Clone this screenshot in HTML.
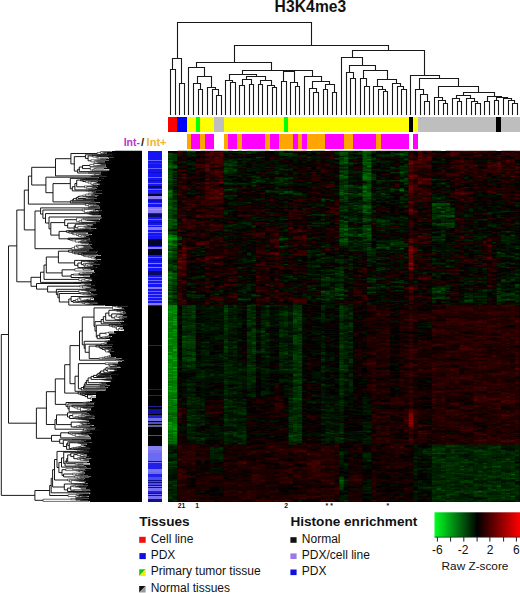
<!DOCTYPE html><html><head><meta charset="utf-8"><style>html,body{margin:0;padding:0;background:#fff;width:520px;height:593px;overflow:hidden}svg{display:block}text{font-family:"Liberation Sans",sans-serif}</style></head><body>
<svg width="520" height="593" viewBox="0 0 520 593">
<rect width="520" height="593" fill="#fff"/>
<text x="310.5" y="11.9" font-size="15.6" font-weight="bold" text-anchor="middle" letter-spacing="0.1" fill="#111">H3K4me3</text>
<path d="M170.5 114.5L170.5 69.5M175.5 114.5L175.5 69.5M170.5 69.5L175.5 69.5M179.5 114.5L179.5 83.5M184.5 114.5L184.5 83.5M179.5 83.5L184.5 83.5M172.5 69.5L172.5 58.5M181.5 83.5L181.5 58.5M172.5 58.5L181.5 58.5M198.5 114.5L198.5 89.5M202.5 114.5L202.5 89.5M198.5 89.5L202.5 89.5M193.5 114.5L193.5 83.5M200.5 89.5L200.5 83.5M193.5 83.5L200.5 83.5M216.5 114.5L216.5 95.5M221.5 114.5L221.5 95.5M216.5 95.5L221.5 95.5M212.5 114.5L212.5 89.5M218.5 95.5L218.5 89.5M212.5 89.5L218.5 89.5M207.5 114.5L207.5 87.5M215.5 89.5L215.5 87.5M207.5 87.5L215.5 87.5M197.5 83.5L197.5 76.5M211.5 87.5L211.5 76.5M197.5 76.5L211.5 76.5M188.5 114.5L188.5 67.5M204.5 76.5L204.5 67.5M188.5 67.5L204.5 67.5M230.5 114.5L230.5 82.5M235.5 114.5L235.5 82.5M230.5 82.5L235.5 82.5M225.5 114.5L225.5 80.5M232.5 82.5L232.5 80.5M225.5 80.5L232.5 80.5M239.5 114.5L239.5 85.5M244.5 114.5L244.5 85.5M239.5 85.5L244.5 85.5M249.5 114.5L249.5 84.5M253.5 114.5L253.5 84.5M249.5 84.5L253.5 84.5M242.5 85.5L242.5 79.5M251.5 84.5L251.5 79.5M242.5 79.5L251.5 79.5M258.5 114.5L258.5 84.5M262.5 114.5L262.5 84.5M258.5 84.5L262.5 84.5M272.5 114.5L272.5 87.5M276.5 114.5L276.5 87.5M272.5 87.5L276.5 87.5M267.5 114.5L267.5 85.5M274.5 87.5L274.5 85.5M267.5 85.5L274.5 85.5M260.5 84.5L260.5 80.5M271.5 85.5L271.5 80.5M260.5 80.5L271.5 80.5M246.5 79.5L246.5 76.5M265.5 80.5L265.5 76.5M246.5 76.5L265.5 76.5M229.5 80.5L229.5 74.5M256.5 76.5L256.5 74.5M229.5 74.5L256.5 74.5M281.5 114.5L281.5 81.5M286.5 114.5L286.5 81.5M281.5 81.5L286.5 81.5M295.5 114.5L295.5 86.5M299.5 114.5L299.5 86.5M295.5 86.5L299.5 86.5M290.5 114.5L290.5 82.5M297.5 86.5L297.5 82.5M290.5 82.5L297.5 82.5M283.5 81.5L283.5 71.5M294.5 82.5L294.5 71.5M283.5 71.5L294.5 71.5M313.5 114.5L313.5 92.5M318.5 114.5L318.5 92.5M313.5 92.5L318.5 92.5M309.5 114.5L309.5 88.5M316.5 92.5L316.5 88.5M309.5 88.5L316.5 88.5M323.5 114.5L323.5 89.5M327.5 114.5L327.5 89.5M323.5 89.5L327.5 89.5M332.5 114.5L332.5 92.5M336.5 114.5L336.5 92.5M332.5 92.5L336.5 92.5M325.5 89.5L325.5 84.5M334.5 92.5L334.5 84.5M325.5 84.5L334.5 84.5M312.5 88.5L312.5 81.5M329.5 84.5L329.5 81.5M312.5 81.5L329.5 81.5M304.5 114.5L304.5 76.5M321.5 81.5L321.5 76.5M304.5 76.5L321.5 76.5M288.5 71.5L288.5 70.5M312.5 76.5L312.5 70.5M288.5 70.5L312.5 70.5M242.5 74.5L242.5 70.5M300.5 70.5L300.5 70.5M242.5 70.5L300.5 70.5M196.5 67.5L196.5 62.5M271.5 70.5L271.5 62.5M196.5 62.5L271.5 62.5M350.5 114.5L350.5 78.5M355.5 114.5L355.5 78.5M350.5 78.5L355.5 78.5M346.5 114.5L346.5 72.5M353.5 78.5L353.5 72.5M346.5 72.5L353.5 72.5M364.5 114.5L364.5 86.5M369.5 114.5L369.5 86.5M364.5 86.5L369.5 86.5M360.5 114.5L360.5 78.5M366.5 86.5L366.5 78.5M360.5 78.5L366.5 78.5M383.5 114.5L383.5 91.5M387.5 114.5L387.5 91.5M383.5 91.5L387.5 91.5M378.5 114.5L378.5 89.5M385.5 91.5L385.5 89.5M378.5 89.5L385.5 89.5M373.5 114.5L373.5 86.5M382.5 89.5L382.5 86.5M373.5 86.5L382.5 86.5M401.5 114.5L401.5 89.5M406.5 114.5L406.5 89.5M401.5 89.5L406.5 89.5M397.5 114.5L397.5 86.5M403.5 89.5L403.5 86.5M397.5 86.5L403.5 86.5M392.5 114.5L392.5 83.5M400.5 86.5L400.5 83.5M392.5 83.5L400.5 83.5M377.5 86.5L377.5 79.5M396.5 83.5L396.5 79.5M377.5 79.5L396.5 79.5M363.5 78.5L363.5 70.5M387.5 79.5L387.5 70.5M363.5 70.5L387.5 70.5M349.5 72.5L349.5 65.5M375.5 70.5L375.5 65.5M349.5 65.5L375.5 65.5M341.5 114.5L341.5 57.5M362.5 65.5L362.5 57.5M341.5 57.5L362.5 57.5M424.5 114.5L424.5 101.5M429.5 114.5L429.5 101.5M424.5 101.5L429.5 101.5M420.5 114.5L420.5 94.5M427.5 101.5L427.5 94.5M420.5 94.5L427.5 94.5M415.5 114.5L415.5 89.5M423.5 94.5L423.5 89.5M415.5 89.5L423.5 89.5M443.5 114.5L443.5 103.5M447.5 114.5L447.5 103.5M443.5 103.5L447.5 103.5M438.5 114.5L438.5 100.5M445.5 103.5L445.5 100.5M438.5 100.5L445.5 100.5M434.5 114.5L434.5 97.5M442.5 100.5L442.5 97.5M434.5 97.5L442.5 97.5M457.5 114.5L457.5 101.5M461.5 114.5L461.5 101.5M457.5 101.5L461.5 101.5M452.5 114.5L452.5 98.5M459.5 101.5L459.5 98.5M452.5 98.5L459.5 98.5M475.5 114.5L475.5 103.5M480.5 114.5L480.5 103.5M475.5 103.5L480.5 103.5M471.5 114.5L471.5 101.5M477.5 103.5L477.5 101.5M471.5 101.5L477.5 101.5M466.5 114.5L466.5 98.5M474.5 101.5L474.5 98.5M466.5 98.5L474.5 98.5M456.5 98.5L456.5 95.5M470.5 98.5L470.5 95.5M456.5 95.5L470.5 95.5M484.5 114.5L484.5 101.5M489.5 114.5L489.5 101.5M484.5 101.5L489.5 101.5M494.5 114.5L494.5 100.5M498.5 114.5L498.5 100.5M494.5 100.5L498.5 100.5M512.5 114.5L512.5 103.5M517.5 114.5L517.5 103.5M512.5 103.5L517.5 103.5M508.5 114.5L508.5 100.5M514.5 103.5L514.5 100.5M508.5 100.5L514.5 100.5M503.5 114.5L503.5 98.5M511.5 100.5L511.5 98.5M503.5 98.5L511.5 98.5M496.5 100.5L496.5 97.5M507.5 98.5L507.5 97.5M496.5 97.5L507.5 97.5M487.5 101.5L487.5 96.5M501.5 97.5L501.5 96.5M487.5 96.5L501.5 96.5M463.5 95.5L463.5 92.5M494.5 96.5L494.5 92.5M463.5 92.5L494.5 92.5M438.5 97.5L438.5 86.5M478.5 92.5L478.5 86.5M438.5 86.5L478.5 86.5M419.5 89.5L419.5 78.5M458.5 86.5L458.5 78.5M419.5 78.5L458.5 78.5M410.5 114.5L410.5 75.5M439.5 78.5L439.5 75.5M410.5 75.5L439.5 75.5M352.5 57.5L352.5 50.5M424.5 75.5L424.5 50.5M352.5 50.5L424.5 50.5M234.5 62.5L234.5 45.5M388.5 50.5L388.5 45.5M234.5 45.5L388.5 45.5M177.5 58.5L177.5 22.5M311.5 45.5L311.5 22.5M177.5 22.5L311.5 22.5" stroke="#181818" stroke-width="1.1" fill="none" stroke-linecap="square"/>
<g shape-rendering="crispEdges"><rect x="168.10" y="116.9" width="9.25" height="15.0" fill="#ff0000"/><rect x="177.35" y="116.9" width="9.25" height="15.0" fill="#0000ff"/><rect x="186.60" y="116.9" width="9.25" height="15.0" fill="#ffff00"/><rect x="195.85" y="116.9" width="4.62" height="15.0" fill="#00ff00"/><rect x="200.47" y="116.9" width="13.88" height="15.0" fill="#ffff00"/><rect x="214.35" y="116.9" width="9.25" height="15.0" fill="#bebebe"/><rect x="223.60" y="116.9" width="60.13" height="15.0" fill="#ffff00"/><rect x="283.73" y="116.9" width="4.62" height="15.0" fill="#00ff00"/><rect x="288.35" y="116.9" width="120.25" height="15.0" fill="#ffff00"/><rect x="408.60" y="116.9" width="4.62" height="15.0" fill="#000000"/><rect x="413.23" y="116.9" width="4.62" height="15.0" fill="#ffff00"/><rect x="417.85" y="116.9" width="78.62" height="15.0" fill="#bebebe"/><rect x="496.48" y="116.9" width="4.62" height="15.0" fill="#000000"/><rect x="501.10" y="116.9" width="18.90" height="15.0" fill="#bebebe"/><rect x="186.60" y="133.6" width="4.62" height="15.3" fill="#ffa500"/><rect x="191.22" y="133.6" width="9.25" height="15.3" fill="#ff00ff"/><rect x="200.47" y="133.6" width="4.62" height="15.3" fill="#ffa500"/><rect x="205.10" y="133.6" width="9.25" height="15.3" fill="#ff00ff"/><rect x="223.60" y="133.6" width="4.62" height="15.3" fill="#ffa500"/><rect x="228.22" y="133.6" width="9.25" height="15.3" fill="#ff00ff"/><rect x="237.47" y="133.6" width="4.62" height="15.3" fill="#ffa500"/><rect x="242.10" y="133.6" width="23.13" height="15.3" fill="#ff00ff"/><rect x="265.23" y="133.6" width="4.62" height="15.3" fill="#ffa500"/><rect x="269.85" y="133.6" width="9.25" height="15.3" fill="#ff00ff"/><rect x="279.10" y="133.6" width="13.88" height="15.3" fill="#ffa500"/><rect x="292.98" y="133.6" width="4.62" height="15.3" fill="#ff00ff"/><rect x="297.60" y="133.6" width="4.62" height="15.3" fill="#ffa500"/><rect x="302.23" y="133.6" width="4.62" height="15.3" fill="#ff00ff"/><rect x="306.85" y="133.6" width="18.50" height="15.3" fill="#ffa500"/><rect x="325.35" y="133.6" width="18.50" height="15.3" fill="#ff00ff"/><rect x="343.85" y="133.6" width="9.25" height="15.3" fill="#ffa500"/><rect x="353.10" y="133.6" width="23.12" height="15.3" fill="#ff00ff"/><rect x="376.23" y="133.6" width="4.62" height="15.3" fill="#ffa500"/><rect x="380.85" y="133.6" width="27.75" height="15.3" fill="#ff00ff"/><rect x="413.23" y="133.6" width="4.62" height="15.3" fill="#ff00ff"/></g>
<g font-size="11.5" font-weight="bold"><text x="123.7" y="145.9" fill="#b834c8" textLength="16.2" lengthAdjust="spacingAndGlyphs">Int-</text><text x="141.0" y="145.9" fill="#262626">/</text><text x="146.6" y="145.9" fill="#eeb43a" textLength="19.9" lengthAdjust="spacingAndGlyphs">Int+</text></g>
<g><g shape-rendering="crispEdges"><rect x="104.0" y="152.37" width="5.9" height="0.40" fill="#808080"/><rect x="104.9" y="153.97" width="9.0" height="0.40" fill="#808080"/><rect x="103.4" y="154.50" width="10.9" height="0.40" fill="#969696"/><rect x="92.3" y="155.36" width="16.8" height="0.40" fill="#808080"/><rect x="96.7" y="156.29" width="10.4" height="0.40" fill="#808080"/><rect x="108.2" y="156.65" width="6.0" height="0.91" fill="#6a6a6a"/><rect x="98.9" y="160.59" width="10.1" height="0.60" fill="#969696"/><rect x="97.6" y="161.49" width="7.3" height="1.10" fill="#969696"/><rect x="103.2" y="163.61" width="7.6" height="0.40" fill="#808080"/><rect x="100.6" y="163.78" width="5.4" height="0.84" fill="#6a6a6a"/><rect x="97.0" y="164.92" width="8.7" height="1.04" fill="#969696"/><rect x="94.9" y="166.98" width="14.7" height="0.40" fill="#acacac"/><rect x="96.2" y="167.50" width="10.7" height="0.84" fill="#6a6a6a"/><rect x="99.9" y="168.64" width="4.1" height="0.60" fill="#6a6a6a"/><rect x="94.4" y="170.99" width="14.0" height="0.40" fill="#6a6a6a"/><rect x="100.7" y="171.16" width="6.1" height="0.87" fill="#808080"/><rect x="88.1" y="172.34" width="12.4" height="1.28" fill="#acacac"/><rect x="97.7" y="173.92" width="9.6" height="0.40" fill="#808080"/><rect x="94.7" y="175.95" width="11.3" height="0.40" fill="#6a6a6a"/><rect x="98.7" y="176.04" width="3.6" height="0.40" fill="#808080"/><rect x="90.6" y="176.14" width="15.9" height="0.40" fill="#6a6a6a"/><rect x="84.6" y="177.95" width="19.1" height="0.97" fill="#6a6a6a"/><rect x="96.6" y="180.45" width="3.9" height="0.59" fill="#6a6a6a"/><rect x="98.7" y="183.37" width="5.0" height="0.40" fill="#6a6a6a"/><rect x="100.2" y="183.60" width="0.1" height="0.79" fill="#969696"/><rect x="94.2" y="184.82" width="3.0" height="0.40" fill="#808080"/><rect x="93.2" y="185.29" width="3.6" height="0.40" fill="#808080"/><rect x="87.2" y="186.17" width="10.4" height="1.01" fill="#808080"/><rect x="93.1" y="187.49" width="2.7" height="0.40" fill="#969696"/><rect x="94.9" y="189.14" width="4.5" height="0.40" fill="#808080"/><rect x="89.0" y="190.46" width="13.1" height="0.40" fill="#808080"/><rect x="89.0" y="190.90" width="14.2" height="0.40" fill="#6a6a6a"/><rect x="92.4" y="191.26" width="3.2" height="0.40" fill="#acacac"/><rect x="95.3" y="191.58" width="4.9" height="0.57" fill="#969696"/><rect x="94.2" y="192.45" width="2.2" height="0.42" fill="#6a6a6a"/><rect x="93.2" y="193.17" width="8.5" height="0.40" fill="#808080"/><rect x="91.9" y="193.74" width="3.3" height="0.83" fill="#6a6a6a"/><rect x="97.9" y="194.97" width="1.2" height="0.76" fill="#6a6a6a"/><rect x="94.7" y="196.03" width="2.9" height="0.40" fill="#6a6a6a"/><rect x="86.2" y="196.13" width="8.5" height="0.40" fill="#acacac"/><rect x="88.4" y="197.17" width="5.6" height="0.53" fill="#acacac"/><rect x="92.0" y="198.01" width="8.8" height="0.40" fill="#969696"/><rect x="86.3" y="199.09" width="10.7" height="0.40" fill="#969696"/><rect x="83.4" y="199.47" width="10.8" height="0.76" fill="#6a6a6a"/><rect x="90.2" y="200.53" width="4.1" height="0.40" fill="#6a6a6a"/><rect x="91.2" y="200.66" width="3.3" height="0.40" fill="#6a6a6a"/><rect x="91.2" y="201.18" width="7.7" height="0.40" fill="#acacac"/><rect x="88.0" y="201.62" width="7.5" height="0.62" fill="#6a6a6a"/><rect x="91.6" y="202.54" width="8.2" height="0.40" fill="#808080"/><rect x="84.8" y="203.51" width="11.4" height="0.40" fill="#6a6a6a"/><rect x="86.1" y="203.79" width="8.6" height="0.40" fill="#808080"/><rect x="96.4" y="204.32" width="3.0" height="0.40" fill="#acacac"/><rect x="90.6" y="206.01" width="9.4" height="0.78" fill="#969696"/><rect x="88.0" y="207.15" width="11.8" height="1.40" fill="#acacac"/><rect x="98.4" y="209.96" width="3.4" height="1.31" fill="#808080"/><rect x="98.4" y="211.57" width="0.1" height="0.40" fill="#6a6a6a"/><rect x="92.0" y="212.09" width="10.8" height="0.40" fill="#969696"/><rect x="90.7" y="212.21" width="6.2" height="0.40" fill="#6a6a6a"/><rect x="87.3" y="212.74" width="9.6" height="0.41" fill="#acacac"/><rect x="95.5" y="213.54" width="6.3" height="0.40" fill="#6a6a6a"/><rect x="89.7" y="213.79" width="11.7" height="0.40" fill="#6a6a6a"/><rect x="93.1" y="214.35" width="7.7" height="0.40" fill="#6a6a6a"/><rect x="92.8" y="214.51" width="5.5" height="0.40" fill="#acacac"/><rect x="90.3" y="217.80" width="11.9" height="0.40" fill="#808080"/><rect x="88.3" y="218.06" width="13.8" height="0.40" fill="#acacac"/><rect x="87.1" y="220.15" width="11.9" height="0.40" fill="#969696"/><rect x="90.4" y="220.27" width="10.8" height="0.40" fill="#6a6a6a"/><rect x="92.7" y="220.39" width="2.6" height="0.40" fill="#6a6a6a"/><rect x="93.8" y="220.64" width="3.0" height="0.40" fill="#808080"/><rect x="95.8" y="220.87" width="0.1" height="0.40" fill="#808080"/><rect x="95.8" y="221.13" width="4.4" height="0.88" fill="#808080"/><rect x="82.2" y="222.31" width="13.3" height="0.40" fill="#969696"/><rect x="81.9" y="222.88" width="14.2" height="0.59" fill="#acacac"/><rect x="85.8" y="223.77" width="10.8" height="0.40" fill="#808080"/><rect x="87.5" y="223.87" width="4.7" height="0.40" fill="#6a6a6a"/><rect x="92.8" y="225.25" width="0.6" height="0.54" fill="#acacac"/><rect x="89.3" y="226.09" width="3.6" height="0.40" fill="#acacac"/><rect x="87.4" y="226.17" width="6.8" height="0.40" fill="#969696"/><rect x="87.5" y="226.26" width="3.6" height="1.03" fill="#6a6a6a"/><rect x="85.5" y="227.59" width="5.3" height="0.40" fill="#808080"/><rect x="87.0" y="228.57" width="9.6" height="0.58" fill="#6a6a6a"/><rect x="84.3" y="229.44" width="6.7" height="0.40" fill="#969696"/><rect x="80.9" y="229.72" width="6.9" height="0.40" fill="#6a6a6a"/><rect x="75.7" y="229.88" width="14.0" height="0.40" fill="#808080"/><rect x="73.9" y="230.31" width="19.1" height="0.71" fill="#6a6a6a"/><rect x="85.9" y="231.32" width="6.3" height="0.40" fill="#808080"/><rect x="72.4" y="231.85" width="15.5" height="0.47" fill="#6a6a6a"/><rect x="77.1" y="232.62" width="11.2" height="0.74" fill="#808080"/><rect x="77.0" y="233.66" width="9.0" height="0.58" fill="#969696"/><rect x="84.5" y="234.74" width="4.5" height="0.85" fill="#969696"/><rect x="84.5" y="237.38" width="4.6" height="0.42" fill="#6a6a6a"/><rect x="75.5" y="238.10" width="14.2" height="0.40" fill="#969696"/><rect x="72.8" y="239.09" width="16.5" height="0.40" fill="#808080"/><rect x="87.1" y="240.37" width="2.9" height="0.47" fill="#6a6a6a"/><rect x="87.1" y="241.14" width="4.1" height="0.49" fill="#808080"/><rect x="85.3" y="241.93" width="3.5" height="0.40" fill="#6a6a6a"/><rect x="81.6" y="242.09" width="12.5" height="0.40" fill="#969696"/><rect x="82.3" y="242.56" width="5.3" height="0.40" fill="#808080"/><rect x="85.7" y="242.99" width="7.6" height="0.40" fill="#969696"/><rect x="88.4" y="243.65" width="3.4" height="1.00" fill="#969696"/><rect x="82.5" y="244.95" width="4.9" height="0.40" fill="#6a6a6a"/><rect x="83.6" y="245.77" width="7.8" height="0.98" fill="#808080"/><rect x="83.6" y="247.05" width="8.5" height="1.14" fill="#808080"/><rect x="81.0" y="248.62" width="12.4" height="0.40" fill="#acacac"/><rect x="80.9" y="248.91" width="7.8" height="0.64" fill="#acacac"/><rect x="76.6" y="249.85" width="16.3" height="0.40" fill="#6a6a6a"/><rect x="86.5" y="250.64" width="11.4" height="0.96" fill="#6a6a6a"/><rect x="82.1" y="251.90" width="14.6" height="0.67" fill="#acacac"/><rect x="80.2" y="252.87" width="15.8" height="0.53" fill="#acacac"/><rect x="83.7" y="253.92" width="14.0" height="0.64" fill="#acacac"/><rect x="88.7" y="255.95" width="5.6" height="0.40" fill="#6a6a6a"/><rect x="91.7" y="256.54" width="4.2" height="0.40" fill="#6a6a6a"/><rect x="94.7" y="256.94" width="0.4" height="1.00" fill="#808080"/><rect x="95.8" y="258.24" width="0.1" height="0.40" fill="#808080"/><rect x="97.0" y="258.38" width="0.1" height="0.89" fill="#808080"/><rect x="97.0" y="259.57" width="3.9" height="0.45" fill="#969696"/><rect x="89.4" y="260.79" width="5.7" height="0.40" fill="#969696"/><rect x="87.8" y="261.29" width="10.5" height="0.40" fill="#969696"/><rect x="90.2" y="261.47" width="9.7" height="0.40" fill="#acacac"/><rect x="97.4" y="261.68" width="4.3" height="0.40" fill="#969696"/><rect x="92.2" y="263.33" width="7.4" height="0.40" fill="#acacac"/><rect x="97.5" y="263.60" width="3.5" height="0.40" fill="#acacac"/><rect x="90.5" y="264.17" width="9.8" height="0.81" fill="#969696"/><rect x="87.7" y="267.02" width="8.7" height="0.40" fill="#808080"/><rect x="79.1" y="267.55" width="17.4" height="0.40" fill="#acacac"/><rect x="89.5" y="268.02" width="7.2" height="0.40" fill="#6a6a6a"/><rect x="90.1" y="268.26" width="6.1" height="0.40" fill="#969696"/><rect x="91.1" y="268.75" width="0.1" height="0.40" fill="#969696"/><rect x="91.1" y="268.99" width="0.1" height="0.68" fill="#969696"/><rect x="84.8" y="269.96" width="7.2" height="0.40" fill="#969696"/><rect x="85.7" y="272.03" width="9.1" height="0.66" fill="#acacac"/><rect x="80.3" y="274.15" width="15.7" height="0.40" fill="#808080"/><rect x="79.0" y="274.45" width="10.8" height="0.40" fill="#969696"/><rect x="91.6" y="274.96" width="6.4" height="0.40" fill="#acacac"/><rect x="72.3" y="277.02" width="18.7" height="0.90" fill="#808080"/><rect x="86.4" y="278.37" width="5.8" height="0.40" fill="#969696"/><rect x="92.1" y="279.05" width="0.1" height="1.96" fill="#6a6a6a"/><rect x="89.4" y="281.31" width="6.3" height="0.40" fill="#6a6a6a"/><rect x="87.4" y="281.49" width="8.1" height="0.40" fill="#969696"/><rect x="84.7" y="281.61" width="6.2" height="0.40" fill="#808080"/><rect x="74.4" y="282.04" width="14.7" height="0.81" fill="#969696"/><rect x="84.6" y="283.55" width="6.2" height="0.40" fill="#acacac"/><rect x="91.2" y="285.47" width="3.8" height="0.40" fill="#969696"/><rect x="87.2" y="285.88" width="4.8" height="0.40" fill="#6a6a6a"/><rect x="89.5" y="286.36" width="4.2" height="0.40" fill="#808080"/><rect x="90.6" y="286.60" width="1.5" height="0.40" fill="#969696"/><rect x="90.6" y="286.83" width="0.2" height="0.90" fill="#acacac"/><rect x="83.0" y="288.03" width="12.8" height="0.40" fill="#6a6a6a"/><rect x="86.0" y="288.11" width="8.3" height="1.00" fill="#6a6a6a"/><rect x="83.2" y="289.71" width="6.7" height="0.40" fill="#969696"/><rect x="92.9" y="289.83" width="4.2" height="0.40" fill="#808080"/><rect x="85.2" y="290.10" width="4.3" height="0.40" fill="#acacac"/><rect x="89.0" y="291.55" width="5.3" height="0.40" fill="#6a6a6a"/><rect x="87.5" y="293.28" width="5.0" height="0.56" fill="#6a6a6a"/><rect x="86.9" y="294.14" width="10.0" height="0.96" fill="#969696"/><rect x="91.0" y="295.40" width="4.3" height="0.51" fill="#6a6a6a"/><rect x="88.3" y="296.38" width="9.7" height="0.40" fill="#acacac"/><rect x="86.5" y="296.56" width="3.7" height="0.40" fill="#808080"/><rect x="83.8" y="296.73" width="12.2" height="0.40" fill="#6a6a6a"/><rect x="93.0" y="297.78" width="0.7" height="0.40" fill="#969696"/><rect x="86.7" y="300.30" width="7.6" height="0.40" fill="#969696"/><rect x="87.0" y="301.42" width="10.1" height="0.40" fill="#6a6a6a"/><rect x="75.9" y="301.56" width="14.5" height="0.40" fill="#808080"/><rect x="87.8" y="302.11" width="9.6" height="0.40" fill="#808080"/><rect x="91.6" y="302.32" width="6.7" height="0.63" fill="#808080"/><rect x="90.0" y="303.25" width="8.5" height="0.68" fill="#acacac"/><rect x="115.8" y="305.65" width="12.3" height="0.40" fill="#969696"/><rect x="118.0" y="306.34" width="10.2" height="0.40" fill="#6a6a6a"/><rect x="123.8" y="307.32" width="0.1" height="1.44" fill="#969696"/><rect x="123.8" y="309.06" width="0.1" height="0.40" fill="#969696"/><rect x="113.5" y="309.12" width="11.8" height="0.56" fill="#6a6a6a"/><rect x="115.1" y="309.98" width="11.0" height="0.40" fill="#808080"/><rect x="116.6" y="310.13" width="10.3" height="0.40" fill="#6a6a6a"/><rect x="118.1" y="310.51" width="3.7" height="0.40" fill="#6a6a6a"/><rect x="123.4" y="311.46" width="1.5" height="0.40" fill="#969696"/><rect x="123.4" y="311.94" width="2.3" height="1.66" fill="#6a6a6a"/><rect x="117.8" y="313.91" width="4.8" height="0.40" fill="#6a6a6a"/><rect x="120.4" y="314.26" width="3.5" height="0.40" fill="#6a6a6a"/><rect x="119.3" y="316.62" width="8.6" height="0.40" fill="#6a6a6a"/><rect x="122.6" y="316.82" width="4.9" height="0.40" fill="#6a6a6a"/><rect x="122.6" y="317.01" width="5.2" height="1.12" fill="#969696"/><rect x="115.3" y="319.43" width="7.0" height="0.44" fill="#969696"/><rect x="117.1" y="320.17" width="10.5" height="0.40" fill="#6a6a6a"/><rect x="119.6" y="320.26" width="4.3" height="0.40" fill="#acacac"/><rect x="122.7" y="320.38" width="0.7" height="0.41" fill="#acacac"/><rect x="115.1" y="322.04" width="4.8" height="0.56" fill="#acacac"/><rect x="121.7" y="324.22" width="4.2" height="0.40" fill="#969696"/><rect x="117.4" y="324.86" width="6.0" height="0.53" fill="#808080"/><rect x="117.0" y="325.99" width="2.9" height="0.78" fill="#6a6a6a"/><rect x="122.0" y="328.73" width="2.3" height="0.40" fill="#6a6a6a"/><rect x="109.0" y="331.63" width="4.6" height="0.73" fill="#6a6a6a"/><rect x="109.0" y="332.66" width="7.1" height="1.06" fill="#acacac"/><rect x="105.9" y="334.02" width="0.9" height="0.40" fill="#acacac"/><rect x="109.2" y="336.55" width="2.3" height="0.40" fill="#6a6a6a"/><rect x="108.1" y="336.83" width="0.1" height="0.40" fill="#969696"/><rect x="109.7" y="339.55" width="0.1" height="1.15" fill="#808080"/><rect x="108.5" y="341.25" width="5.7" height="0.40" fill="#acacac"/><rect x="103.9" y="341.63" width="3.7" height="0.40" fill="#acacac"/><rect x="106.7" y="341.73" width="0.4" height="1.09" fill="#6a6a6a"/><rect x="104.5" y="344.15" width="8.2" height="0.40" fill="#6a6a6a"/><rect x="101.8" y="344.75" width="12.4" height="0.40" fill="#6a6a6a"/><rect x="96.4" y="345.30" width="12.4" height="0.40" fill="#acacac"/><rect x="105.1" y="348.35" width="7.9" height="0.40" fill="#808080"/><rect x="107.4" y="348.78" width="5.8" height="0.40" fill="#6a6a6a"/><rect x="109.1" y="349.38" width="2.1" height="1.77" fill="#6a6a6a"/><rect x="108.4" y="351.44" width="5.6" height="0.40" fill="#969696"/><rect x="110.0" y="354.05" width="0.9" height="2.43" fill="#acacac"/><rect x="110.0" y="356.79" width="2.3" height="0.40" fill="#808080"/><rect x="105.0" y="357.81" width="9.4" height="0.40" fill="#808080"/><rect x="119.1" y="360.01" width="2.5" height="0.40" fill="#969696"/><rect x="121.9" y="360.66" width="0.1" height="0.97" fill="#acacac"/><rect x="115.5" y="363.68" width="4.8" height="0.40" fill="#969696"/><rect x="112.7" y="364.18" width="2.3" height="0.40" fill="#acacac"/><rect x="113.9" y="364.33" width="6.7" height="0.40" fill="#acacac"/><rect x="117.0" y="364.57" width="5.0" height="0.40" fill="#6a6a6a"/><rect x="116.6" y="366.01" width="0.1" height="0.40" fill="#6a6a6a"/><rect x="110.5" y="366.11" width="10.1" height="0.40" fill="#969696"/><rect x="110.5" y="366.32" width="9.3" height="0.43" fill="#969696"/><rect x="107.8" y="368.35" width="9.5" height="0.40" fill="#acacac"/><rect x="111.8" y="368.84" width="5.2" height="0.40" fill="#acacac"/><rect x="114.2" y="369.19" width="5.3" height="0.40" fill="#969696"/><rect x="115.2" y="369.79" width="1.7" height="1.38" fill="#6a6a6a"/><rect x="109.5" y="371.46" width="4.7" height="0.40" fill="#969696"/><rect x="109.5" y="372.13" width="2.2" height="0.45" fill="#6a6a6a"/><rect x="111.7" y="372.88" width="4.4" height="0.40" fill="#6a6a6a"/><rect x="102.1" y="374.29" width="16.6" height="0.40" fill="#808080"/><rect x="105.3" y="374.79" width="5.4" height="1.14" fill="#969696"/><rect x="105.0" y="377.02" width="7.8" height="0.40" fill="#808080"/><rect x="106.5" y="377.61" width="5.5" height="1.36" fill="#acacac"/><rect x="99.0" y="379.28" width="14.3" height="0.40" fill="#acacac"/><rect x="105.7" y="379.62" width="4.9" height="0.40" fill="#808080"/><rect x="104.8" y="379.71" width="9.4" height="0.40" fill="#acacac"/><rect x="110.8" y="380.33" width="3.4" height="0.40" fill="#acacac"/><rect x="110.8" y="380.46" width="0.1" height="1.61" fill="#808080"/><rect x="100.0" y="382.37" width="5.9" height="0.40" fill="#969696"/><rect x="102.1" y="382.96" width="3.9" height="1.11" fill="#acacac"/><rect x="99.9" y="384.37" width="6.6" height="0.40" fill="#808080"/><rect x="99.9" y="384.42" width="9.8" height="1.15" fill="#969696"/><rect x="99.1" y="385.87" width="8.2" height="0.40" fill="#6a6a6a"/><rect x="100.9" y="386.73" width="5.6" height="0.40" fill="#969696"/><rect x="101.2" y="388.50" width="5.2" height="0.40" fill="#acacac"/><rect x="85.1" y="390.71" width="13.0" height="1.14" fill="#808080"/><rect x="86.0" y="392.15" width="12.9" height="0.40" fill="#808080"/><rect x="81.0" y="392.51" width="14.8" height="1.27" fill="#969696"/><rect x="82.8" y="394.08" width="13.3" height="0.40" fill="#808080"/><rect x="85.5" y="394.35" width="8.7" height="0.40" fill="#6a6a6a"/><rect x="88.0" y="394.61" width="4.7" height="0.64" fill="#acacac"/><rect x="88.8" y="402.40" width="7.1" height="0.40" fill="#969696"/><rect x="87.3" y="404.04" width="1.4" height="0.40" fill="#808080"/><rect x="87.3" y="404.27" width="7.2" height="0.40" fill="#808080"/><rect x="86.0" y="404.41" width="7.9" height="0.74" fill="#969696"/><rect x="86.0" y="405.45" width="6.4" height="0.40" fill="#6a6a6a"/><rect x="84.8" y="405.63" width="3.6" height="0.40" fill="#acacac"/><rect x="89.1" y="406.37" width="4.8" height="0.40" fill="#acacac"/><rect x="82.8" y="407.20" width="10.3" height="0.40" fill="#969696"/><rect x="83.8" y="407.95" width="7.4" height="0.71" fill="#acacac"/><rect x="91.1" y="409.23" width="0.1" height="1.07" fill="#6a6a6a"/><rect x="91.1" y="410.61" width="0.1" height="0.40" fill="#808080"/><rect x="87.6" y="410.91" width="3.6" height="0.40" fill="#808080"/><rect x="90.8" y="411.26" width="4.0" height="0.40" fill="#969696"/><rect x="82.8" y="411.36" width="12.7" height="0.40" fill="#808080"/><rect x="72.9" y="411.51" width="14.8" height="0.40" fill="#969696"/><rect x="80.4" y="413.84" width="15.3" height="0.40" fill="#acacac"/><rect x="86.1" y="414.02" width="5.8" height="0.40" fill="#6a6a6a"/><rect x="85.2" y="414.35" width="4.6" height="0.67" fill="#808080"/><rect x="91.2" y="415.32" width="3.8" height="0.40" fill="#6a6a6a"/><rect x="90.4" y="415.53" width="4.1" height="0.70" fill="#6a6a6a"/><rect x="89.0" y="416.54" width="5.9" height="0.40" fill="#6a6a6a"/><rect x="86.4" y="416.67" width="6.8" height="0.40" fill="#808080"/><rect x="81.8" y="416.85" width="10.3" height="0.40" fill="#969696"/><rect x="84.9" y="417.33" width="8.9" height="0.40" fill="#6a6a6a"/><rect x="82.1" y="417.84" width="7.5" height="0.40" fill="#6a6a6a"/><rect x="75.8" y="417.97" width="13.3" height="0.40" fill="#6a6a6a"/><rect x="76.8" y="418.58" width="17.8" height="0.40" fill="#6a6a6a"/><rect x="82.6" y="419.37" width="5.0" height="0.40" fill="#808080"/><rect x="87.3" y="419.78" width="2.6" height="0.40" fill="#6a6a6a"/><rect x="87.3" y="419.94" width="1.3" height="1.38" fill="#808080"/><rect x="84.3" y="422.51" width="3.1" height="0.40" fill="#acacac"/><rect x="89.1" y="422.66" width="1.7" height="0.40" fill="#6a6a6a"/><rect x="90.2" y="422.86" width="0.1" height="0.40" fill="#969696"/><rect x="83.1" y="424.54" width="4.3" height="0.40" fill="#acacac"/><rect x="83.1" y="424.70" width="11.0" height="0.72" fill="#808080"/><rect x="90.6" y="427.24" width="5.9" height="0.40" fill="#969696"/><rect x="87.0" y="427.82" width="8.5" height="0.40" fill="#969696"/><rect x="89.3" y="428.12" width="2.0" height="0.40" fill="#808080"/><rect x="89.3" y="428.44" width="5.7" height="1.03" fill="#969696"/><rect x="93.4" y="429.77" width="3.5" height="0.40" fill="#acacac"/><rect x="89.6" y="430.07" width="11.2" height="0.40" fill="#808080"/><rect x="85.1" y="430.15" width="13.2" height="0.40" fill="#969696"/><rect x="86.9" y="430.40" width="3.1" height="1.35" fill="#808080"/><rect x="86.9" y="432.05" width="3.2" height="0.40" fill="#6a6a6a"/><rect x="81.2" y="432.45" width="4.8" height="0.40" fill="#969696"/><rect x="84.1" y="432.83" width="5.4" height="0.40" fill="#acacac"/><rect x="80.6" y="433.50" width="12.1" height="0.40" fill="#808080"/><rect x="78.8" y="433.74" width="8.1" height="0.40" fill="#808080"/><rect x="82.0" y="433.93" width="10.5" height="0.40" fill="#6a6a6a"/><rect x="83.2" y="434.08" width="6.8" height="0.40" fill="#acacac"/><rect x="84.9" y="436.56" width="5.1" height="0.58" fill="#969696"/><rect x="71.5" y="438.74" width="19.3" height="0.87" fill="#808080"/><rect x="79.4" y="439.91" width="5.6" height="0.40" fill="#969696"/><rect x="82.9" y="440.15" width="7.5" height="0.40" fill="#acacac"/><rect x="81.8" y="440.31" width="3.7" height="0.96" fill="#808080"/><rect x="70.2" y="441.57" width="13.8" height="0.45" fill="#969696"/><rect x="78.3" y="442.83" width="11.4" height="0.40" fill="#969696"/><rect x="88.0" y="443.14" width="3.9" height="0.40" fill="#acacac"/><rect x="81.1" y="443.43" width="5.4" height="1.14" fill="#969696"/><rect x="83.5" y="444.87" width="0.8" height="0.67" fill="#969696"/><rect x="86.0" y="445.99" width="0.1" height="1.05" fill="#acacac"/><rect x="81.4" y="447.35" width="7.6" height="0.40" fill="#6a6a6a"/><rect x="79.2" y="447.52" width="11.3" height="0.40" fill="#808080"/><rect x="76.5" y="447.90" width="8.8" height="0.40" fill="#6a6a6a"/><rect x="77.8" y="448.18" width="11.9" height="0.48" fill="#969696"/><rect x="71.9" y="448.96" width="18.6" height="0.40" fill="#969696"/><rect x="74.2" y="449.31" width="15.1" height="0.40" fill="#6a6a6a"/><rect x="84.8" y="449.65" width="4.6" height="0.63" fill="#808080"/><rect x="81.2" y="450.77" width="9.4" height="0.51" fill="#969696"/><rect x="81.1" y="451.58" width="7.9" height="0.40" fill="#808080"/><rect x="85.8" y="451.76" width="6.1" height="0.40" fill="#969696"/><rect x="74.7" y="451.89" width="14.7" height="0.71" fill="#808080"/><rect x="77.7" y="453.58" width="6.4" height="0.40" fill="#6a6a6a"/><rect x="84.5" y="454.18" width="2.7" height="0.40" fill="#acacac"/><rect x="87.3" y="456.29" width="3.8" height="0.40" fill="#808080"/><rect x="81.2" y="456.51" width="7.3" height="0.40" fill="#acacac"/><rect x="83.3" y="457.93" width="0.7" height="0.40" fill="#acacac"/><rect x="79.4" y="458.61" width="12.5" height="0.40" fill="#808080"/><rect x="83.6" y="458.78" width="2.1" height="0.40" fill="#acacac"/><rect x="86.3" y="459.00" width="0.1" height="0.40" fill="#969696"/><rect x="78.2" y="463.58" width="11.5" height="0.80" fill="#acacac"/><rect x="78.4" y="466.63" width="7.2" height="0.40" fill="#808080"/><rect x="82.7" y="467.64" width="4.0" height="0.40" fill="#808080"/><rect x="80.4" y="467.70" width="11.0" height="1.14" fill="#acacac"/><rect x="78.8" y="470.50" width="11.7" height="0.40" fill="#969696"/><rect x="80.1" y="470.82" width="2.9" height="0.40" fill="#6a6a6a"/><rect x="82.9" y="470.98" width="1.1" height="1.20" fill="#acacac"/><rect x="79.0" y="473.95" width="5.7" height="0.40" fill="#969696"/><rect x="84.5" y="474.16" width="6.0" height="0.40" fill="#969696"/><rect x="81.4" y="474.35" width="2.1" height="0.89" fill="#969696"/><rect x="82.6" y="475.54" width="5.3" height="0.40" fill="#969696"/><rect x="84.7" y="476.69" width="5.4" height="0.60" fill="#808080"/><rect x="81.5" y="477.75" width="3.6" height="0.61" fill="#808080"/><rect x="84.8" y="481.65" width="0.1" height="1.36" fill="#acacac"/><rect x="80.9" y="484.59" width="2.1" height="0.49" fill="#969696"/><rect x="82.6" y="485.38" width="5.4" height="0.57" fill="#808080"/><rect x="77.4" y="486.59" width="9.3" height="0.40" fill="#acacac"/><rect x="76.1" y="486.67" width="8.5" height="0.40" fill="#969696"/><rect x="81.4" y="487.35" width="4.8" height="1.29" fill="#969696"/><rect x="81.3" y="488.93" width="8.9" height="1.24" fill="#acacac"/><rect x="81.9" y="490.47" width="8.6" height="0.70" fill="#969696"/><rect x="68.1" y="491.47" width="17.5" height="0.40" fill="#6a6a6a"/><rect x="73.2" y="492.07" width="17.8" height="1.39" fill="#acacac"/><rect x="85.1" y="493.76" width="4.0" height="0.40" fill="#969696"/><rect x="79.8" y="494.03" width="2.8" height="0.97" fill="#6a6a6a"/><rect x="79.8" y="495.30" width="10.9" height="0.40" fill="#acacac"/><rect x="78.5" y="495.41" width="10.9" height="0.40" fill="#6a6a6a"/><rect x="81.8" y="497.32" width="1.8" height="0.40" fill="#969696"/><rect x="76.2" y="497.43" width="10.5" height="0.40" fill="#969696"/><rect x="75.8" y="497.65" width="13.0" height="1.16" fill="#808080"/><rect x="75.8" y="499.11" width="7.2" height="0.40" fill="#6a6a6a"/><rect x="80.4" y="499.66" width="7.7" height="1.39" fill="#6a6a6a"/></g><polygon points="141.8,150.8 115.0,150.8 113.0,160.0 110.0,168.0 105.0,180.0 101.0,200.0 103.0,215.0 93.0,235.0 94.0,250.0 101.0,252.0 101.0,264.0 97.0,268.0 97.0,300.0 98.0,305.0 128.0,305.6 126.0,330.0 114.0,334.0 114.0,356.0 128.0,360.0 122.0,364.0 116.0,380.0 104.0,392.0 96.0,396.0 94.0,426.0 100.0,430.0 92.0,433.0 90.0,501.6 141.8,501.6" fill="#000"/><g shape-rendering="crispEdges" fill="#000"><rect x="111.7" y="150.80" width="30.1" height="1.42"/><rect x="109.9" y="152.22" width="31.9" height="0.50"/><rect x="106.7" y="152.44" width="35.1" height="1.38"/><rect x="113.9" y="153.82" width="27.9" height="0.50"/><rect x="114.6" y="153.93" width="27.2" height="0.50"/><rect x="114.2" y="154.35" width="27.6" height="0.50"/><rect x="111.8" y="154.48" width="30.0" height="0.73"/><rect x="109.0" y="155.21" width="32.8" height="0.50"/><rect x="114.2" y="155.44" width="27.6" height="0.70"/><rect x="107.1" y="156.14" width="34.7" height="0.50"/><rect x="108.2" y="156.39" width="33.6" height="0.50"/><rect x="114.2" y="156.50" width="27.6" height="1.21"/><rect x="108.5" y="157.71" width="33.3" height="1.58"/><rect x="112.7" y="159.29" width="29.1" height="0.50"/><rect x="105.8" y="159.45" width="36.0" height="0.65"/><rect x="111.1" y="160.09" width="30.7" height="0.50"/><rect x="109.0" y="160.44" width="32.8" height="0.90"/><rect x="104.9" y="161.34" width="36.9" height="1.40"/><rect x="112.5" y="162.74" width="29.3" height="0.50"/><rect x="106.1" y="163.20" width="35.7" height="0.50"/><rect x="109.7" y="163.35" width="32.1" height="0.50"/><rect x="110.7" y="163.46" width="31.1" height="0.50"/><rect x="106.0" y="163.63" width="35.8" height="1.14"/><rect x="105.7" y="164.77" width="36.1" height="1.34"/><rect x="105.8" y="166.11" width="36.0" height="0.73"/><rect x="109.6" y="166.83" width="32.2" height="0.51"/><rect x="106.9" y="167.35" width="34.9" height="1.14"/><rect x="104.0" y="168.49" width="37.8" height="0.90"/><rect x="109.9" y="169.39" width="31.9" height="1.45"/><rect x="108.4" y="170.84" width="33.4" height="0.50"/><rect x="106.9" y="171.01" width="34.9" height="1.17"/><rect x="100.5" y="172.19" width="41.3" height="1.58"/><rect x="107.3" y="173.77" width="34.5" height="0.50"/><rect x="100.9" y="173.93" width="40.9" height="0.92"/><rect x="100.9" y="174.84" width="40.9" height="0.53"/><rect x="101.5" y="175.37" width="40.3" height="0.50"/><rect x="102.2" y="175.47" width="39.6" height="0.50"/><rect x="106.0" y="175.80" width="35.8" height="0.50"/><rect x="102.3" y="175.89" width="39.5" height="0.50"/><rect x="106.6" y="175.99" width="35.2" height="0.55"/><rect x="98.8" y="176.54" width="43.0" height="1.26"/><rect x="103.7" y="177.80" width="38.1" height="1.27"/><rect x="97.8" y="179.07" width="44.0" height="0.69"/><rect x="99.1" y="179.76" width="42.7" height="0.54"/><rect x="100.5" y="180.30" width="41.3" height="0.89"/><rect x="97.5" y="181.19" width="44.3" height="0.50"/><rect x="100.0" y="181.51" width="41.8" height="0.50"/><rect x="97.2" y="181.90" width="44.6" height="1.26"/><rect x="101.4" y="183.16" width="40.4" height="0.50"/><rect x="103.6" y="183.22" width="38.2" height="0.50"/><rect x="100.3" y="183.45" width="41.5" height="1.09"/><rect x="104.6" y="184.54" width="37.2" height="0.50"/><rect x="97.1" y="184.67" width="44.7" height="0.50"/><rect x="96.8" y="185.14" width="45.0" height="0.63"/><rect x="96.3" y="185.77" width="45.5" height="0.50"/><rect x="97.5" y="186.02" width="44.3" height="1.31"/><rect x="95.9" y="187.34" width="45.9" height="0.50"/><rect x="97.2" y="187.43" width="44.6" height="1.57"/><rect x="99.4" y="188.99" width="42.4" height="0.50"/><rect x="96.1" y="189.10" width="45.7" height="0.50"/><rect x="95.2" y="189.41" width="46.6" height="0.90"/><rect x="102.1" y="190.31" width="39.7" height="0.50"/><rect x="103.2" y="190.75" width="38.6" height="0.50"/><rect x="95.6" y="191.11" width="46.2" height="0.50"/><rect x="100.1" y="191.43" width="41.7" height="0.87"/><rect x="96.4" y="192.30" width="45.4" height="0.72"/><rect x="101.7" y="193.02" width="40.1" height="0.57"/><rect x="95.2" y="193.59" width="46.6" height="1.13"/><rect x="98.5" y="194.72" width="43.3" height="0.50"/><rect x="99.1" y="194.82" width="42.7" height="1.06"/><rect x="97.6" y="195.88" width="44.2" height="0.50"/><rect x="94.6" y="195.98" width="47.2" height="0.50"/><rect x="96.9" y="196.21" width="44.9" height="0.64"/><rect x="94.9" y="196.85" width="46.9" height="0.50"/><rect x="94.0" y="197.02" width="47.8" height="0.83"/><rect x="100.8" y="197.86" width="41.0" height="0.50"/><rect x="97.1" y="197.97" width="44.7" height="0.98"/><rect x="97.0" y="198.94" width="44.8" height="0.50"/><rect x="94.1" y="199.32" width="47.7" height="1.06"/><rect x="94.3" y="200.38" width="47.5" height="0.50"/><rect x="94.5" y="200.51" width="47.3" height="0.52"/><rect x="99.0" y="201.03" width="42.8" height="0.50"/><rect x="95.4" y="201.47" width="46.4" height="0.92"/><rect x="99.8" y="202.39" width="42.0" height="0.56"/><rect x="101.4" y="202.95" width="40.4" height="0.50"/><rect x="96.2" y="203.36" width="45.6" height="0.50"/><rect x="94.8" y="203.64" width="47.0" height="0.50"/><rect x="97.0" y="204.03" width="44.8" height="0.50"/><rect x="99.4" y="204.17" width="42.4" height="0.50"/><rect x="99.2" y="204.22" width="42.6" height="1.35"/><rect x="100.0" y="205.57" width="41.8" height="0.50"/><rect x="100.0" y="205.86" width="41.8" height="1.08"/><rect x="96.6" y="206.93" width="45.2" height="0.50"/><rect x="99.8" y="207.00" width="42.0" height="1.70"/><rect x="101.3" y="208.70" width="40.5" height="0.57"/><rect x="95.3" y="209.27" width="46.5" height="0.50"/><rect x="96.5" y="209.58" width="45.3" height="0.50"/><rect x="101.8" y="209.81" width="40.0" height="1.61"/><rect x="98.5" y="211.42" width="43.3" height="0.50"/><rect x="102.3" y="211.69" width="39.5" height="0.50"/><rect x="102.9" y="211.94" width="38.9" height="0.50"/><rect x="96.9" y="212.06" width="44.9" height="0.50"/><rect x="98.8" y="212.20" width="43.0" height="0.50"/><rect x="96.8" y="212.59" width="45.0" height="0.71"/><rect x="99.2" y="213.30" width="42.6" height="0.50"/><rect x="101.8" y="213.39" width="40.0" height="0.50"/><rect x="101.4" y="213.64" width="40.4" height="0.50"/><rect x="94.9" y="213.86" width="46.9" height="0.50"/><rect x="100.7" y="214.20" width="41.1" height="0.50"/><rect x="98.3" y="214.36" width="43.5" height="0.50"/><rect x="101.4" y="214.55" width="40.4" height="1.29"/><rect x="101.1" y="215.84" width="40.7" height="1.45"/><rect x="101.7" y="217.29" width="40.1" height="0.50"/><rect x="102.3" y="217.65" width="39.5" height="0.50"/><rect x="102.1" y="217.91" width="39.7" height="0.68"/><rect x="99.5" y="218.60" width="42.3" height="1.41"/><rect x="99.0" y="220.00" width="42.8" height="0.50"/><rect x="101.2" y="220.12" width="40.6" height="0.50"/><rect x="95.2" y="220.24" width="46.6" height="0.50"/><rect x="96.8" y="220.49" width="45.0" height="0.50"/><rect x="95.9" y="220.72" width="45.9" height="0.50"/><rect x="100.2" y="220.98" width="41.6" height="1.18"/><rect x="95.5" y="222.16" width="46.3" height="0.50"/><rect x="95.3" y="222.52" width="46.5" height="0.50"/><rect x="96.0" y="222.73" width="45.8" height="0.89"/><rect x="96.6" y="223.62" width="45.2" height="0.50"/><rect x="92.2" y="223.72" width="49.6" height="0.50"/><rect x="92.9" y="223.97" width="48.9" height="1.13"/><rect x="93.4" y="225.10" width="48.4" height="0.84"/><rect x="92.9" y="225.94" width="48.9" height="0.50"/><rect x="94.2" y="226.02" width="47.6" height="0.50"/><rect x="91.1" y="226.11" width="50.7" height="1.33"/><rect x="90.8" y="227.44" width="51.0" height="0.50"/><rect x="95.1" y="227.76" width="46.7" height="0.66"/><rect x="96.7" y="228.42" width="45.1" height="0.88"/><rect x="91.0" y="229.29" width="50.8" height="0.50"/><rect x="87.8" y="229.57" width="54.0" height="0.50"/><rect x="89.7" y="229.73" width="52.1" height="0.50"/><rect x="92.9" y="230.16" width="48.9" height="1.01"/><rect x="92.2" y="231.17" width="49.6" height="0.52"/><rect x="87.9" y="231.70" width="53.9" height="0.77"/><rect x="88.3" y="232.47" width="53.5" height="1.04"/><rect x="85.9" y="233.51" width="55.9" height="0.88"/><rect x="91.6" y="234.39" width="50.2" height="0.50"/><rect x="89.0" y="234.59" width="52.8" height="1.15"/><rect x="85.8" y="235.74" width="56.0" height="0.79"/><rect x="92.4" y="236.53" width="49.4" height="0.70"/><rect x="89.1" y="237.23" width="52.7" height="0.72"/><rect x="89.7" y="237.95" width="52.1" height="0.60"/><rect x="87.9" y="238.55" width="53.9" height="0.50"/><rect x="89.2" y="238.94" width="52.6" height="0.50"/><rect x="90.1" y="239.44" width="51.7" height="0.50"/><rect x="94.0" y="239.87" width="47.8" height="0.50"/><rect x="90.1" y="240.22" width="51.7" height="0.77"/><rect x="91.2" y="240.99" width="50.6" height="0.79"/><rect x="88.8" y="241.78" width="53.0" height="0.50"/><rect x="94.1" y="241.94" width="47.7" height="0.50"/><rect x="89.4" y="242.04" width="52.4" height="0.50"/><rect x="87.6" y="242.41" width="54.2" height="0.50"/><rect x="93.3" y="242.84" width="48.5" height="0.50"/><rect x="88.5" y="243.19" width="53.3" height="0.50"/><rect x="91.7" y="243.50" width="50.1" height="1.30"/><rect x="87.4" y="244.80" width="54.4" height="0.57"/><rect x="90.2" y="245.37" width="51.6" height="0.50"/><rect x="89.7" y="245.54" width="52.1" height="0.50"/><rect x="91.3" y="245.62" width="50.5" height="1.28"/><rect x="92.1" y="246.90" width="49.7" height="1.44"/><rect x="93.9" y="248.33" width="47.9" height="0.50"/><rect x="93.4" y="248.47" width="48.4" height="0.50"/><rect x="88.8" y="248.76" width="53.0" height="0.94"/><rect x="93.0" y="249.70" width="48.8" height="0.50"/><rect x="88.8" y="250.00" width="53.0" height="0.50"/><rect x="98.0" y="250.49" width="43.8" height="1.26"/><rect x="96.7" y="251.75" width="45.1" height="0.97"/><rect x="95.9" y="252.72" width="45.9" height="0.83"/><rect x="96.0" y="253.55" width="45.8" height="0.50"/><rect x="97.6" y="253.77" width="44.2" height="0.94"/><rect x="100.9" y="254.71" width="40.9" height="1.09"/><rect x="94.3" y="255.80" width="47.5" height="0.58"/><rect x="95.9" y="256.39" width="45.9" height="0.50"/><rect x="95.1" y="256.79" width="46.7" height="1.30"/><rect x="95.9" y="258.09" width="45.9" height="0.50"/><rect x="97.1" y="258.23" width="44.7" height="1.19"/><rect x="100.9" y="259.42" width="40.9" height="0.75"/><rect x="97.4" y="260.17" width="44.4" height="0.50"/><rect x="95.1" y="260.64" width="46.7" height="0.50"/><rect x="98.2" y="261.14" width="43.6" height="0.50"/><rect x="99.9" y="261.32" width="41.9" height="0.50"/><rect x="101.7" y="261.53" width="40.1" height="0.50"/><rect x="94.2" y="261.85" width="47.6" height="1.33"/><rect x="99.6" y="263.18" width="42.2" height="0.50"/><rect x="96.3" y="263.26" width="45.5" height="0.50"/><rect x="100.9" y="263.45" width="40.9" height="0.58"/><rect x="100.3" y="264.02" width="41.5" height="1.11"/><rect x="93.4" y="265.14" width="48.4" height="0.50"/><rect x="93.2" y="265.30" width="48.6" height="1.41"/><rect x="99.0" y="266.71" width="42.8" height="0.50"/><rect x="94.1" y="266.81" width="47.7" height="0.50"/><rect x="96.3" y="266.87" width="45.5" height="0.53"/><rect x="96.5" y="267.40" width="45.3" height="0.50"/><rect x="96.7" y="267.87" width="45.1" height="0.50"/><rect x="96.2" y="268.11" width="45.6" height="0.50"/><rect x="92.9" y="268.30" width="48.9" height="0.50"/><rect x="91.2" y="268.60" width="50.6" height="0.50"/><rect x="91.2" y="268.84" width="50.6" height="0.98"/><rect x="92.0" y="269.81" width="49.8" height="0.50"/><rect x="93.7" y="270.09" width="48.1" height="1.79"/><rect x="94.8" y="271.88" width="47.0" height="0.96"/><rect x="91.5" y="272.84" width="50.3" height="1.16"/><rect x="96.0" y="274.00" width="45.8" height="0.50"/><rect x="89.8" y="274.30" width="52.0" height="0.51"/><rect x="98.0" y="274.81" width="43.8" height="0.50"/><rect x="97.3" y="274.98" width="44.5" height="0.50"/><rect x="90.3" y="275.29" width="51.5" height="1.58"/><rect x="91.0" y="276.87" width="50.8" height="1.20"/><rect x="93.4" y="278.06" width="48.4" height="0.50"/><rect x="92.2" y="278.22" width="49.6" height="0.56"/><rect x="92.9" y="278.77" width="48.9" height="0.50"/><rect x="92.2" y="278.90" width="49.6" height="2.26"/><rect x="95.7" y="281.16" width="46.1" height="0.50"/><rect x="95.5" y="281.34" width="46.3" height="0.50"/><rect x="90.9" y="281.46" width="50.9" height="0.50"/><rect x="89.2" y="281.89" width="52.6" height="1.11"/><rect x="92.2" y="283.00" width="49.6" height="0.50"/><rect x="90.8" y="283.40" width="51.0" height="0.50"/><rect x="96.1" y="283.60" width="45.7" height="0.50"/><rect x="90.7" y="283.74" width="51.1" height="1.58"/><rect x="94.9" y="285.32" width="46.9" height="0.50"/><rect x="92.6" y="285.53" width="49.2" height="0.50"/><rect x="92.0" y="285.73" width="49.8" height="0.50"/><rect x="96.3" y="286.04" width="45.5" height="0.50"/><rect x="93.7" y="286.21" width="48.1" height="0.50"/><rect x="92.1" y="286.45" width="49.7" height="0.50"/><rect x="90.7" y="286.68" width="51.1" height="1.20"/><rect x="95.8" y="287.88" width="46.0" height="0.50"/><rect x="94.4" y="287.96" width="47.4" height="1.30"/><rect x="96.4" y="289.27" width="45.4" height="0.50"/><rect x="90.0" y="289.56" width="51.8" height="0.50"/><rect x="97.1" y="289.68" width="44.7" height="0.50"/><rect x="89.5" y="289.95" width="52.3" height="0.50"/><rect x="96.0" y="290.18" width="45.8" height="0.50"/><rect x="96.1" y="290.47" width="45.7" height="0.93"/><rect x="94.3" y="291.40" width="47.5" height="0.50"/><rect x="90.3" y="291.44" width="51.5" height="1.03"/><rect x="90.5" y="292.48" width="51.3" height="0.50"/><rect x="89.4" y="292.80" width="52.4" height="0.50"/><rect x="92.5" y="293.13" width="49.3" height="0.86"/><rect x="96.9" y="293.99" width="44.9" height="1.26"/><rect x="95.3" y="295.25" width="46.5" height="0.81"/><rect x="96.2" y="296.06" width="45.6" height="0.50"/><rect x="98.0" y="296.23" width="43.8" height="0.50"/><rect x="90.3" y="296.41" width="51.5" height="0.50"/><rect x="96.0" y="296.58" width="45.8" height="0.50"/><rect x="97.5" y="296.63" width="44.3" height="0.50"/><rect x="92.6" y="297.04" width="49.2" height="0.60"/><rect x="93.7" y="297.63" width="48.1" height="0.50"/><rect x="93.6" y="297.77" width="48.2" height="2.08"/><rect x="91.1" y="299.85" width="50.7" height="0.50"/><rect x="89.1" y="299.98" width="52.7" height="0.50"/><rect x="94.3" y="300.15" width="47.5" height="0.50"/><rect x="96.3" y="300.43" width="45.5" height="0.50"/><rect x="93.9" y="300.65" width="47.9" height="0.61"/><rect x="97.1" y="301.27" width="44.7" height="0.50"/><rect x="90.4" y="301.41" width="51.4" height="0.50"/><rect x="92.8" y="301.82" width="49.0" height="0.50"/><rect x="97.5" y="301.96" width="44.3" height="0.50"/><rect x="98.3" y="302.17" width="43.5" height="0.93"/><rect x="98.4" y="303.10" width="43.4" height="0.98"/><rect x="93.5" y="304.08" width="48.3" height="0.50"/><rect x="92.9" y="304.17" width="48.9" height="0.59"/><rect x="104.5" y="304.76" width="37.3" height="0.74"/><rect x="128.1" y="305.50" width="13.7" height="0.69"/><rect x="128.2" y="306.19" width="13.6" height="0.50"/><rect x="120.6" y="306.65" width="21.2" height="0.50"/><rect x="122.4" y="307.06" width="19.4" height="0.50"/><rect x="123.9" y="307.17" width="17.9" height="1.74"/><rect x="123.9" y="308.91" width="17.9" height="0.50"/><rect x="125.3" y="308.97" width="16.5" height="0.86"/><rect x="126.1" y="309.83" width="15.7" height="0.50"/><rect x="126.9" y="309.98" width="14.9" height="0.50"/><rect x="121.8" y="310.36" width="20.0" height="0.57"/><rect x="121.8" y="310.94" width="20.0" height="0.50"/><rect x="125.0" y="311.31" width="16.8" height="0.50"/><rect x="125.7" y="311.79" width="16.1" height="1.96"/><rect x="122.6" y="313.76" width="19.2" height="0.50"/><rect x="123.9" y="314.11" width="17.9" height="0.50"/><rect x="127.3" y="314.53" width="14.5" height="0.50"/><rect x="123.3" y="314.63" width="18.5" height="1.84"/><rect x="127.9" y="316.47" width="13.9" height="0.50"/><rect x="127.6" y="316.67" width="14.2" height="0.50"/><rect x="127.9" y="316.86" width="13.9" height="1.42"/><rect x="123.9" y="318.28" width="17.9" height="0.50"/><rect x="127.4" y="318.66" width="14.4" height="0.62"/><rect x="122.3" y="319.28" width="19.5" height="0.74"/><rect x="127.5" y="320.02" width="14.3" height="0.50"/><rect x="123.9" y="320.11" width="17.9" height="0.50"/><rect x="123.4" y="320.23" width="18.4" height="0.71"/><rect x="123.5" y="320.94" width="18.3" height="0.95"/><rect x="119.9" y="321.89" width="21.9" height="0.86"/><rect x="120.9" y="322.75" width="20.9" height="1.32"/><rect x="125.9" y="324.07" width="15.9" height="0.50"/><rect x="126.0" y="324.13" width="15.8" height="0.58"/><rect x="123.4" y="324.71" width="18.4" height="0.83"/><rect x="126.5" y="325.54" width="15.3" height="0.50"/><rect x="119.9" y="325.84" width="21.9" height="1.08"/><rect x="123.1" y="326.92" width="18.7" height="1.66"/><rect x="124.4" y="328.58" width="17.4" height="0.50"/><rect x="123.6" y="328.82" width="18.2" height="1.79"/><rect x="119.0" y="330.62" width="22.8" height="0.87"/><rect x="113.5" y="331.48" width="28.3" height="1.03"/><rect x="116.1" y="332.51" width="25.7" height="1.36"/><rect x="106.8" y="333.87" width="35.0" height="0.50"/><rect x="109.3" y="333.99" width="32.5" height="2.41"/><rect x="111.5" y="336.40" width="30.3" height="0.50"/><rect x="108.2" y="336.68" width="33.6" height="0.50"/><rect x="108.6" y="337.07" width="33.2" height="0.70"/><rect x="113.6" y="337.77" width="28.2" height="0.50"/><rect x="106.3" y="338.05" width="35.5" height="1.35"/><rect x="109.8" y="339.40" width="32.0" height="1.45"/><rect x="109.8" y="340.85" width="32.0" height="0.50"/><rect x="114.2" y="341.10" width="27.6" height="0.50"/><rect x="114.7" y="341.22" width="27.1" height="0.50"/><rect x="107.5" y="341.48" width="34.3" height="0.50"/><rect x="107.1" y="341.58" width="34.7" height="1.39"/><rect x="106.8" y="342.96" width="35.0" height="1.04"/><rect x="112.7" y="344.00" width="29.1" height="0.59"/><rect x="114.2" y="344.60" width="27.6" height="0.55"/><rect x="108.9" y="345.15" width="32.9" height="0.50"/><rect x="107.7" y="345.49" width="34.1" height="0.50"/><rect x="112.1" y="345.59" width="29.7" height="1.23"/><rect x="112.9" y="346.81" width="28.9" height="0.64"/><rect x="108.2" y="347.45" width="33.6" height="0.74"/><rect x="113.0" y="348.20" width="28.8" height="0.50"/><rect x="113.3" y="348.63" width="28.5" height="0.50"/><rect x="109.2" y="348.85" width="32.6" height="0.50"/><rect x="111.2" y="349.23" width="30.6" height="2.07"/><rect x="114.0" y="351.29" width="27.8" height="0.50"/><rect x="111.7" y="351.52" width="30.1" height="0.50"/><rect x="110.1" y="351.91" width="31.7" height="1.99"/><rect x="110.9" y="353.90" width="30.9" height="2.73"/><rect x="112.3" y="356.64" width="29.5" height="0.50"/><rect x="115.8" y="356.92" width="26.0" height="0.73"/><rect x="114.4" y="357.66" width="27.4" height="0.50"/><rect x="122.3" y="358.13" width="19.5" height="0.54"/><rect x="118.8" y="358.66" width="23.0" height="0.86"/><rect x="119.9" y="359.52" width="21.9" height="0.50"/><rect x="127.7" y="359.62" width="14.1" height="0.50"/><rect x="121.7" y="359.86" width="20.1" height="0.50"/><rect x="124.4" y="360.26" width="17.4" height="0.50"/><rect x="122.0" y="360.51" width="19.8" height="1.27"/><rect x="120.7" y="361.77" width="21.1" height="0.50"/><rect x="118.4" y="362.00" width="23.4" height="1.53"/><rect x="120.3" y="363.53" width="21.5" height="0.50"/><rect x="114.9" y="364.03" width="26.9" height="0.50"/><rect x="120.6" y="364.18" width="21.2" height="0.50"/><rect x="122.0" y="364.42" width="19.8" height="0.50"/><rect x="116.7" y="364.52" width="25.1" height="1.33"/><rect x="116.7" y="365.86" width="25.1" height="0.50"/><rect x="120.6" y="365.96" width="21.2" height="0.50"/><rect x="119.8" y="366.17" width="22.0" height="0.73"/><rect x="121.5" y="366.89" width="20.3" height="0.62"/><rect x="117.2" y="367.52" width="24.6" height="0.69"/><rect x="117.3" y="368.20" width="24.5" height="0.50"/><rect x="117.0" y="368.69" width="24.8" height="0.50"/><rect x="119.5" y="369.04" width="22.3" height="0.50"/><rect x="115.3" y="369.47" width="26.5" height="0.50"/><rect x="116.9" y="369.64" width="24.9" height="1.68"/><rect x="114.2" y="371.31" width="27.6" height="0.67"/><rect x="111.6" y="371.98" width="30.2" height="0.75"/><rect x="116.1" y="372.73" width="25.7" height="0.50"/><rect x="111.3" y="372.96" width="30.5" height="1.18"/><rect x="118.7" y="374.14" width="23.1" height="0.50"/><rect x="110.6" y="374.64" width="31.2" height="1.44"/><rect x="110.7" y="376.09" width="31.1" height="0.79"/><rect x="112.7" y="376.87" width="29.1" height="0.50"/><rect x="115.5" y="377.30" width="26.3" height="0.50"/><rect x="112.1" y="377.46" width="29.7" height="1.66"/><rect x="113.3" y="379.13" width="28.5" height="0.50"/><rect x="111.0" y="379.26" width="30.8" height="0.50"/><rect x="110.6" y="379.47" width="31.2" height="0.50"/><rect x="114.2" y="379.56" width="27.6" height="0.50"/><rect x="114.8" y="379.82" width="27.0" height="0.50"/><rect x="114.6" y="380.01" width="27.2" height="0.50"/><rect x="114.2" y="380.18" width="27.6" height="0.50"/><rect x="110.9" y="380.31" width="30.9" height="1.91"/><rect x="106.0" y="382.22" width="35.8" height="0.50"/><rect x="107.7" y="382.54" width="34.1" height="0.50"/><rect x="106.0" y="382.81" width="35.8" height="1.41"/><rect x="106.6" y="384.22" width="35.2" height="0.50"/><rect x="109.7" y="384.27" width="32.1" height="1.45"/><rect x="107.3" y="385.72" width="34.5" height="0.50"/><rect x="105.0" y="385.89" width="36.8" height="0.69"/><rect x="106.6" y="386.58" width="35.2" height="0.50"/><rect x="108.0" y="386.96" width="33.8" height="0.57"/><rect x="107.2" y="387.53" width="34.6" height="0.83"/><rect x="106.4" y="388.35" width="35.4" height="0.50"/><rect x="105.6" y="388.40" width="36.2" height="1.09"/><rect x="106.1" y="389.49" width="35.7" height="1.07"/><rect x="98.0" y="390.56" width="43.8" height="1.44"/><rect x="98.9" y="392.00" width="42.9" height="0.50"/><rect x="95.8" y="392.36" width="46.0" height="1.57"/><rect x="96.1" y="393.93" width="45.7" height="0.50"/><rect x="94.2" y="394.20" width="47.6" height="0.50"/><rect x="92.6" y="394.46" width="49.2" height="0.94"/><rect x="96.1" y="395.40" width="45.7" height="2.91"/><rect x="91.5" y="398.31" width="50.3" height="2.69"/><rect x="89.5" y="401.00" width="52.3" height="1.25"/><rect x="95.9" y="402.25" width="45.9" height="0.50"/><rect x="94.5" y="402.48" width="47.3" height="0.50"/><rect x="96.3" y="402.68" width="45.5" height="0.50"/><rect x="93.5" y="402.77" width="48.3" height="1.12"/><rect x="88.7" y="403.89" width="53.1" height="0.50"/><rect x="94.5" y="404.12" width="47.3" height="0.50"/><rect x="93.9" y="404.26" width="47.9" height="1.04"/><rect x="92.4" y="405.30" width="49.4" height="0.50"/><rect x="88.4" y="405.48" width="53.4" height="0.50"/><rect x="88.5" y="405.67" width="53.3" height="0.55"/><rect x="94.0" y="406.22" width="47.8" height="0.69"/><rect x="88.3" y="406.90" width="53.5" height="0.50"/><rect x="93.2" y="407.05" width="48.6" height="0.50"/><rect x="92.3" y="407.21" width="49.5" height="0.59"/><rect x="91.1" y="407.80" width="50.7" height="1.01"/><rect x="89.6" y="408.81" width="52.2" height="0.50"/><rect x="91.2" y="409.08" width="50.6" height="1.37"/><rect x="91.2" y="410.46" width="50.6" height="0.50"/><rect x="91.2" y="410.76" width="50.6" height="0.50"/><rect x="94.7" y="411.11" width="47.1" height="0.50"/><rect x="95.5" y="411.21" width="46.3" height="0.50"/><rect x="87.7" y="411.36" width="54.1" height="0.64"/><rect x="87.4" y="412.00" width="54.4" height="0.82"/><rect x="88.5" y="412.82" width="53.3" height="0.87"/><rect x="95.7" y="413.69" width="46.1" height="0.50"/><rect x="91.9" y="413.87" width="49.9" height="0.50"/><rect x="89.8" y="414.20" width="52.0" height="0.97"/><rect x="95.0" y="415.17" width="46.8" height="0.50"/><rect x="94.4" y="415.38" width="47.4" height="1.00"/><rect x="94.9" y="416.39" width="46.9" height="0.50"/><rect x="93.3" y="416.52" width="48.5" height="0.50"/><rect x="92.1" y="416.70" width="49.7" height="0.50"/><rect x="93.8" y="417.18" width="48.0" height="0.51"/><rect x="89.6" y="417.69" width="52.2" height="0.50"/><rect x="89.0" y="417.82" width="52.8" height="0.62"/><rect x="94.6" y="418.43" width="47.2" height="0.50"/><rect x="92.7" y="418.69" width="49.1" height="0.50"/><rect x="87.5" y="419.04" width="54.3" height="0.50"/><rect x="87.6" y="419.22" width="54.2" height="0.50"/><rect x="89.7" y="419.54" width="52.1" height="0.50"/><rect x="89.9" y="419.63" width="51.9" height="0.50"/><rect x="88.7" y="419.79" width="53.1" height="1.68"/><rect x="89.4" y="421.47" width="52.4" height="0.50"/><rect x="94.2" y="421.85" width="47.6" height="0.50"/><rect x="87.4" y="422.36" width="54.4" height="0.50"/><rect x="91.2" y="422.43" width="50.6" height="0.50"/><rect x="90.8" y="422.51" width="51.0" height="0.50"/><rect x="90.3" y="422.71" width="51.5" height="0.50"/><rect x="90.3" y="422.78" width="51.5" height="1.13"/><rect x="91.5" y="423.91" width="50.3" height="0.50"/><rect x="93.9" y="424.08" width="47.9" height="0.50"/><rect x="87.4" y="424.39" width="54.4" height="0.50"/><rect x="94.1" y="424.55" width="47.7" height="1.02"/><rect x="92.0" y="425.57" width="49.8" height="0.50"/><rect x="90.3" y="425.83" width="51.5" height="1.26"/><rect x="96.5" y="427.09" width="45.3" height="0.50"/><rect x="96.1" y="427.34" width="45.7" height="0.50"/><rect x="95.5" y="427.67" width="46.3" height="0.50"/><rect x="91.3" y="427.97" width="50.5" height="0.50"/><rect x="95.0" y="428.29" width="46.8" height="1.33"/><rect x="96.9" y="429.62" width="44.9" height="0.50"/><rect x="100.8" y="429.92" width="41.0" height="0.50"/><rect x="98.3" y="430.00" width="43.5" height="0.50"/><rect x="90.0" y="430.25" width="51.8" height="1.65"/><rect x="90.1" y="431.90" width="51.7" height="0.50"/><rect x="92.1" y="431.95" width="49.7" height="0.50"/><rect x="86.0" y="432.30" width="55.8" height="0.50"/><rect x="89.5" y="432.68" width="52.3" height="0.66"/><rect x="92.7" y="433.35" width="49.1" height="0.50"/><rect x="86.9" y="433.59" width="54.9" height="0.50"/><rect x="92.5" y="433.78" width="49.3" height="0.50"/><rect x="89.9" y="433.93" width="51.9" height="0.50"/><rect x="88.2" y="434.02" width="53.6" height="0.96"/><rect x="88.8" y="434.97" width="53.0" height="0.78"/><rect x="85.4" y="435.76" width="56.4" height="0.65"/><rect x="90.0" y="436.41" width="51.8" height="0.88"/><rect x="91.1" y="437.29" width="50.7" height="1.30"/><rect x="90.9" y="438.59" width="50.9" height="1.17"/><rect x="85.0" y="439.76" width="56.8" height="0.50"/><rect x="90.4" y="440.00" width="51.4" height="0.50"/><rect x="85.6" y="440.16" width="56.2" height="1.26"/><rect x="84.0" y="441.42" width="57.8" height="0.75"/><rect x="92.7" y="442.17" width="49.1" height="0.51"/><rect x="89.6" y="442.68" width="52.2" height="0.50"/><rect x="90.0" y="442.80" width="51.8" height="0.50"/><rect x="91.9" y="442.99" width="49.9" height="0.50"/><rect x="86.5" y="443.28" width="55.3" height="1.44"/><rect x="84.2" y="444.72" width="57.6" height="0.97"/><rect x="92.5" y="445.69" width="49.3" height="0.50"/><rect x="86.1" y="445.84" width="55.7" height="1.35"/><rect x="89.0" y="447.20" width="52.8" height="0.50"/><rect x="90.5" y="447.37" width="51.3" height="0.50"/><rect x="85.3" y="447.75" width="56.5" height="0.50"/><rect x="89.6" y="448.03" width="52.2" height="0.78"/><rect x="90.5" y="448.81" width="51.3" height="0.50"/><rect x="89.3" y="449.16" width="52.5" height="0.50"/><rect x="89.4" y="449.50" width="52.4" height="0.93"/><rect x="87.4" y="450.43" width="54.4" height="0.50"/><rect x="89.9" y="450.55" width="51.9" height="0.50"/><rect x="90.5" y="450.62" width="51.3" height="0.81"/><rect x="89.0" y="451.43" width="52.8" height="0.50"/><rect x="91.9" y="451.61" width="49.9" height="0.50"/><rect x="89.4" y="451.74" width="52.4" height="1.01"/><rect x="89.2" y="452.75" width="52.6" height="0.68"/><rect x="84.1" y="453.43" width="57.7" height="0.50"/><rect x="84.1" y="453.88" width="57.7" height="0.50"/><rect x="87.1" y="454.03" width="54.7" height="0.50"/><rect x="87.4" y="454.38" width="54.4" height="1.76"/><rect x="91.1" y="456.14" width="50.7" height="0.50"/><rect x="88.5" y="456.36" width="53.3" height="0.50"/><rect x="84.3" y="456.62" width="57.5" height="0.50"/><rect x="86.1" y="456.83" width="55.7" height="0.95"/><rect x="84.0" y="457.78" width="57.8" height="0.68"/><rect x="91.9" y="458.46" width="49.9" height="0.50"/><rect x="85.7" y="458.63" width="56.1" height="0.50"/><rect x="86.5" y="458.73" width="55.3" height="0.50"/><rect x="86.4" y="458.85" width="55.4" height="0.50"/><rect x="89.0" y="458.96" width="52.8" height="1.06"/><rect x="90.6" y="460.01" width="51.2" height="0.50"/><rect x="89.2" y="460.09" width="52.6" height="0.50"/><rect x="89.1" y="460.23" width="52.7" height="1.54"/><rect x="87.4" y="461.78" width="54.4" height="0.85"/><rect x="83.3" y="462.62" width="58.5" height="0.81"/><rect x="89.7" y="463.43" width="52.1" height="1.10"/><rect x="83.6" y="464.53" width="58.2" height="0.50"/><rect x="91.6" y="464.67" width="50.2" height="0.80"/><rect x="84.1" y="465.47" width="57.7" height="1.00"/><rect x="85.6" y="466.48" width="56.2" height="0.50"/><rect x="90.4" y="466.75" width="51.4" height="0.74"/><rect x="86.6" y="467.49" width="55.2" height="0.50"/><rect x="91.4" y="467.55" width="50.4" height="1.44"/><rect x="85.4" y="468.98" width="56.4" height="1.17"/><rect x="85.8" y="470.15" width="56.0" height="0.50"/><rect x="90.5" y="470.35" width="51.3" height="0.50"/><rect x="83.0" y="470.67" width="58.8" height="0.50"/><rect x="84.0" y="470.83" width="57.8" height="1.50"/><rect x="84.9" y="472.33" width="56.9" height="0.50"/><rect x="85.0" y="472.66" width="56.8" height="1.14"/><rect x="84.7" y="473.80" width="57.1" height="0.50"/><rect x="90.5" y="474.01" width="51.3" height="0.50"/><rect x="83.5" y="474.20" width="58.3" height="1.19"/><rect x="87.9" y="475.39" width="53.9" height="0.50"/><rect x="87.7" y="475.71" width="54.1" height="0.50"/><rect x="91.5" y="476.08" width="50.3" height="0.50"/><rect x="90.1" y="476.54" width="51.7" height="0.90"/><rect x="89.2" y="477.44" width="52.6" height="0.50"/><rect x="85.0" y="477.60" width="56.8" height="0.91"/><rect x="84.3" y="478.51" width="57.5" height="0.50"/><rect x="88.7" y="478.80" width="53.1" height="0.50"/><rect x="83.6" y="479.19" width="58.2" height="0.83"/><rect x="89.3" y="480.02" width="52.5" height="0.50"/><rect x="82.8" y="480.07" width="59.0" height="0.50"/><rect x="90.1" y="480.35" width="51.7" height="0.50"/><rect x="87.6" y="480.77" width="54.2" height="0.50"/><rect x="89.5" y="480.87" width="52.3" height="0.50"/><rect x="86.0" y="481.09" width="55.8" height="0.50"/><rect x="84.9" y="481.50" width="56.9" height="1.66"/><rect x="88.2" y="483.16" width="53.6" height="0.63"/><rect x="86.0" y="483.79" width="55.8" height="0.52"/><rect x="87.9" y="484.31" width="53.9" height="0.50"/><rect x="82.9" y="484.44" width="58.9" height="0.79"/><rect x="88.0" y="485.23" width="53.8" height="0.87"/><rect x="87.4" y="486.10" width="54.4" height="0.50"/><rect x="86.7" y="486.44" width="55.1" height="0.50"/><rect x="84.7" y="486.52" width="57.1" height="0.50"/><rect x="86.7" y="486.63" width="55.1" height="0.50"/><rect x="89.9" y="486.90" width="51.9" height="0.50"/><rect x="86.2" y="487.20" width="55.6" height="1.59"/><rect x="90.2" y="488.78" width="51.6" height="1.54"/><rect x="90.5" y="490.32" width="51.3" height="1.00"/><rect x="85.6" y="491.32" width="56.2" height="0.60"/><rect x="91.0" y="491.92" width="50.8" height="1.69"/><rect x="89.0" y="493.61" width="52.8" height="0.50"/><rect x="82.6" y="493.88" width="59.2" height="1.27"/><rect x="90.7" y="495.15" width="51.1" height="0.50"/><rect x="89.4" y="495.26" width="52.4" height="0.50"/><rect x="84.7" y="495.32" width="57.1" height="0.50"/><rect x="82.5" y="495.49" width="59.3" height="0.50"/><rect x="89.1" y="495.60" width="52.7" height="1.25"/><rect x="87.6" y="496.86" width="54.2" height="0.50"/><rect x="86.4" y="496.90" width="55.4" height="0.50"/><rect x="83.6" y="497.17" width="58.2" height="0.50"/><rect x="86.7" y="497.28" width="55.1" height="0.50"/><rect x="88.8" y="497.50" width="53.0" height="1.46"/><rect x="83.0" y="498.96" width="58.8" height="0.50"/><rect x="82.3" y="499.10" width="59.5" height="0.50"/><rect x="88.1" y="499.51" width="53.7" height="1.69"/><rect x="89.6" y="501.19" width="52.2" height="0.50"/></g><path d="M88.1 155.9L88.1 160.8M88.1 155.9L91.8 155.9M88.1 160.8L90.9 160.8M85.4 154.8L85.4 158.4M85.4 154.8L111.8 154.8M85.4 158.4L88.1 158.4M82.5 165.5L82.5 168.6M82.5 165.5L89.8 165.5M82.5 168.6L90.3 168.6M79.3 167.0L79.3 171.6M79.3 167.0L82.5 167.0M79.3 171.6L106.9 171.6M77.7 169.3L77.7 173.0M77.7 169.3L79.3 169.3M77.7 173.0L100.5 173.0M74.3 156.6L74.3 171.1M74.3 156.6L85.4 156.6M74.3 171.1L77.7 171.1M70.9 153.5L70.9 163.9M70.9 153.5L97.2 153.5M70.9 163.9L74.3 163.9M55.5 158.7L55.5 175.9M55.5 158.7L70.9 158.7M55.5 175.9L89.7 175.9M82.9 180.0L82.9 181.5M82.9 180.0L99.1 180.0M82.9 181.5L85.6 181.5M80.6 179.4L80.6 180.8M80.6 179.4L97.8 179.4M80.6 180.8L82.9 180.8M76.7 180.1L76.7 186.8M76.7 180.1L80.6 180.1M76.7 186.8L84.5 186.8M74.9 183.5L74.9 189.9M74.9 183.5L76.7 183.5M74.9 189.9L95.2 189.9M72.3 186.7L72.3 190.9M72.3 186.7L74.9 186.7M72.3 190.9L85.8 190.9M70.3 178.4L70.3 188.8M70.3 178.4L103.7 178.4M70.3 188.8L72.3 188.8M78.0 196.4L78.0 198.5M78.0 196.4L79.7 196.4M78.0 198.5L85.8 198.5M76.3 197.4L76.3 199.9M76.3 197.4L78.0 197.4M76.3 199.9L94.1 199.9M73.5 198.6L73.5 200.7M73.5 198.6L76.3 198.6M73.5 200.7L89.7 200.7M72.3 199.7L72.3 201.9M72.3 199.7L73.5 199.7M72.3 201.9L95.4 201.9M70.4 200.8L70.4 202.9M70.4 200.8L72.3 200.8M70.4 202.9L90.3 202.9M53.0 183.6L53.0 201.9M53.0 183.6L70.3 183.6M53.0 201.9L70.4 201.9M45.9 177.2L45.9 192.7M45.9 177.2L98.8 177.2M45.9 192.7L53.0 192.7M31.7 167.3L31.7 185.0M31.7 167.3L55.5 167.3M31.7 185.0L45.9 185.0M28.4 176.1L28.4 204.1M28.4 176.1L31.7 176.1M28.4 204.1L84.3 204.1M75.3 224.2L75.3 227.8M75.3 224.2L83.5 224.2M75.3 227.8L77.9 227.8M74.2 226.0L74.2 229.9M74.2 226.0L75.3 226.0M74.2 229.9L89.7 229.9M67.7 223.2L67.7 228.0M67.7 223.2L96.0 223.2M67.7 228.0L74.2 228.0M64.7 219.7L64.7 225.6M64.7 219.7L76.5 219.7M64.7 225.6L67.7 225.6M71.9 232.1L71.9 233.8M71.9 232.1L87.9 232.1M71.9 233.8L73.0 233.8M68.8 231.4L68.8 233.0M68.8 231.4L92.2 231.4M68.8 233.0L71.9 233.0M66.4 230.7L66.4 232.2M66.4 230.7L92.9 230.7M66.4 232.2L68.8 232.2M69.6 238.7L69.6 240.0M69.6 238.7L87.9 238.7M69.6 240.0L72.0 240.0M68.0 238.2L68.0 239.4M68.0 238.2L89.7 238.2M68.0 239.4L69.6 239.4M59.1 231.4L59.1 238.8M59.1 231.4L66.4 231.4M59.1 238.8L68.0 238.8M50.8 222.6L50.8 235.1M50.8 222.6L64.7 222.6M50.8 235.1L59.1 235.1M49.0 217.0L49.0 228.9M49.0 217.0L88.1 217.0M49.0 228.9L50.8 228.9M45.5 213.6L45.5 223.0M45.5 213.6L85.8 213.6M45.5 223.0L49.0 223.0M42.9 210.0L42.9 218.3M42.9 210.0L82.3 210.0M42.9 218.3L45.5 218.3M40.6 207.9L40.6 214.1M40.6 207.9L99.8 207.9M40.6 214.1L42.9 214.1M35.0 211.0L35.0 248.7M35.0 211.0L40.6 211.0M35.0 248.7L71.8 248.7M24.3 190.1L24.3 229.9M24.3 190.1L28.4 190.1M24.3 229.9L35.0 229.9M83.2 254.2L83.2 256.0M83.2 254.2L97.6 254.2M83.2 256.0L85.0 256.0M81.4 253.7L81.4 255.1M81.4 253.7L96.0 253.7M81.4 255.1L83.2 255.1M78.1 253.1L78.1 254.4M78.1 253.1L95.9 253.1M78.1 254.4L81.4 254.4M74.6 252.2L74.6 253.8M74.6 252.2L96.7 252.2M74.6 253.8L78.1 253.8M72.2 251.1L72.2 253.0M72.2 251.1L98.0 251.1M72.2 253.0L74.6 253.0M68.6 250.2L68.6 252.1M68.6 250.2L88.8 250.2M68.6 252.1L72.2 252.1M81.4 261.3L81.4 264.6M81.4 261.3L84.7 261.3M81.4 264.6L83.3 264.6M77.9 263.0L77.9 267.6M77.9 263.0L81.4 263.0M77.9 267.6L96.5 267.6M74.6 260.4L74.6 265.3M74.6 260.4L97.4 260.4M74.6 265.3L77.9 265.3M58.4 251.2L58.4 262.9M58.4 251.2L68.6 251.2M58.4 262.9L74.6 262.9M71.1 274.6L71.1 277.5M71.1 274.6L73.5 274.6M71.1 277.5L91.0 277.5M62.1 269.8L62.1 276.1M62.1 269.8L74.8 269.8M62.1 276.1L71.1 276.1M46.3 257.0L46.3 272.9M46.3 257.0L58.4 257.0M46.3 272.9L62.1 272.9M44.0 265.0L44.0 279.4M44.0 265.0L46.3 265.0M44.0 279.4L78.8 279.4M40.5 272.2L40.5 282.4M40.5 272.2L44.0 272.2M40.5 282.4L89.2 282.4M73.0 300.6L73.0 302.3M73.0 300.6L75.4 300.6M73.0 302.3L79.2 302.3M71.1 296.5L71.1 301.5M71.1 296.5L83.3 296.5M71.1 301.5L73.0 301.5M68.8 299.0L68.8 305.1M68.8 299.0L71.1 299.0M68.8 305.1L104.5 305.1M59.3 293.5L59.3 302.0M59.3 293.5L80.7 293.5M59.3 302.0L68.8 302.0M57.9 291.4L57.9 297.8M57.9 291.4L78.9 291.4M57.9 297.8L59.3 297.8M56.4 289.3L56.4 294.6M56.4 289.3L82.7 289.3M56.4 294.6L57.9 294.6M47.6 286.2L47.6 292.0M47.6 286.2L79.6 286.2M47.6 292.0L56.4 292.0M36.5 283.5L36.5 289.1M36.5 283.5L81.1 283.5M36.5 289.1L47.6 289.1M31.0 277.3L31.0 286.3M31.0 277.3L40.5 277.3M31.0 286.3L36.5 286.3M16.8 210.0L16.8 281.8M16.8 210.0L24.3 210.0M16.8 281.8L31.0 281.8M111.7 313.9L111.7 317.8M111.7 313.9L122.6 313.9M111.7 317.8L114.8 317.8M108.9 310.3L108.9 315.9M108.9 310.3L114.6 310.3M108.9 315.9L111.7 315.9M105.7 313.1L105.7 320.3M105.7 313.1L108.9 313.1M105.7 320.3L116.6 320.3M103.3 316.7L103.3 322.3M103.3 316.7L105.7 316.7M103.3 322.3L119.9 322.3M101.2 319.5L101.2 323.8M101.2 319.5L103.3 319.5M101.2 323.8L117.8 323.8M112.0 325.1L112.0 326.9M112.0 325.1L123.4 325.1M112.0 326.9L115.1 326.9M109.2 324.4L109.2 326.0M109.2 324.4L126.0 324.4M109.2 326.0L112.0 326.0M99.8 333.3L99.8 337.4M99.8 333.3L105.4 333.3M99.8 337.4L102.3 337.4M97.2 335.3L97.2 338.7M97.2 335.3L99.8 335.3M97.2 338.7L106.3 338.7M96.3 325.2L96.3 337.0M96.3 325.2L109.2 325.2M96.3 337.0L97.2 337.0M95.0 321.6L95.0 331.1M95.0 321.6L101.2 321.6M95.0 331.1L96.3 331.1M94.0 307.9L94.0 326.4M94.0 307.9L112.5 307.9M94.0 326.4L95.0 326.4M102.2 347.8L102.2 349.5M102.2 347.8L108.2 347.8M102.2 349.5L104.6 349.5M100.7 347.1L100.7 348.6M100.7 347.1L112.9 347.1M100.7 348.6L102.2 348.6M99.2 345.9L99.2 347.9M99.2 345.9L104.5 345.9M99.2 347.9L100.7 347.9M95.9 345.3L95.9 346.9M95.9 345.3L108.9 345.3M95.9 346.9L99.2 346.9M89.2 346.1L89.2 358.6M89.2 346.1L95.9 346.1M89.2 358.6L99.3 358.6M85.2 344.2L85.2 352.3M85.2 344.2L101.3 344.2M85.2 352.3L89.2 352.3M84.2 341.3L84.2 348.3M84.2 341.3L103.4 341.3M84.2 348.3L85.2 348.3M82.3 317.1L82.3 344.8M82.3 317.1L94.0 317.1M82.3 344.8L84.2 344.8M79.5 331.0L79.5 360.2M79.5 331.0L82.3 331.0M79.5 360.2L115.7 360.2M105.9 367.7L105.9 370.6M105.9 367.7L107.3 367.7M105.9 370.6L107.5 370.6M103.9 369.2L103.9 372.8M103.9 369.2L105.9 369.2M103.9 372.8L116.1 372.8M100.6 371.0L100.6 373.6M100.6 371.0L103.9 371.0M100.6 373.6L111.3 373.6M99.6 372.3L99.6 374.4M99.6 372.3L100.6 372.3M99.6 374.4L118.7 374.4M97.8 373.3L97.8 375.4M97.8 373.3L99.6 373.3M97.8 375.4L110.6 375.4M96.7 374.4L96.7 376.5M96.7 374.4L97.8 374.4M96.7 376.5L110.7 376.5M93.5 375.4L93.5 377.5M93.5 375.4L96.7 375.4M93.5 377.5L104.5 377.5M91.1 376.4L91.1 379.4M91.1 376.4L93.5 376.4M91.1 379.4L98.5 379.4M88.1 377.9L88.1 382.7M88.1 377.9L91.1 377.9M88.1 382.7L99.5 382.7M86.4 380.3L86.4 384.6M86.4 380.3L88.1 380.3M86.4 384.6L99.4 384.6M85.1 382.5L85.1 386.2M85.1 382.5L86.4 382.5M85.1 386.2L98.6 386.2M84.3 384.3L84.3 388.0M84.3 384.3L85.1 384.3M84.3 388.0L96.9 388.0M83.5 386.1L83.5 388.9M83.5 386.1L84.3 386.1M83.5 388.9L105.6 388.9M81.2 387.5L81.2 390.0M81.2 387.5L83.5 387.5M81.2 390.0L106.1 390.0M78.4 363.6L78.4 388.8M78.4 363.6L105.3 363.6M78.4 388.8L81.2 388.8M75.0 376.2L75.0 391.3M75.0 376.2L78.4 376.2M75.0 391.3L98.0 391.3M70.0 345.6L70.0 383.7M70.0 345.6L79.5 345.6M70.0 383.7L75.0 383.7M87.5 394.9L87.5 398.3M87.5 394.9L92.6 394.9M87.5 398.3L90.9 398.3M85.0 394.3L85.0 396.6M85.0 394.3L94.2 394.3M85.0 396.6L87.5 396.6M82.3 394.1L82.3 395.5M82.3 394.1L96.1 394.1M82.3 395.5L85.0 395.5M80.5 393.1L80.5 394.8M80.5 393.1L95.8 393.1M80.5 394.8L82.3 394.8M78.0 392.2L78.0 394.0M78.0 392.2L98.9 392.2M78.0 394.0L80.5 394.0M64.7 364.7L64.7 393.1M64.7 364.7L70.0 364.7M64.7 393.1L78.0 393.1M71.9 405.3L71.9 406.6M71.9 405.3L82.8 405.3M71.9 406.6L73.2 406.6M69.1 406.0L69.1 411.7M69.1 406.0L71.9 406.0M69.1 411.7L87.7 411.7M67.9 403.9L67.9 408.8M67.9 403.9L83.5 403.9M67.9 408.8L69.1 408.8M66.0 402.5L66.0 406.4M66.0 402.5L82.9 402.5M66.0 406.4L67.9 406.4M55.3 378.9L55.3 404.4M55.3 378.9L64.7 378.9M55.3 404.4L66.0 404.4M69.6 415.5L69.6 418.5M69.6 415.5L72.7 415.5M69.6 418.5L75.3 418.5M67.5 412.8L67.5 417.0M67.5 412.8L82.1 412.8M67.5 417.0L69.6 417.0M71.2 422.1L71.2 427.0M71.2 422.1L78.3 422.1M71.2 427.0L74.0 427.0M56.5 414.9L56.5 424.6M56.5 414.9L67.5 414.9M56.5 424.6L71.2 424.6M55.0 419.7L55.0 429.2M55.0 419.7L56.5 419.7M55.0 429.2L83.5 429.2M46.4 391.7L46.4 424.5M46.4 391.7L55.3 391.7M46.4 424.5L55.0 424.5M68.5 432.0L68.5 433.7M68.5 432.0L80.7 432.0M68.5 433.7L70.3 433.7M60.7 432.8L60.7 437.9M60.7 432.8L68.5 432.8M60.7 437.9L91.1 437.9M69.3 442.7L69.3 448.5M69.3 442.7L74.5 442.7M69.3 448.5L71.4 448.5M67.8 441.8L67.8 445.6M67.8 441.8L84.0 441.8M67.8 445.6L69.3 445.6M66.6 443.7L66.6 449.3M66.6 443.7L67.8 443.7M66.6 449.3L89.3 449.3M63.3 440.2L63.3 446.5M63.3 440.2L78.9 440.2M63.3 446.5L66.6 446.5M59.7 439.2L59.7 443.3M59.7 439.2L90.9 439.2M59.7 443.3L63.3 443.3M51.5 435.4L51.5 441.3M51.5 435.4L60.7 435.4M51.5 441.3L59.7 441.3M36.4 408.1L36.4 438.3M36.4 408.1L46.4 408.1M36.4 438.3L51.5 438.3M8.5 245.9L8.5 423.2M8.5 245.9L16.8 245.9M8.5 423.2L36.4 423.2M73.8 454.6L73.8 458.7M73.8 454.6L77.2 454.6M73.8 458.7L77.3 458.7M70.8 453.1L70.8 456.6M70.8 453.1L89.2 453.1M70.8 456.6L73.8 456.6M67.7 454.9L67.7 462.2M67.7 454.9L70.8 454.9M67.7 462.2L87.4 462.2M66.7 458.5L66.7 463.7M66.7 458.5L67.7 458.5M66.7 463.7L75.2 463.7M65.1 461.1L65.1 466.1M65.1 461.1L66.7 461.1M65.1 466.1L75.2 466.1M63.7 452.2L63.7 463.6M63.7 452.2L89.4 452.2M63.7 463.6L65.1 463.6M61.5 457.9L61.5 467.1M61.5 457.9L63.7 457.9M61.5 467.1L90.4 467.1M63.6 474.0L63.6 476.9M63.6 474.0L72.7 474.0M63.6 476.9L74.8 476.9M62.0 469.7L62.0 475.5M62.0 469.7L65.7 469.7M62.0 475.5L63.6 475.5M58.9 462.5L58.9 472.6M58.9 462.5L61.5 462.5M58.9 472.6L62.0 472.6M57.0 451.4L57.0 467.5M57.0 451.4L75.4 451.4M57.0 467.5L58.9 467.5M54.5 459.5L54.5 480.0M54.5 459.5L57.0 459.5M54.5 480.0L67.6 480.0M70.7 486.1L70.7 490.2M70.7 486.1L73.2 486.1M70.7 490.2L73.9 490.2M67.6 488.1L67.6 491.6M67.6 488.1L70.7 488.1M67.6 491.6L85.6 491.6M64.3 484.0L64.3 489.9M64.3 484.0L86.0 484.0M64.3 489.9L67.6 489.9M52.6 469.7L52.6 487.0M52.6 469.7L54.5 469.7M52.6 487.0L64.3 487.0M51.2 478.3L51.2 492.8M51.2 478.3L52.6 478.3M51.2 492.8L91.0 492.8M49.7 485.5L49.7 495.5M49.7 485.5L51.2 485.5M49.7 495.5L68.1 495.5M34.9 490.5L34.9 500.3M34.9 490.5L49.7 490.5M34.9 500.3L43.0 500.3M1.3 334.5L1.3 495.4M1.3 334.5L8.5 334.5M1.3 495.4L34.9 495.4" stroke="#000" stroke-width="0.9" fill="none"/><path d="M104.4 153.1L104.4 153.9M104.4 153.1L106.7 153.1M104.4 153.9L113.9 153.9M103.5 152.3L103.5 153.5M103.5 152.3L109.9 152.3M103.5 153.5L104.4 153.5M102.0 152.9L102.0 154.1M102.0 152.9L103.5 152.9M102.0 154.1L114.6 154.1M100.6 151.5L100.6 153.5M100.6 151.5L111.7 151.5M100.6 153.5L102.0 153.5M97.2 152.5L97.2 154.4M97.2 152.5L100.6 152.5M97.2 154.4L114.2 154.4M100.3 156.4L100.3 157.1M100.3 156.4L108.2 156.4M100.3 157.1L114.2 157.1M100.6 158.5L100.6 159.4M100.6 158.5L108.5 158.5M100.6 159.4L112.7 159.4M98.0 156.8L98.0 158.9M98.0 156.8L100.3 156.8M98.0 158.9L100.6 158.9M96.2 156.3L96.2 157.9M96.2 156.3L107.1 156.3M96.2 157.9L98.0 157.9M92.8 155.8L92.8 157.1M92.8 155.8L114.2 155.8M92.8 157.1L96.2 157.1M91.8 155.3L91.8 156.4M91.8 155.3L109.0 155.3M91.8 156.4L92.8 156.4M97.1 160.9L97.1 162.0M97.1 160.9L109.0 160.9M97.1 162.0L104.9 162.0M95.7 160.3L95.7 161.5M95.7 160.3L111.1 160.3M95.7 161.5L97.1 161.5M94.2 160.9L94.2 163.0M94.2 160.9L95.7 160.9M94.2 163.0L112.5 163.0M90.9 159.8L90.9 161.9M90.9 159.8L105.8 159.8M90.9 161.9L94.2 161.9M100.1 163.5L100.1 164.2M100.1 163.5L110.7 163.5M100.1 164.2L106.0 164.2M98.8 163.4L98.8 163.9M98.8 163.4L109.7 163.4M98.8 163.9L100.1 163.9M96.7 163.3L96.7 163.6M96.7 163.3L106.1 163.3M96.7 163.6L98.8 163.6M93.6 163.5L93.6 165.4M93.6 163.5L96.7 163.5M93.6 165.4L105.7 165.4M89.8 164.4L89.8 166.5M89.8 164.4L93.6 164.4M89.8 166.5L105.8 166.5M95.7 167.9L95.7 168.9M95.7 167.9L106.9 167.9M95.7 168.9L104.0 168.9M94.0 168.4L94.0 170.1M94.0 168.4L95.7 168.4M94.0 170.1L109.9 170.1M92.4 169.3L92.4 170.9M92.4 169.3L94.0 169.3M92.4 170.9L108.4 170.9M90.3 167.1L90.3 170.1M90.3 167.1L109.6 167.1M90.3 170.1L92.4 170.1M100.3 174.4L100.3 175.1M100.3 174.4L100.9 174.4M100.3 175.1L100.9 175.1M99.3 174.7L99.3 175.4M99.3 174.7L100.3 174.7M99.3 175.4L101.5 175.4M96.2 175.1L96.2 175.6M96.2 175.1L99.3 175.1M96.2 175.6L102.2 175.6M95.1 173.8L95.1 175.4M95.1 173.8L107.3 173.8M95.1 175.4L96.2 175.4M94.2 174.6L94.2 175.8M94.2 174.6L95.1 174.6M94.2 175.8L106.0 175.8M91.8 175.2L91.8 175.9M91.8 175.2L94.2 175.2M91.8 175.9L102.3 175.9M89.7 175.6L89.7 176.3M89.7 175.6L91.8 175.6M89.7 176.3L106.6 176.3M96.6 182.5L96.6 183.2M96.6 182.5L97.2 182.5M96.6 183.2L101.4 183.2M99.7 184.0L99.7 184.6M99.7 184.0L100.3 184.0M99.7 184.6L104.6 184.6M98.2 183.3L98.2 184.3M98.2 183.3L103.6 183.3M98.2 184.3L99.7 184.3M95.1 182.9L95.1 183.8M95.1 182.9L96.6 182.9M95.1 183.8L98.2 183.8M93.7 183.3L93.7 184.9M93.7 183.3L95.1 183.3M93.7 184.9L97.1 184.9M92.7 184.1L92.7 185.5M92.7 184.1L93.7 184.1M92.7 185.5L96.8 185.5M91.0 181.7L91.0 184.8M91.0 181.7L100.0 181.7M91.0 184.8L92.7 184.8M88.2 181.4L88.2 183.2M88.2 181.4L97.5 181.4M88.2 183.2L91.0 183.2M85.6 180.7L85.6 182.3M85.6 180.7L100.5 180.7M85.6 182.3L88.2 182.3M92.6 187.4L92.6 188.2M92.6 187.4L95.9 187.4M92.6 188.2L97.2 188.2M91.7 187.8L91.7 189.0M91.7 187.8L92.6 187.8M91.7 189.0L99.4 189.0M88.7 188.4L88.7 189.3M88.7 188.4L91.7 188.4M88.7 189.3L96.1 189.3M86.7 186.7L86.7 188.8M86.7 186.7L97.5 186.7M86.7 188.8L88.7 188.8M84.5 185.9L84.5 187.8M84.5 185.9L96.3 185.9M84.5 187.8L86.7 187.8M93.7 191.9L93.7 192.7M93.7 191.9L100.1 191.9M93.7 192.7L96.4 192.7M91.9 191.3L91.9 192.3M91.9 191.3L95.6 191.3M91.9 192.3L93.7 192.3M88.5 190.9L88.5 191.8M88.5 190.9L103.2 190.9M88.5 191.8L91.9 191.8M85.8 190.5L85.8 191.3M85.8 190.5L102.1 190.5M85.8 191.3L88.5 191.3M97.4 194.8L97.4 195.4M97.4 194.8L98.5 194.8M97.4 195.4L99.1 195.4M94.2 195.1L94.2 195.9M94.2 195.1L97.4 195.1M94.2 195.9L97.6 195.9M91.4 194.2L91.4 195.5M91.4 194.2L95.2 194.2M91.4 195.5L94.2 195.5M88.6 193.3L88.6 194.8M88.6 193.3L101.7 193.3M88.6 194.8L91.4 194.8M85.7 194.1L85.7 196.1M85.7 194.1L88.6 194.1M85.7 196.1L94.6 196.1M82.8 195.1L82.8 196.5M82.8 195.1L85.7 195.1M82.8 196.5L96.9 196.5M79.7 195.8L79.7 196.9M79.7 195.8L82.8 195.8M79.7 196.9L94.9 196.9M90.6 197.9L90.6 198.5M90.6 197.9L100.8 197.9M90.6 198.5L97.1 198.5M87.9 197.4L87.9 198.2M87.9 197.4L94.0 197.4M87.9 198.2L90.6 198.2M85.8 197.8L85.8 199.1M85.8 197.8L87.9 197.8M85.8 199.1L97.0 199.1M90.7 200.8L90.7 201.2M90.7 200.8L94.5 200.8M90.7 201.2L99.0 201.2M89.7 200.4L89.7 201.0M89.7 200.4L94.3 200.4M89.7 201.0L90.7 201.0M90.3 202.7L90.3 203.2M90.3 202.7L99.8 202.7M90.3 203.2L101.4 203.2M95.9 204.2L95.9 204.9M95.9 204.2L99.4 204.2M95.9 204.9L99.2 204.9M93.1 204.5L93.1 205.7M93.1 204.5L95.9 204.5M93.1 205.7L100.0 205.7M90.0 204.1L90.0 205.1M90.0 204.1L97.0 204.1M90.0 205.1L93.1 205.1M90.1 206.4L90.1 207.0M90.1 206.4L100.0 206.4M90.1 207.0L96.6 207.0M88.4 204.6L88.4 206.7M88.4 204.6L90.0 204.6M88.4 206.7L90.1 206.7M85.6 203.8L85.6 205.6M85.6 203.8L94.8 203.8M85.6 205.6L88.4 205.6M84.3 203.5L84.3 204.7M84.3 203.5L96.2 203.5M84.3 204.7L85.6 204.7M97.9 210.6L97.9 211.6M97.9 210.6L101.8 210.6M97.9 211.6L98.5 211.6M95.6 209.7L95.6 211.1M95.6 209.7L96.5 209.7M95.6 211.1L97.9 211.1M93.5 210.4L93.5 211.8M93.5 210.4L95.6 210.4M93.5 211.8L102.3 211.8M91.5 211.1L91.5 212.0M91.5 211.1L93.5 211.1M91.5 212.0L102.9 212.0M90.2 211.6L90.2 212.1M90.2 211.6L91.5 211.6M90.2 212.1L96.9 212.1M89.3 211.8L89.3 212.4M89.3 211.8L90.2 211.8M89.3 212.4L98.8 212.4M86.8 212.1L86.8 212.9M86.8 212.1L89.3 212.1M86.8 212.9L96.8 212.9M84.3 209.4L84.3 212.5M84.3 209.4L95.3 209.4M84.3 212.5L86.8 212.5M82.3 209.0L82.3 211.0M82.3 209.0L101.3 209.0M82.3 211.0L84.3 211.0M92.3 214.5L92.3 215.2M92.3 214.5L98.3 214.5M92.3 215.2L101.4 215.2M91.3 214.3L91.3 214.8M91.3 214.3L100.7 214.3M91.3 214.8L92.3 214.8M90.0 214.0L90.0 214.6M90.0 214.0L94.9 214.0M90.0 214.6L91.3 214.6M89.2 213.7L89.2 214.3M89.2 213.7L101.4 213.7M89.2 214.3L90.0 214.3M87.6 213.5L87.6 214.0M87.6 213.5L101.8 213.5M87.6 214.0L89.2 214.0M85.8 213.3L85.8 213.8M85.8 213.3L99.2 213.3M85.8 213.8L87.6 213.8M88.1 216.6L88.1 217.5M88.1 216.6L101.1 216.6M88.1 217.5L101.7 217.5M95.3 220.9L95.3 221.6M95.3 220.9L95.9 220.9M95.3 221.6L100.2 221.6M93.3 220.6L93.3 221.2M93.3 220.6L96.8 220.6M93.3 221.2L95.3 221.2M92.2 220.4L92.2 220.9M92.2 220.4L95.2 220.4M92.2 220.9L93.3 220.9M89.9 220.2L89.9 220.6M89.9 220.2L101.2 220.2M89.9 220.6L92.2 220.6M86.6 220.1L86.6 220.4M86.6 220.1L99.0 220.1M86.6 220.4L89.9 220.4M84.9 219.3L84.9 220.2M84.9 219.3L99.5 219.3M84.9 220.2L86.6 220.2M83.4 218.3L83.4 219.8M83.4 218.3L102.1 218.3M83.4 219.8L84.9 219.8M81.7 219.0L81.7 222.3M81.7 219.0L83.4 219.0M81.7 222.3L95.5 222.3M79.1 220.7L79.1 222.6M79.1 220.7L81.7 220.7M79.1 222.6L95.3 222.6M76.5 217.8L76.5 221.6M76.5 217.8L102.3 217.8M76.5 221.6L79.1 221.6M92.3 224.5L92.3 225.5M92.3 224.5L92.9 224.5M92.3 225.5L93.4 225.5M88.8 225.0L88.8 226.0M88.8 225.0L92.3 225.0M88.8 226.0L92.9 226.0M87.0 223.8L87.0 225.5M87.0 223.8L92.2 223.8M87.0 225.5L88.8 225.5M83.5 223.7L83.5 224.7M83.5 223.7L96.6 223.7M83.5 224.7L87.0 224.7M84.6 226.1L84.6 226.8M84.6 226.1L94.2 226.1M84.6 226.8L91.1 226.8M86.5 228.1L86.5 228.9M86.5 228.1L95.1 228.1M86.5 228.9L96.7 228.9M85.0 227.6L85.0 228.5M85.0 227.6L90.8 227.6M85.0 228.5L86.5 228.5M83.1 228.0L83.1 229.4M83.1 228.0L85.0 228.0M83.1 229.4L91.0 229.4M79.8 228.7L79.8 229.6M79.8 228.7L83.1 228.7M79.8 229.6L87.8 229.6M77.9 226.4L77.9 229.2M77.9 226.4L84.6 226.4M77.9 229.2L79.8 229.2M84.0 235.2L84.0 236.1M84.0 235.2L89.0 235.2M84.0 236.1L85.8 236.1M84.0 236.9L84.0 237.6M84.0 236.9L92.4 236.9M84.0 237.6L89.1 237.6M80.9 235.7L80.9 237.2M80.9 235.7L84.0 235.7M80.9 237.2L84.0 237.2M78.4 234.5L78.4 236.4M78.4 234.5L91.6 234.5M78.4 236.4L80.9 236.4M76.5 233.9L76.5 235.5M76.5 233.9L85.9 233.9M76.5 235.5L78.4 235.5M73.0 233.0L73.0 234.7M73.0 233.0L88.3 233.0M73.0 234.7L76.5 234.7M86.6 240.6L86.6 241.4M86.6 240.6L90.1 240.6M86.6 241.4L91.2 241.4M83.2 240.0L83.2 241.0M83.2 240.0L94.0 240.0M83.2 241.0L86.6 241.0M81.6 240.5L81.6 241.9M81.6 240.5L83.2 240.5M81.6 241.9L88.8 241.9M80.1 241.2L80.1 242.0M80.1 241.2L81.6 241.2M80.1 242.0L94.1 242.0M87.9 243.3L87.9 244.2M87.9 243.3L88.5 243.3M87.9 244.2L91.7 244.2M85.2 243.0L85.2 243.7M85.2 243.0L93.3 243.0M85.2 243.7L87.9 243.7M81.8 242.6L81.8 243.4M81.8 242.6L87.6 242.6M81.8 243.4L85.2 243.4M80.6 242.2L80.6 243.0M80.6 242.2L89.4 242.2M80.6 243.0L81.8 243.0M78.4 241.6L78.4 242.6M78.4 241.6L80.1 241.6M78.4 242.6L80.6 242.6M75.3 239.7L75.3 242.1M75.3 239.7L90.1 239.7M75.3 242.1L78.4 242.1M72.0 239.2L72.0 240.9M72.0 239.2L89.2 239.2M72.0 240.9L75.3 240.9M83.1 245.6L83.1 246.3M83.1 245.6L89.7 245.6M83.1 246.3L91.3 246.3M81.4 245.5L81.4 245.9M81.4 245.5L90.2 245.5M81.4 245.9L83.1 245.9M83.1 247.6L83.1 248.4M83.1 247.6L92.1 247.6M83.1 248.4L93.9 248.4M80.5 248.0L80.5 248.6M80.5 248.0L83.1 248.0M80.5 248.6L93.4 248.6M77.9 245.7L77.9 248.3M77.9 245.7L81.4 245.7M77.9 248.3L80.5 248.3M76.5 245.1L76.5 247.0M76.5 245.1L87.4 245.1M76.5 247.0L77.9 247.0M74.5 246.0L74.5 249.2M74.5 246.0L76.5 246.0M74.5 249.2L88.8 249.2M71.8 247.6L71.8 249.8M71.8 247.6L74.5 247.6M71.8 249.8L93.0 249.8M96.5 258.8L96.5 259.8M96.5 258.8L97.1 258.8M96.5 259.8L100.9 259.8M95.3 258.2L95.3 259.3M95.3 258.2L95.9 258.2M95.3 259.3L96.5 259.3M94.2 257.4L94.2 258.7M94.2 257.4L95.1 257.4M94.2 258.7L95.3 258.7M91.2 256.6L91.2 258.1M91.2 256.6L95.9 256.6M91.2 258.1L94.2 258.1M88.2 256.1L88.2 257.3M88.2 256.1L94.3 256.1M88.2 257.3L91.2 257.3M85.0 255.3L85.0 256.7M85.0 255.3L100.9 255.3M85.0 256.7L88.2 256.7M93.5 261.7L93.5 262.5M93.5 261.7L101.7 261.7M93.5 262.5L94.2 262.5M91.7 262.1L91.7 263.2M91.7 262.1L93.5 262.1M91.7 263.2L99.6 263.2M89.7 261.4L89.7 262.7M89.7 261.4L99.9 261.4M89.7 262.7L91.7 262.7M87.3 261.2L87.3 262.0M87.3 261.2L98.2 261.2M87.3 262.0L89.7 262.0M84.7 260.9L84.7 261.6M84.7 260.9L95.1 260.9M84.7 261.6L87.3 261.6M90.0 264.6L90.0 265.2M90.0 264.6L100.3 264.6M90.0 265.2L93.4 265.2M92.6 266.0L92.6 266.8M92.6 266.0L93.2 266.0M92.6 266.8L99.0 266.8M89.8 266.4L89.8 266.8M89.8 266.4L92.6 266.4M89.8 266.8L94.1 266.8M87.7 264.9L87.7 266.6M87.7 264.9L90.0 264.9M87.7 266.6L89.8 266.6M85.6 263.7L85.6 265.8M85.6 263.7L100.9 263.7M85.6 265.8L87.7 265.8M84.6 264.7L84.6 267.1M84.6 264.7L85.6 264.7M84.6 267.1L96.3 267.1M83.3 263.4L83.3 265.9M83.3 263.4L96.3 263.4M83.3 265.9L84.6 265.9M90.6 268.7L90.6 269.3M90.6 268.7L91.2 268.7M90.6 269.3L91.2 269.3M87.8 268.4L87.8 269.0M87.8 268.4L92.9 268.4M87.8 269.0L90.6 269.0M84.6 268.2L84.6 268.7M84.6 268.2L96.2 268.2M84.6 268.7L87.8 268.7M83.6 268.5L83.6 270.0M83.6 268.5L84.6 268.5M83.6 270.0L92.0 270.0M82.4 268.0L82.4 269.2M82.4 268.0L96.7 268.0M82.4 269.2L83.6 269.2M74.8 268.6L74.8 271.0M74.8 268.6L82.4 268.6M74.8 271.0L93.7 271.0M82.9 272.4L82.9 273.4M82.9 272.4L94.8 272.4M82.9 273.4L91.5 273.4M79.4 272.9L79.4 274.2M79.4 272.9L82.9 272.9M79.4 274.2L96.0 274.2M78.5 273.5L78.5 274.6M78.5 273.5L79.4 273.5M78.5 274.6L89.8 274.6M83.3 275.1L83.3 276.1M83.3 275.1L97.3 275.1M83.3 276.1L90.3 276.1M80.5 274.9L80.5 275.6M80.5 274.9L98.0 274.9M80.5 275.6L83.3 275.6M73.5 274.0L73.5 275.2M73.5 274.0L78.5 274.0M73.5 275.2L80.5 275.2M91.6 278.8L91.6 280.0M91.6 278.8L92.9 278.8M91.6 280.0L92.2 280.0M88.9 279.4L88.9 281.2M88.9 279.4L91.6 279.4M88.9 281.2L95.7 281.2M86.9 280.3L86.9 281.4M86.9 280.3L88.9 280.3M86.9 281.4L95.5 281.4M84.9 278.5L84.9 280.9M84.9 278.5L92.2 278.5M84.9 280.9L86.9 280.9M81.6 279.7L81.6 281.7M81.6 279.7L84.9 279.7M81.6 281.7L90.9 281.7M78.8 278.1L78.8 280.7M78.8 278.1L93.4 278.1M78.8 280.7L81.6 280.7M85.5 283.7L85.5 284.5M85.5 283.7L96.1 283.7M85.5 284.5L90.7 284.5M84.1 283.5L84.1 284.1M84.1 283.5L90.8 283.5M84.1 284.1L85.5 284.1M81.1 283.2L81.1 283.8M81.1 283.2L92.2 283.2M81.1 283.8L84.1 283.8M90.1 286.6L90.1 287.3M90.1 286.6L92.1 286.6M90.1 287.3L90.7 287.3M89.0 286.3L89.0 286.9M89.0 286.3L93.7 286.3M89.0 286.9L90.1 286.9M87.7 286.1L87.7 286.6M87.7 286.1L96.3 286.1M87.7 286.6L89.0 286.6M86.7 285.9L86.7 286.4M86.7 285.9L92.0 285.9M86.7 286.4L87.7 286.4M83.7 285.6L83.7 286.1M83.7 285.6L92.6 285.6M83.7 286.1L86.7 286.1M82.5 285.9L82.5 287.9M82.5 285.9L83.7 285.9M82.5 287.9L95.8 287.9M79.6 285.4L79.6 286.9M79.6 285.4L94.9 285.4M79.6 286.9L82.5 286.9M85.5 288.6L85.5 289.4M85.5 288.6L94.4 288.6M85.5 289.4L96.4 289.4M82.7 289.0L82.7 289.6M82.7 289.0L85.5 289.0M82.7 289.6L90.0 289.6M88.5 291.4L88.5 292.0M88.5 291.4L94.3 291.4M88.5 292.0L90.3 292.0M87.6 290.9L87.6 291.7M87.6 290.9L96.1 290.9M87.6 291.7L88.5 291.7M86.5 290.3L86.5 291.3M86.5 290.3L96.0 290.3M86.5 291.3L87.6 291.3M84.7 290.1L84.7 290.8M84.7 290.1L89.5 290.1M84.7 290.8L86.5 290.8M81.6 289.8L81.6 290.4M81.6 289.8L97.1 289.8M81.6 290.4L84.7 290.4M78.9 290.1L78.9 292.6M78.9 290.1L81.6 290.1M78.9 292.6L90.5 292.6M82.9 293.6L82.9 294.6M82.9 293.6L92.5 293.6M82.9 294.6L96.9 294.6M80.7 293.0L80.7 294.1M80.7 293.0L89.4 293.0M80.7 294.1L82.9 294.1M90.5 295.7L90.5 296.1M90.5 295.7L95.3 295.7M90.5 296.1L96.2 296.1M87.8 295.9L87.8 296.3M87.8 295.9L90.5 295.9M87.8 296.3L98.0 296.3M86.0 296.1L86.0 296.5M86.0 296.1L87.8 296.1M86.0 296.5L90.3 296.5M83.3 296.3L83.3 296.6M83.3 296.3L86.0 296.3M83.3 296.6L96.0 296.6M92.5 297.7L92.5 298.8M92.5 297.7L93.7 297.7M92.5 298.8L93.6 298.8M90.5 298.3L90.5 299.9M90.5 298.3L92.5 298.3M90.5 299.9L91.1 299.9M87.3 299.1L87.3 300.1M87.3 299.1L90.5 299.1M87.3 300.1L89.1 300.1M86.2 299.6L86.2 300.3M86.2 299.6L87.3 299.6M86.2 300.3L94.3 300.3M84.1 299.9L84.1 300.5M84.1 299.9L86.2 299.9M84.1 300.5L96.3 300.5M82.8 300.2L82.8 301.0M82.8 300.2L84.1 300.2M82.8 301.0L93.9 301.0M80.8 297.3L80.8 300.6M80.8 297.3L92.6 297.3M80.8 300.6L82.8 300.6M79.5 296.8L79.5 299.0M79.5 296.8L97.5 296.8M79.5 299.0L80.8 299.0M77.8 297.9L77.8 301.3M77.8 297.9L79.5 297.9M77.8 301.3L97.1 301.3M75.4 299.6L75.4 301.6M75.4 299.6L77.8 299.6M75.4 301.6L90.4 301.6M89.5 303.6L89.5 304.1M89.5 303.6L98.4 303.6M89.5 304.1L93.5 304.1M87.4 303.9L87.4 304.5M87.4 303.9L89.5 303.9M87.4 304.5L92.9 304.5M84.5 302.6L84.5 304.2M84.5 302.6L98.3 302.6M84.5 304.2L87.4 304.2M82.1 302.1L82.1 303.4M82.1 302.1L97.5 302.1M82.1 303.4L84.5 303.4M79.2 301.9L79.2 302.7M79.2 301.9L92.8 301.9M79.2 302.7L82.1 302.7M123.3 308.0L123.3 308.9M123.3 308.0L123.9 308.0M123.3 308.9L123.9 308.9M121.8 307.1L121.8 308.5M121.8 307.1L122.4 307.1M121.8 308.5L123.3 308.5M118.8 306.9L118.8 307.8M118.8 306.9L120.6 306.9M118.8 307.8L121.8 307.8M117.5 306.4L117.5 307.3M117.5 306.4L128.2 306.4M117.5 307.3L118.8 307.3M115.3 305.8L115.3 306.9M115.3 305.8L128.1 305.8M115.3 306.9L117.5 306.9M112.5 306.4L112.5 309.4M112.5 306.4L115.3 306.4M112.5 309.4L125.3 309.4M122.9 311.6L122.9 312.8M122.9 311.6L125.0 311.6M122.9 312.8L125.7 312.8M120.2 311.1L120.2 312.2M120.2 311.1L121.8 311.1M120.2 312.2L122.9 312.2M117.6 310.6L117.6 311.6M117.6 310.6L121.8 310.6M117.6 311.6L120.2 311.6M116.1 310.2L116.1 311.1M116.1 310.2L126.9 310.2M116.1 311.1L117.6 311.1M114.6 309.9L114.6 310.7M114.6 309.9L126.1 309.9M114.6 310.7L116.1 310.7M122.7 314.6L122.7 315.6M122.7 314.6L127.3 314.6M122.7 315.6L123.3 315.6M119.9 314.3L119.9 315.1M119.9 314.3L123.9 314.3M119.9 315.1L122.7 315.1M122.1 316.8L122.1 317.6M122.1 316.8L127.6 316.8M122.1 317.6L127.9 317.6M121.9 318.5L121.9 319.0M121.9 318.5L123.9 318.5M121.9 319.0L127.4 319.0M119.7 317.2L119.7 318.7M119.7 317.2L122.1 317.2M119.7 318.7L121.9 318.7M118.8 316.6L118.8 317.9M118.8 316.6L127.9 316.6M118.8 317.9L119.7 317.9M116.6 314.7L116.6 317.3M116.6 314.7L119.9 314.7M116.6 317.3L118.8 317.3M114.8 316.0L114.8 319.7M114.8 316.0L116.6 316.0M114.8 319.7L122.3 319.7M122.2 320.6L122.2 321.4M122.2 320.6L123.4 320.6M122.2 321.4L123.5 321.4M119.1 320.2L119.1 321.0M119.1 320.2L123.9 320.2M119.1 321.0L122.2 321.0M116.6 320.1L116.6 320.6M116.6 320.1L127.5 320.1M116.6 320.6L119.1 320.6M117.8 323.4L117.8 324.1M117.8 323.4L120.9 323.4M117.8 324.1L125.9 324.1M121.5 328.7L121.5 329.7M121.5 328.7L124.4 328.7M121.5 329.7L123.6 329.7M119.5 327.8L119.5 329.2M119.5 327.8L123.1 327.8M119.5 329.2L121.5 329.2M118.4 328.5L118.4 331.1M118.4 328.5L119.5 328.5M118.4 331.1L119.0 331.1M116.5 326.4L116.5 329.8M116.5 326.4L119.9 326.4M116.5 329.8L118.4 329.8M115.1 325.7L115.1 328.1M115.1 325.7L126.5 325.7M115.1 328.1L116.5 328.1M108.5 332.0L108.5 333.2M108.5 332.0L113.5 332.0M108.5 333.2L116.1 333.2M105.4 332.6L105.4 333.9M105.4 332.6L108.5 332.6M105.4 333.9L106.8 333.9M108.7 335.2L108.7 336.5M108.7 335.2L109.3 335.2M108.7 336.5L111.5 336.5M107.6 335.9L107.6 336.9M107.6 335.9L108.7 335.9M107.6 336.9L108.2 336.9M105.1 336.4L105.1 337.4M105.1 336.4L107.6 336.4M105.1 337.4L108.6 337.4M102.3 336.9L102.3 337.9M102.3 336.9L105.1 336.9M102.3 337.9L113.6 337.9M109.2 340.1L109.2 341.0M109.2 340.1L109.8 340.1M109.2 341.0L109.8 341.0M108.0 340.5L108.0 341.2M108.0 340.5L109.2 340.5M108.0 341.2L114.2 341.2M105.1 340.9L105.1 341.3M105.1 340.9L108.0 340.9M105.1 341.3L114.7 341.3M103.4 341.1L103.4 341.5M103.4 341.1L105.1 341.1M103.4 341.5L107.5 341.5M106.2 342.3L106.2 343.5M106.2 342.3L107.1 342.3M106.2 343.5L106.8 343.5M104.0 342.9L104.0 344.3M104.0 342.9L106.2 342.9M104.0 344.3L112.7 344.3M101.3 343.6L101.3 344.9M101.3 343.6L104.0 343.6M101.3 344.9L114.2 344.9M104.5 345.5L104.5 346.2M104.5 345.5L107.7 345.5M104.5 346.2L112.1 346.2M108.6 349.0L108.6 350.3M108.6 349.0L109.2 349.0M108.6 350.3L111.2 350.3M106.9 348.7L106.9 349.6M106.9 348.7L113.3 348.7M106.9 349.6L108.6 349.6M109.5 351.7L109.5 352.9M109.5 351.7L111.7 351.7M109.5 352.9L110.1 352.9M107.9 351.4L107.9 352.3M107.9 351.4L114.0 351.4M107.9 352.3L109.5 352.3M105.5 349.2L105.5 351.9M105.5 349.2L106.9 349.2M105.5 351.9L107.9 351.9M104.6 348.4L104.6 350.5M104.6 348.4L113.0 348.4M104.6 350.5L105.5 350.5M109.5 355.3L109.5 356.8M109.5 355.3L110.9 355.3M109.5 356.8L112.3 356.8M107.6 356.0L107.6 357.3M107.6 356.0L109.5 356.0M107.6 357.3L115.8 357.3M104.5 356.7L104.5 357.9M104.5 356.7L107.6 356.7M104.5 357.9L114.4 357.9M102.2 357.3L102.2 358.4M102.2 357.3L104.5 357.3M102.2 358.4L122.3 358.4M116.7 359.1L116.7 359.6M116.7 359.1L118.8 359.1M116.7 359.6L119.9 359.6M99.3 357.8L99.3 359.3M99.3 357.8L102.2 357.8M99.3 359.3L116.7 359.3M121.4 360.4L121.4 361.1M121.4 360.4L124.4 360.4M121.4 361.1L122.0 361.1M120.1 360.8L120.1 361.9M120.1 360.8L121.4 360.8M120.1 361.9L120.7 361.9M118.6 360.1L118.6 361.3M118.6 360.1L121.7 360.1M118.6 361.3L120.1 361.3M115.7 359.7L115.7 360.7M115.7 359.7L127.7 359.7M115.7 360.7L118.6 360.7M116.1 365.2L116.1 365.9M116.1 365.2L116.7 365.2M116.1 365.9L116.7 365.9M115.0 364.5L115.0 365.5M115.0 364.5L122.0 364.5M115.0 365.5L116.1 365.5M113.4 364.3L113.4 365.0M113.4 364.3L120.6 364.3M113.4 365.0L115.0 365.0M112.2 364.1L112.2 364.7M112.2 364.1L114.9 364.1M112.2 364.7L113.4 364.7M109.6 364.4L109.6 366.1M109.6 364.4L112.2 364.4M109.6 366.1L120.6 366.1M108.5 363.8L108.5 365.2M108.5 363.8L120.3 363.8M108.5 365.2L109.6 365.2M105.3 362.8L105.3 364.5M105.3 362.8L118.4 362.8M105.3 364.5L108.5 364.5M110.8 367.2L110.8 367.9M110.8 367.2L121.5 367.2M110.8 367.9L117.2 367.9M109.9 366.5L109.9 367.5M109.9 366.5L119.8 366.5M109.9 367.5L110.8 367.5M107.3 367.0L107.3 368.4M107.3 367.0L109.9 367.0M107.3 368.4L117.3 368.4M114.7 369.6L114.7 370.5M114.7 369.6L115.3 369.6M114.7 370.5L116.9 370.5M113.7 369.3L113.7 370.0M113.7 369.3L119.5 369.3M113.7 370.0L114.7 370.0M110.3 368.9L110.3 369.6M110.3 368.9L117.0 368.9M110.3 369.6L113.7 369.6M109.0 371.6L109.0 372.4M109.0 371.6L114.2 371.6M109.0 372.4L111.6 372.4M107.5 369.2L107.5 372.0M107.5 369.2L110.3 369.2M107.5 372.0L109.0 372.0M106.0 377.4L106.0 378.3M106.0 377.4L115.5 377.4M106.0 378.3L112.1 378.3M104.5 377.1L104.5 377.8M104.5 377.1L112.7 377.1M104.5 377.8L106.0 377.8M110.3 380.2L110.3 381.3M110.3 380.2L114.2 380.2M110.3 381.3L110.9 381.3M108.5 380.1L108.5 380.8M108.5 380.1L114.6 380.1M108.5 380.8L110.3 380.8M106.0 379.9L106.0 380.4M106.0 379.9L114.8 379.9M106.0 380.4L108.5 380.4M104.3 379.7L104.3 380.2M104.3 379.7L114.2 379.7M104.3 380.2L106.0 380.2M102.5 379.5L102.5 379.9M102.5 379.5L110.6 379.5M102.5 379.9L104.3 379.9M101.3 379.4L101.3 379.7M101.3 379.4L111.0 379.4M101.3 379.7L102.5 379.7M98.5 379.2L98.5 379.5M98.5 379.2L113.3 379.2M98.5 379.5L101.3 379.5M101.6 382.7L101.6 383.5M101.6 382.7L107.7 382.7M101.6 383.5L106.0 383.5M99.5 382.4L99.5 383.1M99.5 382.4L106.0 382.4M99.5 383.1L101.6 383.1M99.4 384.2L99.4 385.0M99.4 384.2L106.6 384.2M99.4 385.0L109.7 385.0M100.4 386.2L100.4 386.8M100.4 386.2L105.0 386.2M100.4 386.8L106.6 386.8M98.6 385.8L98.6 386.5M98.6 385.8L107.3 385.8M98.6 386.5L100.4 386.5M100.2 387.2L100.2 387.9M100.2 387.2L108.0 387.2M100.2 387.9L107.2 387.9M96.9 387.6L96.9 388.4M96.9 387.6L100.2 387.6M96.9 388.4L106.4 388.4M90.9 396.9L90.9 399.7M90.9 396.9L96.1 396.9M90.9 399.7L91.5 399.7M88.3 401.6L88.3 402.4M88.3 401.6L89.5 401.6M88.3 402.4L95.9 402.4M86.0 402.0L86.0 402.6M86.0 402.0L88.3 402.0M86.0 402.6L94.5 402.6M82.9 402.3L82.9 402.7M82.9 402.3L86.0 402.3M82.9 402.7L96.3 402.7M86.8 403.3L86.8 404.0M86.8 403.3L93.5 403.3M86.8 404.0L88.7 404.0M83.5 403.7L83.5 404.2M83.5 403.7L86.8 403.7M83.5 404.2L94.5 404.2M85.5 404.8L85.5 405.4M85.5 404.8L93.9 404.8M85.5 405.4L92.4 405.4M82.8 405.1L82.8 405.6M82.8 405.1L85.5 405.1M82.8 405.6L88.4 405.6M83.3 407.5L83.3 408.3M83.3 407.5L92.3 407.5M83.3 408.3L91.1 408.3M82.3 407.1L82.3 407.9M82.3 407.1L93.2 407.1M82.3 407.9L83.3 407.9M90.6 409.8L90.6 410.6M90.6 409.8L91.2 409.8M90.6 410.6L91.2 410.6M89.0 408.9L89.0 410.2M89.0 408.9L89.6 408.9M89.0 410.2L90.6 410.2M87.1 409.6L87.1 410.9M87.1 409.6L89.0 409.6M87.1 410.9L91.2 410.9M85.4 410.3L85.4 411.2M85.4 410.3L87.1 410.3M85.4 411.2L94.7 411.2M82.3 410.7L82.3 411.3M82.3 410.7L85.4 410.7M82.3 411.3L95.5 411.3M80.5 407.5L80.5 411.0M80.5 407.5L82.3 407.5M80.5 411.0L82.3 411.0M77.3 407.0L77.3 409.3M77.3 407.0L88.3 407.0M77.3 409.3L80.5 409.3M74.7 406.6L74.7 408.1M74.7 406.6L94.0 406.6M74.7 408.1L77.3 408.1M73.2 405.9L73.2 407.3M73.2 405.9L88.5 405.9M73.2 407.3L74.7 407.3M82.1 412.4L82.1 413.3M82.1 412.4L87.4 412.4M82.1 413.3L88.5 413.3M89.9 415.3L89.9 415.9M89.9 415.3L95.0 415.3M89.9 415.9L94.4 415.9M86.8 415.6L86.8 416.5M86.8 415.6L89.9 415.6M86.8 416.5L94.9 416.5M85.9 416.0L85.9 416.6M85.9 416.0L86.8 416.0M85.9 416.6L93.3 416.6M84.7 414.7L84.7 416.3M84.7 414.7L89.8 414.7M84.7 416.3L85.9 416.3M82.2 414.0L82.2 415.5M82.2 414.0L91.9 414.0M82.2 415.5L84.7 415.5M81.3 414.8L81.3 416.9M81.3 414.8L82.2 414.8M81.3 416.9L92.1 416.9M78.2 415.9L78.2 417.4M78.2 415.9L81.3 415.9M78.2 417.4L93.8 417.4M75.1 416.6L75.1 417.8M75.1 416.6L78.2 416.6M75.1 417.8L89.6 417.8M72.7 413.8L72.7 417.2M72.7 413.8L95.7 413.8M72.7 417.2L75.1 417.2M86.8 419.7L86.8 420.6M86.8 419.7L89.9 419.7M86.8 420.6L88.7 420.6M84.7 419.6L84.7 420.2M84.7 419.6L89.7 419.6M84.7 420.2L86.8 420.2M82.1 419.4L82.1 419.9M82.1 419.4L87.6 419.4M82.1 419.9L84.7 419.9M81.2 419.1L81.2 419.6M81.2 419.1L87.5 419.1M81.2 419.6L82.1 419.6M78.8 418.9L78.8 419.4M78.8 418.9L92.7 418.9M78.8 419.4L81.2 419.4M76.3 418.6L76.3 419.1M76.3 418.6L94.6 418.6M76.3 419.1L78.8 419.1M75.3 418.1L75.3 418.8M75.3 418.1L89.0 418.1M75.3 418.8L76.3 418.8M89.7 422.7L89.7 423.3M89.7 422.7L90.3 422.7M89.7 423.3L90.3 423.3M88.6 422.6L88.6 423.0M88.6 422.6L90.8 422.6M88.6 423.0L89.7 423.0M87.7 422.8L87.7 424.0M87.7 422.8L88.6 422.8M87.7 424.0L91.5 424.0M85.8 422.5L85.8 423.4M85.8 422.5L91.2 422.5M85.8 423.4L87.7 423.4M82.7 422.9L82.7 424.2M82.7 422.9L85.8 422.9M82.7 424.2L93.9 424.2M81.1 422.4L81.1 423.6M81.1 422.4L87.4 422.4M81.1 423.6L82.7 423.6M79.9 422.1L79.9 423.0M79.9 422.1L94.2 422.1M79.9 423.0L81.1 423.0M78.3 421.7L78.3 422.5M78.3 421.7L89.4 421.7M78.3 422.5L79.9 422.5M82.6 424.5L82.6 425.1M82.6 424.5L87.4 424.5M82.6 425.1L94.1 425.1M81.7 424.8L81.7 425.7M81.7 424.8L82.6 424.8M81.7 425.7L92.0 425.7M79.2 425.2L79.2 426.5M79.2 425.2L81.7 425.2M79.2 426.5L90.3 426.5M76.3 425.8L76.3 427.2M76.3 425.8L79.2 425.8M76.3 427.2L96.5 427.2M74.0 426.5L74.0 427.5M74.0 426.5L76.3 426.5M74.0 427.5L96.1 427.5M88.8 428.1L88.8 429.0M88.8 428.1L91.3 428.1M88.8 429.0L95.0 429.0M87.5 428.5L87.5 429.8M87.5 428.5L88.8 428.5M87.5 429.8L96.9 429.8M86.5 427.8L86.5 429.2M86.5 427.8L95.5 427.8M86.5 429.2L87.5 429.2M83.5 428.5L83.5 430.0M83.5 428.5L86.5 428.5M83.5 430.0L100.8 430.0M86.4 431.1L86.4 431.9M86.4 431.1L90.0 431.1M86.4 431.9L90.1 431.9M83.4 430.1L83.4 431.5M83.4 430.1L98.3 430.1M83.4 431.5L86.4 431.5M82.3 430.8L82.3 432.1M82.3 430.8L83.4 430.8M82.3 432.1L92.1 432.1M80.7 431.5L80.7 432.5M80.7 431.5L82.3 431.5M80.7 432.5L86.0 432.5M85.2 434.5L85.2 435.4M85.2 434.5L88.2 434.5M85.2 435.4L88.8 435.4M82.7 434.0L82.7 434.9M82.7 434.0L89.9 434.0M82.7 434.9L85.2 434.9M81.5 433.9L81.5 434.5M81.5 433.9L92.5 433.9M81.5 434.5L82.7 434.5M78.3 433.7L78.3 434.2M78.3 433.7L86.9 433.7M78.3 434.2L81.5 434.2M78.9 436.1L78.9 436.8M78.9 436.1L85.4 436.1M78.9 436.8L90.0 436.8M75.2 433.9L75.2 436.5M75.2 433.9L78.3 433.9M75.2 436.5L78.9 436.5M72.0 433.5L72.0 435.2M72.0 433.5L92.7 433.5M72.0 435.2L75.2 435.2M70.3 433.0L70.3 434.3M70.3 433.0L89.5 433.0M70.3 434.3L72.0 434.3M81.3 440.1L81.3 440.8M81.3 440.1L90.4 440.1M81.3 440.8L85.6 440.8M78.9 439.9L78.9 440.4M78.9 439.9L85.0 439.9M78.9 440.4L81.3 440.4M80.6 443.1L80.6 444.0M80.6 443.1L91.9 443.1M80.6 444.0L86.5 444.0M78.8 442.9L78.8 443.6M78.8 442.9L90.0 442.9M78.8 443.6L80.6 443.6M77.8 442.7L77.8 443.2M77.8 442.7L89.6 442.7M77.8 443.2L78.8 443.2M74.5 442.4L74.5 443.0M74.5 442.4L92.7 442.4M74.5 443.0L77.8 443.0M85.5 445.8L85.5 446.5M85.5 445.8L92.5 445.8M85.5 446.5L86.1 446.5M83.0 445.2L83.0 446.1M83.0 445.2L84.2 445.2M83.0 446.1L85.5 446.1M80.9 445.7L80.9 447.3M80.9 445.7L83.0 445.7M80.9 447.3L89.0 447.3M78.7 446.5L78.7 447.6M78.7 446.5L80.9 446.5M78.7 447.6L90.5 447.6M76.0 447.0L76.0 447.9M76.0 447.0L78.7 447.0M76.0 447.9L85.3 447.9M73.0 447.5L73.0 448.4M73.0 447.5L76.0 447.5M73.0 448.4L89.6 448.4M71.4 447.9L71.4 449.0M71.4 447.9L73.0 447.9M71.4 449.0L90.5 449.0M84.0 450.0L84.0 450.5M84.0 450.0L89.4 450.0M84.0 450.5L87.4 450.5M83.1 450.2L83.1 450.6M83.1 450.2L84.0 450.2M83.1 450.6L89.9 450.6M80.7 450.4L80.7 451.0M80.7 450.4L83.1 450.4M80.7 451.0L90.5 451.0M77.5 450.7L77.5 451.5M77.5 450.7L80.7 450.7M77.5 451.5L89.0 451.5M75.4 451.1L75.4 451.7M75.4 451.1L77.5 451.1M75.4 451.7L91.9 451.7M86.8 455.3L86.8 456.3M86.8 455.3L87.4 455.3M86.8 456.3L91.1 456.3M84.0 454.2L84.0 455.8M84.0 454.2L87.1 454.2M84.0 455.8L86.8 455.8M82.6 454.0L82.6 455.0M82.6 454.0L84.1 454.0M82.6 455.0L84.0 455.0M80.7 454.5L80.7 456.5M80.7 454.5L82.6 454.5M80.7 456.5L88.5 456.5M77.2 453.7L77.2 455.5M77.2 453.7L84.1 453.7M77.2 455.5L80.7 455.5M82.8 457.3L82.8 458.1M82.8 457.3L86.1 457.3M82.8 458.1L84.0 458.1M80.2 456.7L80.2 457.7M80.2 456.7L84.3 456.7M80.2 457.7L82.8 457.7M78.9 457.2L78.9 458.5M78.9 457.2L80.2 457.2M78.9 458.5L91.9 458.5M85.8 458.9L85.8 459.5M85.8 458.9L86.4 458.9M85.8 459.5L89.0 459.5M84.4 458.8L84.4 459.2M84.4 458.8L86.5 458.8M84.4 459.2L85.8 459.2M83.1 458.7L83.1 459.0M83.1 458.7L85.7 458.7M83.1 459.0L84.4 459.0M86.7 460.2L86.7 461.0M86.7 460.2L89.2 460.2M86.7 461.0L89.1 461.0M83.7 460.1L83.7 460.6M83.7 460.1L90.6 460.1M83.7 460.6L86.7 460.6M80.4 458.8L80.4 460.3M80.4 458.8L83.1 458.8M80.4 460.3L83.7 460.3M77.3 457.9L77.3 459.6M77.3 457.9L78.9 457.9M77.3 459.6L80.4 459.6M77.7 464.0L77.7 464.6M77.7 464.0L89.7 464.0M77.7 464.6L83.6 464.6M75.2 463.0L75.2 464.3M75.2 463.0L83.3 463.0M75.2 464.3L77.7 464.3M78.6 465.1L78.6 466.0M78.6 465.1L91.6 465.1M78.6 466.0L84.1 466.0M75.2 465.5L75.2 466.6M75.2 465.5L78.6 465.5M75.2 466.6L85.6 466.6M78.7 467.5L78.7 468.3M78.7 467.5L86.6 467.5M78.7 468.3L91.4 468.3M72.6 467.9L72.6 469.6M72.6 467.9L78.7 467.9M72.6 469.6L85.4 469.6M82.4 471.6L82.4 472.5M82.4 471.6L84.0 471.6M82.4 472.5L84.9 472.5M79.6 470.7L79.6 472.0M79.6 470.7L83.0 470.7M79.6 472.0L82.4 472.0M78.3 470.5L78.3 471.4M78.3 470.5L90.5 470.5M78.3 471.4L79.6 471.4M76.1 470.3L76.1 471.0M76.1 470.3L85.8 470.3M76.1 471.0L78.3 471.0M65.7 468.7L65.7 470.6M65.7 468.7L72.6 468.7M65.7 470.6L76.1 470.6M80.9 474.1L80.9 474.8M80.9 474.1L90.5 474.1M80.9 474.8L83.5 474.8M78.5 473.9L78.5 474.5M78.5 473.9L84.7 473.9M78.5 474.5L80.9 474.5M75.9 474.2L75.9 475.6M75.9 474.2L78.5 474.2M75.9 475.6L87.9 475.6M72.7 473.2L72.7 474.9M72.7 473.2L85.0 473.2M72.7 474.9L75.9 474.9M84.2 477.0L84.2 477.5M84.2 477.0L90.1 477.0M84.2 477.5L89.2 477.5M81.0 477.3L81.0 478.1M81.0 477.3L84.2 477.3M81.0 478.1L85.0 478.1M80.0 476.3L80.0 477.7M80.0 476.3L91.5 476.3M80.0 477.7L81.0 477.7M77.3 477.0L77.3 478.7M77.3 477.0L80.0 477.0M77.3 478.7L84.3 478.7M74.8 475.9L74.8 477.8M74.8 475.9L87.7 475.9M74.8 477.8L77.3 477.8M78.9 479.6L78.9 480.0M78.9 479.6L83.6 479.6M78.9 480.0L89.3 480.0M84.3 481.3L84.3 482.3M84.3 481.3L86.0 481.3M84.3 482.3L84.9 482.3M81.8 481.0L81.8 481.8M81.8 481.0L89.5 481.0M81.8 481.8L84.3 481.8M79.6 480.8L79.6 481.4M79.6 480.8L87.6 480.8M79.6 481.4L81.8 481.4M76.7 480.6L76.7 481.1M76.7 480.6L90.1 480.6M76.7 481.1L79.6 481.1M74.7 480.2L74.7 480.8M74.7 480.2L82.8 480.2M74.7 480.8L76.7 480.8M71.3 480.5L71.3 483.5M71.3 480.5L74.7 480.5M71.3 483.5L88.2 483.5M69.5 479.8L69.5 482.0M69.5 479.8L78.9 479.8M69.5 482.0L71.3 482.0M67.6 479.0L67.6 480.9M67.6 479.0L88.7 479.0M67.6 480.9L69.5 480.9M80.4 484.8L80.4 485.7M80.4 484.8L82.9 484.8M80.4 485.7L88.0 485.7M78.9 485.3L78.9 486.3M78.9 485.3L80.4 485.3M78.9 486.3L87.4 486.3M76.9 485.8L76.9 486.5M76.9 485.8L78.9 485.8M76.9 486.5L86.7 486.5M75.1 484.4L75.1 486.1M75.1 484.4L87.9 484.4M75.1 486.1L76.9 486.1M80.3 487.0L80.3 488.0M80.3 487.0L89.9 487.0M80.3 488.0L86.2 488.0M79.1 486.8L79.1 487.5M79.1 486.8L86.7 486.8M79.1 487.5L80.3 487.5M75.6 486.6L75.6 487.1M75.6 486.6L84.7 486.6M75.6 487.1L79.1 487.1M73.2 485.2L73.2 486.9M73.2 485.2L75.1 485.2M73.2 486.9L75.6 486.9M73.9 489.6L73.9 490.8M73.9 489.6L90.2 489.6M73.9 490.8L90.5 490.8M79.3 494.5L79.3 495.2M79.3 494.5L82.6 494.5M79.3 495.2L90.7 495.2M78.0 494.9L78.0 495.3M78.0 494.9L79.3 494.9M78.0 495.3L89.4 495.3M76.7 493.7L76.7 495.1M76.7 493.7L89.0 493.7M76.7 495.1L78.0 495.1M84.8 496.2L84.8 496.9M84.8 496.2L89.1 496.2M84.8 496.9L87.6 496.9M82.1 496.6L82.1 497.0M82.1 496.6L84.8 496.6M82.1 497.0L86.4 497.0M81.3 496.8L81.3 497.2M81.3 496.8L82.1 496.8M81.3 497.2L83.6 497.2M79.3 495.5L79.3 497.0M79.3 495.5L82.5 495.5M79.3 497.0L81.3 497.0M77.9 495.4L77.9 496.3M77.9 495.4L84.7 495.4M77.9 496.3L79.3 496.3M75.7 495.8L75.7 497.4M75.7 495.8L77.9 495.8M75.7 497.4L86.7 497.4M68.1 494.4L68.1 496.6M68.1 494.4L76.7 494.4M68.1 496.6L75.7 496.6M75.3 498.2L75.3 499.0M75.3 498.2L88.8 498.2M75.3 499.0L83.0 499.0M76.0 499.3L76.0 500.3M76.0 499.3L82.3 499.3M76.0 500.3L88.1 500.3M70.8 498.6L70.8 499.8M70.8 498.6L75.3 498.6M70.8 499.8L76.0 499.8M43.0 499.2L43.0 501.4M43.0 499.2L70.8 499.2M43.0 501.4L89.6 501.4" stroke="#111" stroke-width="0.6" fill="none"/></g>
<g shape-rendering="crispEdges"><rect x="147.6" y="150.80" width="14.6" height="154.80" fill="#1414f4"/><rect x="147.6" y="159.50" width="14.6" height="1.00" fill="#6666ff"/><rect x="147.6" y="163.00" width="14.6" height="0.80" fill="#2a2aff"/><rect x="147.6" y="168.30" width="14.6" height="1.00" fill="#6666ff"/><rect x="147.6" y="172.00" width="14.6" height="0.80" fill="#0c0cd0"/><rect x="147.6" y="176.50" width="14.6" height="1.00" fill="#6666ff"/><rect x="147.6" y="180.00" width="14.6" height="1.00" fill="#0c0cc8"/><rect x="147.6" y="183.00" width="14.6" height="1.00" fill="#6666ff"/><rect x="147.6" y="185.50" width="14.6" height="2.50" fill="#0a0a66"/><rect x="147.6" y="188.80" width="14.6" height="0.80" fill="#6666ff"/><rect x="147.6" y="190.50" width="14.6" height="2.50" fill="#2020e0"/><rect x="147.6" y="193.60" width="14.6" height="2.10" fill="#040430"/><rect x="147.6" y="196.40" width="14.6" height="2.10" fill="#8a78ee"/><rect x="147.6" y="200.00" width="14.6" height="2.00" fill="#0c0cc0"/><rect x="147.6" y="203.00" width="14.6" height="1.00" fill="#6666ff"/><rect x="147.6" y="206.80" width="14.6" height="6.20" fill="#8a78ee"/><rect x="147.6" y="209.00" width="14.6" height="1.00" fill="#a090f0"/><rect x="147.6" y="214.40" width="14.6" height="2.60" fill="#0a0a66"/><rect x="147.6" y="219.00" width="14.6" height="1.00" fill="#6666ff"/><rect x="147.6" y="222.00" width="14.6" height="1.00" fill="#0c0cc8"/><rect x="147.6" y="224.50" width="14.6" height="1.00" fill="#6666ff"/><rect x="147.6" y="227.00" width="14.6" height="3.00" fill="#8a78ee"/><rect x="147.6" y="232.00" width="14.6" height="1.00" fill="#6666ff"/><rect x="147.6" y="235.00" width="14.6" height="1.00" fill="#2424ff"/><rect x="147.6" y="239.00" width="14.6" height="7.00" fill="#040430"/><rect x="147.6" y="247.40" width="14.6" height="1.30" fill="#8a78ee"/><rect x="147.6" y="249.40" width="14.6" height="5.60" fill="#020220"/><rect x="147.6" y="257.00" width="14.6" height="1.00" fill="#6666ff"/><rect x="147.6" y="260.00" width="14.6" height="1.00" fill="#0c0cd0"/><rect x="147.6" y="262.50" width="14.6" height="1.50" fill="#8a78ee"/><rect x="147.6" y="265.00" width="14.6" height="1.00" fill="#1010c0"/><rect x="147.6" y="266.50" width="14.6" height="1.50" fill="#8a78ee"/><rect x="147.6" y="270.90" width="14.6" height="4.10" fill="#0a0a66"/><rect x="147.6" y="277.00" width="14.6" height="1.00" fill="#6666ff"/><rect x="147.6" y="280.00" width="14.6" height="1.00" fill="#6666ff"/><rect x="147.6" y="283.00" width="14.6" height="1.00" fill="#6666ff"/><rect x="147.6" y="286.80" width="14.6" height="2.10" fill="#8a78ee"/><rect x="147.6" y="291.00" width="14.6" height="1.00" fill="#6666ff"/><rect x="147.6" y="294.00" width="14.6" height="1.00" fill="#6666ff"/><rect x="147.6" y="297.00" width="14.6" height="1.00" fill="#6666ff"/><rect x="147.6" y="300.00" width="14.6" height="1.00" fill="#6666ff"/><rect x="147.6" y="303.40" width="14.6" height="1.40" fill="#8a78ee"/><rect x="147.6" y="305.60" width="14.6" height="140.40" fill="#000"/><rect x="147.6" y="345.20" width="14.6" height="1.00" fill="#202080"/><rect x="147.6" y="388.60" width="14.6" height="1.00" fill="#1a1a70"/><rect x="147.6" y="394.50" width="14.6" height="1.00" fill="#202080"/><rect x="147.6" y="406.00" width="14.6" height="1.00" fill="#202090"/><rect x="147.6" y="409.00" width="14.6" height="4.50" fill="#1010a0"/><rect x="147.6" y="415.00" width="14.6" height="2.70" fill="#2020d0"/><rect x="147.6" y="418.40" width="14.6" height="2.60" fill="#7070e0"/><rect x="147.6" y="421.80" width="14.6" height="1.00" fill="#5050c0"/><rect x="147.6" y="423.20" width="14.6" height="0.80" fill="#5050c0"/><rect x="147.6" y="425.00" width="14.6" height="1.60" fill="#606090"/><rect x="147.6" y="435.00" width="14.6" height="1.30" fill="#505080"/><rect x="147.6" y="446.00" width="14.6" height="54.00" fill="#3030ea"/><rect x="147.6" y="446.00" width="14.6" height="3.50" fill="#8080f0"/><rect x="147.6" y="449.50" width="14.6" height="3.00" fill="#7a70f0"/><rect x="147.6" y="452.50" width="14.6" height="2.00" fill="#6a6af2"/><rect x="147.6" y="454.50" width="14.6" height="3.00" fill="#6a6af2"/><rect x="147.6" y="457.50" width="14.6" height="0.80" fill="#10108a"/><rect x="147.6" y="458.30" width="14.6" height="2.50" fill="#6a6af2"/><rect x="147.6" y="460.80" width="14.6" height="0.80" fill="#10108a"/><rect x="147.6" y="461.60" width="14.6" height="1.50" fill="#7a70f0"/><rect x="147.6" y="463.10" width="14.6" height="2.00" fill="#2020e6"/><rect x="147.6" y="465.10" width="14.6" height="1.50" fill="#2020e6"/><rect x="147.6" y="466.60" width="14.6" height="0.80" fill="#10108a"/><rect x="147.6" y="467.40" width="14.6" height="2.00" fill="#2020e6"/><rect x="147.6" y="469.40" width="14.6" height="2.50" fill="#7a70f0"/><rect x="147.6" y="471.90" width="14.6" height="2.00" fill="#6a6af2"/><rect x="147.6" y="473.90" width="14.6" height="3.00" fill="#2020e6"/><rect x="147.6" y="476.90" width="14.6" height="3.00" fill="#4a4aee"/><rect x="147.6" y="479.90" width="14.6" height="0.80" fill="#10108a"/><rect x="147.6" y="480.70" width="14.6" height="1.50" fill="#4a4aee"/><rect x="147.6" y="482.20" width="14.6" height="0.80" fill="#10108a"/><rect x="147.6" y="483.00" width="14.6" height="2.00" fill="#4a4aee"/><rect x="147.6" y="485.00" width="14.6" height="0.80" fill="#10108a"/><rect x="147.6" y="485.80" width="14.6" height="1.50" fill="#7a70f0"/><rect x="147.6" y="487.30" width="14.6" height="0.80" fill="#10108a"/><rect x="147.6" y="488.10" width="14.6" height="2.50" fill="#7a70f0"/><rect x="147.6" y="490.60" width="14.6" height="0.80" fill="#10108a"/><rect x="147.6" y="491.40" width="14.6" height="1.50" fill="#2020e6"/><rect x="147.6" y="492.90" width="14.6" height="0.80" fill="#10108a"/><rect x="147.6" y="493.70" width="14.6" height="1.50" fill="#7a70f0"/><rect x="147.6" y="495.20" width="14.6" height="0.80" fill="#10108a"/><rect x="147.6" y="496.00" width="14.6" height="3.00" fill="#7a70f0"/><rect x="147.6" y="499.00" width="14.6" height="0.80" fill="#10108a"/><rect x="147.6" y="499.80" width="14.6" height="0.20" fill="#4a4aee"/><rect x="147.6" y="501.80" width="14.6" height="-1.80" fill="#10108a"/><rect x="147.6" y="500.20" width="14.6" height="1.40" fill="#10108a"/></g>
<defs><filter id="hb" filterUnits="userSpaceOnUse" x="168.10" y="150.80" width="351.50" height="350.80"><feGaussianBlur stdDeviation="0.55 0.45" edgeMode="duplicate"/></filter></defs><g filter="url(#hb)"><g transform="translate(168.10 150.80) scale(4.6250 0.9994)" shape-rendering="crispEdges"><rect width="76" height="351" fill="#000"/><path stroke="#00ea00" d="M0 87.5h1"/><path stroke="#00ca00" d="M0 213.5h1"/><path stroke="#00bf00" d="M0 88.5h2M0 216.5h1M0 220.5h1M1 225.5h1M0 226.5h1M0 276.5h1"/><path stroke="#00b500" d="M1 87.5h1M0 93.5h1M0 100.5h1M1 155.5h1M0 156.5h1M1 159.5h1M1 172.5h1M1 206.5h1M0 215.5h1M1 216.5h1M1 217.5h1M1 222.5h1M1 239.5h1M1 275.5h1M0 278.5h1"/><path stroke="#00aa00" d="M0 85.5h1M0 89.5h1M0 92.5h1M1 94.5h1M1 157.5h1M0 158.5h1M1 160.5h1M0 163.5h1M1 170.5h1M1 171.5h1M1 178.5h1M0 187.5h2M0 188.5h1M1 189.5h1M0 191.5h1M1 194.5h1M1 198.5h1M1 199.5h1M1 200.5h1M1 205.5h1M1 209.5h1M0 210.5h2M0 212.5h1M1 213.5h1M0 214.5h1M0 217.5h1M0 219.5h2M1 220.5h1M0 232.5h1M1 233.5h1M0 235.5h1M0 236.5h1M1 238.5h1M1 242.5h1M0 243.5h1M0 248.5h2M1 249.5h1M1 273.5h1M0 274.5h1M0 275.5h1M1 276.5h1M0 277.5h1"/><path stroke="#009f00" d="M43 15.5h1M42 27.5h1M0 40.5h1M0 84.5h1M1 154.5h1M0 155.5h1M1 156.5h1M0 157.5h1M1 158.5h1M0 160.5h1M0 161.5h2M0 162.5h1M0 164.5h1M1 165.5h1M1 168.5h1M1 169.5h1M0 170.5h1M0 171.5h1M0 173.5h2M1 174.5h1M0 175.5h1M0 179.5h2M1 180.5h1M0 183.5h2M0 189.5h1M0 192.5h2M1 195.5h1M0 199.5h1M0 201.5h1M0 202.5h2M0 204.5h1M0 205.5h1M0 206.5h1M0 207.5h2M0 208.5h2M1 211.5h1M1 215.5h1M1 221.5h1M0 222.5h1M0 223.5h1M0 225.5h1M1 226.5h1M0 227.5h2M1 235.5h1M0 239.5h1M0 240.5h2M0 241.5h2M0 252.5h2M0 260.5h2M0 271.5h1M0 272.5h1M0 273.5h1M1 277.5h1M1 278.5h1M0 279.5h2M1 289.5h1"/><path stroke="#009500" d="M42 25.5h1M50 39.5h1M0 41.5h1M0 68.5h1M0 86.5h2M1 127.5h1M0 140.5h1M0 154.5h1M0 159.5h1M1 162.5h1M1 163.5h1M1 166.5h1M0 167.5h2M0 169.5h1M0 172.5h1M0 174.5h1M1 175.5h1M0 178.5h1M0 181.5h2M0 182.5h2M0 184.5h2M1 185.5h1M0 186.5h1M0 190.5h1M1 191.5h1M0 193.5h2M0 194.5h1M0 196.5h2M1 197.5h1M0 198.5h1M0 200.5h1M1 203.5h1M1 204.5h1M0 209.5h1M0 211.5h1M1 212.5h1M0 218.5h2M0 221.5h1M1 223.5h1M0 224.5h2M1 228.5h1M1 229.5h1M1 231.5h1M0 234.5h2M1 236.5h1M0 237.5h2M0 238.5h1M0 242.5h1M0 244.5h1M0 246.5h1M0 249.5h1M1 250.5h1M1 251.5h1M0 253.5h2M0 257.5h2M0 259.5h2M0 267.5h1M1 268.5h1M1 270.5h1M1 272.5h1M1 274.5h1M0 281.5h2M1 282.5h1M1 283.5h1M0 285.5h1M1 286.5h1M0 291.5h1M1 292.5h1M0 293.5h1"/><path stroke="#008a00" d="M42 0.5h1M0 15.5h1M43 28.5h1M42 35.5h1M0 43.5h1M37 43.5h1M0 45.5h1M1 73.5h1M0 94.5h1M0 101.5h1M0 125.5h1M0 145.5h1M1 164.5h1M0 165.5h1M0 166.5h1M0 168.5h1M0 176.5h1M0 177.5h1M0 180.5h1M0 185.5h1M1 186.5h1M1 188.5h1M1 190.5h1M0 195.5h1M0 197.5h1M1 201.5h1M0 203.5h1M1 214.5h1M0 228.5h1M0 229.5h1M0 230.5h2M1 232.5h1M0 233.5h1M1 243.5h1M0 245.5h2M1 246.5h1M0 247.5h1M0 250.5h1M0 251.5h1M0 254.5h1M0 255.5h2M1 256.5h1M0 258.5h2M0 261.5h2M0 266.5h2M1 267.5h1M1 269.5h1M0 270.5h1M1 271.5h1M0 282.5h1M0 283.5h1M1 284.5h1M1 285.5h1M1 287.5h1M0 288.5h1M1 293.5h1"/><path stroke="#008000" d="M50 3.5h1M38 7.5h1M0 16.5h1M42 23.5h1M42 26.5h2M42 28.5h1M38 42.5h1M0 44.5h1M42 44.5h2M43 47.5h1M0 51.5h1M42 56.5h1M42 61.5h1M0 71.5h1M0 73.5h1M38 83.5h1M1 84.5h1M1 89.5h1M1 93.5h1M0 96.5h1M0 122.5h1M0 123.5h1M0 126.5h1M0 127.5h1M0 231.5h1M1 244.5h1M0 256.5h1M0 262.5h1M1 263.5h1M0 264.5h1M0 265.5h2M0 269.5h1M0 280.5h1M1 288.5h1M1 291.5h1M0 292.5h1"/><path stroke="#007500" d="M5 0.5h1M43 0.5h1M37 2.5h1M42 3.5h1M37 4.5h1M0 9.5h1M42 13.5h1M0 14.5h1M43 19.5h1M43 22.5h1M43 23.5h1M42 24.5h1M38 25.5h1M43 27.5h1M0 28.5h1M43 35.5h1M42 36.5h1M42 37.5h1M0 39.5h1M42 40.5h1M42 41.5h1M0 49.5h1M42 49.5h1M57 53.5h1M42 55.5h1M43 56.5h1M42 59.5h1M43 61.5h1M0 63.5h1M1 68.5h1M43 68.5h1M1 70.5h1M38 78.5h1M38 79.5h1M43 84.5h1M1 85.5h1M0 90.5h1M37 90.5h1M0 91.5h1M1 96.5h1M0 97.5h1M0 121.5h1M1 122.5h1M0 128.5h1M0 135.5h1M0 144.5h1M0 149.5h1M1 176.5h1M1 177.5h1M1 247.5h1M1 262.5h1M1 264.5h1M1 280.5h1M0 284.5h1M0 286.5h1M0 287.5h1M0 289.5h1M0 290.5h2"/><path stroke="#006a00" d="M4 0.5h1M37 1.5h2M42 1.5h1M38 3.5h1M38 6.5h1M42 6.5h2M43 8.5h1M42 9.5h2M38 11.5h1M43 11.5h1M0 12.5h1M38 12.5h1M43 12.5h1M43 14.5h1M42 19.5h1M0 22.5h1M0 24.5h1M37 26.5h2M42 29.5h1M38 34.5h1M43 37.5h1M50 38.5h1M0 42.5h1M43 42.5h1M42 43.5h2M42 45.5h2M1 50.5h1M43 50.5h1M59 53.5h1M42 54.5h1M57 54.5h1M1 57.5h1M43 57.5h1M0 60.5h1M60 65.5h1M1 69.5h1M0 70.5h1M42 70.5h1M1 72.5h1M60 72.5h1M43 78.5h1M43 79.5h1M0 81.5h1M43 81.5h1M0 83.5h1M39 84.5h1M37 89.5h1M43 98.5h1M1 101.5h1M0 102.5h1M0 104.5h1M1 123.5h1M1 125.5h1M1 133.5h1M0 137.5h1M59 139.5h1M37 143.5h1M0 146.5h1M5 209.5h1M1 254.5h1M0 263.5h1M0 268.5h1M67 299.5h1M37 329.5h1M37 330.5h1M37 332.5h1M73 339.5h1M66 341.5h1M68 341.5h1M73 345.5h1"/><path stroke="#006000" d="M18 0.5h1M17 2.5h1M38 2.5h1M42 2.5h1M50 2.5h1M0 3.5h1M37 3.5h1M49 3.5h1M42 5.5h1M42 7.5h1M38 8.5h1M37 11.5h1M42 11.5h1M42 12.5h1M0 13.5h1M1 15.5h1M1 16.5h1M43 16.5h1M0 17.5h2M42 18.5h2M37 20.5h2M0 21.5h1M37 24.5h1M0 25.5h1M37 25.5h1M43 25.5h1M0 27.5h1M25 27.5h1M38 27.5h1M50 29.5h1M43 30.5h1M0 32.5h1M38 35.5h1M38 38.5h1M37 39.5h1M42 39.5h1M37 41.5h1M43 41.5h1M37 42.5h1M39 42.5h1M0 46.5h1M42 47.5h1M0 50.5h1M38 50.5h1M60 52.5h1M0 53.5h1M58 53.5h1M0 55.5h1M43 55.5h1M0 56.5h1M58 56.5h1M0 57.5h1M58 57.5h2M0 58.5h1M42 58.5h1M37 59.5h1M42 60.5h1M0 61.5h1M0 67.5h1M42 68.5h1M0 69.5h1M0 72.5h1M58 73.5h1M61 73.5h1M0 75.5h1M37 75.5h1M0 76.5h1M37 77.5h2M42 77.5h2M37 78.5h1M37 80.5h1M38 82.5h1M39 83.5h1M41 83.5h1M41 84.5h1M43 85.5h1M24 88.5h1M38 88.5h1M38 89.5h1M1 92.5h1M0 95.5h1M24 95.5h1M45 96.5h1M50 97.5h1M0 98.5h1M1 102.5h1M0 103.5h1M0 105.5h1M0 106.5h1M18 109.5h1M1 114.5h1M0 120.5h1M0 124.5h2M37 124.5h1M0 130.5h1M0 131.5h1M0 132.5h1M0 133.5h1M36 137.5h1M59 137.5h1M37 138.5h1M57 140.5h1M44 141.5h1M74 143.5h1M36 144.5h2M1 147.5h1M57 147.5h1M15 148.5h1M33 148.5h1M1 152.5h1M28 164.5h1M27 169.5h1M27 187.5h1M4 191.5h1M5 203.5h1M3 207.5h1M27 224.5h1M27 229.5h2M28 231.5h1M61 295.5h1M71 296.5h1M57 300.5h1M66 301.5h1M69 303.5h1M58 309.5h1M59 311.5h1M63 311.5h3M71 312.5h1M59 315.5h1M70 321.5h1M60 322.5h1M74 323.5h1M74 324.5h1M72 327.5h1M66 328.5h1M37 331.5h1M64 331.5h2M68 335.5h1M75 335.5h1M37 336.5h1M67 340.5h1M67 341.5h1M67 345.5h1"/><path stroke="#005500" d="M19 0.5h1M43 1.5h1M0 2.5h1M16 2.5h1M43 2.5h1M1 3.5h1M0 4.5h1M42 4.5h1M48 4.5h1M50 4.5h2M1 5.5h1M0 6.5h1M42 8.5h1M51 8.5h1M38 9.5h1M0 10.5h1M37 10.5h2M42 10.5h1M37 12.5h1M37 13.5h1M43 13.5h1M1 14.5h1M12 14.5h1M14 14.5h1M37 16.5h1M42 16.5h1M13 17.5h1M12 19.5h1M1 20.5h1M37 21.5h1M42 21.5h1M48 21.5h1M50 21.5h1M42 22.5h1M50 22.5h1M43 24.5h1M18 25.5h1M1 26.5h1M37 27.5h1M1 28.5h1M43 29.5h1M19 30.5h1M18 31.5h1M12 32.5h1M59 32.5h1M0 33.5h1M42 34.5h1M37 36.5h1M42 38.5h1M26 40.5h1M50 40.5h1M42 42.5h1M40 43.5h1M0 47.5h1M58 47.5h1M34 48.5h1M37 48.5h1M42 48.5h1M1 49.5h1M57 52.5h2M60 53.5h1M0 54.5h1M43 54.5h1M60 56.5h1M40 57.5h1M42 57.5h1M38 58.5h1M60 58.5h1M59 60.5h1M1 61.5h1M57 61.5h1M59 61.5h1M59 64.5h1M61 64.5h1M0 65.5h1M58 65.5h2M61 65.5h1M38 66.5h1M60 66.5h2M42 67.5h1M57 67.5h1M40 68.5h1M43 69.5h1M38 70.5h1M38 71.5h1M61 72.5h1M37 73.5h1M42 74.5h2M59 74.5h1M13 75.5h1M60 76.5h1M0 77.5h2M41 77.5h1M42 79.5h1M1 81.5h1M42 82.5h1M37 83.5h1M42 83.5h2M38 84.5h1M74 84.5h1M37 85.5h1M41 85.5h2M25 87.5h1M38 87.5h1M2 88.5h1M37 88.5h1M42 89.5h1M38 90.5h1M1 91.5h1M38 91.5h1M43 92.5h1M1 95.5h1M43 96.5h1M45 97.5h1M1 105.5h1M72 105.5h1M0 107.5h1M33 107.5h1M1 115.5h1M32 115.5h1M60 115.5h1M1 116.5h1M46 118.5h1M33 119.5h1M35 119.5h1M37 121.5h1M26 125.5h1M1 126.5h1M33 128.5h1M44 128.5h1M1 129.5h1M72 129.5h1M75 133.5h1M37 136.5h1M0 138.5h1M36 138.5h1M37 139.5h1M33 140.5h1M36 140.5h1M58 140.5h1M1 141.5h1M33 141.5h1M43 141.5h1M58 141.5h1M34 142.5h1M36 142.5h1M18 144.5h1M73 144.5h1M1 145.5h1M6 146.5h1M37 147.5h1M58 147.5h2M16 148.5h1M72 148.5h1M65 149.5h1M71 149.5h1M0 150.5h1M0 153.5h1M5 155.5h1M4 156.5h1M37 157.5h1M27 162.5h1M24 163.5h2M27 163.5h1M37 164.5h1M27 168.5h2M17 172.5h1M18 180.5h1M39 180.5h1M3 185.5h2M18 185.5h1M3 186.5h1M27 186.5h1M3 190.5h1M3 191.5h1M4 192.5h1M3 193.5h1M37 195.5h1M3 196.5h1M5 196.5h1M12 196.5h1M18 198.5h1M5 201.5h1M28 201.5h1M4 202.5h1M5 207.5h1M5 208.5h1M18 217.5h1M27 223.5h2M27 230.5h1M28 238.5h1M27 239.5h1M28 240.5h1M27 247.5h1M27 248.5h1M37 251.5h1M5 264.5h1M28 265.5h1M27 273.5h1M27 280.5h1M12 282.5h1M37 287.5h1M27 289.5h1M26 293.5h1M58 294.5h1M70 296.5h1M64 297.5h1M59 298.5h1M58 299.5h1M66 299.5h1M37 301.5h1M67 301.5h2M72 302.5h1M0 311.5h1M0 312.5h2M57 312.5h1M60 312.5h1M66 312.5h1M61 314.5h1M60 315.5h1M71 315.5h1M71 316.5h1M65 319.5h1M72 323.5h1M65 324.5h1M68 325.5h1M37 326.5h1M70 326.5h1M62 327.5h1M68 327.5h1M37 328.5h1M61 328.5h1M63 330.5h1M59 332.5h1M63 332.5h1M37 334.5h1M61 334.5h1M71 335.5h1M57 336.5h1M71 336.5h1M74 338.5h1M69 339.5h1M66 340.5h1M71 340.5h1M62 341.5h1M75 342.5h1M66 343.5h1M68 344.5h1M66 345.5h1M74 345.5h1M74 346.5h1M58 347.5h1M57 348.5h1M74 348.5h1M60 350.5h2"/><path stroke="#004a00" d="M17 1.5h1M24 1.5h1M41 1.5h1M51 1.5h1M26 2.5h1M48 2.5h1M24 3.5h1M26 3.5h1M43 3.5h1M51 3.5h1M25 4.5h1M46 4.5h1M0 5.5h1M43 5.5h1M0 7.5h2M43 7.5h1M37 9.5h1M13 10.5h1M0 11.5h1M39 12.5h2M13 13.5h1M13 14.5h1M42 14.5h1M50 15.5h1M42 17.5h1M14 18.5h1M0 19.5h1M0 20.5h1M12 20.5h1M43 20.5h1M12 21.5h1M49 21.5h1M0 23.5h1M37 23.5h1M0 26.5h1M24 27.5h1M51 27.5h1M44 28.5h1M57 28.5h1M0 29.5h1M19 29.5h1M45 29.5h1M49 29.5h1M0 30.5h1M46 30.5h1M50 30.5h1M23 31.5h1M38 31.5h1M13 32.5h1M25 32.5h1M51 32.5h1M43 33.5h1M18 34.5h1M37 34.5h1M39 34.5h1M43 34.5h1M39 35.5h1M40 36.5h1M0 38.5h1M13 38.5h1M37 38.5h1M12 39.5h2M43 39.5h1M25 40.5h1M37 40.5h1M25 41.5h1M25 42.5h1M41 42.5h1M38 43.5h1M41 43.5h1M41 44.5h1M51 44.5h1M42 46.5h1M38 47.5h1M38 48.5h1M50 51.5h1M59 52.5h1M58 54.5h1M60 54.5h1M38 55.5h1M1 56.5h1M37 56.5h1M1 58.5h1M57 58.5h1M1 59.5h1M38 59.5h1M43 59.5h1M0 62.5h1M61 62.5h1M69 62.5h1M0 64.5h1M33 64.5h1M58 64.5h1M60 64.5h1M0 66.5h2M50 66.5h1M58 67.5h1M39 68.5h1M68 68.5h1M37 69.5h1M42 69.5h1M45 69.5h2M61 69.5h1M37 70.5h1M47 70.5h1M16 72.5h1M31 72.5h1M33 72.5h1M59 72.5h1M46 73.5h1M50 73.5h1M59 73.5h1M0 74.5h2M38 74.5h1M58 74.5h1M18 75.5h1M38 75.5h1M42 75.5h1M45 75.5h1M38 76.5h1M40 77.5h1M0 78.5h1M42 78.5h1M37 79.5h1M0 82.5h1M37 84.5h1M39 85.5h2M43 86.5h1M57 86.5h2M2 87.5h1M24 87.5h1M57 89.5h1M72 89.5h1M41 90.5h1M37 91.5h1M48 91.5h1M42 92.5h1M49 93.5h1M37 94.5h1M25 95.5h1M40 95.5h1M46 96.5h2M1 97.5h1M47 97.5h1M75 97.5h1M50 98.5h1M57 99.5h1M1 100.5h1M33 102.5h1M72 102.5h1M75 103.5h1M1 106.5h1M51 106.5h1M36 108.5h1M45 108.5h1M0 111.5h1M37 111.5h1M0 113.5h1M25 113.5h1M39 113.5h1M0 114.5h1M0 115.5h1M30 115.5h1M0 116.5h1M36 117.5h1M45 119.5h1M75 119.5h1M37 120.5h1M30 123.5h1M32 123.5h1M35 123.5h1M7 125.5h1M34 126.5h1M34 127.5h1M74 128.5h1M0 129.5h1M1 131.5h1M1 132.5h1M0 136.5h1M44 136.5h1M31 137.5h1M58 137.5h1M1 138.5h1M59 138.5h1M71 138.5h1M36 139.5h1M68 139.5h1M1 140.5h1M5 140.5h1M35 140.5h1M71 140.5h1M0 141.5h1M34 141.5h1M0 142.5h1M10 143.5h1M1 144.5h1M19 144.5h1M33 144.5h1M72 144.5h1M66 145.5h2M58 146.5h1M0 147.5h1M36 147.5h1M17 148.5h1M34 148.5h1M37 148.5h1M73 148.5h2M64 149.5h1M73 149.5h1M64 150.5h2M0 152.5h1M3 154.5h1M37 156.5h1M5 157.5h1M12 159.5h1M5 160.5h1M12 160.5h1M18 160.5h1M5 161.5h1M12 161.5h1M28 163.5h1M27 164.5h1M12 165.5h1M27 166.5h2M28 167.5h1M12 168.5h1M27 170.5h1M4 171.5h1M27 171.5h1M18 172.5h1M27 172.5h2M15 173.5h1M12 174.5h1M28 175.5h1M27 176.5h1M3 178.5h1M27 179.5h1M20 180.5h1M25 180.5h1M18 181.5h1M20 181.5h1M27 184.5h1M5 185.5h1M27 185.5h1M4 186.5h1M28 186.5h1M4 190.5h2M17 190.5h1M5 191.5h1M18 191.5h1M3 192.5h1M18 192.5h1M18 193.5h1M4 194.5h2M37 194.5h1M12 195.5h1M4 196.5h1M18 196.5h1M12 197.5h1M4 200.5h1M12 200.5h1M18 200.5h1M20 200.5h1M3 201.5h1M18 201.5h1M5 202.5h1M25 202.5h1M37 202.5h1M3 203.5h2M25 203.5h1M38 203.5h1M5 204.5h1M28 205.5h1M17 206.5h1M28 206.5h1M4 208.5h1M3 209.5h2M4 210.5h1M27 210.5h1M39 211.5h1M37 214.5h1M5 215.5h1M17 217.5h1M26 218.5h1M28 218.5h1M37 218.5h1M17 219.5h1M27 219.5h1M37 219.5h1M28 220.5h1M12 221.5h1M37 228.5h1M38 229.5h1M37 233.5h1M27 236.5h1M37 239.5h1M12 242.5h1M28 247.5h1M28 248.5h1M28 249.5h1M27 250.5h1M4 252.5h1M14 255.5h1M28 256.5h1M15 262.5h1M16 263.5h1M26 266.5h1M26 268.5h1M26 270.5h1M27 275.5h1M27 276.5h1M28 281.5h1M14 282.5h1M14 284.5h1M26 284.5h2M26 285.5h2M26 286.5h1M28 286.5h1M36 286.5h1M27 288.5h2M12 289.5h1M0 295.5h1M60 295.5h1M60 296.5h1M11 297.5h1M57 297.5h3M70 297.5h1M63 298.5h1M65 298.5h1M55 299.5h1M75 299.5h1M59 300.5h1M66 300.5h3M73 301.5h2M57 302.5h1M69 302.5h2M57 303.5h1M66 303.5h1M70 304.5h1M43 306.5h1M74 306.5h1M57 308.5h1M72 308.5h2M73 309.5h1M65 310.5h1M57 311.5h2M70 311.5h1M59 312.5h1M61 312.5h1M64 312.5h1M38 313.5h1M75 313.5h1M57 314.5h1M60 314.5h1M73 314.5h1M1 315.5h1M61 315.5h1M70 315.5h1M65 316.5h1M70 316.5h1M73 316.5h2M54 318.5h1M63 318.5h1M68 318.5h1M53 319.5h1M59 319.5h1M63 319.5h1M69 320.5h1M71 320.5h1M72 321.5h1M75 321.5h1M67 322.5h1M64 324.5h1M69 325.5h2M72 325.5h1M57 326.5h1M69 326.5h1M73 326.5h1M37 327.5h1M60 327.5h1M74 327.5h1M74 328.5h2M66 329.5h1M68 329.5h1M0 330.5h1M58 330.5h1M65 330.5h1M63 331.5h1M69 331.5h2M0 332.5h1M37 333.5h1M66 333.5h1M72 333.5h1M74 333.5h1M71 334.5h1M66 335.5h1M69 336.5h2M55 337.5h1M58 337.5h2M58 338.5h1M75 338.5h1M57 339.5h3M71 339.5h1M74 339.5h1M59 340.5h1M62 340.5h1M64 340.5h1M57 341.5h1M65 341.5h1M58 342.5h1M61 342.5h2M66 342.5h1M67 344.5h1M72 344.5h1M70 345.5h1M72 346.5h1M69 347.5h1M71 347.5h2M73 348.5h1M59 349.5h1M63 349.5h1M69 349.5h1M38 350.5h1M62 350.5h1M64 350.5h1M66 350.5h3M75 350.5h1"/><path stroke="#004000" d="M3 0.5h1M12 0.5h1M20 0.5h1M24 0.5h1M39 0.5h1M15 1.5h1M18 1.5h1M24 2.5h2M36 2.5h1M40 2.5h2M25 3.5h1M24 4.5h1M27 4.5h1M38 4.5h1M47 4.5h1M26 5.5h1M30 6.5h1M37 6.5h1M37 7.5h1M39 7.5h1M44 7.5h1M1 8.5h1M17 8.5h1M44 8.5h1M14 10.5h1M12 12.5h1M12 13.5h1M39 13.5h1M13 15.5h1M21 16.5h1M38 16.5h1M12 17.5h1M38 17.5h1M50 17.5h1M12 18.5h1M25 18.5h1M13 19.5h2M38 19.5h1M14 20.5h1M50 20.5h1M1 21.5h1M38 21.5h1M43 21.5h1M23 22.5h1M38 22.5h1M38 23.5h1M44 23.5h1M50 25.5h1M21 27.5h1M23 27.5h1M26 27.5h1M24 28.5h1M51 28.5h1M51 29.5h1M20 30.5h1M38 30.5h1M0 31.5h1M22 31.5h1M1 32.5h1M16 32.5h1M37 32.5h1M14 33.5h1M42 33.5h1M51 33.5h1M0 34.5h1M37 35.5h1M0 36.5h1M38 36.5h2M41 36.5h1M43 36.5h1M38 37.5h1M41 37.5h1M50 37.5h1M12 38.5h1M49 38.5h1M1 39.5h1M22 40.5h2M38 40.5h2M43 40.5h1M26 41.5h1M1 42.5h1M24 42.5h1M26 42.5h2M46 42.5h1M24 43.5h1M27 43.5h1M29 43.5h1M39 43.5h1M46 43.5h2M71 43.5h1M14 44.5h1M37 44.5h1M12 45.5h1M38 45.5h1M40 45.5h2M38 46.5h1M43 46.5h1M33 48.5h1M33 49.5h1M35 49.5h1M37 49.5h1M17 51.5h1M0 52.5h1M40 52.5h1M1 53.5h1M39 53.5h1M40 54.5h2M59 54.5h1M40 55.5h1M38 56.5h1M57 57.5h1M60 57.5h1M41 58.5h1M0 59.5h1M57 59.5h1M60 59.5h2M44 60.5h1M60 60.5h1M72 60.5h2M61 61.5h1M1 62.5h1M12 62.5h1M42 62.5h2M59 62.5h1M1 63.5h1M31 63.5h1M33 63.5h1M43 63.5h1M60 63.5h1M37 65.5h2M57 65.5h1M58 66.5h1M38 67.5h1M40 67.5h1M25 68.5h1M59 68.5h1M50 69.5h1M60 69.5h1M39 70.5h1M43 70.5h1M45 70.5h2M1 71.5h1M41 71.5h1M46 71.5h1M61 71.5h1M57 72.5h1M75 72.5h1M57 73.5h1M30 74.5h1M43 75.5h1M61 75.5h1M1 76.5h1M42 76.5h1M61 76.5h1M39 77.5h1M48 77.5h1M39 78.5h1M12 79.5h1M25 79.5h1M46 79.5h1M0 80.5h2M42 80.5h1M37 81.5h2M57 81.5h1M40 82.5h1M43 82.5h1M40 84.5h1M59 85.5h1M2 86.5h1M37 87.5h1M43 87.5h1M25 88.5h1M42 88.5h2M59 88.5h1M24 89.5h1M43 89.5h1M48 89.5h1M59 89.5h1M65 89.5h1M1 90.5h1M45 90.5h1M49 91.5h2M70 91.5h1M2 92.5h1M38 92.5h1M48 92.5h1M2 93.5h1M48 93.5h1M51 93.5h1M46 94.5h1M48 94.5h1M33 95.5h1M50 95.5h2M24 96.5h1M43 97.5h1M42 98.5h1M47 98.5h1M49 98.5h1M39 99.5h2M54 99.5h1M7 100.5h1M58 100.5h1M30 101.5h1M43 101.5h1M71 101.5h1M17 102.5h1M71 102.5h1M1 104.5h1M37 104.5h1M43 104.5h1M39 105.5h1M74 105.5h1M34 106.5h1M75 107.5h1M0 108.5h1M39 108.5h1M57 108.5h1M28 109.5h1M32 109.5h1M37 109.5h1M43 109.5h1M61 109.5h1M36 110.5h1M33 111.5h1M1 112.5h1M74 112.5h1M43 114.5h1M73 116.5h1M0 117.5h2M15 117.5h1M45 117.5h1M1 118.5h1M37 118.5h1M1 119.5h1M36 122.5h1M55 122.5h1M59 122.5h1M34 123.5h1M36 123.5h2M75 123.5h1M15 125.5h1M35 127.5h1M1 128.5h1M45 128.5h1M72 128.5h1M33 129.5h1M74 129.5h1M43 130.5h2M72 130.5h1M48 131.5h3M64 132.5h1M33 133.5h1M36 133.5h2M0 134.5h1M71 134.5h1M75 134.5h1M46 135.5h1M49 135.5h2M75 135.5h1M43 136.5h1M46 136.5h1M43 137.5h1M57 137.5h1M71 137.5h1M57 138.5h1M58 139.5h1M34 140.5h1M38 140.5h1M60 140.5h1M75 140.5h1M59 142.5h1M71 142.5h1M74 142.5h1M0 143.5h1M34 143.5h1M72 143.5h2M6 144.5h1M65 144.5h1M68 145.5h1M74 145.5h1M1 146.5h1M59 146.5h1M65 146.5h1M65 148.5h1M34 149.5h1M68 149.5h1M72 149.5h1M74 149.5h1M75 150.5h1M0 151.5h1M57 151.5h1M59 151.5h1M64 151.5h1M5 154.5h1M12 154.5h1M17 154.5h2M28 154.5h1M4 155.5h1M17 155.5h1M33 155.5h1M37 155.5h1M3 156.5h1M5 156.5h1M12 157.5h1M38 157.5h1M4 158.5h1M12 158.5h1M17 158.5h1M3 159.5h1M17 159.5h1M28 159.5h1M37 159.5h1M4 160.5h1M27 160.5h1M37 160.5h1M17 161.5h1M25 161.5h1M27 161.5h1M3 162.5h1M25 162.5h1M28 162.5h1M39 162.5h1M3 163.5h1M17 163.5h2M37 163.5h1M39 163.5h1M5 164.5h1M38 164.5h1M3 165.5h1M5 165.5h1M37 165.5h1M4 166.5h2M18 166.5h1M3 167.5h1M5 167.5h1M12 167.5h1M18 167.5h1M27 167.5h1M39 167.5h1M17 169.5h1M28 169.5h1M17 170.5h1M12 171.5h1M18 171.5h1M28 171.5h1M24 172.5h1M17 173.5h2M27 173.5h1M4 174.5h2M21 174.5h1M3 175.5h1M5 175.5h1M12 175.5h1M21 175.5h1M25 175.5h1M37 175.5h1M3 176.5h1M4 177.5h1M12 177.5h1M28 177.5h1M12 178.5h1M18 178.5h1M28 178.5h1M18 179.5h1M24 179.5h1M28 179.5h1M5 180.5h1M4 182.5h1M37 182.5h1M18 183.5h1M25 183.5h1M37 183.5h1M4 184.5h1M26 185.5h1M28 185.5h1M37 186.5h1M3 187.5h1M28 187.5h1M4 188.5h2M12 188.5h1M27 188.5h1M4 189.5h2M17 189.5h1M21 189.5h1M27 189.5h2M12 190.5h1M18 190.5h1M27 190.5h2M12 191.5h1M27 191.5h1M37 191.5h1M39 191.5h1M5 192.5h1M24 192.5h1M27 192.5h2M4 193.5h2M27 193.5h2M37 193.5h1M3 194.5h1M25 194.5h1M3 195.5h3M39 195.5h1M14 196.5h1M37 196.5h1M5 197.5h1M27 197.5h1M37 197.5h1M12 199.5h1M18 199.5h1M37 199.5h1M27 200.5h1M4 201.5h1M12 201.5h1M19 201.5h3M25 201.5h1M28 202.5h1M33 202.5h1M27 203.5h1M37 203.5h1M27 204.5h1M27 205.5h1M3 206.5h2M27 206.5h1M4 207.5h1M27 207.5h1M37 207.5h1M3 208.5h1M27 208.5h1M18 209.5h1M27 209.5h1M28 210.5h1M39 210.5h1M28 211.5h1M37 211.5h1M28 212.5h1M37 212.5h1M27 213.5h1M3 214.5h2M17 214.5h2M28 214.5h1M4 215.5h1M17 215.5h1M28 215.5h1M37 215.5h1M4 216.5h1M37 216.5h1M27 217.5h1M12 218.5h1M24 218.5h2M27 218.5h1M18 219.5h1M25 219.5h1M28 219.5h1M17 221.5h1M28 222.5h1M39 223.5h1M28 224.5h1M27 225.5h1M17 227.5h2M37 227.5h1M37 229.5h1M28 230.5h1M14 231.5h1M12 232.5h1M17 233.5h1M39 233.5h1M28 235.5h1M28 236.5h1M27 237.5h2M27 240.5h1M37 242.5h1M27 243.5h2M37 243.5h1M28 244.5h1M18 245.5h1M4 246.5h1M12 248.5h1M6 249.5h1M12 249.5h1M27 249.5h1M13 250.5h1M26 251.5h1M28 251.5h1M31 251.5h1M12 252.5h1M7 253.5h1M13 255.5h1M27 257.5h1M27 258.5h1M13 259.5h1M35 259.5h1M26 260.5h1M15 261.5h1M16 262.5h1M27 264.5h2M4 267.5h2M26 267.5h1M12 268.5h1M14 268.5h1M27 268.5h1M4 269.5h1M12 269.5h1M7 270.5h1M28 270.5h1M27 271.5h1M26 272.5h1M4 273.5h1M4 274.5h2M12 274.5h1M27 274.5h1M4 275.5h1M26 275.5h1M28 275.5h1M28 276.5h1M28 278.5h1M16 280.5h1M43 280.5h1M5 281.5h1M14 281.5h1M37 281.5h1M13 282.5h1M26 282.5h1M36 282.5h2M6 283.5h1M12 283.5h1M14 283.5h1M27 283.5h2M15 284.5h2M28 284.5h1M33 284.5h1M5 287.5h1M7 287.5h1M26 287.5h2M7 288.5h1M37 288.5h1M28 289.5h1M27 290.5h1M13 291.5h1M61 294.5h2M71 295.5h1M58 296.5h1M61 296.5h1M69 296.5h1M9 297.5h1M71 297.5h1M11 298.5h1M57 298.5h2M10 299.5h1M57 299.5h1M59 299.5h1M69 299.5h1M71 299.5h1M58 301.5h1M63 301.5h1M37 302.5h1M43 302.5h1M55 302.5h1M58 302.5h3M62 302.5h1M64 302.5h1M1 303.5h1M58 303.5h2M67 303.5h2M71 303.5h2M75 303.5h1M1 304.5h1M60 304.5h1M68 304.5h1M58 305.5h1M62 305.5h1M66 305.5h1M57 306.5h1M61 306.5h1M57 307.5h2M61 307.5h2M73 307.5h1M59 308.5h2M69 308.5h1M74 308.5h1M59 309.5h1M62 309.5h1M68 309.5h1M1 310.5h1M57 310.5h2M63 310.5h1M69 310.5h1M72 310.5h3M1 311.5h1M71 311.5h2M74 311.5h1M63 312.5h1M65 312.5h1M68 312.5h1M1 313.5h1M60 313.5h1M68 313.5h1M70 313.5h1M75 314.5h1M62 315.5h2M68 315.5h1M74 315.5h1M1 316.5h1M57 316.5h1M63 316.5h1M68 316.5h2M60 317.5h3M64 317.5h1M66 317.5h3M70 317.5h3M74 317.5h1M65 318.5h1M62 319.5h1M64 319.5h1M71 319.5h1M74 319.5h1M59 320.5h1M63 320.5h1M65 320.5h1M67 320.5h1M70 320.5h1M75 320.5h1M64 321.5h1M67 321.5h2M72 322.5h1M64 323.5h3M63 324.5h1M67 324.5h1M72 324.5h1M59 325.5h1M66 325.5h2M71 325.5h1M73 325.5h1M59 326.5h1M71 326.5h1M61 327.5h1M69 327.5h2M73 327.5h1M75 327.5h1M67 328.5h2M72 328.5h2M64 329.5h1M57 330.5h1M64 330.5h1M69 330.5h1M0 331.5h1M57 331.5h1M61 331.5h1M71 331.5h1M73 331.5h1M64 332.5h2M70 332.5h1M74 332.5h1M57 333.5h1M61 333.5h2M1 334.5h1M60 334.5h1M66 334.5h1M68 334.5h3M1 335.5h1M37 335.5h1M64 335.5h1M69 335.5h1M58 336.5h1M66 336.5h1M75 336.5h1M1 337.5h1M62 337.5h1M69 337.5h1M74 337.5h1M63 338.5h1M69 338.5h2M72 338.5h2M37 339.5h1M68 339.5h1M70 339.5h1M72 339.5h1M57 340.5h2M63 340.5h1M70 340.5h1M72 340.5h2M75 340.5h1M60 341.5h1M63 341.5h1M65 342.5h1M68 342.5h1M73 342.5h1M57 343.5h1M60 343.5h2M73 343.5h1M75 343.5h1M0 344.5h1M60 344.5h2M66 344.5h1M57 345.5h2M60 345.5h1M62 345.5h1M69 345.5h1M0 346.5h1M58 346.5h1M0 347.5h1M57 347.5h1M58 348.5h2M69 348.5h1M1 349.5h1M60 349.5h1M67 349.5h1M70 349.5h1M69 350.5h1"/><path stroke="#003500" d="M17 0.5h1M26 0.5h1M37 0.5h2M44 0.5h1M5 1.5h1M14 1.5h1M30 1.5h1M36 1.5h1M44 1.5h1M4 2.5h1M15 2.5h1M39 2.5h1M49 2.5h1M51 2.5h1M27 3.5h1M41 3.5h1M47 3.5h1M1 4.5h1M26 4.5h1M45 4.5h1M38 5.5h2M19 6.5h2M41 6.5h1M50 6.5h1M19 7.5h1M36 7.5h1M51 7.5h1M0 8.5h1M15 8.5h1M36 8.5h2M1 9.5h1M13 9.5h1M1 10.5h1M12 10.5h1M16 10.5h1M45 10.5h1M47 10.5h1M3 11.5h1M14 11.5h1M39 11.5h1M50 11.5h1M59 11.5h1M5 12.5h1M13 12.5h2M1 13.5h1M4 13.5h1M38 13.5h1M24 15.5h1M38 15.5h1M42 15.5h1M51 15.5h1M12 16.5h1M48 16.5h1M51 16.5h1M17 17.5h1M23 17.5h1M37 17.5h1M43 17.5h1M48 17.5h2M13 18.5h1M26 18.5h1M44 18.5h1M51 18.5h1M37 19.5h1M51 20.5h1M13 21.5h1M51 21.5h1M21 22.5h1M39 22.5h1M50 23.5h1M44 24.5h1M15 25.5h1M19 26.5h1M26 26.5h1M44 26.5h1M19 27.5h1M44 27.5h1M12 28.5h1M25 28.5h2M37 28.5h1M59 28.5h1M70 28.5h1M1 29.5h1M24 29.5h1M37 29.5h1M46 29.5h1M24 30.5h1M42 30.5h1M47 30.5h1M51 30.5h1M12 31.5h1M20 31.5h1M24 31.5h1M30 31.5h1M37 31.5h1M43 31.5h1M22 32.5h1M26 32.5h1M42 32.5h2M12 33.5h2M16 33.5h1M25 33.5h1M0 35.5h1M18 35.5h1M40 35.5h2M51 35.5h1M64 36.5h1M37 37.5h1M48 37.5h1M4 38.5h1M43 38.5h1M48 38.5h1M21 39.5h1M48 39.5h1M21 40.5h1M24 40.5h1M48 40.5h1M51 40.5h1M21 41.5h1M23 41.5h1M38 41.5h1M40 41.5h1M4 42.5h1M28 42.5h1M1 43.5h1M28 43.5h1M44 43.5h1M1 44.5h1M28 44.5h1M39 44.5h1M45 44.5h2M13 45.5h1M37 45.5h1M50 46.5h1M57 46.5h1M13 47.5h1M39 47.5h1M0 48.5h1M19 48.5h2M43 48.5h2M46 48.5h1M50 48.5h2M58 48.5h1M38 49.5h1M43 49.5h1M33 50.5h1M37 50.5h1M39 50.5h1M42 50.5h1M47 50.5h1M59 50.5h1M1 52.5h1M17 52.5h1M38 52.5h2M41 52.5h1M43 52.5h1M49 52.5h1M69 52.5h1M75 52.5h1M13 53.5h1M42 53.5h2M1 54.5h1M33 54.5h1M1 55.5h1M39 55.5h1M41 55.5h1M57 55.5h3M31 56.5h1M41 56.5h1M57 56.5h1M37 57.5h1M39 57.5h1M41 57.5h1M61 57.5h1M40 58.5h1M43 58.5h1M61 58.5h1M65 58.5h1M31 59.5h1M37 60.5h2M41 60.5h1M47 60.5h1M57 60.5h2M12 61.5h1M41 61.5h1M58 61.5h1M71 61.5h1M40 62.5h1M60 62.5h1M58 63.5h1M30 64.5h1M32 64.5h1M64 64.5h1M65 65.5h1M57 66.5h1M59 66.5h1M39 67.5h1M55 67.5h1M20 68.5h1M45 68.5h1M49 68.5h1M57 68.5h1M67 68.5h1M19 69.5h1M39 69.5h1M47 69.5h1M59 70.5h1M42 71.5h1M45 71.5h1M17 72.5h1M21 72.5h1M32 72.5h1M34 72.5h1M58 72.5h1M38 73.5h1M47 73.5h1M60 73.5h1M13 74.5h1M37 74.5h1M46 74.5h1M57 74.5h1M60 74.5h2M69 74.5h1M1 75.5h1M32 75.5h1M60 75.5h1M70 75.5h1M15 76.5h1M43 76.5h1M46 76.5h1M40 78.5h1M60 78.5h1M39 80.5h1M43 80.5h1M59 80.5h1M72 80.5h3M42 81.5h1M73 81.5h1M1 82.5h1M37 82.5h1M39 82.5h1M59 83.5h1M42 84.5h1M59 84.5h1M72 84.5h1M12 85.5h1M38 85.5h1M66 85.5h1M68 85.5h1M74 85.5h1M50 87.5h1M67 87.5h1M73 87.5h1M57 88.5h2M40 89.5h1M49 89.5h1M73 89.5h1M39 90.5h1M42 90.5h1M47 90.5h1M50 90.5h1M39 91.5h1M17 92.5h1M37 92.5h1M40 92.5h1M49 92.5h2M73 92.5h1M37 93.5h2M40 93.5h1M45 93.5h1M50 93.5h1M25 94.5h1M38 94.5h1M41 94.5h1M43 94.5h1M45 94.5h1M49 94.5h1M73 94.5h1M46 95.5h3M33 96.5h1M42 97.5h1M46 97.5h1M1 98.5h1M0 99.5h2M21 99.5h1M30 99.5h1M43 99.5h2M31 100.5h2M5 101.5h1M48 101.5h1M57 102.5h1M1 103.5h1M32 103.5h2M51 103.5h1M6 104.5h1M32 104.5h1M72 104.5h1M73 105.5h1M30 106.5h1M45 106.5h1M74 106.5h1M1 107.5h1M35 107.5h1M47 107.5h1M1 108.5h1M37 108.5h1M43 108.5h1M0 109.5h1M60 109.5h1M0 110.5h1M17 110.5h1M32 110.5h1M49 110.5h1M61 110.5h1M30 111.5h2M38 111.5h1M37 112.5h1M45 112.5h1M57 112.5h2M31 115.5h1M15 116.5h1M18 116.5h1M37 116.5h1M40 116.5h1M37 117.5h2M39 118.5h1M47 118.5h1M68 118.5h1M0 119.5h1M30 119.5h1M34 120.5h1M36 120.5h1M1 121.5h1M37 122.5h1M54 122.5h1M31 124.5h1M75 124.5h1M33 125.5h1M36 125.5h1M44 125.5h1M37 126.5h1M74 126.5h1M33 127.5h1M43 127.5h2M67 127.5h1M31 128.5h1M34 128.5h1M37 128.5h1M43 128.5h1M34 129.5h1M36 129.5h2M44 129.5h1M34 130.5h1M37 130.5h1M49 130.5h1M67 130.5h1M43 131.5h1M72 131.5h1M4 132.5h1M34 132.5h1M51 132.5h1M5 133.5h1M71 133.5h1M1 134.5h1M18 134.5h1M69 134.5h1M30 135.5h1M48 135.5h1M5 136.5h1M45 136.5h1M58 136.5h2M17 137.5h1M37 137.5h1M44 137.5h1M65 138.5h1M68 138.5h1M73 138.5h1M0 139.5h1M30 139.5h1M38 139.5h1M50 139.5h1M67 139.5h1M9 140.5h1M15 140.5h2M5 141.5h1M57 141.5h1M59 141.5h1M57 142.5h2M64 142.5h1M73 142.5h1M18 143.5h1M7 144.5h1M34 144.5h1M71 144.5h1M75 144.5h1M4 145.5h1M29 145.5h2M32 145.5h1M35 145.5h1M59 145.5h1M64 145.5h1M71 145.5h2M75 145.5h1M5 146.5h1M35 146.5h1M57 146.5h1M64 146.5h1M71 146.5h1M15 147.5h1M30 147.5h1M32 147.5h1M34 147.5h1M71 147.5h1M75 147.5h1M0 148.5h1M32 148.5h1M35 148.5h1M69 148.5h1M71 148.5h1M1 149.5h1M15 149.5h1M75 149.5h1M49 150.5h1M57 150.5h1M71 150.5h1M1 151.5h1M11 151.5h1M65 151.5h2M68 151.5h1M1 153.5h1M75 153.5h1M4 154.5h1M21 154.5h1M27 154.5h1M37 154.5h1M12 155.5h1M15 155.5h1M18 155.5h1M21 155.5h1M12 156.5h1M17 156.5h1M21 156.5h1M33 156.5h1M14 157.5h1M3 158.5h1M5 158.5h1M27 158.5h1M4 159.5h2M18 159.5h1M27 159.5h1M3 160.5h1M13 160.5h1M20 160.5h1M25 160.5h1M28 160.5h1M14 161.5h1M28 161.5h1M37 161.5h1M4 162.5h2M21 162.5h1M24 162.5h1M33 162.5h1M37 162.5h1M4 163.5h2M11 163.5h1M26 163.5h1M18 164.5h1M24 164.5h2M4 165.5h1M17 165.5h1M25 165.5h1M27 165.5h2M3 166.5h1M12 166.5h1M17 166.5h1M37 166.5h3M4 167.5h1M32 167.5h2M37 167.5h1M39 168.5h1M12 169.5h1M3 170.5h1M28 170.5h1M3 171.5h1M21 171.5h1M24 171.5h3M5 172.5h1M21 172.5h1M25 172.5h1M37 172.5h1M39 172.5h1M4 173.5h2M7 173.5h1M12 173.5h2M21 173.5h1M25 173.5h1M28 173.5h1M37 173.5h1M39 173.5h1M3 174.5h1M17 174.5h1M25 174.5h1M27 174.5h1M37 174.5h1M39 174.5h1M4 175.5h1M8 175.5h1M13 175.5h1M17 175.5h1M24 175.5h1M27 175.5h1M39 175.5h1M4 176.5h2M28 176.5h1M37 176.5h1M39 176.5h1M3 177.5h1M5 177.5h1M18 177.5h1M37 177.5h1M24 178.5h1M27 178.5h1M37 178.5h1M4 179.5h1M12 179.5h1M20 179.5h1M3 180.5h1M12 180.5h1M24 180.5h1M28 180.5h1M5 181.5h1M13 181.5h1M17 181.5h1M19 181.5h1M39 181.5h1M3 182.5h1M5 182.5h1M12 182.5h1M14 182.5h1M17 182.5h2M17 183.5h1M24 183.5h1M28 183.5h1M3 184.5h1M5 184.5h1M17 184.5h1M20 184.5h1M24 184.5h2M28 184.5h1M17 185.5h1M20 185.5h1M24 185.5h1M33 185.5h1M5 186.5h1M18 186.5h1M24 186.5h1M4 187.5h2M20 187.5h1M3 188.5h1M17 188.5h1M28 188.5h1M3 189.5h1M12 189.5h1M18 189.5h1M20 190.5h2M37 190.5h2M13 191.5h1M28 191.5h1M38 191.5h1M12 192.5h1M17 192.5h1M25 192.5h1M39 192.5h1M33 193.5h1M13 194.5h1M18 194.5h1M24 194.5h1M27 194.5h2M38 194.5h1M14 195.5h1M17 196.5h1M38 196.5h1M3 197.5h2M13 197.5h2M18 197.5h1M4 198.5h1M12 198.5h1M20 198.5h1M28 198.5h1M37 198.5h1M3 199.5h1M20 199.5h1M27 199.5h2M3 200.5h1M19 200.5h1M25 200.5h1M28 200.5h1M24 201.5h1M27 201.5h1M33 201.5h1M3 202.5h1M18 202.5h1M24 202.5h1M27 202.5h1M18 203.5h1M24 203.5h1M26 203.5h1M33 203.5h1M3 204.5h1M17 204.5h1M28 204.5h1M5 205.5h1M17 205.5h1M21 205.5h1M5 206.5h1M18 206.5h1M21 206.5h1M24 206.5h1M37 206.5h1M28 207.5h1M38 207.5h1M28 208.5h1M33 208.5h1M39 208.5h1M24 209.5h1M28 209.5h1M33 209.5h1M37 209.5h1M39 209.5h1M5 210.5h1M17 210.5h1M37 210.5h1M12 212.5h1M3 213.5h1M5 213.5h1M7 213.5h1M28 213.5h1M37 213.5h1M5 214.5h1M8 214.5h1M12 214.5h1M26 214.5h2M38 214.5h1M12 215.5h1M18 215.5h1M27 215.5h1M38 215.5h1M3 216.5h1M5 216.5h1M28 216.5h1M38 216.5h1M12 217.5h1M14 217.5h1M37 217.5h1M15 218.5h2M18 218.5h1M21 218.5h1M38 218.5h1M15 219.5h1M24 219.5h1M26 219.5h1M33 219.5h1M38 219.5h1M7 220.5h1M17 220.5h2M38 220.5h1M37 221.5h1M12 222.5h1M18 222.5h1M27 222.5h1M11 223.5h1M17 223.5h1M7 225.5h1M28 225.5h1M37 225.5h1M39 225.5h1M7 226.5h1M15 226.5h1M17 226.5h1M20 227.5h1M28 227.5h1M12 228.5h1M27 228.5h2M38 228.5h1M17 229.5h2M25 229.5h1M12 230.5h1M18 230.5h1M24 230.5h1M12 231.5h1M18 231.5h1M27 231.5h1M37 231.5h1M17 232.5h1M27 232.5h2M37 232.5h1M39 232.5h1M4 233.5h2M28 233.5h1M33 233.5h1M4 234.5h1M33 234.5h1M12 235.5h1M17 236.5h1M12 237.5h2M37 238.5h2M12 239.5h1M28 239.5h1M12 240.5h1M14 241.5h1M27 241.5h2M13 242.5h1M28 242.5h1M4 243.5h1M12 243.5h1M17 243.5h1M27 245.5h2M37 245.5h1M28 246.5h1M33 246.5h1M35 246.5h1M5 247.5h1M26 247.5h1M5 248.5h1M14 248.5h1M26 248.5h1M4 249.5h1M13 249.5h1M5 250.5h1M26 250.5h1M30 250.5h1M5 251.5h1M13 251.5h1M27 251.5h1M14 252.5h1M27 252.5h1M4 253.5h2M13 253.5h1M28 253.5h1M36 253.5h2M28 254.5h1M12 255.5h1M6 256.5h1M12 256.5h2M16 256.5h1M27 256.5h1M12 257.5h1M28 257.5h1M28 258.5h1M37 258.5h1M5 259.5h1M12 259.5h1M15 259.5h1M26 259.5h2M34 259.5h1M28 260.5h1M5 261.5h1M16 261.5h1M14 262.5h1M28 263.5h1M4 265.5h2M12 265.5h1M27 265.5h1M4 266.5h1M6 266.5h1M27 266.5h1M12 267.5h1M14 267.5h1M16 267.5h1M27 267.5h2M33 267.5h1M13 268.5h1M15 269.5h1M26 269.5h1M28 269.5h1M6 270.5h1M27 270.5h1M27 272.5h1M35 272.5h1M5 273.5h1M13 273.5h1M28 273.5h1M33 273.5h1M36 273.5h1M14 274.5h1M26 274.5h1M28 274.5h1M37 274.5h1M5 275.5h1M10 275.5h1M14 275.5h1M42 275.5h1M26 276.5h1M27 277.5h2M16 278.5h1M27 278.5h1M26 279.5h2M28 280.5h1M37 280.5h1M41 280.5h2M4 281.5h1M12 281.5h1M16 281.5h1M34 281.5h1M43 281.5h1M34 282.5h2M13 283.5h1M16 283.5h1M26 283.5h1M35 283.5h1M36 284.5h1M4 285.5h1M12 285.5h1M14 285.5h3M28 285.5h1M35 285.5h1M5 286.5h1M15 286.5h2M28 287.5h1M36 287.5h1M43 287.5h1M26 288.5h1M39 288.5h1M42 288.5h1M6 289.5h2M26 289.5h1M28 290.5h1M12 292.5h1M15 292.5h1M36 292.5h1M15 293.5h1M1 294.5h1M60 294.5h1M64 294.5h2M75 294.5h1M1 295.5h1M59 295.5h1M62 295.5h1M69 295.5h1M57 296.5h1M62 296.5h1M68 296.5h1M0 297.5h1M69 297.5h1M75 297.5h1M61 298.5h2M64 298.5h1M69 298.5h3M61 299.5h5M68 299.5h1M72 299.5h1M55 300.5h1M58 300.5h1M61 300.5h1M65 300.5h1M69 300.5h1M71 300.5h3M75 300.5h1M55 301.5h1M61 301.5h2M64 301.5h1M69 301.5h2M72 301.5h1M75 301.5h1M56 302.5h1M61 302.5h1M63 302.5h1M68 302.5h1M71 302.5h1M74 302.5h1M9 303.5h1M37 303.5h1M55 303.5h2M61 303.5h1M63 303.5h1M73 303.5h2M37 304.5h1M62 304.5h1M67 304.5h1M69 304.5h1M75 304.5h1M10 305.5h2M61 305.5h1M71 305.5h1M73 305.5h3M37 306.5h1M60 306.5h1M62 306.5h1M65 306.5h1M68 306.5h2M72 306.5h1M9 307.5h1M56 307.5h1M60 307.5h1M68 307.5h1M74 307.5h1M10 308.5h1M58 308.5h1M61 308.5h2M64 308.5h4M70 308.5h1M43 309.5h1M57 309.5h1M61 309.5h1M64 309.5h1M66 309.5h1M70 309.5h1M75 309.5h1M37 310.5h1M43 310.5h1M53 310.5h1M59 310.5h1M64 310.5h1M71 310.5h1M60 311.5h3M73 311.5h1M58 312.5h1M62 312.5h1M69 312.5h2M72 312.5h1M74 312.5h1M61 313.5h2M64 313.5h1M66 313.5h2M38 314.5h1M62 314.5h2M70 314.5h2M0 315.5h1M58 315.5h1M65 315.5h1M67 315.5h1M69 315.5h1M72 315.5h1M75 315.5h1M0 316.5h1M59 316.5h3M59 317.5h1M63 317.5h1M65 317.5h1M69 317.5h1M73 317.5h1M57 318.5h1M60 318.5h2M64 318.5h1M74 318.5h1M1 319.5h1M58 319.5h1M60 319.5h2M67 319.5h1M69 319.5h1M60 320.5h1M64 320.5h1M1 321.5h1M56 321.5h1M61 321.5h1M65 321.5h2M69 321.5h1M74 321.5h1M0 322.5h1M57 322.5h3M61 322.5h3M73 322.5h3M61 323.5h3M68 323.5h1M73 323.5h1M57 324.5h2M60 324.5h1M66 324.5h1M68 324.5h4M73 324.5h1M58 325.5h1M74 325.5h1M62 326.5h1M66 326.5h1M72 326.5h1M57 327.5h1M59 327.5h1M64 327.5h2M0 328.5h1M63 328.5h1M60 329.5h1M65 329.5h1M73 329.5h1M75 329.5h1M1 330.5h1M54 330.5h1M60 330.5h1M62 330.5h1M70 330.5h2M75 330.5h1M1 331.5h1M58 331.5h1M60 331.5h1M74 331.5h1M58 332.5h1M73 332.5h1M0 333.5h1M60 333.5h1M67 333.5h1M69 333.5h1M71 333.5h1M73 333.5h1M62 334.5h1M64 334.5h1M67 334.5h1M74 334.5h1M53 335.5h1M58 335.5h1M70 335.5h1M73 335.5h2M42 336.5h1M55 336.5h2M65 336.5h1M67 336.5h1M72 336.5h1M37 337.5h1M43 337.5h1M54 337.5h1M56 337.5h2M61 337.5h1M71 337.5h1M75 337.5h1M37 338.5h1M60 338.5h2M64 338.5h1M71 338.5h1M63 339.5h1M65 339.5h1M65 340.5h1M68 340.5h2M61 341.5h1M64 341.5h1M69 341.5h1M72 341.5h1M74 341.5h2M0 342.5h1M57 342.5h1M60 342.5h1M63 342.5h2M67 342.5h1M71 342.5h2M74 342.5h1M1 343.5h1M62 343.5h1M64 343.5h1M68 343.5h1M72 343.5h1M1 344.5h1M58 344.5h1M62 344.5h1M65 344.5h1M69 344.5h3M73 344.5h1M63 345.5h1M68 345.5h1M71 345.5h2M75 345.5h1M60 346.5h1M66 346.5h1M68 346.5h2M60 347.5h1M64 347.5h1M70 347.5h1M73 347.5h2M0 348.5h1M61 348.5h1M70 348.5h3M38 349.5h1M58 349.5h1M61 349.5h2M64 349.5h1M72 349.5h3M1 350.5h1M57 350.5h1M59 350.5h1M63 350.5h1M65 350.5h1"/><path stroke="#002a00" d="M46 0.5h1M4 1.5h1M13 1.5h1M16 1.5h1M39 1.5h1M48 1.5h1M30 2.5h1M36 3.5h1M45 3.5h1M48 3.5h1M4 4.5h1M49 4.5h1M48 5.5h1M50 5.5h1M1 6.5h1M40 6.5h1M58 6.5h1M12 7.5h1M24 7.5h1M40 7.5h1M13 8.5h2M16 8.5h1M30 8.5h1M23 9.5h1M32 9.5h1M51 9.5h1M43 10.5h1M12 11.5h1M29 11.5h1M44 11.5h1M46 11.5h3M57 11.5h1M18 12.5h1M41 12.5h1M5 13.5h1M14 13.5h1M44 13.5h1M51 13.5h1M18 14.5h1M26 14.5h1M38 14.5h1M51 14.5h1M15 15.5h1M13 16.5h1M23 16.5h1M50 16.5h1M4 17.5h1M24 17.5h1M0 18.5h1M18 18.5h1M24 18.5h1M30 18.5h1M37 18.5h2M45 18.5h1M24 19.5h2M46 19.5h1M51 19.5h1M13 20.5h1M23 20.5h1M39 20.5h1M42 20.5h1M14 21.5h1M22 21.5h2M12 22.5h2M40 22.5h1M51 22.5h1M1 23.5h1M12 23.5h1M23 23.5h1M1 24.5h1M13 24.5h2M38 24.5h1M50 24.5h2M17 25.5h1M36 25.5h1M44 25.5h1M23 26.5h2M46 26.5h1M23 28.5h1M38 28.5h1M50 28.5h1M58 28.5h1M71 28.5h1M74 28.5h1M39 29.5h2M48 29.5h1M1 30.5h1M18 30.5h1M23 30.5h1M25 30.5h1M45 30.5h1M48 30.5h1M45 31.5h1M51 31.5h1M59 31.5h2M14 32.5h2M23 32.5h2M30 32.5h1M38 32.5h1M45 32.5h1M58 32.5h1M15 33.5h1M17 33.5h1M37 33.5h2M47 33.5h1M50 33.5h1M59 33.5h1M1 34.5h1M19 34.5h1M40 34.5h1M1 35.5h1M16 35.5h1M36 35.5h1M58 35.5h1M0 37.5h1M39 37.5h1M45 37.5h1M35 38.5h1M40 38.5h1M45 38.5h1M47 38.5h1M38 39.5h1M49 39.5h1M40 40.5h1M45 40.5h2M45 41.5h1M5 42.5h1M44 42.5h1M51 42.5h1M57 43.5h1M12 44.5h2M27 44.5h1M1 45.5h1M14 45.5h1M22 45.5h1M29 45.5h1M39 45.5h1M50 45.5h1M24 46.5h1M46 46.5h1M48 46.5h1M58 46.5h1M33 47.5h1M44 47.5h2M50 47.5h2M59 47.5h1M1 48.5h1M13 48.5h1M44 49.5h1M48 49.5h1M25 50.5h1M58 50.5h1M1 51.5h1M13 51.5h1M16 51.5h1M37 51.5h1M40 51.5h1M42 51.5h1M51 51.5h1M14 53.5h1M30 53.5h1M61 53.5h1M32 54.5h1M37 54.5h1M75 54.5h1M25 55.5h1M37 55.5h1M51 55.5h1M71 55.5h1M75 55.5h1M27 56.5h1M51 56.5h1M59 56.5h1M38 57.5h1M40 59.5h1M44 59.5h1M58 59.5h2M68 59.5h1M1 60.5h1M36 60.5h1M43 60.5h1M74 60.5h1M21 61.5h1M38 61.5h1M69 61.5h1M12 63.5h1M32 63.5h1M34 63.5h1M57 63.5h1M64 63.5h1M69 63.5h1M1 64.5h1M31 64.5h1M37 64.5h1M57 64.5h1M39 65.5h1M42 65.5h1M71 65.5h1M19 66.5h1M40 66.5h1M42 66.5h2M1 67.5h1M18 67.5h1M24 67.5h1M43 67.5h1M45 67.5h1M51 67.5h1M33 68.5h1M41 68.5h1M46 68.5h1M48 68.5h1M51 68.5h1M61 68.5h1M33 69.5h1M59 69.5h1M68 69.5h1M40 70.5h1M66 70.5h1M15 71.5h3M30 71.5h1M34 71.5h1M37 71.5h1M40 71.5h1M57 71.5h1M60 71.5h1M24 72.5h1M37 72.5h2M42 72.5h1M46 72.5h3M14 73.5h1M17 73.5h1M33 73.5h1M45 73.5h1M48 73.5h1M14 74.5h1M17 74.5h2M21 74.5h1M25 74.5h1M32 74.5h1M47 74.5h1M70 74.5h1M12 75.5h1M16 75.5h1M40 75.5h1M59 75.5h1M69 75.5h1M2 76.5h1M18 76.5h1M37 76.5h1M70 76.5h2M67 78.5h1M8 79.5h1M39 79.5h1M59 79.5h1M3 80.5h1M38 80.5h1M40 80.5h1M51 80.5h1M39 81.5h2M58 81.5h2M1 83.5h1M40 83.5h1M2 85.5h1M33 85.5h1M57 85.5h2M32 86.5h1M38 86.5h1M59 86.5h1M68 86.5h1M73 86.5h1M66 87.5h1M72 88.5h1M36 89.5h1M44 89.5h1M46 89.5h1M58 89.5h1M63 89.5h2M40 90.5h1M43 90.5h1M49 90.5h1M41 91.5h1M73 91.5h1M51 92.5h1M16 93.5h1M41 93.5h3M46 93.5h1M60 93.5h2M2 94.5h1M30 94.5h1M51 94.5h1M53 94.5h1M67 94.5h1M21 95.5h1M34 95.5h1M39 95.5h1M45 95.5h1M59 95.5h1M66 95.5h1M74 95.5h2M25 96.5h1M41 96.5h1M75 96.5h1M7 97.5h1M39 98.5h1M44 98.5h1M65 98.5h1M72 98.5h1M41 99.5h1M60 99.5h1M62 99.5h1M67 99.5h1M30 100.5h1M43 100.5h1M60 100.5h1M36 101.5h1M44 101.5h1M57 101.5h1M67 101.5h1M43 102.5h2M75 102.5h1M17 103.5h1M24 103.5h1M43 103.5h2M71 103.5h2M17 104.5h1M59 104.5h1M67 104.5h1M43 105.5h1M71 105.5h1M33 106.5h1M40 106.5h1M75 106.5h1M18 107.5h1M34 107.5h1M39 107.5h1M57 107.5h1M59 107.5h1M16 108.5h1M38 108.5h1M41 108.5h1M44 108.5h1M66 108.5h1M75 108.5h1M1 109.5h1M16 109.5h1M33 109.5h1M36 109.5h1M50 109.5h1M62 109.5h1M25 110.5h1M37 110.5h1M43 110.5h2M16 111.5h1M44 111.5h1M50 111.5h1M0 112.5h1M59 112.5h1M66 112.5h3M71 112.5h2M45 113.5h3M59 113.5h1M72 113.5h1M74 113.5h2M31 114.5h2M71 114.5h1M61 115.5h1M72 115.5h1M31 116.5h1M36 116.5h1M38 116.5h1M46 116.5h1M51 116.5h1M60 116.5h1M72 116.5h1M74 116.5h1M39 117.5h1M46 117.5h1M50 117.5h1M66 117.5h1M68 117.5h1M0 118.5h1M45 118.5h1M18 119.5h1M36 119.5h2M63 119.5h1M66 119.5h1M53 120.5h1M55 121.5h1M39 122.5h1M45 122.5h1M59 123.5h1M24 124.5h1M58 124.5h1M45 126.5h1M58 126.5h1M72 126.5h1M75 126.5h1M4 127.5h1M27 127.5h1M39 127.5h1M46 127.5h1M64 127.5h1M66 127.5h1M68 127.5h1M71 127.5h1M75 127.5h1M27 128.5h1M32 128.5h1M35 128.5h2M39 128.5h1M42 128.5h1M46 128.5h1M35 129.5h1M50 129.5h1M63 129.5h1M1 130.5h1M33 130.5h1M35 130.5h2M48 130.5h1M50 130.5h1M65 130.5h1M73 130.5h2M44 131.5h1M65 131.5h1M67 131.5h2M73 131.5h1M29 132.5h1M37 132.5h1M47 132.5h1M50 132.5h1M66 132.5h1M15 133.5h1M17 133.5h2M34 133.5h1M46 133.5h1M63 133.5h1M65 133.5h1M17 134.5h1M22 134.5h1M31 134.5h1M33 134.5h2M36 134.5h2M53 134.5h1M60 134.5h1M1 135.5h1M33 135.5h1M37 135.5h1M59 135.5h3M1 136.5h1M30 136.5h1M35 136.5h1M39 136.5h1M50 136.5h1M75 136.5h1M1 137.5h1M22 137.5h1M26 137.5h1M35 137.5h1M60 137.5h1M74 137.5h2M58 138.5h1M60 138.5h1M72 138.5h1M35 139.5h1M49 139.5h1M57 139.5h1M26 140.5h1M37 140.5h1M49 140.5h1M69 140.5h1M4 141.5h1M27 141.5h1M35 141.5h1M46 141.5h1M71 141.5h2M74 141.5h1M33 142.5h1M65 142.5h2M72 142.5h1M1 143.5h1M4 143.5h1M15 143.5h1M22 143.5h1M33 143.5h1M35 143.5h2M57 143.5h1M64 143.5h1M68 143.5h1M4 144.5h2M35 144.5h1M38 144.5h1M74 144.5h1M5 145.5h1M7 145.5h1M18 145.5h2M34 145.5h1M38 145.5h1M58 145.5h1M65 145.5h1M30 146.5h1M33 146.5h1M60 146.5h1M75 146.5h1M17 147.5h1M60 147.5h1M73 147.5h1M30 148.5h1M36 148.5h1M57 148.5h1M60 148.5h1M16 149.5h1M1 150.5h1M31 150.5h1M34 150.5h2M45 150.5h1M48 150.5h1M55 150.5h1M63 150.5h1M33 151.5h1M67 151.5h1M71 151.5h1M75 151.5h1M37 152.5h1M68 152.5h1M18 153.5h1M27 153.5h1M51 153.5h1M60 153.5h1M13 154.5h2M19 154.5h2M24 154.5h2M33 154.5h1M3 155.5h1M7 155.5h1M14 155.5h1M22 155.5h1M27 155.5h2M34 155.5h2M14 156.5h1M27 156.5h2M38 156.5h1M3 157.5h2M13 157.5h1M17 157.5h2M27 157.5h2M13 158.5h2M28 158.5h1M37 158.5h3M21 159.5h1M25 159.5h1M38 159.5h1M14 160.5h1M17 160.5h1M21 160.5h1M24 160.5h1M38 160.5h1M4 161.5h1M18 161.5h1M21 161.5h1M24 161.5h1M26 161.5h1M39 161.5h1M12 162.5h1M17 162.5h1M26 162.5h1M10 163.5h1M12 163.5h1M21 163.5h1M3 164.5h1M12 164.5h1M17 164.5h1M21 164.5h1M39 164.5h1M14 165.5h1M21 165.5h1M38 165.5h1M9 166.5h1M24 166.5h1M14 167.5h1M20 167.5h1M29 167.5h1M38 167.5h1M4 168.5h2M10 168.5h1M14 168.5h1M17 168.5h1M37 168.5h1M3 169.5h3M18 169.5h1M33 169.5h1M37 169.5h1M12 170.5h1M14 170.5h1M25 170.5h1M37 170.5h1M5 171.5h1M17 171.5h1M33 171.5h1M38 171.5h2M3 172.5h2M13 172.5h1M15 172.5h1M20 172.5h1M3 173.5h1M14 173.5h1M20 173.5h1M7 174.5h1M13 174.5h1M18 174.5h1M22 174.5h1M28 174.5h1M38 174.5h1M7 175.5h1M14 175.5h1M38 175.5h1M6 176.5h1M12 176.5h3M17 176.5h1M38 176.5h1M20 177.5h1M38 177.5h1M4 178.5h2M13 178.5h1M20 178.5h1M38 178.5h1M3 179.5h1M5 179.5h1M25 179.5h1M37 179.5h1M39 179.5h1M14 180.5h1M19 180.5h1M27 180.5h1M7 181.5h1M12 181.5h1M24 181.5h1M37 181.5h2M20 182.5h2M24 182.5h2M38 182.5h1M4 183.5h2M12 183.5h1M21 183.5h1M32 183.5h1M12 184.5h1M18 184.5h1M21 184.5h1M26 184.5h1M37 184.5h3M10 185.5h1M11 186.5h3M17 186.5h1M25 186.5h1M39 186.5h1M10 187.5h1M14 187.5h1M18 187.5h1M29 187.5h1M37 187.5h3M10 188.5h1M15 188.5h1M18 188.5h1M21 188.5h1M26 188.5h1M37 188.5h1M24 189.5h1M37 189.5h1M14 190.5h1M7 191.5h2M14 191.5h1M17 191.5h1M20 191.5h1M7 192.5h2M13 192.5h2M20 192.5h1M37 192.5h1M12 193.5h1M20 193.5h1M25 193.5h1M39 193.5h1M7 194.5h1M14 194.5h1M18 195.5h1M23 195.5h3M28 195.5h1M33 195.5h1M38 195.5h1M8 196.5h1M13 196.5h1M20 196.5h1M24 196.5h1M28 196.5h1M33 196.5h1M39 196.5h1M25 197.5h1M28 197.5h1M38 197.5h2M3 198.5h1M5 198.5h1M17 198.5h1M25 198.5h1M5 199.5h1M7 199.5h2M17 199.5h1M5 200.5h1M7 200.5h1M13 200.5h1M17 200.5h1M39 200.5h1M17 201.5h1M37 201.5h3M7 202.5h1M17 202.5h1M38 202.5h1M12 203.5h1M14 203.5h1M28 203.5h1M12 204.5h1M24 204.5h2M37 204.5h1M39 204.5h1M4 205.5h1M11 205.5h1M24 205.5h1M29 205.5h1M37 205.5h2M11 206.5h2M25 206.5h1M33 206.5h1M38 206.5h1M9 207.5h1M12 207.5h1M18 207.5h1M24 207.5h2M35 207.5h1M11 208.5h2M17 208.5h1M37 208.5h1M25 209.5h1M35 209.5h1M3 210.5h1M18 210.5h1M20 210.5h1M3 211.5h1M5 211.5h1M13 211.5h1M25 211.5h1M27 211.5h1M17 212.5h1M24 212.5h2M27 212.5h1M39 212.5h1M8 213.5h2M12 213.5h3M17 213.5h2M24 213.5h1M26 213.5h1M9 214.5h3M13 214.5h1M15 214.5h1M20 214.5h1M24 214.5h1M2 215.5h2M13 215.5h1M24 215.5h1M26 215.5h1M33 215.5h1M12 216.5h1M14 216.5h1M17 216.5h2M27 216.5h1M33 216.5h1M5 217.5h1M13 217.5h1M28 217.5h1M33 217.5h1M38 217.5h1M3 218.5h3M17 218.5h1M3 219.5h1M7 219.5h1M22 219.5h2M39 219.5h1M8 220.5h1M12 220.5h2M15 220.5h1M27 220.5h1M33 220.5h3M37 220.5h1M13 221.5h2M18 221.5h1M25 221.5h1M28 221.5h1M32 221.5h2M38 221.5h1M13 222.5h2M17 222.5h1M21 222.5h1M7 223.5h1M9 223.5h1M12 223.5h2M37 223.5h1M7 224.5h1M9 224.5h1M37 224.5h1M39 224.5h1M6 225.5h1M8 225.5h2M13 225.5h2M18 225.5h1M21 225.5h1M6 226.5h1M12 226.5h2M18 226.5h1M5 227.5h1M16 227.5h1M26 227.5h1M33 227.5h2M15 228.5h1M17 228.5h2M6 229.5h1M12 229.5h3M24 229.5h1M26 229.5h1M36 229.5h1M39 230.5h1M16 231.5h2M39 231.5h1M4 232.5h2M13 232.5h3M21 232.5h1M3 233.5h1M12 233.5h1M15 233.5h1M7 234.5h1M34 234.5h2M37 234.5h1M39 234.5h1M15 235.5h1M18 235.5h1M27 235.5h1M33 235.5h1M39 235.5h1M8 236.5h1M14 236.5h3M4 237.5h1M14 237.5h1M17 237.5h1M25 237.5h1M37 237.5h1M39 237.5h1M4 238.5h2M27 238.5h1M4 239.5h1M39 239.5h1M13 240.5h2M21 240.5h1M37 240.5h1M39 240.5h1M9 241.5h1M12 241.5h1M15 241.5h1M18 241.5h1M37 241.5h1M14 242.5h1M26 242.5h2M33 242.5h1M5 243.5h1M14 243.5h1M18 243.5h1M26 243.5h1M38 243.5h1M5 244.5h1M13 244.5h1M18 244.5h1M27 244.5h1M37 244.5h1M26 245.5h1M27 246.5h1M34 246.5h1M4 247.5h1M40 247.5h1M2 248.5h1M37 249.5h1M4 250.5h1M15 250.5h1M28 250.5h1M37 250.5h1M4 251.5h1M12 251.5h1M14 251.5h1M34 251.5h2M3 252.5h1M6 252.5h1M13 252.5h1M37 252.5h1M6 253.5h1M26 253.5h1M4 254.5h1M12 254.5h1M15 254.5h1M27 254.5h1M37 254.5h1M5 255.5h1M27 255.5h2M37 255.5h1M43 255.5h1M42 256.5h1M5 258.5h1M7 258.5h1M16 258.5h1M26 258.5h1M33 258.5h1M4 259.5h1M7 259.5h1M14 259.5h1M16 259.5h1M28 259.5h1M33 259.5h1M42 259.5h2M4 260.5h1M14 260.5h3M36 260.5h1M14 261.5h1M26 261.5h3M4 262.5h1M27 262.5h1M6 263.5h1M8 263.5h1M12 263.5h1M15 263.5h1M26 263.5h1M33 263.5h1M7 264.5h1M12 264.5h1M7 265.5h1M14 265.5h1M26 265.5h1M35 265.5h1M37 265.5h1M13 266.5h1M33 266.5h2M6 267.5h1M15 267.5h1M34 267.5h1M5 268.5h3M16 268.5h1M37 268.5h1M13 269.5h2M27 269.5h1M4 270.5h2M12 270.5h3M23 270.5h1M8 271.5h1M12 271.5h1M28 271.5h1M43 271.5h1M4 272.5h1M7 272.5h1M13 272.5h1M16 272.5h1M33 272.5h1M37 272.5h1M7 273.5h1M12 273.5h1M14 273.5h1M37 273.5h1M6 274.5h2M13 274.5h1M9 275.5h1M13 275.5h1M43 275.5h1M15 276.5h1M43 276.5h1M12 278.5h1M15 278.5h1M37 278.5h1M28 279.5h1M37 279.5h1M13 280.5h1M26 280.5h1M13 281.5h1M15 281.5h1M6 282.5h1M10 282.5h1M27 282.5h2M4 283.5h1M7 283.5h1M33 283.5h2M12 284.5h1M37 284.5h1M34 285.5h1M43 285.5h1M4 286.5h1M6 286.5h1M27 286.5h1M37 286.5h1M6 287.5h1M12 287.5h2M16 287.5h1M38 287.5h1M41 287.5h1M5 288.5h1M12 288.5h1M16 288.5h1M35 288.5h2M13 289.5h1M15 289.5h2M36 289.5h1M14 290.5h1M26 290.5h1M36 290.5h2M12 291.5h1M14 291.5h1M26 291.5h1M28 291.5h1M34 291.5h1M37 291.5h1M6 292.5h1M27 292.5h2M33 292.5h1M43 292.5h1M7 293.5h1M12 293.5h1M27 293.5h1M35 293.5h1M0 294.5h1M53 294.5h1M57 294.5h1M63 294.5h1M69 294.5h1M71 294.5h1M73 294.5h2M57 295.5h1M63 295.5h2M68 295.5h1M70 295.5h1M75 295.5h1M59 296.5h1M63 296.5h1M66 296.5h2M72 296.5h1M61 297.5h1M63 297.5h1M66 297.5h1M9 298.5h1M54 298.5h2M60 298.5h1M67 298.5h1M9 299.5h1M11 300.5h1M56 300.5h1M64 300.5h1M70 300.5h1M38 301.5h1M54 301.5h1M56 301.5h2M59 301.5h1M65 302.5h2M73 302.5h1M0 303.5h1M10 303.5h2M42 303.5h1M60 303.5h1M62 303.5h1M64 303.5h1M70 303.5h1M0 304.5h1M9 304.5h1M42 304.5h1M54 304.5h1M58 304.5h1M66 304.5h1M71 304.5h1M74 304.5h1M0 305.5h2M42 305.5h1M57 305.5h1M60 305.5h1M65 305.5h1M67 305.5h3M0 306.5h2M9 306.5h1M11 306.5h1M42 306.5h1M53 306.5h1M64 306.5h1M67 306.5h1M73 306.5h1M10 307.5h2M37 307.5h1M53 307.5h1M59 307.5h1M63 307.5h1M66 307.5h2M69 307.5h1M71 307.5h1M1 308.5h1M11 308.5h1M63 308.5h1M71 308.5h1M37 309.5h1M63 309.5h1M69 309.5h1M72 309.5h1M42 310.5h1M62 310.5h1M70 310.5h1M75 310.5h1M53 311.5h1M55 311.5h1M69 311.5h1M0 313.5h1M37 313.5h1M58 313.5h2M71 313.5h2M74 313.5h1M0 314.5h1M59 314.5h1M64 314.5h1M66 314.5h3M72 314.5h1M74 314.5h1M42 315.5h1M57 315.5h1M64 315.5h1M66 315.5h1M73 315.5h1M53 316.5h1M67 316.5h1M72 316.5h1M0 317.5h2M42 317.5h1M0 318.5h1M53 318.5h1M55 318.5h1M62 318.5h1M67 318.5h1M70 318.5h3M56 319.5h1M70 319.5h1M73 319.5h1M0 320.5h1M53 320.5h1M61 320.5h2M60 321.5h1M62 321.5h2M71 321.5h1M68 322.5h1M70 322.5h1M57 323.5h1M59 323.5h2M67 323.5h1M69 323.5h3M75 323.5h1M0 324.5h1M59 324.5h1M61 324.5h2M75 324.5h1M1 325.5h1M60 325.5h2M63 325.5h3M75 325.5h1M60 326.5h2M67 326.5h1M74 326.5h1M66 327.5h2M60 328.5h1M62 328.5h1M69 328.5h3M1 329.5h1M38 329.5h1M57 329.5h3M61 329.5h3M67 329.5h1M72 329.5h1M38 330.5h1M59 330.5h1M61 330.5h1M54 331.5h1M59 331.5h1M67 331.5h1M72 331.5h1M1 332.5h1M57 332.5h1M66 332.5h1M68 332.5h1M71 332.5h1M1 333.5h1M58 333.5h1M63 333.5h1M65 333.5h1M68 333.5h1M0 334.5h1M63 334.5h1M65 334.5h1M72 334.5h2M75 334.5h1M60 335.5h1M67 335.5h1M0 336.5h2M43 336.5h1M54 336.5h1M60 336.5h1M62 336.5h3M68 336.5h1M73 336.5h1M0 337.5h1M60 337.5h1M64 337.5h3M0 338.5h2M39 338.5h1M55 338.5h3M59 338.5h1M62 338.5h1M65 338.5h2M60 339.5h2M64 339.5h1M75 339.5h1M0 340.5h1M53 340.5h1M60 340.5h2M74 340.5h1M0 341.5h2M43 341.5h1M53 341.5h1M59 341.5h1M70 341.5h2M59 342.5h1M69 342.5h1M0 343.5h1M58 343.5h1M67 343.5h1M59 344.5h1M75 344.5h1M0 345.5h2M59 345.5h1M61 345.5h1M64 345.5h1M43 346.5h1M57 346.5h1M59 346.5h1M67 346.5h1M70 346.5h2M73 346.5h1M38 347.5h1M53 347.5h1M62 347.5h2M1 348.5h1M37 348.5h1M64 348.5h2M0 349.5h1M57 349.5h1M65 349.5h1M71 349.5h1M28 350.5h1M37 350.5h1M58 350.5h1M70 350.5h2"/><path stroke="#002000" d="M23 0.5h1M40 0.5h1M50 0.5h2M58 0.5h1M12 1.5h1M23 1.5h1M32 1.5h1M50 1.5h1M1 2.5h1M18 2.5h1M27 2.5h1M32 2.5h1M44 2.5h1M4 3.5h2M13 3.5h1M23 3.5h1M46 3.5h1M5 4.5h1M29 4.5h1M43 4.5h1M5 5.5h1M27 5.5h3M31 5.5h2M37 5.5h1M45 5.5h3M46 6.5h2M16 7.5h1M25 7.5h2M18 8.5h1M27 8.5h1M50 8.5h1M59 8.5h1M12 9.5h1M14 9.5h1M17 9.5h1M20 9.5h1M22 9.5h1M30 9.5h1M34 9.5h1M44 9.5h1M59 9.5h1M69 9.5h1M3 10.5h1M7 10.5h1M35 10.5h1M46 10.5h1M57 10.5h1M13 11.5h1M15 11.5h2M23 11.5h1M27 11.5h1M36 11.5h1M45 11.5h1M58 11.5h1M4 12.5h1M32 12.5h1M36 12.5h1M44 12.5h1M46 12.5h1M20 13.5h1M47 13.5h1M5 14.5h1M15 14.5h1M23 14.5h2M37 14.5h1M39 14.5h1M12 15.5h1M14 15.5h1M20 15.5h1M37 15.5h1M46 15.5h1M2 16.5h1M15 16.5h2M18 16.5h1M22 16.5h1M47 16.5h1M5 17.5h1M14 17.5h1M19 17.5h1M26 17.5h1M51 17.5h1M5 18.5h1M20 18.5h1M48 18.5h1M50 18.5h1M17 19.5h1M19 19.5h1M26 19.5h1M39 19.5h1M45 19.5h1M47 19.5h1M50 19.5h1M17 20.5h1M22 20.5h1M40 20.5h2M47 20.5h1M19 21.5h1M21 21.5h1M27 21.5h1M39 21.5h3M1 22.5h1M14 22.5h1M27 22.5h1M41 22.5h1M48 22.5h1M13 23.5h1M16 23.5h2M25 23.5h1M35 23.5h1M51 23.5h1M15 24.5h1M36 24.5h1M19 25.5h1M39 25.5h1M45 25.5h1M27 26.5h1M39 26.5h1M41 26.5h1M51 26.5h1M64 26.5h1M71 26.5h1M12 27.5h1M14 27.5h1M46 27.5h1M64 27.5h1M13 28.5h1M18 28.5h1M20 28.5h1M67 28.5h1M13 29.5h1M18 29.5h1M20 29.5h1M22 29.5h2M25 29.5h1M38 29.5h1M41 29.5h1M44 29.5h1M57 29.5h1M65 29.5h1M69 29.5h1M21 30.5h1M26 30.5h1M37 30.5h1M39 30.5h1M13 31.5h1M19 31.5h1M26 31.5h1M35 31.5h1M75 31.5h1M17 32.5h1M21 32.5h1M27 32.5h1M1 33.5h1M18 33.5h1M23 33.5h2M28 33.5h1M70 33.5h1M5 34.5h1M24 34.5h1M26 34.5h1M60 34.5h1M30 35.5h1M32 35.5h1M60 35.5h1M16 36.5h1M23 36.5h1M44 36.5h4M60 36.5h1M13 37.5h2M23 37.5h1M46 37.5h1M14 38.5h1M23 38.5h3M33 38.5h1M36 38.5h1M39 38.5h1M59 38.5h1M14 39.5h1M24 39.5h1M39 39.5h3M46 39.5h1M14 40.5h1M18 40.5h1M27 40.5h1M1 41.5h1M22 41.5h1M24 41.5h1M28 41.5h1M48 41.5h1M23 42.5h1M36 42.5h1M40 42.5h1M51 43.5h1M67 43.5h1M69 43.5h1M38 44.5h1M40 44.5h1M57 44.5h1M27 45.5h1M46 45.5h3M59 45.5h1M1 46.5h1M25 46.5h1M37 46.5h1M40 46.5h1M47 46.5h1M59 46.5h1M1 47.5h1M20 47.5h1M37 47.5h1M47 47.5h1M57 47.5h1M18 48.5h1M24 48.5h1M26 48.5h1M57 48.5h1M19 49.5h1M41 49.5h1M50 49.5h2M60 49.5h2M14 50.5h1M35 50.5h1M41 50.5h1M45 50.5h2M15 51.5h1M25 51.5h1M41 51.5h1M43 51.5h1M45 51.5h1M71 51.5h1M13 52.5h2M22 52.5h1M48 52.5h1M50 52.5h1M72 52.5h1M15 53.5h2M21 53.5h1M32 53.5h2M41 53.5h1M66 53.5h1M14 54.5h1M39 54.5h1M51 54.5h1M64 54.5h1M33 55.5h1M44 55.5h1M50 55.5h1M60 55.5h1M69 55.5h1M22 56.5h1M24 56.5h2M40 56.5h1M44 56.5h1M46 56.5h1M54 56.5h1M71 56.5h1M29 57.5h1M67 57.5h1M25 58.5h1M37 58.5h1M58 58.5h1M12 59.5h3M65 59.5h1M73 59.5h1M12 60.5h2M46 60.5h1M61 60.5h1M65 60.5h1M75 60.5h1M37 61.5h1M40 61.5h1M44 61.5h1M72 61.5h1M22 62.5h1M35 63.5h1M39 63.5h1M42 63.5h1M59 63.5h1M61 63.5h1M18 64.5h1M34 64.5h1M40 64.5h1M42 64.5h1M71 64.5h1M1 65.5h1M40 65.5h1M43 65.5h1M46 65.5h1M50 65.5h1M64 65.5h1M18 66.5h1M20 66.5h1M24 66.5h1M33 66.5h1M48 66.5h2M51 66.5h1M64 66.5h1M71 66.5h1M74 66.5h1M12 67.5h1M14 67.5h1M21 67.5h1M41 67.5h1M44 67.5h1M48 67.5h1M59 67.5h1M9 68.5h1M18 68.5h1M24 68.5h1M37 68.5h1M44 68.5h1M47 68.5h1M60 68.5h1M66 68.5h1M22 69.5h1M24 69.5h1M40 69.5h1M44 69.5h1M16 70.5h1M32 70.5h1M44 70.5h1M60 70.5h1M75 70.5h1M31 71.5h1M33 71.5h1M43 71.5h1M47 71.5h1M59 71.5h1M66 71.5h1M69 71.5h1M2 72.5h1M15 72.5h1M40 72.5h1M45 72.5h1M50 72.5h1M23 73.5h1M43 73.5h1M49 73.5h1M54 73.5h1M69 73.5h2M74 73.5h2M12 74.5h1M31 74.5h1M39 74.5h1M51 74.5h1M24 75.5h2M31 75.5h1M58 75.5h1M12 76.5h1M30 76.5h1M39 76.5h1M41 76.5h1M47 76.5h1M66 76.5h1M14 77.5h1M49 77.5h3M58 77.5h1M64 77.5h1M67 77.5h1M72 77.5h1M74 77.5h1M12 78.5h1M25 78.5h1M46 78.5h2M75 78.5h1M13 79.5h1M41 79.5h1M45 79.5h1M50 79.5h1M65 79.5h1M12 80.5h2M24 80.5h2M46 80.5h1M49 80.5h2M58 80.5h1M63 80.5h1M65 80.5h1M69 80.5h1M47 81.5h1M17 82.5h1M41 82.5h1M54 82.5h2M61 82.5h1M67 82.5h1M55 83.5h2M60 83.5h1M64 83.5h1M69 83.5h1M13 84.5h1M68 84.5h1M71 84.5h1M10 85.5h1M14 85.5h1M24 85.5h1M62 85.5h1M67 85.5h1M72 85.5h2M12 86.5h1M24 86.5h1M31 86.5h1M42 86.5h1M67 86.5h1M72 86.5h1M75 86.5h1M3 87.5h1M18 87.5h1M30 87.5h2M39 87.5h1M42 87.5h1M58 87.5h1M72 87.5h1M74 87.5h1M26 88.5h1M30 88.5h1M32 88.5h1M40 88.5h1M44 88.5h1M64 88.5h1M66 88.5h2M73 88.5h2M39 89.5h1M75 89.5h1M2 90.5h1M25 90.5h1M46 90.5h1M58 90.5h2M64 90.5h2M72 90.5h3M12 91.5h1M24 91.5h1M40 91.5h1M42 91.5h1M46 91.5h2M74 91.5h2M13 92.5h1M25 92.5h1M41 92.5h1M58 92.5h2M34 93.5h1M21 94.5h1M26 94.5h1M34 94.5h1M42 94.5h1M50 94.5h1M38 95.5h1M42 95.5h2M49 95.5h1M64 95.5h1M34 96.5h2M38 96.5h3M42 96.5h1M57 96.5h1M65 96.5h1M73 96.5h2M39 97.5h1M44 97.5h1M32 98.5h1M41 98.5h1M61 98.5h1M71 98.5h1M73 98.5h1M31 99.5h1M42 99.5h1M48 99.5h1M58 99.5h1M66 99.5h1M72 99.5h1M16 100.5h1M39 100.5h1M41 100.5h2M44 100.5h1M66 100.5h1M73 100.5h1M49 101.5h2M6 102.5h1M31 102.5h1M38 102.5h1M59 102.5h3M70 102.5h1M7 103.5h1M25 103.5h2M30 103.5h1M62 103.5h1M64 103.5h1M30 104.5h2M33 104.5h1M38 104.5h1M44 104.5h1M71 104.5h1M73 104.5h1M18 105.5h1M30 105.5h1M32 105.5h1M37 105.5h1M44 105.5h1M16 106.5h1M46 106.5h2M56 106.5h1M71 106.5h1M73 106.5h1M43 107.5h2M46 107.5h1M53 107.5h1M15 108.5h1M60 108.5h1M17 109.5h1M34 109.5h1M39 109.5h1M57 109.5h2M16 110.5h1M31 110.5h1M33 110.5h1M35 110.5h1M48 110.5h1M1 111.5h1M18 111.5h1M36 111.5h1M58 111.5h1M62 111.5h1M73 111.5h1M15 112.5h1M43 112.5h1M46 112.5h1M73 112.5h1M41 113.5h1M57 113.5h1M71 113.5h1M7 114.5h1M21 114.5h1M58 114.5h1M17 115.5h1M35 115.5h1M37 115.5h1M39 115.5h1M43 115.5h1M16 116.5h1M32 116.5h1M39 116.5h1M61 116.5h1M41 117.5h1M49 117.5h1M18 118.5h1M34 118.5h1M16 119.5h1M31 119.5h2M34 119.5h1M65 119.5h1M18 120.5h1M35 120.5h1M68 120.5h1M36 121.5h1M56 121.5h1M66 121.5h1M30 122.5h1M35 122.5h1M57 122.5h2M68 122.5h1M74 122.5h2M18 123.5h1M31 123.5h1M33 123.5h1M38 123.5h1M57 123.5h1M65 123.5h1M71 123.5h1M73 123.5h2M36 124.5h1M44 124.5h1M57 124.5h1M6 125.5h1M25 125.5h1M28 125.5h2M37 125.5h2M57 125.5h2M73 125.5h1M5 126.5h3M15 126.5h1M25 126.5h2M33 126.5h1M38 126.5h1M48 126.5h1M68 126.5h1M5 127.5h2M17 127.5h1M26 127.5h1M31 127.5h2M36 127.5h2M65 127.5h1M74 127.5h1M5 128.5h1M41 128.5h1M57 128.5h1M64 128.5h1M67 128.5h1M24 129.5h2M65 129.5h1M73 129.5h1M75 129.5h1M25 130.5h1M38 130.5h1M53 130.5h1M63 130.5h2M66 130.5h1M68 130.5h1M9 131.5h1M35 131.5h1M39 131.5h1M53 131.5h1M5 132.5h1M22 132.5h1M39 132.5h1M71 132.5h1M4 133.5h1M7 133.5h1M45 133.5h1M4 134.5h1M15 134.5h2M30 134.5h1M32 134.5h1M45 134.5h1M73 134.5h2M14 135.5h1M17 135.5h1M31 135.5h1M34 135.5h1M36 135.5h1M58 135.5h1M16 136.5h2M27 136.5h1M36 136.5h1M47 136.5h1M49 136.5h1M57 136.5h1M60 136.5h1M71 136.5h1M45 137.5h1M47 137.5h1M64 137.5h2M16 138.5h2M30 138.5h2M35 138.5h1M38 138.5h1M43 138.5h2M56 138.5h1M69 138.5h1M1 139.5h1M11 139.5h1M15 139.5h3M25 139.5h1M31 139.5h4M48 139.5h1M69 139.5h3M74 139.5h2M4 140.5h1M10 140.5h2M27 140.5h1M29 140.5h1M44 140.5h1M50 140.5h1M56 140.5h1M68 140.5h1M11 141.5h1M16 141.5h1M37 141.5h1M45 141.5h1M67 141.5h2M75 141.5h1M16 142.5h1M35 142.5h1M37 142.5h1M43 142.5h1M60 142.5h1M70 142.5h1M5 143.5h1M17 143.5h1M29 143.5h1M38 143.5h1M43 143.5h1M65 143.5h1M67 143.5h1M75 143.5h1M9 144.5h1M16 144.5h1M29 144.5h1M31 144.5h2M57 144.5h2M64 144.5h1M6 145.5h1M37 145.5h1M46 145.5h1M34 146.5h1M68 146.5h1M73 146.5h1M5 147.5h1M16 147.5h1M35 147.5h1M74 147.5h1M46 148.5h1M59 148.5h1M64 148.5h1M66 148.5h3M75 148.5h1M17 149.5h1M31 149.5h1M47 149.5h1M57 149.5h1M67 149.5h1M16 150.5h1M50 150.5h1M72 150.5h1M9 151.5h1M43 152.5h1M71 152.5h1M30 153.5h1M36 153.5h1M39 153.5h1M41 153.5h1M43 153.5h1M67 153.5h1M71 153.5h1M74 153.5h1M10 154.5h1M22 154.5h2M26 154.5h1M34 154.5h1M38 154.5h2M9 155.5h1M11 155.5h1M20 155.5h1M23 155.5h3M38 155.5h1M9 156.5h2M18 156.5h1M25 156.5h1M34 156.5h2M39 156.5h1M6 157.5h1M8 157.5h2M24 157.5h2M33 157.5h1M36 157.5h1M39 157.5h1M8 158.5h3M15 158.5h1M21 158.5h1M33 158.5h1M13 159.5h1M15 159.5h1M23 159.5h2M33 159.5h1M36 159.5h1M39 160.5h1M3 161.5h1M7 161.5h1M38 161.5h1M13 162.5h1M18 162.5h1M20 162.5h1M9 163.5h1M13 163.5h1M20 163.5h1M23 163.5h1M29 163.5h1M33 163.5h1M38 163.5h1M4 164.5h1M14 164.5h1M20 164.5h1M23 164.5h1M26 164.5h1M33 164.5h1M35 164.5h1M7 165.5h4M13 165.5h1M18 165.5h1M20 165.5h1M24 165.5h1M33 165.5h1M39 165.5h1M6 166.5h1M14 166.5h1M20 166.5h1M25 166.5h1M33 166.5h1M13 167.5h1M15 167.5h1M17 167.5h1M21 167.5h1M24 167.5h2M9 168.5h1M13 168.5h1M18 168.5h1M24 168.5h2M29 168.5h1M31 168.5h1M33 168.5h2M14 169.5h1M16 169.5h1M20 169.5h2M25 169.5h1M34 169.5h1M4 170.5h2M18 170.5h1M20 170.5h2M23 170.5h2M26 170.5h1M29 170.5h1M33 170.5h1M9 171.5h1M13 171.5h1M15 171.5h1M20 171.5h1M2 172.5h1M6 172.5h2M12 172.5h1M14 172.5h1M26 172.5h1M6 173.5h1M8 173.5h1M10 173.5h1M23 173.5h2M26 173.5h1M56 173.5h1M10 174.5h2M14 174.5h1M20 174.5h1M24 174.5h1M15 175.5h1M22 175.5h1M56 175.5h1M9 176.5h3M15 176.5h1M18 176.5h1M25 176.5h1M56 176.5h1M7 177.5h1M9 177.5h2M13 177.5h1M17 177.5h1M27 177.5h1M39 177.5h1M7 178.5h1M9 178.5h2M14 178.5h1M39 178.5h1M7 179.5h3M11 179.5h1M19 179.5h1M38 179.5h1M4 180.5h1M8 180.5h1M13 180.5h1M17 180.5h1M26 180.5h1M32 180.5h1M37 180.5h1M54 180.5h1M6 181.5h1M15 181.5h1M25 181.5h3M31 181.5h1M28 182.5h1M32 182.5h1M3 183.5h1M20 183.5h1M23 183.5h1M27 183.5h1M38 183.5h1M11 184.5h1M9 185.5h1M11 185.5h2M19 185.5h1M21 185.5h1M25 185.5h1M37 185.5h2M10 186.5h1M20 186.5h1M26 186.5h1M33 186.5h2M38 186.5h1M9 187.5h1M11 187.5h2M17 187.5h1M21 187.5h1M11 188.5h1M13 188.5h2M22 188.5h1M25 188.5h1M31 188.5h1M33 188.5h1M35 188.5h1M15 189.5h1M20 189.5h1M8 190.5h1M13 190.5h1M15 190.5h1M19 190.5h1M39 190.5h1M11 191.5h1M24 191.5h1M33 191.5h1M26 192.5h1M13 193.5h1M17 193.5h1M21 193.5h1M24 193.5h1M26 193.5h1M12 194.5h1M17 194.5h1M20 194.5h1M7 195.5h2M17 195.5h1M20 195.5h2M26 195.5h2M7 196.5h1M21 196.5h2M17 197.5h1M20 197.5h1M26 197.5h1M24 198.5h1M4 199.5h1M13 199.5h2M24 199.5h3M33 199.5h1M38 199.5h1M8 200.5h1M10 200.5h1M14 200.5h1M21 200.5h1M24 200.5h1M26 200.5h1M37 200.5h2M7 201.5h2M14 201.5h1M22 201.5h1M26 201.5h1M8 202.5h1M14 202.5h1M31 202.5h1M6 203.5h3M11 203.5h1M17 203.5h1M4 204.5h1M8 204.5h1M10 204.5h2M13 204.5h3M18 204.5h1M21 204.5h1M26 204.5h1M3 205.5h1M7 205.5h1M13 205.5h2M18 205.5h1M20 205.5h1M25 205.5h2M42 205.5h1M20 206.5h1M35 206.5h1M7 207.5h2M17 207.5h1M23 207.5h1M33 207.5h1M39 207.5h1M18 208.5h1M24 208.5h1M35 208.5h1M7 209.5h3M12 209.5h2M17 209.5h1M26 209.5h1M8 210.5h1M13 210.5h2M25 210.5h2M33 210.5h1M4 211.5h1M6 211.5h1M12 211.5h1M14 211.5h1M17 211.5h1M21 211.5h1M26 211.5h1M33 211.5h1M38 211.5h1M4 212.5h2M7 212.5h2M11 212.5h1M13 212.5h1M15 212.5h1M18 212.5h1M2 213.5h1M4 213.5h1M6 213.5h1M15 213.5h1M21 213.5h1M38 213.5h1M48 213.5h1M7 214.5h1M25 214.5h1M39 214.5h1M6 215.5h2M11 215.5h1M25 215.5h1M39 215.5h1M2 216.5h1M13 216.5h1M16 216.5h1M19 216.5h1M24 216.5h1M4 217.5h1M15 217.5h1M19 217.5h3M24 217.5h3M35 217.5h1M8 218.5h1M13 218.5h1M20 218.5h1M33 218.5h2M12 219.5h3M16 219.5h1M20 219.5h2M34 219.5h1M2 220.5h2M5 220.5h1M14 220.5h1M16 220.5h1M21 220.5h1M26 220.5h1M4 221.5h1M7 221.5h1M15 221.5h1M20 221.5h2M26 221.5h2M31 221.5h1M7 222.5h1M9 222.5h1M20 222.5h1M26 222.5h1M32 222.5h1M39 222.5h1M6 223.5h1M10 223.5h1M6 224.5h1M8 224.5h1M11 224.5h2M14 224.5h2M17 224.5h2M41 224.5h1M11 225.5h2M16 225.5h2M20 225.5h1M25 225.5h1M5 226.5h1M8 226.5h1M10 226.5h1M14 226.5h1M16 226.5h1M27 226.5h2M33 226.5h1M37 226.5h1M7 227.5h1M11 227.5h1M15 227.5h1M27 227.5h1M38 227.5h1M8 228.5h1M16 228.5h1M24 228.5h2M29 228.5h1M33 228.5h1M36 228.5h1M39 228.5h1M3 229.5h2M29 229.5h1M39 229.5h1M4 230.5h1M7 230.5h1M11 230.5h1M13 230.5h1M15 230.5h1M17 230.5h1M25 230.5h2M31 230.5h1M37 230.5h2M10 231.5h1M13 231.5h1M15 231.5h1M24 231.5h1M26 231.5h1M30 231.5h2M3 232.5h1M18 232.5h1M13 233.5h1M22 233.5h1M27 233.5h1M5 234.5h1M16 234.5h2M27 234.5h1M7 235.5h1M17 235.5h1M34 235.5h1M37 235.5h1M12 236.5h1M18 236.5h1M20 236.5h1M37 236.5h1M39 236.5h1M5 237.5h1M15 237.5h1M26 237.5h1M13 238.5h1M17 238.5h1M25 238.5h2M33 238.5h1M39 238.5h1M5 239.5h1M26 239.5h1M4 240.5h2M20 240.5h1M29 240.5h1M13 241.5h1M20 241.5h3M20 242.5h2M25 242.5h1M7 243.5h1M13 243.5h1M20 243.5h2M33 243.5h1M11 244.5h2M15 244.5h1M17 244.5h1M20 244.5h1M31 244.5h2M4 245.5h1M12 245.5h1M14 245.5h1M17 245.5h1M31 245.5h1M6 246.5h1M18 246.5h1M26 246.5h1M37 246.5h1M6 247.5h1M4 248.5h1M6 248.5h2M13 248.5h1M16 248.5h1M29 248.5h1M42 248.5h2M2 249.5h1M7 249.5h1M16 249.5h1M6 250.5h1M12 250.5h1M14 250.5h1M33 250.5h1M36 250.5h1M39 250.5h1M6 251.5h2M15 251.5h2M33 251.5h1M38 251.5h1M42 251.5h1M5 252.5h1M7 252.5h1M15 252.5h2M26 252.5h1M28 252.5h1M31 252.5h1M33 252.5h1M38 252.5h1M42 252.5h1M3 253.5h1M12 253.5h1M16 253.5h1M27 253.5h1M7 254.5h1M13 254.5h2M26 254.5h1M34 254.5h1M36 254.5h1M38 254.5h1M4 255.5h1M7 255.5h1M33 255.5h3M39 255.5h1M42 255.5h1M14 256.5h2M26 256.5h1M36 256.5h2M15 257.5h2M26 257.5h1M35 257.5h1M37 257.5h1M4 258.5h1M6 258.5h1M12 258.5h1M14 258.5h2M34 258.5h2M39 258.5h1M6 259.5h1M25 259.5h1M37 259.5h1M40 259.5h1M5 260.5h1M12 260.5h2M27 260.5h1M34 260.5h2M37 260.5h1M43 260.5h1M4 261.5h1M6 261.5h1M12 261.5h2M37 261.5h1M5 262.5h1M26 262.5h1M28 262.5h1M42 262.5h1M4 263.5h1M27 263.5h1M34 263.5h1M36 263.5h1M40 263.5h2M43 263.5h1M4 264.5h1M6 264.5h1M13 264.5h1M16 264.5h1M26 264.5h1M34 264.5h2M6 265.5h1M8 265.5h1M33 265.5h1M36 265.5h1M38 265.5h1M5 266.5h1M7 266.5h1M12 266.5h1M28 266.5h1M35 266.5h1M37 266.5h1M17 267.5h1M36 267.5h1M11 268.5h1M15 268.5h1M28 268.5h1M36 268.5h1M5 269.5h1M7 269.5h1M16 269.5h1M20 269.5h1M34 270.5h2M6 271.5h1M14 271.5h1M26 271.5h1M34 271.5h1M42 271.5h1M5 272.5h1M8 272.5h1M12 272.5h1M28 272.5h1M34 272.5h1M36 272.5h1M42 272.5h2M6 273.5h1M10 273.5h1M15 273.5h1M26 273.5h1M35 273.5h1M42 274.5h1M12 275.5h1M15 275.5h2M24 275.5h1M37 275.5h1M2 276.5h2M11 276.5h1M16 276.5h1M34 276.5h1M37 276.5h1M4 277.5h2M15 277.5h2M26 277.5h1M37 277.5h1M42 277.5h2M4 278.5h2M8 278.5h1M34 278.5h1M2 279.5h1M4 279.5h1M9 279.5h1M15 279.5h1M34 279.5h2M42 279.5h1M4 280.5h1M12 280.5h1M14 280.5h2M35 280.5h1M6 281.5h1M11 281.5h1M26 281.5h2M35 281.5h1M4 282.5h1M7 282.5h1M11 282.5h1M16 282.5h1M40 282.5h3M8 283.5h1M10 283.5h1M15 283.5h1M20 283.5h1M36 283.5h1M8 284.5h1M34 284.5h1M42 284.5h1M22 285.5h1M30 285.5h1M32 285.5h1M7 286.5h3M14 286.5h1M39 286.5h1M4 287.5h1M8 287.5h1M10 287.5h1M15 287.5h1M34 287.5h2M42 287.5h1M4 288.5h1M6 288.5h1M13 288.5h1M33 288.5h2M38 288.5h1M43 288.5h1M14 289.5h1M33 289.5h2M6 290.5h1M13 290.5h1M16 290.5h1M34 290.5h1M42 290.5h2M5 291.5h1M7 291.5h1M11 291.5h1M15 291.5h2M36 291.5h1M42 291.5h1M16 292.5h1M26 292.5h1M34 292.5h1M37 292.5h1M13 293.5h1M16 293.5h1M33 293.5h1M59 294.5h1M67 294.5h2M70 294.5h1M72 294.5h1M58 295.5h1M66 295.5h2M1 296.5h1M9 296.5h1M11 296.5h1M53 296.5h1M65 296.5h1M75 296.5h1M1 297.5h1M10 297.5h1M56 297.5h1M60 297.5h1M62 297.5h1M65 297.5h1M1 298.5h1M10 298.5h1M56 298.5h1M66 298.5h1M68 298.5h1M75 298.5h1M0 299.5h1M11 299.5h1M56 299.5h1M60 299.5h1M70 299.5h1M0 300.5h2M9 300.5h2M63 300.5h1M74 300.5h1M0 301.5h1M9 301.5h2M60 301.5h1M71 301.5h1M9 302.5h1M38 302.5h1M42 302.5h1M54 302.5h1M67 302.5h1M75 302.5h1M43 303.5h1M53 303.5h1M10 304.5h2M43 304.5h1M56 304.5h2M59 304.5h1M61 304.5h1M65 304.5h1M72 304.5h1M9 305.5h1M37 305.5h1M43 305.5h1M56 305.5h1M70 305.5h1M72 305.5h1M10 306.5h1M55 306.5h1M58 306.5h2M63 306.5h1M66 306.5h1M70 306.5h1M75 306.5h1M0 307.5h2M65 307.5h1M72 307.5h1M43 308.5h1M68 308.5h1M9 309.5h1M60 309.5h1M67 309.5h1M71 309.5h1M74 309.5h1M0 310.5h1M60 310.5h2M66 310.5h3M7 311.5h1M9 311.5h2M37 311.5h1M54 311.5h1M56 311.5h1M66 311.5h1M37 312.5h1M55 312.5h1M73 312.5h1M63 313.5h1M69 313.5h1M73 313.5h1M1 314.5h1M53 314.5h2M56 314.5h1M65 314.5h1M69 314.5h1M37 315.5h1M43 316.5h1M58 316.5h1M62 316.5h1M64 316.5h1M66 316.5h1M56 317.5h3M38 318.5h1M56 318.5h1M58 318.5h2M66 318.5h1M73 318.5h1M75 318.5h1M0 319.5h1M57 319.5h1M66 319.5h1M75 319.5h1M38 320.5h1M57 320.5h2M66 320.5h1M68 320.5h1M74 320.5h1M0 321.5h1M73 321.5h1M9 322.5h1M11 322.5h1M53 322.5h1M64 322.5h1M69 322.5h1M71 322.5h1M0 323.5h1M4 323.5h1M53 323.5h1M58 323.5h1M53 324.5h1M57 325.5h1M58 326.5h1M63 326.5h3M68 326.5h1M75 326.5h1M53 327.5h1M58 327.5h1M63 327.5h1M71 327.5h1M57 328.5h2M43 329.5h1M69 329.5h1M56 330.5h1M67 330.5h1M74 330.5h1M42 331.5h1M53 331.5h1M60 332.5h1M69 332.5h1M72 332.5h1M45 333.5h1M54 333.5h1M59 333.5h1M70 333.5h1M75 333.5h1M49 334.5h1M57 334.5h1M59 334.5h1M0 335.5h1M38 335.5h1M54 335.5h1M59 335.5h1M61 335.5h1M59 336.5h1M61 336.5h1M74 336.5h1M63 337.5h1M67 337.5h1M72 337.5h2M40 338.5h4M54 338.5h1M1 339.5h1M42 339.5h1M66 339.5h1M1 340.5h1M11 340.5h1M38 340.5h1M6 341.5h1M42 341.5h1M58 341.5h1M1 342.5h1M43 342.5h1M53 342.5h1M70 342.5h1M50 343.5h1M63 343.5h1M65 343.5h1M70 343.5h2M74 343.5h1M38 344.5h1M74 344.5h1M37 345.5h2M65 345.5h1M61 346.5h2M1 347.5h1M59 347.5h1M61 347.5h1M65 347.5h1M43 348.5h1M53 348.5h1M62 348.5h2M66 348.5h1M68 348.5h1M37 349.5h1M68 349.5h1M75 349.5h1M72 350.5h3"/><path stroke="#001500" d="M15 0.5h1M25 0.5h1M41 0.5h1M47 0.5h1M19 1.5h1M26 1.5h1M31 1.5h1M12 2.5h1M23 2.5h1M57 2.5h1M64 2.5h1M3 3.5h1M28 3.5h1M39 3.5h2M3 4.5h1M14 4.5h1M36 4.5h1M4 5.5h1M20 5.5h1M30 5.5h1M40 5.5h1M44 5.5h1M3 6.5h2M25 6.5h1M31 6.5h2M39 6.5h1M45 6.5h1M48 6.5h2M51 6.5h1M15 7.5h1M17 7.5h2M32 7.5h1M68 7.5h1M20 8.5h1M23 8.5h2M32 8.5h1M40 8.5h1M71 8.5h1M4 9.5h1M16 9.5h1M27 9.5h1M35 9.5h1M45 9.5h1M50 9.5h1M70 9.5h1M4 10.5h1M6 10.5h1M15 10.5h1M18 10.5h2M21 10.5h1M23 10.5h1M27 10.5h1M29 10.5h1M50 10.5h1M67 10.5h1M5 11.5h1M17 11.5h1M21 11.5h2M40 11.5h1M1 12.5h1M16 12.5h1M23 12.5h1M34 12.5h2M51 12.5h1M75 12.5h1M3 13.5h1M16 13.5h1M18 13.5h2M21 13.5h1M23 13.5h1M25 13.5h1M75 13.5h1M4 14.5h1M16 14.5h1M19 14.5h1M25 14.5h1M57 14.5h1M22 15.5h2M25 15.5h1M27 15.5h1M29 15.5h1M39 15.5h1M20 16.5h1M24 16.5h2M27 16.5h1M40 16.5h1M59 16.5h1M73 16.5h1M18 17.5h1M39 17.5h1M45 17.5h1M58 17.5h2M19 18.5h1M35 18.5h1M47 18.5h1M15 19.5h1M18 19.5h1M32 19.5h1M40 19.5h1M44 19.5h1M4 20.5h1M36 20.5h1M5 21.5h1M24 21.5h1M30 21.5h1M32 21.5h1M4 22.5h1M15 22.5h3M24 22.5h1M28 22.5h2M37 22.5h1M49 22.5h1M71 22.5h1M18 23.5h1M27 23.5h1M29 23.5h1M72 23.5h1M19 24.5h2M27 24.5h1M41 24.5h1M1 25.5h1M12 25.5h1M20 25.5h1M25 25.5h1M41 25.5h1M12 26.5h1M18 26.5h1M29 26.5h1M36 26.5h1M40 26.5h1M47 26.5h1M13 27.5h1M18 27.5h1M50 27.5h1M69 27.5h1M16 28.5h1M19 28.5h1M21 28.5h2M39 28.5h1M64 28.5h1M69 28.5h1M12 29.5h1M16 29.5h1M21 29.5h1M47 29.5h1M58 29.5h1M71 29.5h1M40 30.5h1M69 30.5h1M1 31.5h1M21 31.5h1M29 31.5h1M31 31.5h1M34 31.5h1M39 31.5h1M50 31.5h1M5 32.5h1M32 32.5h2M46 32.5h1M57 32.5h1M27 33.5h1M29 33.5h1M39 33.5h2M45 33.5h1M58 33.5h1M63 33.5h1M4 34.5h1M13 34.5h1M23 34.5h1M25 34.5h1M28 34.5h2M41 34.5h1M49 34.5h1M58 34.5h1M63 34.5h1M25 35.5h1M57 36.5h1M65 36.5h1M1 37.5h1M47 37.5h1M57 37.5h1M59 37.5h1M75 37.5h1M18 38.5h1M44 38.5h1M46 38.5h1M64 38.5h1M4 39.5h2M15 39.5h1M20 39.5h1M22 39.5h2M45 39.5h1M51 39.5h1M60 39.5h1M5 40.5h1M12 40.5h1M47 40.5h1M60 40.5h1M4 41.5h1M6 41.5h1M27 41.5h1M41 41.5h1M46 41.5h2M51 41.5h1M60 41.5h1M3 42.5h1M6 42.5h1M45 42.5h1M50 42.5h1M58 42.5h2M66 42.5h1M5 43.5h1M7 43.5h1M26 43.5h1M36 43.5h1M45 43.5h1M58 43.5h1M36 44.5h1M44 44.5h1M47 44.5h1M59 44.5h1M66 44.5h2M70 44.5h1M17 45.5h1M26 45.5h1M44 45.5h1M57 45.5h1M60 45.5h1M68 45.5h1M70 45.5h1M12 46.5h1M23 46.5h1M39 46.5h1M51 46.5h1M12 47.5h1M14 47.5h1M40 47.5h1M53 47.5h1M4 48.5h1M39 48.5h1M53 48.5h1M59 48.5h1M17 49.5h1M34 49.5h1M40 49.5h1M49 49.5h1M57 49.5h2M62 49.5h1M72 49.5h1M40 50.5h1M49 50.5h1M51 50.5h1M57 50.5h1M20 51.5h1M24 51.5h1M28 51.5h2M38 51.5h1M47 51.5h1M59 51.5h1M70 51.5h1M75 51.5h1M18 52.5h1M31 52.5h2M42 52.5h1M47 52.5h1M38 53.5h1M40 53.5h1M45 53.5h1M64 53.5h1M45 54.5h1M50 54.5h1M9 55.5h1M23 55.5h2M26 55.5h1M31 55.5h2M67 55.5h1M39 56.5h1M50 56.5h1M55 56.5h1M61 56.5h1M67 56.5h1M72 56.5h1M49 57.5h1M54 57.5h1M65 57.5h2M20 58.5h1M59 58.5h1M68 58.5h1M73 58.5h1M39 59.5h1M67 59.5h1M74 59.5h1M39 60.5h2M50 60.5h1M64 60.5h1M4 61.5h1M22 61.5h2M39 61.5h1M47 61.5h1M60 61.5h1M63 61.5h1M65 61.5h1M70 61.5h1M13 62.5h1M32 62.5h1M37 62.5h2M41 62.5h1M45 62.5h1M54 62.5h1M57 62.5h1M70 62.5h1M37 63.5h1M48 63.5h1M65 63.5h1M71 63.5h1M12 64.5h1M20 64.5h1M24 64.5h1M35 64.5h1M38 64.5h1M43 64.5h3M63 64.5h1M65 64.5h1M25 65.5h1M47 65.5h1M51 65.5h1M62 65.5h1M67 65.5h1M69 65.5h1M75 65.5h1M25 66.5h1M37 66.5h1M39 66.5h1M47 66.5h1M72 66.5h1M10 67.5h1M17 67.5h1M22 67.5h2M31 67.5h1M34 67.5h1M37 67.5h1M47 67.5h1M49 67.5h1M72 67.5h1M74 67.5h1M7 68.5h1M13 68.5h1M22 68.5h1M6 69.5h1M9 69.5h1M11 69.5h1M15 69.5h1M20 69.5h1M32 69.5h1M38 69.5h1M41 69.5h1M57 69.5h1M66 69.5h2M13 70.5h1M18 70.5h1M30 70.5h2M48 70.5h1M51 70.5h1M57 70.5h2M61 70.5h1M24 71.5h1M32 71.5h1M35 71.5h1M48 71.5h1M50 71.5h2M72 71.5h1M75 71.5h1M23 72.5h1M25 72.5h1M41 72.5h1M43 72.5h1M66 72.5h1M72 72.5h2M12 73.5h2M16 73.5h1M25 73.5h1M31 73.5h1M65 73.5h1M71 73.5h1M68 74.5h1M71 74.5h1M15 75.5h1M20 75.5h1M30 75.5h1M33 75.5h1M35 75.5h1M39 75.5h1M46 75.5h2M57 75.5h1M66 75.5h1M75 75.5h1M14 76.5h1M25 76.5h1M33 76.5h1M51 76.5h1M58 76.5h1M62 76.5h1M64 76.5h1M67 76.5h2M75 76.5h1M16 77.5h1M47 77.5h1M59 77.5h1M68 77.5h1M1 78.5h1M14 78.5h1M41 78.5h1M59 78.5h1M68 78.5h1M0 79.5h1M17 79.5h1M24 79.5h1M40 79.5h1M49 79.5h1M66 79.5h1M14 80.5h1M17 80.5h2M41 80.5h1M53 80.5h1M64 80.5h1M68 80.5h1M9 81.5h2M14 81.5h2M18 81.5h1M33 81.5h1M41 81.5h1M45 81.5h1M50 81.5h1M67 81.5h1M71 81.5h1M75 81.5h1M24 82.5h1M47 82.5h1M57 82.5h1M59 82.5h1M11 83.5h1M44 83.5h1M65 83.5h1M74 83.5h1M2 84.5h1M15 84.5h1M64 84.5h1M66 84.5h1M69 84.5h1M21 85.5h1M25 85.5h1M45 85.5h1M47 86.5h1M66 86.5h1M71 86.5h1M74 86.5h1M12 87.5h1M14 87.5h1M26 87.5h1M41 87.5h1M57 87.5h1M59 87.5h1M62 87.5h1M6 88.5h1M39 88.5h1M41 88.5h1M46 88.5h1M49 88.5h2M61 88.5h1M17 89.5h2M25 89.5h1M45 89.5h1M47 89.5h1M67 89.5h1M74 89.5h1M18 90.5h2M36 90.5h1M48 90.5h1M57 90.5h1M19 91.5h2M45 91.5h1M61 91.5h2M67 91.5h1M72 91.5h1M14 92.5h1M32 92.5h2M36 92.5h1M39 92.5h1M47 92.5h1M53 92.5h1M61 92.5h1M66 92.5h1M70 92.5h1M72 92.5h1M13 93.5h1M21 93.5h1M47 93.5h1M59 93.5h1M71 93.5h1M73 93.5h1M16 94.5h1M35 94.5h1M39 94.5h2M47 94.5h1M57 94.5h1M66 94.5h1M75 94.5h1M12 95.5h1M26 95.5h1M37 95.5h1M41 95.5h1M55 95.5h1M57 95.5h1M60 95.5h1M72 95.5h1M15 96.5h1M17 96.5h1M26 96.5h1M28 96.5h1M30 96.5h1M37 96.5h1M51 96.5h1M60 96.5h2M64 96.5h1M16 97.5h1M37 97.5h1M41 97.5h1M48 97.5h1M57 97.5h2M60 97.5h1M6 98.5h1M22 98.5h1M24 98.5h1M40 98.5h1M48 98.5h1M54 98.5h1M57 98.5h1M59 98.5h1M6 99.5h2M32 99.5h1M56 99.5h1M74 99.5h1M15 100.5h1M45 100.5h3M49 100.5h2M59 100.5h1M61 100.5h1M71 100.5h1M4 101.5h1M6 101.5h2M15 101.5h1M17 101.5h2M31 101.5h2M37 101.5h2M45 101.5h3M61 101.5h1M66 101.5h1M70 101.5h1M72 101.5h3M15 102.5h1M45 102.5h1M49 102.5h3M74 102.5h1M31 103.5h1M42 103.5h1M46 103.5h1M53 103.5h1M59 103.5h1M74 103.5h1M7 104.5h1M24 104.5h1M26 104.5h1M34 104.5h1M60 104.5h1M75 104.5h1M22 105.5h1M35 105.5h1M41 105.5h1M54 105.5h1M70 105.5h1M35 106.5h1M37 106.5h1M39 106.5h1M41 106.5h1M44 106.5h1M49 106.5h1M54 106.5h2M60 106.5h1M16 107.5h1M28 107.5h1M32 107.5h1M40 107.5h1M45 107.5h1M51 107.5h1M58 107.5h1M67 107.5h1M17 108.5h1M19 108.5h2M25 108.5h1M30 108.5h1M32 108.5h3M46 108.5h1M51 108.5h1M9 109.5h1M14 109.5h2M35 109.5h1M38 109.5h1M44 109.5h1M46 109.5h1M18 110.5h1M34 110.5h1M38 110.5h1M50 110.5h2M60 110.5h1M17 111.5h1M34 111.5h1M57 111.5h1M60 111.5h1M72 111.5h1M16 112.5h1M42 112.5h1M48 112.5h1M55 112.5h2M60 112.5h1M24 113.5h1M27 113.5h1M30 113.5h2M37 113.5h1M44 113.5h1M50 113.5h1M58 113.5h1M5 114.5h1M22 114.5h1M29 114.5h2M39 114.5h1M60 114.5h1M62 114.5h1M72 114.5h2M33 115.5h2M44 115.5h1M50 115.5h1M71 115.5h1M5 116.5h1M11 116.5h1M49 116.5h2M64 116.5h2M68 116.5h1M71 116.5h1M6 117.5h1M31 117.5h1M33 117.5h1M47 117.5h2M58 117.5h1M65 117.5h1M73 117.5h1M75 117.5h1M35 118.5h1M49 118.5h1M7 119.5h1M15 119.5h1M17 119.5h1M20 119.5h1M68 119.5h1M38 120.5h1M44 120.5h4M51 120.5h1M56 120.5h1M74 120.5h1M6 121.5h1M28 121.5h1M31 121.5h1M33 121.5h3M39 121.5h1M44 121.5h1M51 121.5h1M59 121.5h2M72 121.5h4M33 122.5h1M53 122.5h1M71 122.5h1M24 123.5h2M43 123.5h1M51 123.5h1M12 124.5h1M19 124.5h1M25 124.5h1M33 124.5h2M43 124.5h1M11 125.5h1M17 125.5h1M27 125.5h1M30 125.5h1M32 125.5h1M62 125.5h1M75 125.5h1M14 126.5h1M16 126.5h1M29 126.5h1M36 126.5h1M43 126.5h1M46 126.5h1M73 126.5h1M28 127.5h3M38 127.5h1M45 127.5h1M49 127.5h1M58 127.5h1M60 127.5h2M73 127.5h1M15 128.5h1M25 128.5h2M30 128.5h1M38 128.5h1M73 128.5h1M75 128.5h1M27 129.5h1M39 129.5h1M42 129.5h2M58 129.5h1M10 130.5h1M51 130.5h1M55 130.5h1M60 130.5h1M75 130.5h1M18 131.5h1M25 131.5h1M32 131.5h3M36 131.5h1M51 131.5h2M64 131.5h1M71 131.5h1M15 132.5h1M31 132.5h1M33 132.5h1M44 132.5h2M54 132.5h1M28 133.5h1M38 133.5h1M44 133.5h1M47 133.5h1M53 133.5h1M60 133.5h1M64 133.5h1M68 133.5h1M27 134.5h2M46 134.5h1M58 134.5h1M65 134.5h1M72 134.5h1M27 135.5h2M45 135.5h1M71 135.5h2M74 135.5h1M29 136.5h1M33 136.5h1M48 136.5h1M65 136.5h1M72 136.5h1M25 137.5h1M30 137.5h1M50 137.5h1M63 137.5h1M73 137.5h1M7 138.5h1M11 138.5h1M13 138.5h1M24 138.5h1M26 138.5h1M33 138.5h1M55 138.5h1M62 138.5h1M70 138.5h1M74 138.5h1M4 139.5h1M26 139.5h2M43 139.5h1M54 139.5h1M66 139.5h1M72 139.5h2M17 140.5h1M25 140.5h1M28 140.5h1M48 140.5h1M59 140.5h1M61 140.5h1M67 140.5h1M72 140.5h1M10 141.5h1M13 141.5h1M36 141.5h1M56 141.5h1M60 141.5h1M66 141.5h1M11 142.5h1M17 142.5h1M44 142.5h1M7 143.5h1M16 143.5h1M19 143.5h1M31 143.5h1M45 143.5h1M58 143.5h2M63 143.5h1M66 143.5h1M70 143.5h1M17 144.5h1M20 144.5h1M22 144.5h1M27 144.5h2M59 144.5h1M63 144.5h1M66 144.5h1M68 144.5h1M27 145.5h1M33 145.5h1M36 145.5h1M48 145.5h1M73 145.5h1M3 146.5h2M7 146.5h1M18 146.5h1M37 146.5h1M49 146.5h1M63 146.5h1M66 146.5h2M72 146.5h1M8 147.5h1M12 147.5h1M38 147.5h1M45 147.5h1M65 147.5h3M72 147.5h1M39 148.5h2M70 148.5h1M6 149.5h2M30 149.5h1M33 149.5h1M35 149.5h1M46 149.5h1M50 149.5h2M62 149.5h2M66 149.5h1M33 150.5h1M46 150.5h2M51 150.5h1M53 150.5h1M59 150.5h2M67 150.5h1M10 151.5h1M22 151.5h1M34 151.5h2M44 151.5h1M50 151.5h1M60 151.5h1M63 151.5h1M15 152.5h2M18 152.5h1M22 152.5h1M45 152.5h1M60 152.5h4M65 152.5h1M22 153.5h1M34 153.5h2M37 153.5h1M47 153.5h1M56 153.5h1M61 153.5h1M66 153.5h1M73 153.5h1M6 154.5h4M32 154.5h1M35 154.5h1M13 155.5h1M16 155.5h1M7 156.5h2M11 156.5h1M16 156.5h1M24 156.5h1M26 156.5h1M7 157.5h1M10 157.5h2M15 157.5h1M26 157.5h1M34 157.5h2M6 158.5h2M16 158.5h1M18 158.5h1M24 158.5h3M10 159.5h2M16 159.5h1M20 159.5h1M22 159.5h1M26 159.5h1M39 159.5h1M49 159.5h1M2 160.5h1M7 160.5h3M19 160.5h1M23 160.5h1M33 160.5h1M8 161.5h2M11 161.5h1M13 161.5h1M15 161.5h1M22 161.5h1M7 162.5h1M10 162.5h2M14 162.5h2M19 162.5h1M23 162.5h1M35 162.5h1M38 162.5h1M8 163.5h1M14 163.5h1M22 163.5h1M34 163.5h1M9 164.5h1M11 164.5h1M13 164.5h1M36 164.5h1M49 164.5h1M2 165.5h1M22 165.5h1M26 165.5h1M36 165.5h1M2 166.5h1M13 166.5h1M21 166.5h1M26 166.5h1M31 166.5h2M36 166.5h1M2 167.5h1M9 167.5h2M22 167.5h2M26 167.5h1M31 167.5h1M35 167.5h1M41 167.5h1M7 168.5h1M11 168.5h1M20 168.5h2M23 168.5h1M32 168.5h1M35 168.5h1M38 168.5h1M10 169.5h2M13 169.5h1M15 169.5h1M22 169.5h3M26 169.5h1M31 169.5h1M35 169.5h1M38 169.5h1M11 170.5h1M13 170.5h1M15 170.5h1M34 170.5h1M39 170.5h1M48 170.5h2M6 171.5h3M14 171.5h1M16 171.5h1M37 171.5h1M56 171.5h1M8 172.5h2M11 172.5h1M22 172.5h1M29 172.5h1M38 172.5h1M54 172.5h3M11 173.5h1M16 173.5h1M19 173.5h1M38 173.5h1M8 174.5h2M15 174.5h1M23 174.5h1M26 174.5h1M56 174.5h1M6 175.5h1M11 175.5h1M18 175.5h1M20 175.5h1M23 175.5h1M26 175.5h1M31 175.5h2M54 175.5h2M7 176.5h2M20 176.5h1M24 176.5h1M26 176.5h1M31 176.5h1M36 176.5h1M54 176.5h2M6 177.5h1M8 177.5h1M11 177.5h1M14 177.5h1M24 177.5h1M26 177.5h1M33 177.5h1M6 178.5h1M8 178.5h1M17 178.5h1M25 178.5h2M29 178.5h1M31 178.5h1M35 178.5h1M13 179.5h1M26 179.5h1M32 179.5h1M7 180.5h1M21 180.5h1M29 180.5h1M33 180.5h1M41 180.5h1M55 180.5h1M3 181.5h2M8 181.5h2M14 181.5h1M33 181.5h1M35 181.5h1M42 181.5h1M10 182.5h1M13 182.5h1M27 182.5h1M31 182.5h1M33 182.5h1M42 182.5h1M2 183.5h1M11 183.5h1M13 183.5h3M26 183.5h1M31 183.5h1M9 184.5h2M14 184.5h1M19 184.5h1M23 184.5h1M29 184.5h1M33 184.5h1M48 184.5h1M15 185.5h1M34 185.5h1M7 186.5h1M9 186.5h1M14 186.5h1M21 186.5h1M29 186.5h1M2 187.5h1M13 187.5h1M25 187.5h2M33 187.5h1M36 187.5h1M8 188.5h2M20 188.5h1M23 188.5h1M38 188.5h2M13 189.5h2M22 189.5h1M26 189.5h1M31 189.5h2M38 189.5h2M48 189.5h1M7 190.5h1M9 190.5h1M22 190.5h4M33 190.5h1M10 191.5h1M36 191.5h1M40 191.5h1M11 192.5h1M19 192.5h1M21 192.5h1M29 192.5h1M32 192.5h2M35 192.5h1M38 192.5h1M6 193.5h1M10 193.5h1M34 193.5h1M38 193.5h1M2 194.5h1M8 194.5h1M11 194.5h1M33 194.5h1M35 194.5h1M39 194.5h1M9 195.5h1M13 195.5h1M19 195.5h1M32 195.5h1M35 195.5h2M11 196.5h1M15 196.5h1M25 196.5h3M34 196.5h1M36 196.5h1M48 196.5h1M9 197.5h1M21 197.5h1M33 197.5h1M7 198.5h2M13 198.5h2M21 198.5h2M26 198.5h2M38 198.5h2M42 198.5h1M6 199.5h1M11 199.5h1M19 199.5h1M39 199.5h1M9 200.5h1M22 200.5h1M32 200.5h1M13 201.5h1M15 201.5h1M34 201.5h1M6 202.5h1M12 202.5h1M19 202.5h2M26 202.5h1M32 202.5h1M35 202.5h1M39 202.5h1M10 203.5h1M13 203.5h1M20 203.5h2M32 203.5h1M34 203.5h1M7 204.5h1M9 204.5h1M29 204.5h1M33 204.5h2M8 205.5h2M12 205.5h1M39 205.5h1M10 206.5h1M15 206.5h1M22 206.5h2M26 206.5h1M29 206.5h1M39 206.5h1M10 207.5h2M14 207.5h1M21 207.5h2M34 207.5h1M7 208.5h4M13 208.5h2M20 208.5h2M23 208.5h1M26 208.5h1M38 208.5h1M2 209.5h1M6 209.5h1M11 209.5h1M14 209.5h1M21 209.5h1M34 209.5h1M40 209.5h1M7 210.5h1M9 210.5h1M12 210.5h1M15 210.5h2M21 210.5h1M24 210.5h1M34 210.5h1M38 210.5h1M7 211.5h2M15 211.5h1M18 211.5h1M20 211.5h1M24 211.5h1M41 211.5h1M3 212.5h1M6 212.5h1M10 212.5h1M14 212.5h1M16 212.5h1M23 212.5h1M38 212.5h1M10 213.5h2M20 213.5h1M39 213.5h1M6 214.5h1M14 214.5h1M21 214.5h1M49 214.5h1M9 215.5h1M15 215.5h2M20 215.5h1M34 215.5h1M15 216.5h1M25 216.5h1M35 216.5h1M3 217.5h1M6 217.5h1M10 217.5h1M16 217.5h1M29 217.5h1M34 217.5h1M36 217.5h1M6 218.5h2M9 218.5h1M14 218.5h1M23 218.5h1M36 218.5h1M4 219.5h3M8 219.5h2M35 219.5h1M4 220.5h1M6 220.5h1M9 220.5h2M19 220.5h2M22 220.5h3M29 220.5h1M31 220.5h1M39 220.5h1M3 221.5h1M6 221.5h1M10 221.5h2M22 221.5h1M24 221.5h1M6 222.5h1M8 222.5h1M10 222.5h1M24 222.5h1M37 222.5h1M8 223.5h1M14 223.5h2M18 223.5h1M20 223.5h2M29 223.5h1M31 223.5h3M10 224.5h1M25 224.5h1M31 224.5h2M35 224.5h1M38 224.5h1M10 225.5h1M15 225.5h1M26 225.5h1M32 225.5h2M35 225.5h1M38 225.5h1M4 226.5h1M31 226.5h2M39 226.5h1M2 227.5h1M6 227.5h1M8 227.5h1M10 227.5h1M12 227.5h1M14 227.5h1M24 227.5h2M31 227.5h2M35 227.5h1M42 227.5h1M75 227.5h1M4 228.5h1M6 228.5h2M13 228.5h2M20 228.5h3M26 228.5h1M7 229.5h2M10 229.5h2M15 229.5h2M20 229.5h2M23 229.5h1M5 230.5h2M10 230.5h1M14 230.5h1M16 230.5h1M30 230.5h1M33 230.5h1M56 230.5h1M3 231.5h1M5 231.5h1M9 231.5h1M20 231.5h2M25 231.5h1M56 231.5h1M7 232.5h1M16 232.5h1M20 232.5h1M22 232.5h3M32 232.5h2M36 232.5h1M38 232.5h1M7 233.5h1M14 233.5h1M16 233.5h1M18 233.5h1M21 233.5h1M23 233.5h1M26 233.5h1M34 233.5h2M38 233.5h1M2 234.5h2M6 234.5h1M9 234.5h1M12 234.5h1M15 234.5h1M18 234.5h1M25 234.5h1M28 234.5h1M41 234.5h1M3 235.5h2M6 235.5h1M9 235.5h1M14 235.5h1M16 235.5h1M25 235.5h2M7 236.5h1M13 236.5h1M25 236.5h1M33 236.5h1M3 237.5h1M7 237.5h1M18 237.5h1M21 237.5h1M36 237.5h1M38 237.5h1M49 237.5h1M12 238.5h1M14 238.5h2M21 238.5h1M49 238.5h1M3 239.5h1M10 239.5h1M13 239.5h1M15 239.5h1M17 239.5h2M21 239.5h1M25 239.5h1M29 239.5h1M31 239.5h1M34 239.5h1M36 239.5h1M38 239.5h1M10 240.5h2M17 240.5h2M26 240.5h1M33 240.5h1M38 240.5h1M25 241.5h2M33 241.5h1M39 241.5h1M7 242.5h1M9 242.5h1M15 242.5h4M34 242.5h1M38 242.5h2M2 243.5h2M9 243.5h3M15 243.5h1M22 243.5h1M25 243.5h1M3 244.5h2M8 244.5h3M14 244.5h1M19 244.5h1M33 244.5h1M35 244.5h2M38 244.5h1M3 245.5h1M5 245.5h1M13 245.5h1M15 245.5h2M20 245.5h1M32 245.5h4M38 245.5h1M5 246.5h1M7 246.5h1M12 246.5h2M39 246.5h1M42 246.5h1M2 247.5h1M12 247.5h1M14 247.5h1M34 247.5h1M42 247.5h2M37 248.5h1M5 249.5h1M14 249.5h1M26 249.5h1M29 249.5h1M38 249.5h1M42 249.5h2M16 250.5h1M22 250.5h1M31 250.5h2M34 250.5h2M42 250.5h1M30 251.5h1M32 251.5h1M36 251.5h1M39 251.5h1M30 252.5h1M34 252.5h3M15 253.5h1M34 253.5h1M40 253.5h1M42 253.5h2M3 254.5h1M6 254.5h1M41 254.5h1M43 254.5h1M55 254.5h2M2 255.5h1M6 255.5h1M15 255.5h1M26 255.5h1M36 255.5h1M45 255.5h1M4 256.5h2M7 256.5h1M33 256.5h1M39 256.5h1M5 257.5h1M7 257.5h1M14 257.5h1M31 257.5h2M34 257.5h1M36 257.5h1M42 257.5h2M36 258.5h1M43 258.5h1M56 258.5h1M32 259.5h1M42 260.5h1M33 261.5h2M42 261.5h2M6 262.5h1M12 262.5h2M37 262.5h1M43 262.5h1M13 263.5h2M30 263.5h1M37 263.5h1M14 264.5h2M33 264.5h1M37 264.5h1M34 265.5h1M11 266.5h1M36 266.5h1M13 267.5h1M35 267.5h1M37 267.5h1M4 268.5h1M33 268.5h3M39 268.5h1M41 268.5h1M6 269.5h1M8 269.5h1M10 269.5h1M19 269.5h1M22 269.5h1M37 269.5h1M40 269.5h1M15 270.5h2M21 270.5h2M33 270.5h1M36 270.5h2M43 270.5h1M5 271.5h1M7 271.5h1M13 271.5h1M22 271.5h1M33 271.5h1M35 271.5h2M56 271.5h1M6 272.5h1M14 272.5h2M16 273.5h1M34 273.5h1M41 273.5h3M2 274.5h1M16 274.5h1M18 274.5h1M34 274.5h3M39 274.5h1M43 274.5h1M3 275.5h1M6 275.5h1M11 275.5h1M35 275.5h1M4 276.5h3M9 276.5h2M12 276.5h1M14 276.5h1M35 276.5h1M42 276.5h1M3 277.5h1M14 277.5h1M23 277.5h1M2 278.5h1M6 278.5h1M9 278.5h3M14 278.5h1M17 278.5h1M21 278.5h1M26 278.5h1M33 278.5h1M36 278.5h1M5 279.5h1M8 279.5h1M10 279.5h2M16 279.5h1M43 279.5h1M5 280.5h1M7 280.5h1M9 280.5h2M21 280.5h1M36 280.5h1M40 280.5h1M7 281.5h2M10 281.5h1M36 281.5h1M39 281.5h4M61 281.5h1M5 282.5h1M15 282.5h1M19 282.5h1M31 282.5h1M33 282.5h1M38 282.5h1M3 283.5h1M5 283.5h1M9 283.5h1M19 283.5h1M30 283.5h1M32 283.5h1M37 283.5h3M41 283.5h2M5 284.5h1M10 284.5h1M13 284.5h1M29 284.5h2M32 284.5h1M39 284.5h2M5 285.5h1M11 285.5h1M13 285.5h1M17 285.5h1M33 285.5h1M37 285.5h1M41 285.5h1M11 286.5h2M25 286.5h1M35 286.5h1M40 286.5h1M43 286.5h1M9 287.5h1M11 287.5h1M10 288.5h2M14 288.5h2M40 288.5h1M4 289.5h2M37 289.5h7M7 290.5h1M15 290.5h1M20 290.5h1M39 290.5h2M6 291.5h1M8 291.5h1M27 291.5h1M31 291.5h1M43 291.5h1M7 292.5h1M9 292.5h1M42 292.5h1M4 293.5h3M14 293.5h1M34 293.5h1M42 293.5h2M45 293.5h1M56 293.5h1M45 294.5h1M54 294.5h1M56 294.5h1M66 294.5h1M53 295.5h1M65 295.5h1M72 295.5h3M0 296.5h1M10 296.5h1M64 296.5h1M73 296.5h2M53 297.5h2M67 297.5h2M74 297.5h1M37 298.5h2M73 298.5h1M54 299.5h1M74 299.5h1M38 300.5h1M54 300.5h1M60 300.5h1M62 300.5h1M11 301.5h1M42 301.5h1M65 301.5h1M0 302.5h2M10 302.5h1M53 302.5h1M38 303.5h1M54 303.5h1M65 303.5h1M39 304.5h1M53 304.5h1M55 304.5h1M73 304.5h1M40 305.5h1M63 305.5h1M52 306.5h1M42 307.5h2M54 307.5h2M64 307.5h1M70 307.5h1M75 307.5h1M0 308.5h1M9 308.5h1M37 308.5h1M42 308.5h1M53 308.5h2M75 308.5h1M1 309.5h1M11 309.5h1M13 309.5h1M42 309.5h1M56 309.5h1M11 310.5h1M51 310.5h2M55 310.5h1M11 311.5h1M67 311.5h2M38 312.5h1M53 312.5h1M67 312.5h1M9 313.5h1M57 313.5h1M27 314.5h1M42 314.5h1M46 314.5h1M55 314.5h1M58 314.5h1M38 315.5h1M53 315.5h1M37 316.5h1M9 317.5h2M38 317.5h1M53 317.5h3M75 317.5h1M1 318.5h1M7 318.5h1M9 318.5h3M47 318.5h1M69 318.5h1M37 319.5h1M54 319.5h1M68 319.5h1M72 319.5h1M1 320.5h1M9 320.5h1M48 320.5h1M55 320.5h1M72 320.5h2M50 321.5h1M53 321.5h3M57 321.5h3M1 322.5h1M10 322.5h1M19 322.5h1M56 322.5h1M66 322.5h1M1 323.5h1M5 323.5h1M37 323.5h1M43 323.5h1M55 323.5h1M38 324.5h1M46 325.5h1M62 325.5h1M0 326.5h1M55 326.5h1M56 327.5h1M1 328.5h1M38 328.5h1M53 328.5h1M65 328.5h1M70 329.5h1M42 330.5h2M55 330.5h1M66 330.5h1M68 330.5h1M72 330.5h2M38 331.5h1M43 331.5h1M62 331.5h1M66 331.5h1M68 331.5h1M4 332.5h2M21 332.5h1M38 332.5h1M47 332.5h1M53 332.5h3M61 332.5h2M67 332.5h1M38 333.5h1M43 333.5h1M55 333.5h2M64 333.5h1M43 334.5h1M47 334.5h1M53 334.5h1M55 334.5h1M58 334.5h1M42 335.5h1M55 335.5h3M62 335.5h2M65 335.5h1M72 335.5h1M23 336.5h1M48 336.5h1M68 337.5h1M67 338.5h2M43 339.5h1M56 339.5h1M62 339.5h1M7 340.5h2M37 340.5h1M50 340.5h1M54 340.5h1M7 341.5h1M24 341.5h1M38 341.5h1M54 341.5h1M73 341.5h1M37 342.5h1M42 342.5h1M44 343.5h1M48 343.5h1M55 343.5h1M59 343.5h1M69 343.5h1M37 344.5h1M53 344.5h1M55 344.5h3M53 345.5h1M55 345.5h1M1 346.5h1M37 346.5h2M42 346.5h1M53 346.5h1M63 346.5h2M75 346.5h1M7 347.5h1M37 347.5h1M56 347.5h1M75 347.5h1M54 348.5h2M60 348.5h1M75 348.5h1M49 349.5h2M53 349.5h1M56 349.5h1M66 349.5h1M0 350.5h1M4 350.5h1M50 350.5h1M53 350.5h1"/><path stroke="#000b00" d="M13 0.5h1M21 0.5h1M36 0.5h1M45 0.5h1M20 1.5h1M25 1.5h1M40 1.5h1M45 1.5h1M47 1.5h1M57 1.5h1M60 1.5h1M19 2.5h1M21 2.5h2M55 2.5h1M65 2.5h1M71 2.5h1M12 3.5h1M17 3.5h1M29 3.5h1M53 3.5h1M71 3.5h1M19 4.5h1M21 4.5h1M64 4.5h1M36 5.5h1M41 5.5h1M49 5.5h1M51 5.5h1M5 6.5h2M18 6.5h1M26 6.5h1M44 6.5h1M59 6.5h1M68 6.5h1M4 7.5h1M13 7.5h2M31 7.5h1M41 7.5h1M45 7.5h1M57 7.5h3M62 7.5h1M74 7.5h1M22 8.5h1M25 8.5h2M31 8.5h1M35 8.5h1M70 8.5h1M19 9.5h1M46 9.5h3M67 9.5h2M5 10.5h1M17 10.5h1M26 10.5h1M44 10.5h1M48 10.5h1M1 11.5h1M4 11.5h1M28 11.5h1M30 11.5h1M33 11.5h1M35 11.5h1M51 11.5h1M56 11.5h1M66 11.5h2M19 12.5h1M21 12.5h2M26 12.5h2M50 12.5h1M59 12.5h1M66 12.5h1M24 13.5h1M30 13.5h1M35 13.5h1M41 13.5h1M46 13.5h1M2 14.5h1M20 14.5h1M22 14.5h1M28 14.5h1M44 14.5h2M47 14.5h1M4 15.5h1M16 15.5h1M18 15.5h2M21 15.5h1M26 15.5h1M30 15.5h1M44 15.5h2M48 15.5h1M5 16.5h1M14 16.5h1M19 16.5h1M33 16.5h1M36 16.5h1M58 16.5h1M67 16.5h1M2 17.5h1M20 17.5h1M22 17.5h1M74 17.5h1M1 18.5h1M15 18.5h3M23 18.5h1M28 18.5h1M41 18.5h1M46 18.5h1M57 18.5h1M4 19.5h1M16 19.5h1M41 19.5h1M15 20.5h2M19 20.5h1M26 20.5h1M29 20.5h1M45 20.5h1M48 20.5h1M4 21.5h1M15 21.5h1M25 21.5h1M36 21.5h1M7 22.5h1M22 22.5h1M44 22.5h1M15 23.5h1M21 23.5h1M34 23.5h1M41 23.5h1M4 24.5h1M12 24.5h1M17 24.5h1M22 24.5h2M40 24.5h1M48 24.5h1M57 24.5h1M75 24.5h1M2 25.5h1M7 25.5h1M16 25.5h1M22 25.5h1M27 25.5h1M33 25.5h1M40 25.5h1M47 25.5h1M51 25.5h1M57 25.5h1M71 25.5h1M69 26.5h2M16 27.5h1M20 27.5h1M33 27.5h1M40 27.5h1M57 27.5h1M59 27.5h1M73 27.5h1M28 28.5h1M30 28.5h1M46 28.5h3M65 28.5h1M15 29.5h1M17 29.5h1M35 29.5h1M60 29.5h1M68 29.5h1M4 30.5h1M14 30.5h1M22 30.5h1M49 30.5h1M57 30.5h1M70 30.5h1M14 31.5h2M47 31.5h1M49 31.5h1M70 31.5h1M4 32.5h1M19 32.5h2M28 32.5h2M60 32.5h1M5 33.5h1M30 33.5h2M60 33.5h1M65 33.5h1M12 34.5h1M16 34.5h1M20 34.5h1M47 34.5h1M50 34.5h1M64 34.5h1M5 35.5h1M19 35.5h1M27 35.5h1M44 35.5h1M57 35.5h1M65 35.5h1M71 35.5h1M1 36.5h1M22 36.5h1M24 36.5h1M29 36.5h2M50 36.5h2M59 36.5h1M12 37.5h1M18 37.5h1M20 37.5h3M34 37.5h3M49 37.5h1M58 37.5h1M60 37.5h1M65 37.5h1M1 38.5h1M19 38.5h1M34 38.5h1M6 39.5h1M17 39.5h1M19 39.5h1M27 39.5h1M30 39.5h1M33 39.5h1M47 39.5h1M59 39.5h1M1 40.5h1M13 40.5h1M19 40.5h2M29 40.5h1M32 40.5h1M36 40.5h1M41 40.5h1M33 41.5h4M39 41.5h1M49 41.5h2M67 41.5h1M74 41.5h1M12 42.5h1M14 42.5h1M17 42.5h1M29 42.5h1M35 42.5h1M47 42.5h1M13 43.5h2M19 43.5h1M21 43.5h1M59 43.5h1M5 44.5h1M16 44.5h1M22 44.5h1M29 44.5h1M31 44.5h1M69 44.5h1M4 45.5h1M16 45.5h1M21 45.5h1M23 45.5h3M45 45.5h1M51 45.5h1M58 45.5h1M67 45.5h1M69 45.5h1M13 46.5h1M26 46.5h1M33 46.5h1M44 46.5h2M69 46.5h1M71 46.5h1M18 47.5h2M23 47.5h4M35 47.5h1M49 47.5h1M69 47.5h1M5 48.5h1M12 48.5h1M25 48.5h1M35 48.5h2M40 48.5h2M48 48.5h1M60 48.5h1M68 48.5h1M13 49.5h1M46 49.5h1M59 49.5h1M66 49.5h1M74 49.5h1M15 50.5h1M24 50.5h1M34 50.5h1M48 50.5h1M50 50.5h1M2 51.5h1M21 51.5h1M33 51.5h1M39 51.5h1M44 51.5h1M46 51.5h1M49 51.5h1M54 51.5h1M57 51.5h1M72 51.5h1M12 52.5h1M15 52.5h2M24 52.5h1M29 52.5h2M37 52.5h1M51 52.5h1M54 52.5h1M56 52.5h1M61 52.5h1M64 52.5h2M31 53.5h1M37 53.5h1M46 53.5h1M48 53.5h3M68 53.5h1M75 53.5h1M9 54.5h1M16 54.5h1M21 54.5h3M30 54.5h2M35 54.5h1M61 54.5h1M65 54.5h1M71 54.5h1M7 55.5h1M12 55.5h1M21 55.5h2M28 55.5h3M47 55.5h1M70 55.5h1M23 56.5h1M33 56.5h1M45 56.5h1M56 56.5h1M66 56.5h1M69 56.5h2M74 56.5h1M34 57.5h1M70 57.5h1M73 57.5h1M14 58.5h1M35 58.5h1M39 58.5h1M66 58.5h2M70 58.5h1M41 59.5h1M54 59.5h1M62 59.5h1M64 59.5h1M70 59.5h2M14 60.5h1M66 60.5h1M70 60.5h1M13 61.5h1M17 61.5h1M32 61.5h1M50 61.5h1M64 61.5h1M66 61.5h3M73 61.5h1M17 62.5h1M20 62.5h1M24 62.5h1M30 62.5h1M39 62.5h1M56 62.5h1M58 62.5h1M71 62.5h1M13 63.5h1M38 63.5h1M40 63.5h2M46 63.5h1M49 63.5h1M62 63.5h2M70 63.5h1M52 64.5h1M62 64.5h1M69 64.5h1M72 64.5h1M75 64.5h1M14 65.5h1M18 65.5h1M31 65.5h1M35 65.5h1M41 65.5h1M48 65.5h1M12 66.5h2M22 66.5h1M31 66.5h1M34 66.5h2M41 66.5h1M56 66.5h1M65 66.5h1M69 66.5h1M13 67.5h1M15 67.5h1M33 67.5h1M50 67.5h1M60 67.5h1M11 68.5h1M19 68.5h1M21 68.5h1M23 68.5h1M38 68.5h1M50 68.5h1M53 68.5h1M58 68.5h1M69 68.5h1M71 68.5h2M7 69.5h1M10 69.5h1M12 69.5h1M16 69.5h1M18 69.5h1M21 69.5h1M23 69.5h1M48 69.5h2M51 69.5h1M58 69.5h1M70 69.5h1M11 70.5h1M20 70.5h1M24 70.5h1M28 70.5h1M33 70.5h1M41 70.5h1M49 70.5h2M65 70.5h1M11 71.5h1M18 71.5h1M23 71.5h1M39 71.5h1M58 71.5h1M68 71.5h1M71 71.5h1M22 72.5h1M30 72.5h1M51 72.5h1M55 72.5h1M62 72.5h1M68 72.5h3M74 72.5h1M15 73.5h1M22 73.5h1M24 73.5h1M27 73.5h1M34 73.5h1M36 73.5h1M42 73.5h1M56 73.5h1M62 73.5h1M66 73.5h1M15 74.5h1M22 74.5h1M33 74.5h2M36 74.5h1M44 74.5h2M65 74.5h2M14 75.5h1M41 75.5h1M62 75.5h1M13 76.5h1M16 76.5h1M31 76.5h1M35 76.5h2M40 76.5h1M45 76.5h1M55 76.5h2M59 76.5h1M65 76.5h1M74 76.5h1M12 77.5h1M15 77.5h1M25 77.5h1M57 77.5h1M60 77.5h1M13 78.5h1M15 78.5h2M31 78.5h1M44 78.5h2M48 78.5h1M50 78.5h1M66 78.5h1M1 79.5h1M5 79.5h1M47 79.5h1M60 79.5h2M64 79.5h1M67 79.5h1M71 79.5h2M74 79.5h1M16 80.5h1M33 80.5h1M45 80.5h1M66 80.5h1M2 81.5h1M11 81.5h1M46 81.5h1M48 81.5h1M51 81.5h1M72 81.5h1M74 81.5h1M9 82.5h1M11 82.5h1M28 82.5h1M46 82.5h1M51 82.5h1M58 82.5h1M60 82.5h1M72 82.5h1M74 82.5h1M25 83.5h1M27 83.5h2M66 83.5h3M11 84.5h1M31 84.5h1M44 84.5h1M46 84.5h1M61 84.5h1M73 84.5h1M9 85.5h1M13 85.5h1M16 85.5h2M48 85.5h3M60 85.5h2M75 85.5h1M14 86.5h1M25 86.5h2M30 86.5h1M40 86.5h1M45 86.5h1M48 86.5h2M60 86.5h1M13 87.5h1M46 87.5h3M51 87.5h1M61 87.5h1M75 87.5h1M16 88.5h1M20 88.5h1M33 88.5h1M36 88.5h1M48 88.5h1M60 88.5h1M65 88.5h1M68 88.5h1M7 89.5h1M15 89.5h1M30 89.5h1M50 89.5h1M4 90.5h1M12 90.5h1M14 90.5h1M30 90.5h1M61 90.5h1M63 90.5h1M71 90.5h1M15 91.5h1M18 91.5h1M33 91.5h1M43 91.5h1M60 91.5h1M71 91.5h1M9 92.5h1M21 92.5h1M45 92.5h1M57 92.5h1M60 92.5h1M71 92.5h1M74 92.5h2M4 93.5h1M15 93.5h1M17 93.5h1M33 93.5h1M39 93.5h1M54 93.5h3M58 93.5h1M65 93.5h1M70 93.5h1M24 94.5h1M33 94.5h1M44 94.5h1M5 95.5h1M13 95.5h1M16 95.5h1M18 95.5h2M31 95.5h1M35 95.5h1M53 95.5h1M63 95.5h1M67 95.5h1M73 95.5h1M13 96.5h1M31 96.5h1M56 96.5h1M58 96.5h1M67 96.5h1M24 97.5h2M29 97.5h1M35 97.5h1M38 97.5h1M49 97.5h1M59 97.5h1M61 97.5h1M64 97.5h1M66 97.5h1M70 97.5h2M73 97.5h2M21 98.5h1M23 98.5h1M25 98.5h1M31 98.5h1M45 98.5h1M60 98.5h1M64 98.5h1M67 98.5h1M70 98.5h1M16 99.5h1M37 99.5h1M46 99.5h1M49 99.5h2M55 99.5h1M59 99.5h1M61 99.5h1M73 99.5h1M5 100.5h2M12 100.5h1M48 100.5h1M51 100.5h1M57 100.5h1M67 100.5h2M25 101.5h1M42 101.5h1M59 101.5h1M64 101.5h2M4 102.5h1M25 102.5h1M30 102.5h1M42 102.5h1M47 102.5h1M64 102.5h1M66 102.5h1M5 103.5h1M10 103.5h1M18 103.5h1M36 103.5h2M47 103.5h1M58 103.5h1M60 103.5h1M66 103.5h2M73 103.5h1M9 104.5h1M14 104.5h1M16 104.5h1M18 104.5h1M20 104.5h1M25 104.5h1M36 104.5h1M42 104.5h1M57 104.5h1M7 105.5h1M34 105.5h1M36 105.5h1M40 105.5h1M49 105.5h1M60 105.5h1M31 106.5h1M36 106.5h1M43 106.5h1M72 106.5h1M17 107.5h1M27 107.5h1M30 107.5h2M36 107.5h2M55 107.5h1M74 107.5h1M4 108.5h1M10 108.5h1M28 108.5h1M40 108.5h1M42 108.5h1M47 108.5h1M59 108.5h1M61 108.5h2M12 109.5h1M19 109.5h1M27 109.5h1M29 109.5h2M41 109.5h1M47 109.5h1M56 109.5h1M74 109.5h1M14 110.5h2M21 110.5h1M57 110.5h1M62 110.5h1M5 111.5h1M25 111.5h1M32 111.5h1M43 111.5h1M47 111.5h2M51 111.5h1M61 111.5h1M74 111.5h2M6 112.5h2M13 112.5h1M18 112.5h1M28 112.5h1M31 112.5h2M34 112.5h1M38 112.5h1M49 112.5h2M54 112.5h1M75 112.5h1M12 113.5h1M17 113.5h1M40 113.5h1M60 113.5h1M65 113.5h1M9 114.5h1M12 114.5h1M15 114.5h1M47 114.5h2M50 114.5h1M57 114.5h1M59 114.5h1M61 114.5h1M74 114.5h2M4 115.5h1M6 115.5h1M14 115.5h1M16 115.5h1M45 115.5h1M48 115.5h1M54 115.5h1M62 115.5h1M73 115.5h1M6 116.5h2M9 116.5h1M17 116.5h1M30 116.5h1M41 116.5h1M45 116.5h1M47 116.5h2M56 116.5h1M66 116.5h1M75 116.5h1M11 117.5h1M23 117.5h1M27 117.5h1M30 117.5h1M40 117.5h1M64 117.5h1M67 117.5h1M22 118.5h1M38 118.5h1M48 118.5h1M63 118.5h1M66 118.5h1M71 118.5h2M75 118.5h1M4 119.5h3M25 119.5h1M46 119.5h1M51 119.5h1M53 119.5h1M73 119.5h1M4 120.5h1M6 120.5h1M9 120.5h1M11 120.5h1M26 120.5h1M28 120.5h1M31 120.5h1M33 120.5h1M59 120.5h1M67 120.5h1M75 120.5h1M4 121.5h1M18 121.5h1M30 121.5h1M41 121.5h1M43 121.5h1M53 121.5h2M57 121.5h2M63 121.5h1M68 121.5h1M6 122.5h1M40 122.5h2M50 122.5h2M56 122.5h1M65 122.5h1M26 123.5h1M46 123.5h1M54 123.5h1M58 123.5h1M60 123.5h1M9 124.5h1M13 124.5h1M16 124.5h3M21 124.5h1M27 124.5h1M32 124.5h1M59 124.5h1M68 124.5h1M71 124.5h3M8 125.5h1M34 125.5h2M53 125.5h1M74 125.5h1M8 126.5h1M11 126.5h1M22 126.5h1M24 126.5h1M35 126.5h1M44 126.5h1M49 126.5h1M57 126.5h1M66 126.5h2M71 126.5h1M3 127.5h1M7 127.5h1M9 127.5h1M16 127.5h1M40 127.5h2M47 127.5h2M62 127.5h1M4 128.5h1M11 128.5h1M16 128.5h3M28 128.5h2M40 128.5h1M51 128.5h1M58 128.5h1M65 128.5h1M68 128.5h1M7 129.5h1M11 129.5h1M15 129.5h2M26 129.5h1M40 129.5h1M45 129.5h2M49 129.5h1M59 129.5h1M9 130.5h1M15 130.5h1M27 130.5h1M42 130.5h1M70 130.5h2M11 131.5h1M13 131.5h1M22 131.5h1M26 131.5h1M37 131.5h1M62 131.5h1M66 131.5h1M75 131.5h1M27 132.5h1M30 132.5h1M36 132.5h1M48 132.5h1M53 132.5h1M63 132.5h1M65 132.5h1M68 132.5h2M73 132.5h1M6 133.5h1M8 133.5h1M11 133.5h1M16 133.5h1M32 133.5h1M43 133.5h1M51 133.5h1M67 133.5h1M70 133.5h1M74 133.5h1M11 134.5h1M19 134.5h1M35 134.5h1M44 134.5h1M57 134.5h1M59 134.5h1M5 135.5h1M15 135.5h1M21 135.5h1M32 135.5h1M35 135.5h1M41 135.5h1M47 135.5h1M56 135.5h1M63 135.5h1M68 135.5h1M73 135.5h1M6 136.5h1M18 136.5h1M25 136.5h1M28 136.5h1M32 136.5h1M34 136.5h1M61 136.5h1M74 136.5h1M5 137.5h1M13 137.5h1M15 137.5h2M18 137.5h1M23 137.5h2M38 137.5h2M42 137.5h1M46 137.5h1M72 137.5h1M12 138.5h1M15 138.5h1M18 138.5h1M46 138.5h1M63 138.5h1M18 139.5h1M45 139.5h1M56 139.5h1M62 139.5h1M7 140.5h1M14 140.5h1M45 140.5h2M54 140.5h1M64 140.5h1M74 140.5h1M9 141.5h1M12 141.5h1M26 141.5h1M42 141.5h1M49 141.5h1M53 141.5h1M70 141.5h1M1 142.5h1M9 142.5h1M30 142.5h1M32 142.5h1M39 142.5h1M42 142.5h1M46 142.5h1M48 142.5h1M51 142.5h1M68 142.5h1M75 142.5h1M8 143.5h2M30 143.5h1M15 144.5h1M30 144.5h1M48 144.5h1M50 144.5h1M16 145.5h2M26 145.5h1M45 145.5h1M47 145.5h1M50 145.5h1M57 145.5h1M60 145.5h1M70 145.5h1M8 146.5h1M15 146.5h1M36 146.5h1M61 146.5h1M69 146.5h1M74 146.5h1M6 147.5h1M31 147.5h1M39 147.5h1M46 147.5h1M48 147.5h2M63 147.5h2M68 147.5h2M1 148.5h1M6 148.5h1M31 148.5h1M50 148.5h1M62 148.5h2M32 149.5h1M36 149.5h1M39 149.5h1M45 149.5h1M70 149.5h1M7 150.5h1M43 150.5h1M68 150.5h1M17 151.5h1M32 151.5h1M43 151.5h1M45 151.5h1M49 151.5h1M72 151.5h1M34 152.5h1M41 152.5h1M48 152.5h1M67 152.5h1M72 152.5h2M75 152.5h1M6 153.5h1M12 153.5h1M14 153.5h1M29 153.5h1M33 153.5h1M72 153.5h1M11 154.5h1M15 154.5h2M30 154.5h2M2 155.5h1M6 155.5h1M8 155.5h1M10 155.5h1M19 155.5h1M26 155.5h1M31 155.5h1M39 155.5h1M49 155.5h1M13 156.5h1M15 156.5h1M20 156.5h1M22 156.5h2M48 156.5h2M20 157.5h1M48 157.5h1M2 158.5h1M11 158.5h1M20 158.5h1M29 158.5h1M35 158.5h1M7 159.5h3M14 159.5h1M29 159.5h1M55 159.5h2M10 160.5h2M15 160.5h2M22 160.5h1M26 160.5h1M36 160.5h1M2 161.5h1M10 161.5h1M20 161.5h1M23 161.5h1M30 161.5h3M6 162.5h1M8 162.5h1M31 162.5h2M35 163.5h1M49 163.5h1M7 164.5h1M10 164.5h1M22 164.5h1M29 164.5h1M34 164.5h1M42 164.5h1M48 164.5h1M6 165.5h1M11 165.5h1M15 165.5h1M19 165.5h1M23 165.5h1M32 165.5h1M34 165.5h2M41 165.5h1M8 166.5h1M10 166.5h2M16 166.5h1M19 166.5h1M22 166.5h2M29 166.5h2M35 166.5h1M41 166.5h1M6 167.5h3M11 167.5h1M19 167.5h1M30 167.5h1M36 167.5h1M3 168.5h1M15 168.5h2M22 168.5h1M26 168.5h1M41 168.5h1M6 169.5h4M29 169.5h1M39 169.5h1M48 169.5h2M2 170.5h1M8 170.5h2M19 170.5h1M22 170.5h1M32 170.5h1M38 170.5h1M54 170.5h1M56 170.5h1M2 171.5h1M10 171.5h2M22 171.5h1M29 171.5h1M55 171.5h1M10 172.5h1M16 172.5h1M19 172.5h1M23 172.5h1M36 172.5h1M40 172.5h2M9 173.5h1M33 173.5h1M41 173.5h1M54 173.5h2M6 174.5h1M29 174.5h1M36 174.5h1M49 174.5h1M9 175.5h2M29 175.5h1M33 175.5h1M40 175.5h1M49 175.5h1M16 176.5h1M21 176.5h1M23 176.5h1M30 176.5h1M32 176.5h2M41 176.5h1M19 177.5h1M21 177.5h3M25 177.5h1M29 177.5h1M32 177.5h1M40 177.5h1M55 177.5h1M11 178.5h1M19 178.5h1M21 178.5h1M33 178.5h2M36 178.5h1M42 178.5h1M48 178.5h1M54 178.5h1M2 179.5h1M10 179.5h1M14 179.5h1M17 179.5h1M22 179.5h1M29 179.5h3M34 179.5h1M6 180.5h1M9 180.5h3M15 180.5h1M30 180.5h2M42 180.5h1M2 181.5h1M10 181.5h2M16 181.5h1M21 181.5h1M23 181.5h1M28 181.5h1M32 181.5h1M43 181.5h2M8 182.5h2M16 182.5h1M19 182.5h1M22 182.5h2M26 182.5h1M34 182.5h3M39 182.5h1M51 182.5h1M7 183.5h1M10 183.5h1M22 183.5h1M30 183.5h1M39 183.5h1M42 183.5h1M54 183.5h1M2 184.5h1M7 184.5h1M13 184.5h1M22 184.5h1M30 184.5h1M35 184.5h2M42 184.5h1M7 185.5h2M13 185.5h1M29 185.5h2M35 185.5h1M39 185.5h1M48 185.5h1M56 185.5h1M2 186.5h1M16 186.5h1M31 186.5h2M54 186.5h1M6 187.5h2M19 187.5h1M23 187.5h2M31 187.5h2M54 187.5h1M2 188.5h1M29 188.5h1M32 188.5h1M34 188.5h1M54 188.5h2M7 189.5h5M16 189.5h1M23 189.5h1M25 189.5h1M33 189.5h1M6 190.5h1M10 190.5h1M16 190.5h1M26 190.5h1M48 190.5h2M6 191.5h1M15 191.5h1M19 191.5h1M21 191.5h1M25 191.5h2M32 191.5h1M42 191.5h1M48 191.5h2M51 191.5h1M6 192.5h1M10 192.5h1M31 192.5h1M7 193.5h3M14 193.5h2M23 193.5h1M29 193.5h1M32 193.5h1M35 193.5h1M9 194.5h1M21 194.5h1M26 194.5h1M34 194.5h1M36 194.5h1M48 194.5h2M2 195.5h1M6 195.5h1M22 195.5h1M2 196.5h1M6 196.5h1M10 196.5h1M19 196.5h1M31 196.5h2M35 196.5h1M41 196.5h1M8 197.5h1M15 197.5h1M23 197.5h2M41 197.5h1M6 198.5h1M9 198.5h1M15 198.5h1M19 198.5h1M23 198.5h1M33 198.5h1M9 199.5h1M15 199.5h1M21 199.5h2M30 199.5h3M2 200.5h1M6 200.5h1M11 200.5h1M31 200.5h1M23 201.5h1M30 201.5h2M35 201.5h1M10 202.5h1M13 202.5h1M21 202.5h1M23 202.5h1M29 203.5h1M31 203.5h1M35 203.5h1M39 203.5h1M6 204.5h1M31 204.5h1M35 204.5h2M38 204.5h1M42 204.5h1M10 205.5h1M15 205.5h2M22 205.5h2M33 205.5h1M35 205.5h2M44 205.5h1M73 205.5h1M2 206.5h1M8 206.5h2M14 206.5h1M34 206.5h1M42 206.5h1M13 207.5h1M16 207.5h1M26 207.5h1M22 208.5h1M25 208.5h1M29 208.5h1M34 208.5h1M48 208.5h1M60 208.5h1M10 209.5h1M15 209.5h1M19 209.5h1M22 209.5h2M38 209.5h1M2 210.5h1M6 210.5h1M10 210.5h1M22 210.5h1M35 210.5h1M53 210.5h1M2 211.5h1M11 211.5h1M16 211.5h1M29 211.5h1M36 211.5h1M9 212.5h1M20 212.5h2M26 212.5h1M29 212.5h1M48 212.5h3M16 213.5h1M19 213.5h1M23 213.5h1M25 213.5h1M29 213.5h1M33 213.5h1M49 213.5h1M16 214.5h1M19 214.5h1M33 214.5h2M50 214.5h1M14 215.5h1M20 216.5h1M26 216.5h1M32 216.5h1M34 216.5h1M39 216.5h1M2 217.5h1M8 217.5h1M11 217.5h1M23 217.5h1M45 217.5h1M49 217.5h1M10 218.5h2M19 218.5h1M39 218.5h1M49 218.5h1M2 219.5h1M11 219.5h1M19 219.5h1M31 219.5h2M36 219.5h1M11 220.5h1M25 220.5h1M36 220.5h1M8 221.5h2M16 221.5h1M23 221.5h1M34 221.5h2M39 221.5h1M11 222.5h1M15 222.5h2M22 222.5h2M30 222.5h2M33 222.5h1M40 222.5h3M48 222.5h1M16 223.5h1M19 223.5h1M24 223.5h2M49 223.5h1M54 223.5h1M3 224.5h2M13 224.5h1M20 224.5h4M29 224.5h1M33 224.5h1M36 224.5h1M40 224.5h1M5 225.5h1M19 225.5h1M23 225.5h1M29 225.5h1M31 225.5h1M34 225.5h1M36 225.5h1M40 225.5h1M2 226.5h1M9 226.5h1M11 226.5h1M19 226.5h2M26 226.5h1M35 226.5h1M42 226.5h1M48 226.5h2M4 227.5h1M9 227.5h1M21 227.5h2M30 227.5h1M36 227.5h1M39 227.5h1M3 228.5h1M5 228.5h1M10 228.5h1M19 228.5h1M32 228.5h1M34 228.5h2M42 228.5h1M5 229.5h1M9 229.5h1M33 229.5h2M41 229.5h2M55 229.5h1M8 230.5h2M19 230.5h2M29 230.5h1M32 230.5h1M36 230.5h1M49 230.5h1M73 230.5h1M4 231.5h1M7 231.5h2M11 231.5h1M32 231.5h1M34 231.5h3M38 231.5h1M41 231.5h2M6 232.5h1M8 232.5h2M25 232.5h2M29 232.5h1M31 232.5h1M41 232.5h1M2 233.5h1M6 233.5h1M8 233.5h1M20 233.5h1M24 233.5h1M53 233.5h1M55 233.5h1M8 234.5h1M14 234.5h1M20 234.5h2M38 234.5h1M56 234.5h1M5 235.5h1M8 235.5h1M11 235.5h1M20 235.5h2M38 235.5h1M4 236.5h2M21 236.5h1M26 236.5h1M34 236.5h2M38 236.5h1M46 236.5h1M48 236.5h2M16 237.5h1M29 237.5h1M33 237.5h1M35 237.5h1M40 237.5h1M2 238.5h2M8 238.5h1M10 238.5h2M16 238.5h1M18 238.5h1M24 238.5h1M36 238.5h1M41 238.5h1M48 238.5h1M7 239.5h1M9 239.5h1M11 239.5h1M22 239.5h1M32 239.5h2M2 240.5h2M6 240.5h2M30 240.5h2M34 240.5h1M36 240.5h1M3 241.5h2M6 241.5h3M10 241.5h1M35 241.5h1M38 241.5h1M42 241.5h1M2 242.5h2M5 242.5h1M10 242.5h2M19 242.5h1M22 242.5h1M64 242.5h1M6 243.5h1M16 243.5h1M34 243.5h1M36 243.5h1M39 243.5h1M42 243.5h1M49 243.5h1M6 244.5h2M16 244.5h1M25 244.5h2M34 244.5h1M39 244.5h1M48 244.5h2M7 245.5h2M11 245.5h1M19 245.5h1M25 245.5h1M30 245.5h1M36 245.5h1M42 245.5h1M15 246.5h1M25 246.5h1M30 246.5h1M36 246.5h1M40 246.5h1M43 246.5h1M56 246.5h1M8 247.5h1M11 247.5h1M15 247.5h1M33 247.5h1M35 247.5h5M54 247.5h2M8 248.5h4M15 248.5h1M30 248.5h1M32 248.5h2M35 248.5h2M39 248.5h1M15 249.5h1M30 249.5h3M34 249.5h2M46 249.5h1M60 249.5h1M3 250.5h1M21 250.5h1M43 250.5h1M3 251.5h1M43 251.5h1M54 251.5h1M8 252.5h1M32 252.5h1M14 253.5h1M17 253.5h1M31 253.5h1M33 253.5h1M5 254.5h1M16 254.5h1M18 254.5h2M21 254.5h1M33 254.5h1M39 254.5h1M42 254.5h1M18 255.5h1M20 255.5h3M38 255.5h1M41 255.5h1M31 256.5h1M34 256.5h2M41 256.5h1M43 256.5h1M45 256.5h1M72 256.5h1M4 257.5h1M6 257.5h1M13 257.5h1M29 257.5h1M39 257.5h1M41 257.5h1M53 257.5h1M13 258.5h1M17 258.5h1M29 258.5h4M38 258.5h1M50 258.5h1M54 258.5h1M74 258.5h1M30 259.5h1M36 259.5h1M39 259.5h1M41 259.5h1M6 260.5h1M25 260.5h1M30 260.5h2M41 260.5h1M18 261.5h2M35 261.5h1M7 262.5h1M17 262.5h1M35 262.5h2M39 262.5h2M7 263.5h1M17 263.5h1M19 263.5h1M42 263.5h1M17 264.5h1M21 264.5h1M29 264.5h1M38 264.5h1M42 264.5h1M13 265.5h1M15 265.5h2M29 265.5h1M10 266.5h1M14 266.5h1M16 266.5h1M39 266.5h1M43 266.5h1M7 267.5h1M18 267.5h1M20 267.5h1M25 267.5h1M29 267.5h1M43 267.5h1M8 268.5h1M18 268.5h2M21 268.5h1M23 268.5h1M29 268.5h1M42 268.5h2M9 269.5h1M23 269.5h1M30 269.5h1M32 269.5h4M38 269.5h2M42 269.5h1M54 269.5h1M56 269.5h1M20 270.5h1M42 270.5h1M4 271.5h1M16 271.5h1M30 271.5h2M45 272.5h1M54 272.5h1M56 272.5h1M3 273.5h1M38 273.5h1M67 273.5h1M3 274.5h1M8 274.5h1M25 274.5h1M19 275.5h1M21 275.5h1M29 275.5h1M33 275.5h1M36 275.5h1M39 275.5h2M68 275.5h1M7 276.5h1M13 276.5h1M19 276.5h2M25 276.5h1M29 276.5h3M36 276.5h1M38 276.5h1M40 276.5h1M2 277.5h1M9 277.5h2M12 277.5h2M18 277.5h1M20 277.5h1M22 277.5h1M31 277.5h1M33 277.5h1M36 277.5h1M41 277.5h1M13 278.5h1M23 278.5h1M30 278.5h1M32 278.5h1M38 278.5h1M56 278.5h1M3 279.5h1M7 279.5h1M13 279.5h1M19 279.5h2M36 279.5h1M8 280.5h1M11 280.5h1M33 280.5h1M39 280.5h1M53 280.5h1M58 280.5h1M9 281.5h1M17 281.5h1M21 281.5h1M29 281.5h1M31 281.5h2M38 281.5h1M60 281.5h1M3 282.5h1M9 282.5h1M18 282.5h1M20 282.5h1M30 282.5h1M32 282.5h1M39 282.5h1M43 282.5h1M11 283.5h1M18 283.5h1M29 283.5h1M31 283.5h1M4 284.5h1M6 284.5h2M11 284.5h1M20 284.5h1M31 284.5h1M35 284.5h1M64 284.5h1M7 285.5h2M10 285.5h1M19 285.5h1M21 285.5h1M23 285.5h1M25 285.5h1M31 285.5h1M36 285.5h1M40 285.5h1M42 285.5h1M47 285.5h1M10 286.5h1M13 286.5h1M34 286.5h1M38 286.5h1M41 286.5h1M53 286.5h1M3 287.5h1M14 287.5h1M21 287.5h1M24 287.5h1M33 287.5h1M40 287.5h1M8 288.5h2M41 288.5h1M10 289.5h1M24 289.5h1M29 289.5h1M35 289.5h1M3 290.5h1M5 290.5h1M8 290.5h1M12 290.5h1M29 290.5h1M33 290.5h1M35 290.5h1M38 290.5h1M4 291.5h1M10 291.5h1M20 291.5h1M33 291.5h1M4 292.5h2M13 292.5h2M32 292.5h1M19 293.5h1M28 293.5h1M36 293.5h2M38 294.5h1M42 294.5h2M11 295.5h1M39 295.5h1M51 296.5h1M54 296.5h1M56 296.5h1M19 297.5h1M37 297.5h2M43 297.5h1M55 297.5h1M18 298.5h1M30 298.5h1M53 298.5h1M72 298.5h1M74 298.5h1M15 299.5h1M38 299.5h1M53 299.5h1M73 299.5h1M37 300.5h1M53 300.5h1M1 301.5h1M43 301.5h1M53 301.5h1M46 302.5h1M13 303.5h1M39 303.5h3M44 303.5h1M47 303.5h1M40 304.5h1M64 304.5h1M44 305.5h1M55 305.5h1M59 305.5h1M64 305.5h1M38 306.5h1M51 306.5h1M56 306.5h1M71 306.5h1M15 307.5h1M38 307.5h1M38 308.5h1M56 308.5h1M0 309.5h1M10 309.5h1M24 309.5h1M26 309.5h1M29 309.5h1M54 309.5h1M65 309.5h1M8 310.5h1M38 310.5h1M47 310.5h1M42 311.5h1M51 311.5h1M23 312.5h1M42 312.5h1M54 312.5h1M75 312.5h1M8 313.5h1M10 313.5h1M43 313.5h1M53 313.5h1M65 313.5h1M6 314.5h1M28 314.5h1M43 314.5h1M45 314.5h1M9 315.5h1M43 315.5h1M56 315.5h1M25 316.5h1M38 316.5h1M40 316.5h2M54 316.5h1M75 316.5h1M23 317.5h1M37 317.5h1M41 317.5h1M43 317.5h2M42 318.5h2M11 319.5h1M38 319.5h1M42 319.5h1M47 319.5h1M55 319.5h1M10 320.5h2M56 320.5h1M9 321.5h2M37 321.5h2M17 322.5h1M41 322.5h1M54 322.5h1M65 322.5h1M16 323.5h1M38 323.5h1M56 323.5h1M1 324.5h1M37 324.5h1M51 324.5h1M56 324.5h1M0 325.5h1M6 325.5h1M8 325.5h1M14 325.5h1M37 325.5h2M53 325.5h2M56 325.5h1M42 326.5h2M45 326.5h1M53 326.5h1M56 326.5h1M0 327.5h2M47 327.5h1M59 328.5h1M64 328.5h1M0 329.5h1M5 329.5h1M42 329.5h1M54 329.5h3M71 329.5h1M74 329.5h1M9 330.5h1M32 330.5h1M4 331.5h1M55 331.5h1M75 331.5h1M43 332.5h1M56 332.5h1M42 333.5h1M46 333.5h1M48 333.5h1M50 333.5h1M53 333.5h1M27 334.5h1M41 334.5h2M45 334.5h2M48 334.5h1M54 334.5h1M5 335.5h1M45 335.5h1M48 335.5h1M26 336.5h1M53 336.5h1M38 337.5h2M42 337.5h1M70 337.5h1M26 338.5h1M0 339.5h1M11 339.5h1M38 339.5h1M53 339.5h2M6 340.5h1M25 340.5h1M42 340.5h2M47 340.5h2M56 340.5h1M26 341.5h1M37 341.5h1M55 341.5h2M10 342.5h1M26 342.5h1M10 343.5h1M33 343.5h1M53 343.5h2M56 343.5h1M9 344.5h1M11 344.5h1M49 344.5h1M54 344.5h1M63 344.5h2M42 345.5h2M54 345.5h1M51 346.5h1M9 347.5h1M43 347.5h1M66 347.5h1M68 347.5h1M30 348.5h1M38 348.5h1M42 348.5h1M44 348.5h1M48 348.5h2M56 348.5h1M67 348.5h1M48 349.5h1M54 349.5h1M27 350.5h1M36 350.5h1M47 350.5h2M56 350.5h1"/><path stroke="#0b0000" d="M10 0.5h1M49 0.5h1M60 0.5h1M72 0.5h2M0 1.5h2M71 1.5h1M34 2.5h1M47 2.5h1M59 2.5h1M67 2.5h1M31 3.5h1M34 3.5h1M12 4.5h1M18 4.5h1M22 4.5h1M31 4.5h2M3 5.5h1M7 5.5h1M24 5.5h1M53 5.5h1M58 5.5h1M62 5.5h1M14 6.5h1M21 6.5h1M24 6.5h1M60 6.5h1M67 6.5h1M73 6.5h2M5 7.5h1M29 7.5h1M47 7.5h1M60 7.5h1M67 7.5h1M69 7.5h1M72 7.5h1M4 8.5h2M33 8.5h1M41 8.5h1M57 8.5h1M62 8.5h1M67 8.5h1M21 9.5h1M28 9.5h1M31 9.5h1M60 9.5h1M22 10.5h1M28 10.5h1M34 10.5h1M60 10.5h2M66 10.5h1M6 11.5h1M24 11.5h1M26 11.5h1M31 11.5h1M49 11.5h1M75 11.5h1M6 12.5h2M17 12.5h1M30 12.5h1M33 12.5h1M47 12.5h2M60 12.5h1M62 12.5h1M36 13.5h1M40 13.5h1M48 13.5h1M50 13.5h1M21 14.5h1M31 14.5h1M48 14.5h2M58 14.5h1M17 15.5h1M33 15.5h1M57 15.5h1M4 16.5h1M11 16.5h1M17 16.5h1M28 16.5h1M41 16.5h1M46 16.5h1M60 16.5h1M10 17.5h2M15 17.5h1M21 17.5h1M25 17.5h1M67 17.5h1M36 18.5h1M49 18.5h1M65 18.5h1M1 19.5h1M27 19.5h1M36 19.5h1M72 19.5h1M74 19.5h1M20 20.5h1M30 20.5h2M35 20.5h1M49 20.5h1M58 20.5h1M60 20.5h1M3 22.5h1M30 22.5h1M5 23.5h1M8 23.5h1M19 23.5h1M26 23.5h1M32 23.5h2M48 23.5h2M75 23.5h1M28 24.5h1M35 24.5h1M49 24.5h1M54 24.5h1M59 24.5h1M67 24.5h1M73 24.5h1M6 25.5h1M46 25.5h1M48 25.5h2M58 25.5h1M15 26.5h1M48 26.5h1M50 26.5h1M73 26.5h1M1 27.5h1M9 27.5h1M15 27.5h1M22 27.5h1M27 27.5h2M39 27.5h1M61 27.5h1M67 27.5h1M72 27.5h1M5 28.5h1M7 28.5h1M17 28.5h1M29 28.5h1M32 28.5h1M34 28.5h1M72 28.5h1M2 29.5h1M4 29.5h3M36 29.5h1M70 29.5h1M28 30.5h1M30 30.5h1M33 30.5h1M41 30.5h1M44 30.5h1M58 30.5h1M60 30.5h1M67 30.5h1M42 31.5h1M44 31.5h1M68 31.5h1M34 32.5h1M40 32.5h1M65 32.5h2M68 32.5h1M3 33.5h2M6 33.5h1M36 33.5h1M41 33.5h1M57 33.5h1M64 33.5h1M72 33.5h2M75 33.5h1M14 34.5h2M21 34.5h1M45 34.5h1M48 34.5h1M56 34.5h1M66 34.5h3M71 34.5h1M10 35.5h2M13 35.5h2M17 35.5h1M20 35.5h1M26 35.5h1M50 35.5h1M54 35.5h2M59 35.5h1M62 35.5h3M72 35.5h1M15 36.5h1M21 36.5h1M25 36.5h2M33 36.5h1M48 36.5h2M56 36.5h1M62 36.5h1M69 36.5h1M71 36.5h1M75 36.5h1M2 37.5h1M28 37.5h2M33 37.5h1M44 37.5h1M5 38.5h3M16 38.5h1M21 38.5h1M27 38.5h1M51 38.5h1M65 38.5h2M74 38.5h1M18 39.5h1M28 39.5h2M31 39.5h2M35 39.5h2M44 39.5h1M65 39.5h1M4 40.5h1M6 40.5h1M16 40.5h1M31 40.5h1M3 41.5h1M68 41.5h1M16 42.5h1M18 42.5h1M22 42.5h1M33 42.5h1M73 42.5h1M75 42.5h1M6 43.5h1M18 43.5h1M53 43.5h1M6 44.5h1M19 44.5h1M24 44.5h1M48 44.5h1M50 44.5h1M60 44.5h1M65 44.5h1M68 44.5h1M74 44.5h1M18 45.5h1M36 45.5h1M66 45.5h1M5 46.5h1M17 46.5h1M28 46.5h1M30 46.5h1M32 46.5h1M35 46.5h2M41 46.5h1M73 46.5h3M2 47.5h2M22 47.5h1M41 47.5h1M48 47.5h1M60 47.5h1M70 47.5h1M6 48.5h1M49 48.5h1M61 48.5h1M67 48.5h1M69 48.5h1M71 48.5h1M74 48.5h1M14 49.5h1M25 49.5h1M45 49.5h1M67 49.5h1M75 49.5h1M2 50.5h1M13 50.5h1M17 50.5h1M19 50.5h1M31 50.5h2M44 50.5h1M67 50.5h2M70 50.5h1M19 51.5h1M22 51.5h1M48 51.5h1M67 51.5h1M73 51.5h1M5 52.5h2M35 52.5h1M44 52.5h1M46 52.5h1M62 52.5h1M68 52.5h1M71 52.5h1M73 52.5h1M2 53.5h1M18 53.5h1M22 53.5h1M34 53.5h1M47 53.5h1M63 53.5h1M70 53.5h1M72 53.5h2M17 54.5h1M26 54.5h1M46 54.5h1M55 54.5h1M68 54.5h1M72 54.5h1M74 54.5h1M3 55.5h1M14 55.5h1M19 55.5h1M2 56.5h1M14 56.5h1M16 56.5h1M30 56.5h1M32 56.5h1M53 56.5h1M65 56.5h1M75 56.5h1M6 57.5h1M8 57.5h1M18 57.5h2M23 57.5h1M33 57.5h1M62 57.5h1M64 57.5h1M69 57.5h1M74 57.5h1M5 58.5h1M9 58.5h1M12 58.5h1M15 58.5h1M24 58.5h1M26 58.5h1M28 58.5h1M31 58.5h1M44 58.5h1M49 58.5h1M55 58.5h1M63 58.5h1M69 58.5h1M74 58.5h1M5 59.5h1M21 59.5h1M24 59.5h1M28 59.5h1M30 59.5h1M32 59.5h3M69 59.5h1M30 60.5h1M45 60.5h1M63 60.5h1M68 60.5h1M5 61.5h2M14 61.5h1M24 61.5h1M31 61.5h1M48 61.5h1M56 61.5h1M10 62.5h1M18 62.5h1M25 62.5h1M28 62.5h1M31 62.5h1M48 62.5h1M51 62.5h1M65 62.5h1M5 63.5h1M15 63.5h2M20 63.5h1M44 63.5h1M54 63.5h1M74 63.5h1M19 64.5h1M28 64.5h1M51 64.5h1M54 64.5h1M66 64.5h1M70 64.5h1M74 64.5h1M23 65.5h1M28 65.5h2M36 65.5h1M49 65.5h1M52 65.5h1M55 65.5h1M74 65.5h1M3 66.5h1M14 66.5h1M16 66.5h2M21 66.5h1M29 66.5h1M32 66.5h1M45 66.5h1M62 66.5h1M68 66.5h1M70 66.5h1M73 66.5h1M5 67.5h1M8 67.5h1M16 67.5h1M29 67.5h1M35 67.5h1M52 67.5h2M61 67.5h1M67 67.5h1M6 68.5h1M29 68.5h2M75 68.5h1M2 69.5h1M8 69.5h1M14 69.5h1M26 69.5h1M31 69.5h1M34 69.5h1M71 69.5h1M10 70.5h1M14 70.5h1M19 70.5h1M64 70.5h1M69 70.5h1M71 70.5h1M74 70.5h1M27 71.5h1M36 71.5h1M49 71.5h1M54 71.5h1M62 71.5h1M67 71.5h1M73 71.5h2M8 72.5h2M11 72.5h1M27 72.5h3M39 72.5h1M67 72.5h1M8 73.5h1M39 73.5h1M29 74.5h1M35 74.5h1M41 74.5h1M49 74.5h1M53 74.5h1M64 74.5h1M67 74.5h1M72 74.5h1M8 75.5h1M27 75.5h1M44 75.5h1M54 75.5h2M64 75.5h2M72 75.5h1M7 76.5h1M17 76.5h1M27 76.5h1M32 76.5h1M44 76.5h1M48 76.5h1M73 76.5h1M6 77.5h1M13 77.5h1M17 77.5h1M19 77.5h1M27 77.5h1M33 77.5h1M62 77.5h1M65 77.5h2M73 77.5h1M75 77.5h1M36 78.5h1M51 78.5h1M64 78.5h1M69 78.5h2M72 78.5h1M4 79.5h1M7 79.5h1M14 79.5h1M16 79.5h1M53 79.5h1M56 79.5h1M58 79.5h1M73 79.5h1M75 79.5h1M15 80.5h1M20 80.5h2M48 80.5h1M55 80.5h1M70 80.5h2M12 81.5h1M19 81.5h1M21 81.5h1M34 81.5h1M49 81.5h1M68 81.5h1M2 82.5h1M14 82.5h1M27 82.5h1M29 82.5h1M68 82.5h1M9 83.5h1M14 83.5h2M24 83.5h1M32 83.5h1M50 83.5h1M62 83.5h1M12 84.5h1M21 84.5h1M26 84.5h1M32 84.5h2M57 84.5h1M70 84.5h1M4 85.5h1M36 85.5h1M51 85.5h1M70 85.5h1M3 86.5h1M39 86.5h1M50 86.5h1M62 86.5h1M70 86.5h1M8 87.5h1M15 87.5h2M19 87.5h2M5 88.5h1M7 88.5h2M14 88.5h1M19 88.5h1M21 88.5h1M47 88.5h1M8 89.5h1M14 89.5h1M26 89.5h1M31 89.5h1M34 89.5h1M20 90.5h1M27 90.5h1M60 90.5h1M70 90.5h1M9 91.5h1M21 91.5h1M35 91.5h1M51 91.5h1M57 91.5h1M64 91.5h2M12 92.5h1M16 92.5h1M18 92.5h1M29 92.5h1M46 92.5h1M69 92.5h1M5 93.5h1M9 93.5h1M14 93.5h1M18 93.5h1M26 93.5h1M35 93.5h1M52 93.5h1M66 93.5h1M17 94.5h2M20 94.5h1M61 94.5h1M65 94.5h1M71 94.5h1M54 95.5h1M56 95.5h1M65 95.5h1M71 95.5h1M7 96.5h1M11 96.5h1M14 96.5h1M29 96.5h1M44 96.5h1M48 96.5h1M55 96.5h1M59 96.5h1M66 96.5h1M68 96.5h1M71 96.5h2M6 97.5h1M10 97.5h1M15 97.5h1M17 97.5h2M28 97.5h1M30 97.5h1M33 97.5h1M72 97.5h1M16 98.5h2M20 98.5h1M30 98.5h1M37 98.5h1M56 98.5h1M68 98.5h1M74 98.5h1M4 99.5h1M8 99.5h1M13 99.5h1M18 99.5h1M35 99.5h1M64 99.5h1M8 100.5h1M11 100.5h1M17 100.5h1M21 100.5h2M27 100.5h1M56 100.5h1M70 100.5h1M35 101.5h1M39 101.5h1M56 101.5h1M58 101.5h1M60 101.5h1M62 101.5h2M68 101.5h1M7 102.5h1M16 102.5h1M26 102.5h1M40 102.5h2M46 102.5h1M53 102.5h1M55 102.5h1M67 102.5h1M38 103.5h1M70 103.5h1M12 104.5h1M22 104.5h1M17 105.5h1M25 105.5h1M31 105.5h1M46 105.5h2M55 105.5h1M58 105.5h2M6 106.5h2M13 106.5h1M17 106.5h1M29 106.5h1M19 107.5h1M24 107.5h1M38 107.5h1M48 107.5h1M56 107.5h1M60 107.5h1M72 107.5h2M7 108.5h1M11 108.5h1M13 108.5h2M31 108.5h1M35 108.5h1M74 108.5h1M5 109.5h1M10 109.5h2M21 109.5h1M24 109.5h2M40 109.5h1M48 109.5h1M59 109.5h1M6 110.5h1M19 110.5h1M22 110.5h1M46 110.5h2M58 110.5h1M68 110.5h1M72 110.5h1M75 110.5h1M12 111.5h1M19 111.5h1M35 111.5h1M39 111.5h1M42 111.5h1M49 111.5h1M56 111.5h1M68 111.5h1M71 111.5h1M4 112.5h1M25 112.5h2M33 112.5h1M40 112.5h2M61 112.5h1M69 112.5h1M6 113.5h1M9 113.5h1M13 113.5h1M15 113.5h1M21 113.5h2M26 113.5h1M48 113.5h1M54 113.5h2M63 113.5h1M67 113.5h1M4 114.5h1M11 114.5h1M16 114.5h1M34 114.5h1M36 114.5h1M41 114.5h2M65 114.5h1M5 115.5h1M7 115.5h1M11 115.5h3M15 115.5h1M21 115.5h1M42 115.5h1M46 115.5h2M49 115.5h1M51 115.5h1M55 115.5h1M59 115.5h1M74 115.5h2M27 116.5h2M58 116.5h1M63 116.5h1M4 117.5h1M10 117.5h1M18 117.5h1M29 117.5h1M35 117.5h1M43 117.5h2M60 117.5h1M74 117.5h1M5 118.5h1M12 118.5h1M15 118.5h1M23 118.5h1M36 118.5h1M50 118.5h1M58 118.5h1M69 118.5h1M74 118.5h1M8 119.5h1M22 119.5h1M28 119.5h2M38 119.5h1M40 119.5h1M54 119.5h2M64 119.5h1M71 119.5h1M74 119.5h1M7 120.5h2M10 120.5h1M16 120.5h1M20 120.5h1M24 120.5h2M30 120.5h1M39 120.5h1M54 120.5h1M57 120.5h1M62 120.5h1M64 120.5h1M5 121.5h1M7 121.5h1M13 121.5h1M17 121.5h1M32 121.5h1M38 121.5h1M40 121.5h1M46 121.5h1M49 121.5h1M7 122.5h1M18 122.5h1M20 122.5h1M32 122.5h1M34 122.5h1M44 122.5h1M49 122.5h1M70 122.5h1M5 123.5h2M15 123.5h2M19 123.5h1M23 123.5h1M27 123.5h2M41 123.5h1M44 123.5h2M50 123.5h1M56 123.5h1M70 123.5h1M72 123.5h1M6 124.5h1M14 124.5h1M35 124.5h1M51 124.5h1M63 124.5h2M74 124.5h1M12 125.5h1M22 125.5h2M31 125.5h1M49 125.5h1M64 125.5h1M71 125.5h1M17 126.5h1M28 126.5h1M31 126.5h2M39 126.5h2M50 126.5h1M61 126.5h1M11 127.5h1M22 127.5h1M42 127.5h1M50 127.5h1M57 127.5h1M72 127.5h1M6 128.5h1M50 128.5h1M61 128.5h1M66 128.5h1M71 128.5h1M4 129.5h1M9 129.5h1M17 129.5h2M21 129.5h1M30 129.5h2M48 129.5h1M56 129.5h1M71 129.5h1M5 130.5h2M11 130.5h2M16 130.5h1M18 130.5h1M22 130.5h1M24 130.5h1M61 130.5h1M17 131.5h1M19 131.5h1M23 131.5h2M27 131.5h1M29 131.5h1M60 131.5h1M9 132.5h1M12 132.5h1M28 132.5h1M35 132.5h1M41 132.5h1M55 132.5h3M59 132.5h1M74 132.5h2M25 133.5h1M39 133.5h1M55 133.5h1M7 134.5h1M38 134.5h1M40 134.5h1M47 134.5h1M51 134.5h1M18 135.5h1M25 135.5h1M29 135.5h1M38 135.5h1M42 135.5h1M64 135.5h2M67 135.5h1M12 136.5h3M22 136.5h1M66 136.5h2M73 136.5h1M32 137.5h2M61 137.5h1M68 137.5h2M5 138.5h1M9 138.5h1M14 138.5h1M20 138.5h1M22 138.5h1M50 138.5h1M61 138.5h1M75 138.5h1M5 139.5h1M9 139.5h1M13 139.5h2M63 139.5h2M12 140.5h1M24 140.5h1M32 140.5h1M47 140.5h1M51 140.5h1M63 140.5h1M24 141.5h1M69 141.5h1M6 142.5h1M15 142.5h1M27 142.5h1M38 142.5h1M45 142.5h1M28 143.5h1M32 143.5h1M40 143.5h1M48 143.5h1M52 143.5h1M55 143.5h1M8 144.5h1M51 144.5h1M20 145.5h2M31 145.5h1M39 145.5h1M43 145.5h2M49 145.5h1M27 146.5h3M32 146.5h1M39 146.5h1M41 146.5h1M43 146.5h1M46 146.5h3M50 146.5h1M62 146.5h1M7 147.5h1M44 147.5h1M51 147.5h1M54 147.5h1M61 147.5h1M5 148.5h1M7 148.5h2M13 148.5h1M18 148.5h1M23 148.5h1M38 148.5h1M41 148.5h1M18 149.5h1M38 149.5h1M41 149.5h1M43 149.5h1M54 149.5h1M59 149.5h1M61 149.5h1M6 150.5h1M12 150.5h1M14 150.5h2M17 150.5h1M32 150.5h1M39 150.5h1M42 150.5h1M44 150.5h1M56 150.5h1M58 150.5h1M61 150.5h1M66 150.5h1M70 150.5h1M73 150.5h1M5 151.5h2M13 151.5h3M18 151.5h1M23 151.5h2M37 151.5h2M53 151.5h2M5 152.5h1M10 152.5h1M17 152.5h1M21 152.5h1M25 152.5h2M30 152.5h1M32 152.5h1M42 152.5h1M44 152.5h1M50 152.5h1M57 152.5h1M59 152.5h1M64 152.5h1M13 153.5h1M21 153.5h1M26 153.5h1M31 153.5h1M44 153.5h1M46 153.5h1M50 153.5h1M52 153.5h1M57 153.5h1M65 153.5h1M41 154.5h1M48 154.5h2M64 154.5h1M30 155.5h1M32 155.5h1M36 155.5h1M47 155.5h1M54 155.5h1M56 155.5h1M31 156.5h2M47 156.5h1M50 156.5h1M56 156.5h2M16 157.5h1M42 157.5h1M45 157.5h1M59 157.5h1M22 158.5h1M40 158.5h2M51 158.5h1M70 158.5h1M31 159.5h1M34 159.5h2M54 159.5h1M72 159.5h1M29 160.5h1M43 160.5h2M48 160.5h1M19 161.5h1M35 161.5h2M16 162.5h1M30 162.5h1M34 162.5h1M41 162.5h3M54 162.5h1M2 163.5h1M31 163.5h1M51 163.5h1M2 164.5h1M6 164.5h1M32 164.5h1M43 164.5h1M66 164.5h1M29 165.5h2M49 165.5h1M55 165.5h1M62 165.5h1M42 166.5h1M47 166.5h1M75 166.5h1M40 167.5h1M2 168.5h1M6 168.5h1M36 168.5h1M48 168.5h1M56 168.5h2M68 168.5h1M2 169.5h1M19 169.5h1M30 169.5h1M41 169.5h1M46 169.5h1M36 170.5h1M31 171.5h1M40 171.5h1M42 171.5h1M33 172.5h1M49 172.5h1M53 172.5h1M31 173.5h1M34 173.5h1M45 173.5h1M48 173.5h2M53 173.5h1M19 174.5h1M31 174.5h1M44 174.5h1M47 174.5h1M30 175.5h1M34 175.5h2M41 175.5h1M48 175.5h1M57 175.5h1M19 176.5h1M34 176.5h1M43 176.5h1M53 176.5h1M58 176.5h1M2 177.5h1M16 177.5h1M31 177.5h1M45 177.5h1M22 178.5h2M30 178.5h1M40 178.5h1M43 178.5h1M49 178.5h1M51 178.5h1M60 178.5h1M70 178.5h1M36 179.5h1M40 179.5h1M42 179.5h1M48 179.5h2M56 179.5h1M34 180.5h3M56 180.5h1M29 181.5h1M34 181.5h1M45 181.5h1M50 181.5h1M54 181.5h1M56 181.5h1M63 181.5h1M2 182.5h1M11 182.5h1M43 182.5h2M48 182.5h1M56 182.5h1M64 182.5h2M48 183.5h1M56 183.5h1M70 183.5h1M8 184.5h1M15 184.5h1M34 184.5h1M41 184.5h1M44 184.5h1M46 184.5h1M6 185.5h1M22 185.5h1M32 185.5h1M42 185.5h1M51 185.5h1M54 185.5h1M60 185.5h1M6 186.5h1M22 186.5h1M30 186.5h1M35 186.5h1M51 186.5h1M58 186.5h1M64 186.5h2M30 187.5h1M34 187.5h1M41 187.5h1M50 187.5h1M53 187.5h1M71 187.5h1M19 188.5h1M56 188.5h1M69 188.5h1M2 189.5h1M41 189.5h1M49 189.5h1M62 189.5h1M66 189.5h1M11 190.5h1M35 190.5h1M40 190.5h1M50 190.5h2M2 191.5h1M9 191.5h1M23 191.5h1M34 191.5h1M46 191.5h1M53 191.5h1M57 191.5h1M23 192.5h1M30 192.5h1M40 192.5h1M44 192.5h1M48 192.5h2M11 193.5h1M16 193.5h1M41 193.5h2M6 194.5h1M15 194.5h2M30 194.5h2M55 194.5h1M11 195.5h1M16 195.5h1M41 195.5h2M61 195.5h2M9 196.5h1M16 196.5h1M30 196.5h1M40 196.5h1M49 196.5h2M53 196.5h1M57 196.5h1M69 196.5h1M75 196.5h1M6 197.5h1M10 197.5h1M16 197.5h1M32 197.5h1M36 197.5h1M42 197.5h1M51 197.5h1M58 197.5h2M11 198.5h1M31 198.5h2M35 198.5h1M43 198.5h1M49 198.5h1M57 198.5h2M61 198.5h1M69 198.5h1M2 199.5h1M29 199.5h1M42 199.5h1M48 199.5h2M69 199.5h2M29 200.5h1M34 200.5h1M48 200.5h1M71 200.5h1M48 201.5h1M29 202.5h1M40 202.5h1M48 202.5h1M57 202.5h1M2 203.5h1M19 203.5h1M22 203.5h1M30 203.5h1M56 203.5h1M2 204.5h1M16 204.5h1M19 204.5h1M43 204.5h1M6 205.5h1M30 205.5h1M54 205.5h1M56 205.5h1M74 205.5h1M44 206.5h1M50 206.5h1M54 206.5h1M63 206.5h1M19 207.5h1M32 207.5h1M50 207.5h1M61 207.5h1M16 208.5h1M19 208.5h1M31 208.5h1M40 208.5h1M61 208.5h1M32 209.5h1M46 209.5h1M48 209.5h1M51 209.5h1M74 209.5h1M23 210.5h1M30 210.5h1M36 210.5h1M40 210.5h1M48 210.5h2M51 210.5h1M9 211.5h1M22 211.5h1M31 211.5h2M51 211.5h1M19 212.5h1M31 212.5h1M41 212.5h1M55 212.5h1M65 212.5h1M22 213.5h1M34 213.5h2M40 213.5h2M2 214.5h1M35 214.5h1M61 214.5h1M21 215.5h1M29 215.5h2M32 215.5h1M41 215.5h2M61 215.5h2M7 216.5h1M10 216.5h2M21 216.5h1M29 216.5h1M74 216.5h1M46 217.5h1M50 217.5h1M2 218.5h1M29 218.5h1M40 218.5h1M45 218.5h1M47 218.5h1M55 218.5h1M48 219.5h1M63 219.5h1M69 219.5h1M72 219.5h1M32 220.5h1M43 220.5h1M49 220.5h1M63 220.5h1M70 220.5h1M2 221.5h1M29 221.5h2M42 221.5h1M48 221.5h1M66 221.5h1M4 222.5h2M34 222.5h1M56 222.5h1M63 222.5h1M5 223.5h1M38 223.5h1M40 223.5h1M48 223.5h1M59 223.5h1M5 224.5h1M19 224.5h1M55 224.5h1M59 224.5h1M3 225.5h1M24 225.5h1M41 225.5h1M47 225.5h1M23 226.5h2M30 226.5h1M34 226.5h1M41 226.5h1M43 226.5h1M47 226.5h1M50 226.5h1M29 227.5h1M41 227.5h1M44 227.5h1M48 227.5h2M2 228.5h1M30 228.5h1M43 228.5h1M46 228.5h1M54 228.5h3M2 229.5h1M19 229.5h1M35 229.5h1M47 229.5h1M53 229.5h2M43 230.5h2M63 230.5h1M70 230.5h1M74 230.5h1M19 231.5h1M22 231.5h1M43 231.5h1M49 231.5h1M54 231.5h2M65 231.5h1M2 232.5h1M10 232.5h1M30 232.5h1M43 232.5h1M49 232.5h1M51 232.5h1M56 232.5h1M64 232.5h1M10 233.5h1M32 233.5h1M52 233.5h1M54 233.5h1M64 233.5h1M13 234.5h1M22 234.5h1M24 234.5h1M26 234.5h1M42 234.5h1M2 235.5h1M19 235.5h1M29 235.5h1M32 235.5h1M41 235.5h1M45 235.5h1M49 235.5h1M55 235.5h1M11 236.5h1M19 236.5h1M22 236.5h1M24 236.5h1M45 236.5h1M47 236.5h1M50 236.5h1M2 237.5h1M11 237.5h1M41 237.5h1M50 237.5h1M54 237.5h1M56 237.5h1M60 237.5h1M7 238.5h1M19 238.5h1M23 238.5h1M50 238.5h1M53 238.5h1M55 238.5h2M58 238.5h1M23 239.5h1M30 239.5h1M35 239.5h1M41 239.5h1M48 239.5h1M54 239.5h2M15 240.5h1M22 240.5h1M40 240.5h1M49 240.5h1M2 241.5h1M16 241.5h1M31 241.5h1M41 241.5h1M50 241.5h1M56 241.5h1M67 241.5h1M29 242.5h1M31 242.5h1M35 242.5h1M40 242.5h2M47 242.5h1M49 242.5h1M51 242.5h1M53 242.5h1M65 242.5h1M23 243.5h1M32 243.5h1M43 243.5h1M47 243.5h1M53 243.5h1M58 243.5h1M24 244.5h1M41 244.5h1M43 244.5h1M46 244.5h1M63 244.5h1M6 245.5h1M9 245.5h1M21 245.5h1M43 245.5h1M45 245.5h1M48 245.5h1M9 246.5h2M19 246.5h1M29 246.5h1M45 246.5h1M55 246.5h1M18 247.5h1M20 247.5h1M29 247.5h1M31 247.5h1M62 247.5h1M38 248.5h1M53 248.5h3M60 248.5h2M63 248.5h1M3 249.5h1M18 249.5h1M22 249.5h1M41 249.5h1M62 249.5h1M2 250.5h1M41 250.5h1M44 250.5h1M46 250.5h2M60 250.5h1M65 250.5h1M40 251.5h2M55 251.5h2M64 251.5h1M10 252.5h2M17 252.5h2M21 252.5h1M29 252.5h1M39 252.5h2M43 252.5h1M64 252.5h2M18 253.5h1M20 253.5h2M29 253.5h1M53 253.5h2M25 254.5h1M31 254.5h2M45 254.5h2M53 254.5h2M58 254.5h1M73 254.5h1M75 254.5h1M10 255.5h1M17 255.5h1M30 255.5h2M40 255.5h1M51 255.5h1M55 255.5h1M2 256.5h2M29 256.5h1M46 256.5h1M51 256.5h2M54 256.5h1M61 256.5h1M67 256.5h1M21 257.5h1M38 257.5h1M40 257.5h1M46 257.5h1M56 257.5h1M62 257.5h1M66 257.5h1M72 257.5h2M11 258.5h1M25 258.5h1M41 258.5h1M48 258.5h1M55 258.5h1M17 259.5h1M21 259.5h1M24 259.5h1M50 259.5h1M57 259.5h1M63 259.5h1M29 260.5h1M49 260.5h2M57 260.5h1M65 260.5h1M69 260.5h2M24 261.5h2M30 261.5h1M36 261.5h1M38 261.5h2M70 261.5h1M18 262.5h1M22 262.5h1M41 262.5h1M10 263.5h1M18 263.5h1M22 263.5h2M31 263.5h2M66 263.5h1M68 263.5h1M22 264.5h1M39 264.5h1M51 264.5h1M55 264.5h1M3 265.5h1M40 265.5h1M56 265.5h1M60 265.5h1M67 265.5h1M3 266.5h1M20 266.5h3M25 266.5h1M32 266.5h1M38 266.5h1M8 267.5h1M10 267.5h1M32 267.5h1M38 267.5h1M40 267.5h1M48 267.5h2M69 267.5h1M3 268.5h1M20 268.5h1M30 268.5h1M49 268.5h1M55 268.5h2M64 268.5h1M43 269.5h1M55 269.5h1M61 269.5h2M65 269.5h1M3 270.5h1M11 270.5h1M18 270.5h1M25 270.5h1M29 270.5h2M64 270.5h1M21 271.5h1M23 271.5h3M37 271.5h2M47 271.5h1M55 271.5h1M57 271.5h1M68 271.5h1M72 271.5h1M9 272.5h1M11 272.5h1M23 272.5h2M38 272.5h1M40 272.5h1M67 272.5h1M74 272.5h1M8 273.5h2M11 273.5h1M25 273.5h1M29 273.5h1M31 273.5h1M46 273.5h1M66 273.5h1M70 273.5h1M19 274.5h1M21 274.5h1M24 274.5h1M29 274.5h2M41 275.5h1M67 275.5h1M32 276.5h1M68 276.5h1M73 276.5h1M6 277.5h3M19 277.5h1M21 277.5h1M30 277.5h1M39 277.5h2M54 277.5h2M68 277.5h1M20 278.5h1M29 278.5h1M41 278.5h1M48 278.5h1M50 278.5h1M53 278.5h1M55 278.5h1M12 279.5h1M17 279.5h1M21 279.5h1M25 279.5h1M29 279.5h1M31 279.5h2M38 279.5h2M41 279.5h1M47 279.5h1M50 279.5h1M57 279.5h2M62 279.5h1M67 279.5h1M22 280.5h1M29 280.5h1M46 280.5h1M50 280.5h1M60 280.5h3M66 280.5h1M68 280.5h1M75 280.5h1M2 281.5h1M20 281.5h1M24 281.5h1M30 281.5h1M44 281.5h1M62 281.5h1M71 281.5h1M74 281.5h1M24 282.5h1M50 282.5h1M61 282.5h1M63 282.5h1M43 283.5h1M48 283.5h1M51 283.5h1M53 283.5h1M19 284.5h1M38 284.5h1M45 284.5h1M59 284.5h1M6 285.5h1M20 285.5h1M24 285.5h1M29 285.5h1M64 285.5h1M68 285.5h1M3 286.5h1M17 286.5h1M21 286.5h1M23 286.5h1M31 286.5h1M44 286.5h1M49 286.5h1M70 286.5h1M72 286.5h2M18 287.5h1M25 287.5h1M29 287.5h1M39 287.5h1M49 287.5h2M56 287.5h1M68 287.5h1M22 288.5h2M25 288.5h1M31 288.5h1M51 288.5h1M61 288.5h1M17 289.5h1M32 289.5h1M58 289.5h1M61 289.5h1M10 290.5h1M19 290.5h1M30 290.5h1M48 290.5h1M56 290.5h1M18 291.5h2M21 291.5h1M29 291.5h2M32 291.5h1M39 291.5h1M49 291.5h3M59 291.5h2M2 292.5h1M8 292.5h1M18 292.5h1M35 292.5h1M40 292.5h1M46 292.5h1M49 292.5h1M57 292.5h1M62 292.5h1M65 292.5h1M2 293.5h1M9 293.5h1M24 293.5h1M38 293.5h1M40 293.5h1M55 293.5h1M63 293.5h2M11 294.5h1M17 294.5h1M21 294.5h1M33 294.5h3M46 294.5h2M9 295.5h1M15 295.5h1M20 295.5h1M37 295.5h1M41 295.5h2M55 295.5h1M24 296.5h1M26 296.5h1M29 296.5h1M39 296.5h2M42 296.5h1M55 296.5h1M8 297.5h1M40 297.5h1M45 297.5h1M12 298.5h1M14 298.5h1M19 298.5h1M22 298.5h1M12 299.5h1M14 299.5h1M17 299.5h1M40 299.5h4M47 299.5h2M7 300.5h1M14 300.5h1M32 300.5h1M46 300.5h1M8 301.5h1M12 301.5h1M46 301.5h1M51 301.5h1M36 302.5h1M52 302.5h1M2 303.5h2M6 303.5h1M12 303.5h1M14 303.5h1M16 303.5h1M20 303.5h1M22 303.5h1M26 303.5h1M36 303.5h1M46 303.5h1M48 303.5h1M52 303.5h1M14 304.5h1M21 304.5h1M52 304.5h1M8 305.5h1M12 305.5h1M17 305.5h1M21 305.5h1M27 305.5h1M39 305.5h1M45 305.5h1M48 305.5h1M50 305.5h3M16 306.5h1M23 306.5h1M29 306.5h2M45 306.5h1M16 307.5h2M20 307.5h1M27 307.5h1M31 307.5h1M40 307.5h2M47 307.5h1M49 307.5h2M16 308.5h1M24 308.5h1M28 308.5h2M41 308.5h1M44 308.5h1M47 308.5h1M12 309.5h1M15 309.5h1M17 309.5h1M45 309.5h1M51 309.5h1M6 310.5h1M13 310.5h2M22 310.5h1M25 310.5h1M39 310.5h2M8 311.5h1M20 311.5h1M40 311.5h2M7 312.5h1M10 312.5h2M22 312.5h1M36 312.5h1M43 312.5h1M18 313.5h1M21 313.5h1M23 313.5h1M36 313.5h1M40 313.5h1M42 313.5h1M56 313.5h1M18 314.5h1M34 314.5h1M4 315.5h1M8 315.5h1M11 315.5h1M26 315.5h1M28 315.5h1M39 315.5h1M45 315.5h1M48 315.5h1M54 315.5h1M3 316.5h1M7 316.5h2M12 316.5h1M14 316.5h1M26 316.5h1M39 316.5h1M51 316.5h1M3 317.5h1M8 317.5h1M25 317.5h1M34 317.5h1M51 317.5h1M6 318.5h1M48 318.5h1M50 318.5h1M4 319.5h1M7 319.5h1M15 319.5h1M27 319.5h1M34 319.5h1M49 319.5h2M7 320.5h2M14 320.5h1M16 320.5h2M43 320.5h1M45 320.5h1M51 320.5h1M54 320.5h1M4 321.5h2M12 321.5h1M17 321.5h1M22 321.5h1M36 321.5h1M48 321.5h2M5 322.5h2M18 322.5h1M50 322.5h1M9 323.5h1M11 323.5h5M20 323.5h1M26 323.5h1M45 323.5h2M49 323.5h1M52 323.5h1M54 323.5h1M4 324.5h2M7 324.5h1M9 324.5h1M15 324.5h1M26 324.5h1M36 324.5h1M43 324.5h1M46 324.5h1M49 324.5h1M54 324.5h2M7 325.5h1M26 325.5h1M45 325.5h1M55 325.5h1M6 326.5h1M13 326.5h1M15 326.5h1M23 326.5h1M29 326.5h1M38 326.5h1M51 326.5h1M54 326.5h1M4 327.5h1M16 327.5h1M21 327.5h1M27 327.5h1M35 327.5h1M45 327.5h1M48 327.5h2M51 327.5h1M54 327.5h1M48 328.5h2M51 328.5h1M55 328.5h1M16 329.5h1M31 329.5h1M36 329.5h1M48 329.5h1M53 329.5h1M5 330.5h1M7 330.5h1M11 330.5h1M27 330.5h2M30 330.5h1M5 331.5h1M9 331.5h1M11 331.5h1M21 331.5h1M23 331.5h1M41 331.5h1M46 331.5h1M51 331.5h1M17 332.5h1M28 332.5h1M40 332.5h1M45 332.5h1M52 332.5h1M20 333.5h2M27 333.5h1M29 333.5h1M47 333.5h1M52 333.5h1M4 334.5h1M14 334.5h1M25 334.5h1M28 334.5h1M31 334.5h1M33 334.5h1M40 334.5h1M50 334.5h1M4 335.5h1M7 335.5h1M24 335.5h1M26 335.5h1M30 335.5h1M33 335.5h1M47 335.5h1M52 335.5h1M3 336.5h1M5 336.5h1M8 336.5h2M27 336.5h1M31 336.5h2M35 336.5h1M38 336.5h1M40 336.5h1M51 336.5h1M2 337.5h1M5 337.5h1M14 337.5h1M16 337.5h1M18 337.5h1M25 337.5h1M27 337.5h1M45 337.5h1M47 337.5h2M50 337.5h1M53 337.5h1M6 338.5h1M38 338.5h1M49 338.5h2M24 339.5h1M27 339.5h1M34 339.5h1M41 339.5h1M45 339.5h2M49 339.5h2M16 340.5h1M24 340.5h1M39 340.5h1M52 340.5h1M8 341.5h2M27 341.5h2M45 341.5h1M51 341.5h2M9 342.5h1M28 342.5h1M47 342.5h1M56 342.5h1M8 343.5h2M20 343.5h1M32 343.5h1M37 343.5h2M51 343.5h1M3 344.5h1M10 344.5h1M22 344.5h1M30 344.5h1M32 344.5h1M36 344.5h1M47 344.5h1M52 344.5h1M11 345.5h1M36 345.5h1M40 345.5h2M46 345.5h1M49 345.5h1M52 345.5h1M13 346.5h2M21 346.5h1M33 346.5h1M36 346.5h1M45 346.5h1M52 346.5h1M4 347.5h1M10 347.5h1M19 347.5h1M26 347.5h1M48 347.5h1M7 348.5h1M10 348.5h2M50 348.5h1M52 348.5h1M21 349.5h1M27 349.5h1M30 349.5h2M36 349.5h1M55 349.5h1M3 350.5h1M5 350.5h1M10 350.5h1M17 350.5h1M55 350.5h1"/><path stroke="#150000" d="M33 0.5h1M48 0.5h1M57 0.5h1M70 0.5h1M3 1.5h1M53 1.5h1M7 2.5h1M15 3.5h2M21 3.5h2M30 3.5h1M35 3.5h1M63 3.5h4M68 3.5h1M53 4.5h1M57 4.5h1M59 4.5h1M70 4.5h1M6 5.5h1M12 5.5h1M23 5.5h1M33 5.5h3M60 5.5h1M2 6.5h1M12 6.5h2M15 6.5h1M22 6.5h1M27 6.5h1M33 6.5h1M57 6.5h1M6 7.5h2M28 7.5h1M46 7.5h1M49 7.5h1M2 8.5h1M19 8.5h1M46 8.5h1M53 8.5h1M65 8.5h1M68 8.5h1M73 8.5h1M2 9.5h2M29 9.5h1M33 9.5h1M49 9.5h1M53 9.5h1M57 9.5h1M24 10.5h1M31 10.5h1M36 10.5h1M40 10.5h1M70 10.5h1M75 10.5h1M7 11.5h1M25 11.5h1M34 11.5h1M74 11.5h1M28 12.5h1M45 12.5h1M49 12.5h1M63 12.5h1M65 12.5h1M67 12.5h1M73 12.5h1M27 13.5h1M29 13.5h1M31 13.5h3M58 13.5h1M60 13.5h2M67 13.5h1M29 14.5h1M41 14.5h1M60 14.5h1M31 15.5h2M40 15.5h1M49 15.5h1M58 15.5h3M67 15.5h2M29 16.5h1M45 16.5h1M64 16.5h1M68 16.5h1M72 16.5h1M7 17.5h1M35 17.5h1M44 17.5h1M46 17.5h1M3 18.5h2M34 18.5h1M55 18.5h1M59 18.5h1M35 19.5h1M54 19.5h1M56 19.5h1M58 19.5h1M65 19.5h1M67 19.5h1M5 20.5h1M7 20.5h1M24 20.5h1M44 20.5h1M62 20.5h1M67 20.5h1M2 21.5h1M7 21.5h1M34 21.5h2M55 21.5h1M57 21.5h1M67 21.5h1M72 21.5h1M6 22.5h1M18 22.5h1M35 22.5h2M45 22.5h1M47 22.5h1M53 22.5h1M67 22.5h1M69 22.5h2M74 22.5h1M7 23.5h1M24 23.5h1M36 23.5h1M39 23.5h1M54 23.5h1M2 24.5h2M21 24.5h1M30 24.5h1M55 24.5h1M3 25.5h1M24 25.5h1M29 25.5h2M32 25.5h1M35 25.5h1M56 25.5h1M59 25.5h1M61 25.5h1M9 26.5h1M22 26.5h1M28 26.5h1M30 26.5h1M35 26.5h1M55 26.5h2M58 26.5h1M62 26.5h1M72 26.5h1M10 27.5h1M35 27.5h1M60 27.5h1M70 27.5h2M3 28.5h1M6 28.5h1M14 28.5h1M41 28.5h1M45 28.5h1M49 28.5h1M61 28.5h1M3 29.5h1M26 29.5h2M53 29.5h1M66 29.5h1M75 29.5h1M8 30.5h1M10 30.5h1M15 30.5h1M29 30.5h1M31 30.5h2M34 30.5h1M53 30.5h1M59 30.5h1M62 30.5h1M66 30.5h1M68 30.5h1M3 31.5h2M46 31.5h1M53 31.5h1M66 31.5h1M2 32.5h2M36 32.5h1M39 32.5h1M50 32.5h1M53 32.5h1M63 32.5h2M33 33.5h1M61 33.5h1M67 33.5h2M3 34.5h1M7 34.5h1M11 34.5h1M22 34.5h1M27 34.5h1M32 34.5h1M51 34.5h1M54 34.5h1M69 34.5h1M73 34.5h1M4 35.5h1M28 35.5h1M46 35.5h1M68 35.5h1M73 35.5h1M75 35.5h1M5 36.5h1M9 36.5h1M11 36.5h1M27 36.5h1M32 36.5h1M54 36.5h1M61 36.5h1M63 36.5h1M67 36.5h1M74 36.5h1M17 37.5h1M22 38.5h1M29 38.5h1M55 38.5h1M58 38.5h1M61 38.5h1M34 39.5h1M57 39.5h2M66 39.5h1M71 39.5h2M3 40.5h1M7 40.5h1M15 40.5h1M17 40.5h1M62 40.5h1M74 40.5h1M13 41.5h1M15 41.5h1M19 41.5h2M54 41.5h1M48 42.5h1M72 42.5h1M74 42.5h1M3 43.5h1M20 43.5h1M49 43.5h2M3 44.5h1M7 44.5h1M23 44.5h1M25 44.5h2M35 44.5h1M64 44.5h1M73 44.5h1M2 45.5h1M5 45.5h1M19 45.5h2M35 45.5h1M49 45.5h1M63 45.5h1M4 46.5h1M14 46.5h1M16 46.5h1M21 46.5h2M66 46.5h1M70 46.5h1M7 47.5h1M16 47.5h1M29 47.5h1M34 47.5h1M72 47.5h1M2 48.5h2M15 48.5h3M21 48.5h1M27 48.5h1M32 48.5h1M62 48.5h1M64 48.5h1M66 48.5h1M73 48.5h1M12 49.5h1M16 49.5h1M20 49.5h1M23 49.5h1M32 49.5h1M47 49.5h1M52 49.5h1M64 49.5h1M71 49.5h1M5 50.5h2M12 50.5h1M30 50.5h1M62 50.5h1M74 50.5h1M23 51.5h1M26 51.5h1M34 51.5h2M55 51.5h1M62 51.5h1M69 51.5h1M2 52.5h1M11 52.5h1M25 52.5h1M63 52.5h1M66 52.5h1M3 53.5h1M17 53.5h1M24 53.5h1M27 53.5h1M29 53.5h1M67 53.5h1M69 53.5h1M3 54.5h1M7 54.5h1M13 54.5h1M15 54.5h1M34 54.5h1M49 54.5h1M56 54.5h1M62 54.5h1M8 55.5h1M10 55.5h1M18 55.5h1M20 55.5h1M35 55.5h1M53 55.5h1M68 55.5h1M72 55.5h1M6 56.5h1M12 56.5h1M18 56.5h1M16 57.5h2M20 57.5h1M22 57.5h1M25 57.5h1M27 57.5h1M32 57.5h1M46 57.5h1M50 57.5h1M53 57.5h1M72 57.5h1M2 58.5h1M16 58.5h1M23 58.5h1M33 58.5h2M47 58.5h2M51 58.5h1M71 58.5h1M75 58.5h1M9 59.5h1M23 59.5h1M36 59.5h1M45 59.5h1M66 59.5h1M4 60.5h2M8 60.5h1M15 60.5h2M18 60.5h1M22 60.5h1M31 60.5h3M54 60.5h1M67 60.5h1M2 61.5h2M20 61.5h1M49 61.5h1M54 61.5h1M62 61.5h1M9 62.5h1M33 62.5h2M47 62.5h1M55 62.5h1M73 62.5h1M8 63.5h1M10 63.5h1M45 63.5h1M47 63.5h1M72 63.5h1M75 63.5h1M5 64.5h1M27 64.5h1M36 64.5h1M39 64.5h1M73 64.5h1M12 65.5h1M21 65.5h1M73 65.5h1M5 66.5h1M9 66.5h1M11 66.5h1M26 66.5h1M46 66.5h1M54 66.5h2M67 66.5h1M75 66.5h1M20 67.5h1M30 67.5h1M63 67.5h1M66 67.5h1M68 67.5h1M2 68.5h1M10 68.5h1M12 68.5h1M15 68.5h1M17 68.5h1M35 68.5h1M52 68.5h1M56 68.5h1M65 68.5h1M13 69.5h1M28 69.5h1M35 69.5h1M53 69.5h1M74 69.5h1M6 70.5h1M9 70.5h1M23 70.5h1M27 70.5h1M29 70.5h1M70 70.5h1M73 70.5h1M21 71.5h2M53 71.5h1M56 71.5h1M65 71.5h1M10 72.5h1M54 72.5h1M65 72.5h1M29 73.5h2M53 73.5h1M64 73.5h1M67 73.5h2M3 74.5h1M6 74.5h1M19 74.5h1M23 74.5h1M40 74.5h1M50 74.5h1M54 74.5h1M73 74.5h1M75 74.5h1M26 75.5h1M50 75.5h1M28 76.5h1M34 76.5h1M49 76.5h1M53 76.5h1M8 77.5h1M11 77.5h1M24 77.5h1M31 77.5h1M52 77.5h1M55 77.5h2M69 77.5h2M6 78.5h2M20 78.5h1M29 78.5h1M74 78.5h1M6 79.5h1M19 79.5h1M33 79.5h2M44 79.5h1M6 80.5h1M8 80.5h1M34 80.5h2M54 80.5h1M60 80.5h2M75 80.5h1M4 81.5h1M7 81.5h1M13 81.5h1M17 81.5h1M22 81.5h4M44 81.5h1M55 81.5h1M61 81.5h1M66 81.5h1M3 82.5h2M10 82.5h1M16 82.5h1M50 82.5h1M69 82.5h1M16 83.5h1M36 83.5h1M45 83.5h2M48 83.5h1M75 83.5h1M3 84.5h1M16 84.5h1M27 84.5h2M35 84.5h1M50 84.5h1M53 84.5h1M63 84.5h1M8 85.5h1M26 85.5h1M31 85.5h1M47 85.5h1M53 85.5h1M71 85.5h1M5 86.5h1M7 86.5h2M21 86.5h1M33 86.5h3M52 86.5h2M64 86.5h1M17 87.5h1M21 87.5h1M33 87.5h2M60 87.5h1M64 87.5h1M71 87.5h1M12 88.5h1M17 88.5h1M45 88.5h1M55 88.5h2M62 88.5h1M70 88.5h2M12 89.5h1M20 89.5h1M27 89.5h1M33 89.5h1M35 89.5h1M55 89.5h1M60 89.5h1M68 89.5h1M16 90.5h1M44 90.5h1M54 90.5h1M69 90.5h1M75 90.5h1M2 91.5h1M5 91.5h1M10 91.5h2M25 91.5h1M63 91.5h1M5 92.5h1M19 92.5h1M27 92.5h1M67 92.5h1M28 93.5h1M31 93.5h1M36 93.5h1M14 94.5h1M22 94.5h1M31 94.5h2M2 95.5h1M6 95.5h2M11 95.5h1M17 95.5h1M22 95.5h1M28 95.5h1M32 95.5h1M36 95.5h1M44 95.5h1M9 96.5h2M18 96.5h1M22 96.5h1M32 96.5h1M54 96.5h1M11 97.5h2M23 97.5h1M54 97.5h3M63 97.5h1M11 98.5h1M15 98.5h1M33 98.5h1M51 98.5h1M63 98.5h1M66 98.5h1M10 99.5h2M27 99.5h1M13 100.5h2M18 100.5h1M24 100.5h2M34 100.5h1M36 100.5h1M38 100.5h1M55 100.5h1M65 100.5h1M2 101.5h1M8 101.5h1M27 101.5h1M33 101.5h1M41 101.5h1M51 101.5h1M55 101.5h1M2 102.5h1M11 102.5h1M32 102.5h1M62 102.5h1M73 102.5h1M15 103.5h2M39 103.5h1M41 103.5h1M50 103.5h1M61 103.5h1M63 103.5h1M68 103.5h2M4 104.5h1M8 104.5h1M11 104.5h1M19 104.5h1M51 104.5h1M58 104.5h1M61 104.5h1M63 104.5h1M68 104.5h2M4 105.5h1M15 105.5h1M20 105.5h1M27 105.5h1M33 105.5h1M66 105.5h1M15 106.5h1M20 106.5h1M22 106.5h1M28 106.5h1M42 106.5h1M57 106.5h1M61 106.5h1M64 106.5h1M42 107.5h1M62 107.5h4M9 108.5h1M21 108.5h1M23 108.5h1M49 108.5h1M67 108.5h1M22 109.5h1M26 109.5h1M42 109.5h1M51 109.5h1M75 109.5h1M10 110.5h1M29 110.5h1M39 110.5h1M45 110.5h1M54 110.5h2M10 111.5h1M13 111.5h1M23 111.5h1M28 111.5h1M53 111.5h1M24 112.5h1M36 112.5h1M44 112.5h1M51 112.5h1M62 112.5h2M16 113.5h1M42 113.5h1M8 114.5h1M28 114.5h1M45 114.5h1M51 114.5h1M53 114.5h2M10 115.5h1M18 115.5h1M25 115.5h1M36 115.5h1M40 115.5h2M57 115.5h1M69 115.5h1M4 116.5h1M12 116.5h2M20 116.5h1M53 116.5h1M67 116.5h1M70 116.5h1M7 117.5h1M9 117.5h1M17 117.5h1M34 117.5h1M71 117.5h1M13 118.5h1M20 118.5h1M26 118.5h1M32 118.5h2M43 118.5h1M51 118.5h1M56 118.5h1M64 118.5h1M12 119.5h1M14 119.5h1M19 119.5h1M50 119.5h1M59 119.5h1M19 120.5h1M22 120.5h1M27 120.5h1M29 120.5h1M40 120.5h1M43 120.5h1M55 120.5h1M61 120.5h1M65 120.5h1M69 120.5h1M73 120.5h1M9 121.5h1M12 121.5h1M21 121.5h1M23 121.5h1M26 121.5h1M47 121.5h1M61 121.5h2M65 121.5h1M69 121.5h2M21 122.5h1M46 122.5h1M63 122.5h1M66 122.5h1M14 123.5h1M29 123.5h1M40 123.5h1M42 123.5h1M67 123.5h1M8 124.5h1M15 124.5h1M30 124.5h1M39 124.5h1M61 124.5h2M4 125.5h1M13 125.5h1M18 125.5h1M51 125.5h1M59 125.5h1M61 125.5h1M63 125.5h1M9 126.5h1M41 126.5h2M62 126.5h1M69 126.5h2M10 127.5h1M12 127.5h2M15 127.5h1M18 127.5h1M51 127.5h1M59 127.5h1M70 127.5h1M3 128.5h1M62 128.5h1M5 129.5h1M10 129.5h1M22 129.5h1M29 129.5h1M41 129.5h1M54 129.5h1M57 129.5h1M60 129.5h1M67 129.5h1M7 130.5h1M20 130.5h1M23 130.5h1M30 130.5h1M45 130.5h1M52 130.5h1M5 131.5h1M14 131.5h2M20 131.5h1M38 131.5h1M41 131.5h2M45 131.5h1M56 131.5h1M58 131.5h1M13 132.5h1M16 132.5h1M19 132.5h1M38 132.5h1M42 132.5h1M46 132.5h1M52 132.5h1M61 132.5h2M70 132.5h1M72 132.5h1M3 133.5h1M26 133.5h1M30 133.5h2M52 133.5h1M57 133.5h1M69 133.5h1M72 133.5h1M5 134.5h1M52 134.5h1M54 134.5h1M56 134.5h1M62 134.5h1M67 134.5h1M2 135.5h2M6 135.5h2M10 135.5h1M23 135.5h1M55 135.5h1M62 135.5h1M70 135.5h1M3 136.5h1M7 136.5h1M23 136.5h1M38 136.5h1M41 136.5h1M54 136.5h2M62 136.5h1M69 136.5h1M14 137.5h1M21 137.5h1M41 137.5h1M48 137.5h1M62 137.5h1M70 137.5h1M2 138.5h1M6 138.5h1M8 138.5h1M10 138.5h1M21 138.5h1M23 138.5h1M32 138.5h1M48 138.5h2M51 138.5h1M10 139.5h1M28 139.5h1M39 139.5h1M61 139.5h1M2 140.5h1M13 140.5h1M30 140.5h1M66 140.5h1M3 141.5h1M17 141.5h1M28 141.5h1M31 141.5h1M39 141.5h1M51 141.5h1M63 141.5h1M4 142.5h1M8 142.5h1M12 142.5h1M19 142.5h2M22 142.5h1M47 142.5h1M49 142.5h1M11 143.5h1M39 143.5h1M42 143.5h1M46 143.5h1M51 143.5h1M53 143.5h1M3 144.5h1M12 144.5h2M26 144.5h1M39 144.5h1M53 144.5h1M70 144.5h1M11 145.5h1M28 145.5h1M55 145.5h2M61 145.5h2M25 146.5h1M40 146.5h1M42 146.5h1M44 146.5h1M4 147.5h1M13 147.5h1M18 147.5h1M20 147.5h1M41 147.5h1M43 147.5h1M50 147.5h1M70 147.5h1M12 148.5h1M14 148.5h1M22 148.5h1M44 148.5h1M49 148.5h1M53 148.5h1M40 149.5h1M49 149.5h1M53 149.5h1M55 149.5h1M58 149.5h1M60 149.5h1M69 149.5h1M2 150.5h1M10 150.5h2M23 150.5h1M62 150.5h1M69 150.5h1M74 150.5h1M4 151.5h1M7 151.5h1M12 151.5h1M26 151.5h1M31 151.5h1M36 151.5h1M42 151.5h1M46 151.5h2M51 151.5h1M55 151.5h2M69 151.5h1M6 152.5h1M12 152.5h3M19 152.5h1M46 152.5h1M51 152.5h1M66 152.5h1M70 152.5h1M4 153.5h1M9 153.5h1M16 153.5h1M38 153.5h1M40 153.5h1M49 153.5h1M55 153.5h1M63 153.5h1M69 153.5h1M46 154.5h1M50 154.5h1M54 154.5h1M56 154.5h1M61 154.5h1M66 154.5h1M75 154.5h1M29 155.5h1M46 155.5h1M50 155.5h1M53 155.5h1M55 155.5h1M59 155.5h1M63 155.5h1M29 156.5h1M40 156.5h2M43 156.5h1M46 156.5h1M51 156.5h1M54 156.5h1M58 156.5h1M19 157.5h1M22 157.5h1M30 157.5h1M40 157.5h1M51 157.5h1M53 157.5h1M58 157.5h1M66 157.5h1M69 157.5h1M71 157.5h1M45 158.5h2M53 158.5h1M56 158.5h1M58 158.5h1M6 159.5h1M32 159.5h1M41 159.5h1M47 159.5h1M52 159.5h2M71 159.5h1M73 159.5h1M30 160.5h1M35 160.5h1M42 160.5h1M49 160.5h1M51 160.5h1M54 160.5h2M67 160.5h1M16 161.5h1M43 161.5h2M49 161.5h1M53 161.5h2M56 161.5h1M63 161.5h1M44 162.5h1M51 162.5h1M60 162.5h1M64 162.5h2M74 162.5h1M43 163.5h1M48 163.5h1M72 163.5h1M31 164.5h1M44 164.5h1M50 164.5h1M57 164.5h1M44 165.5h1M47 165.5h1M58 165.5h1M60 165.5h1M64 165.5h1M70 165.5h1M73 165.5h1M75 165.5h1M44 166.5h1M50 166.5h1M61 166.5h2M42 167.5h1M45 167.5h1M47 167.5h1M49 167.5h3M58 167.5h2M65 167.5h3M73 167.5h1M40 168.5h1M42 168.5h1M54 168.5h1M58 168.5h2M65 168.5h2M72 168.5h1M36 169.5h1M40 169.5h1M50 169.5h1M54 169.5h1M57 169.5h1M74 169.5h1M30 170.5h1M42 170.5h1M47 170.5h1M50 170.5h1M73 170.5h1M30 171.5h1M34 171.5h1M36 171.5h1M43 171.5h2M53 171.5h1M31 172.5h2M34 172.5h1M42 172.5h1M44 172.5h2M47 172.5h2M2 173.5h1M30 173.5h1M35 173.5h1M42 173.5h1M44 173.5h1M46 173.5h2M34 174.5h1M41 174.5h2M45 174.5h2M50 174.5h2M19 175.5h1M45 175.5h2M53 175.5h1M60 175.5h1M29 176.5h1M35 176.5h1M44 176.5h1M47 176.5h3M57 176.5h1M68 176.5h1M73 176.5h2M30 177.5h1M43 177.5h2M48 177.5h1M56 177.5h1M61 177.5h2M72 177.5h1M2 178.5h1M15 178.5h1M32 178.5h1M46 178.5h1M50 178.5h1M53 178.5h1M55 178.5h1M41 179.5h1M55 179.5h1M23 180.5h1M43 180.5h2M53 180.5h1M66 180.5h1M40 181.5h2M65 181.5h1M49 182.5h1M52 182.5h1M63 182.5h1M16 183.5h1M43 183.5h2M47 183.5h1M49 183.5h1M53 183.5h1M62 183.5h1M67 183.5h1M71 183.5h1M6 184.5h1M43 184.5h1M50 184.5h1M59 184.5h1M61 184.5h1M70 184.5h2M41 185.5h1M43 185.5h2M50 185.5h1M55 185.5h1M57 185.5h1M45 186.5h3M50 186.5h1M52 186.5h1M55 186.5h1M57 186.5h1M59 186.5h1M42 187.5h1M46 187.5h1M51 187.5h1M55 187.5h1M57 187.5h1M30 188.5h1M40 188.5h3M50 188.5h1M53 188.5h1M60 188.5h2M71 188.5h1M6 189.5h1M35 189.5h1M40 189.5h1M51 189.5h1M53 189.5h1M56 189.5h1M70 189.5h1M74 189.5h1M41 190.5h2M46 190.5h1M58 190.5h1M41 191.5h1M58 191.5h1M72 191.5h1M15 192.5h2M22 192.5h1M51 192.5h1M53 192.5h1M59 192.5h1M22 193.5h1M30 193.5h2M36 193.5h1M44 193.5h1M53 193.5h1M55 193.5h1M62 193.5h1M40 194.5h1M44 194.5h1M46 194.5h2M50 194.5h1M62 194.5h1M69 194.5h1M15 195.5h1M29 195.5h1M47 195.5h1M50 195.5h1M58 195.5h1M60 195.5h1M68 195.5h1M74 195.5h1M29 196.5h1M44 196.5h1M47 196.5h1M51 196.5h1M59 196.5h1M72 196.5h1M30 197.5h1M43 197.5h1M45 197.5h1M48 197.5h2M62 197.5h1M69 197.5h1M74 197.5h1M30 198.5h1M40 198.5h2M44 198.5h1M47 198.5h1M55 198.5h2M60 198.5h1M71 198.5h1M16 199.5h1M35 199.5h1M43 199.5h2M50 199.5h1M54 199.5h1M56 199.5h3M73 199.5h1M42 200.5h1M55 200.5h3M64 200.5h1M69 200.5h1M36 201.5h1M40 201.5h2M45 201.5h1M56 201.5h4M64 201.5h1M68 201.5h1M22 202.5h1M41 202.5h1M45 202.5h2M49 202.5h1M55 202.5h2M67 202.5h1M16 203.5h1M23 203.5h1M42 203.5h1M45 203.5h1M49 203.5h1M54 203.5h1M61 203.5h1M40 204.5h2M44 204.5h1M46 204.5h1M49 204.5h1M54 204.5h2M63 204.5h1M65 204.5h2M68 204.5h1M72 204.5h1M74 204.5h1M40 205.5h1M48 205.5h1M51 205.5h1M53 205.5h1M67 205.5h3M72 205.5h1M30 206.5h1M41 206.5h1M46 206.5h1M55 206.5h3M65 206.5h1M67 206.5h2M72 206.5h1M15 207.5h1M30 207.5h1M42 207.5h1M46 207.5h2M60 207.5h1M62 207.5h1M41 208.5h1M46 208.5h1M57 208.5h3M30 209.5h1M41 209.5h2M47 209.5h1M49 209.5h1M58 209.5h2M62 209.5h2M67 209.5h1M31 210.5h1M42 210.5h1M44 210.5h1M46 210.5h1M54 210.5h1M63 210.5h1M65 210.5h1M19 211.5h1M30 211.5h1M35 211.5h1M45 211.5h1M47 211.5h1M49 211.5h1M74 211.5h1M32 212.5h1M34 212.5h1M45 212.5h1M51 212.5h1M31 213.5h2M45 213.5h1M54 213.5h1M31 214.5h2M60 214.5h1M62 214.5h1M73 214.5h1M22 215.5h1M31 215.5h1M49 215.5h1M58 215.5h2M66 215.5h1M23 216.5h1M30 216.5h1M40 216.5h1M46 216.5h2M54 216.5h1M62 216.5h1M72 216.5h1M32 217.5h1M41 217.5h1M44 217.5h1M53 217.5h4M64 217.5h1M30 218.5h1M46 218.5h1M50 218.5h1M63 218.5h2M71 218.5h1M30 219.5h1M40 219.5h2M51 219.5h1M53 219.5h1M64 219.5h1M68 219.5h1M40 220.5h1M44 220.5h1M53 220.5h1M66 220.5h1M41 221.5h1M49 221.5h1M63 221.5h1M70 221.5h2M43 222.5h1M45 222.5h1M54 222.5h1M67 222.5h1M34 223.5h2M43 223.5h1M42 224.5h1M50 224.5h1M58 224.5h1M22 225.5h1M30 225.5h1M45 225.5h2M48 225.5h1M66 225.5h1M68 225.5h1M73 225.5h1M44 226.5h2M53 226.5h1M72 226.5h1M40 227.5h1M43 227.5h1M45 227.5h3M54 227.5h1M66 227.5h1M68 227.5h1M53 228.5h1M72 228.5h2M75 228.5h1M45 229.5h1M56 229.5h1M58 229.5h1M73 229.5h2M34 230.5h2M45 230.5h2M48 230.5h1M51 230.5h1M65 230.5h1M2 231.5h1M44 231.5h4M51 231.5h1M53 231.5h1M63 231.5h1M66 231.5h1M35 232.5h1M44 232.5h1M54 232.5h1M67 232.5h1M9 233.5h1M25 233.5h1M29 233.5h1M31 233.5h1M56 233.5h1M63 233.5h1M65 233.5h1M19 234.5h1M29 234.5h2M45 234.5h1M47 234.5h1M49 234.5h1M51 234.5h1M60 234.5h1M63 234.5h1M66 234.5h1M68 234.5h1M24 235.5h1M30 235.5h1M42 235.5h1M46 235.5h3M54 235.5h1M56 235.5h1M31 236.5h2M40 236.5h1M43 236.5h1M55 236.5h1M60 236.5h1M62 236.5h1M65 236.5h1M74 236.5h1M9 237.5h2M24 237.5h1M31 237.5h2M42 237.5h1M45 237.5h2M51 237.5h1M62 237.5h1M31 238.5h2M42 238.5h1M54 238.5h1M61 238.5h1M72 238.5h1M74 238.5h1M24 239.5h1M40 239.5h1M51 239.5h1M69 239.5h1M8 240.5h1M16 240.5h1M24 240.5h1M41 240.5h2M44 240.5h1M53 240.5h1M56 240.5h1M72 240.5h1M23 241.5h1M43 241.5h1M48 241.5h2M51 241.5h1M64 241.5h1M6 242.5h1M23 242.5h1M30 242.5h1M32 242.5h1M44 242.5h1M46 242.5h1M50 242.5h1M56 242.5h1M68 242.5h1M71 242.5h1M29 243.5h2M41 243.5h1M56 243.5h1M64 243.5h1M23 244.5h1M40 244.5h1M50 244.5h1M56 244.5h1M24 245.5h1M29 245.5h1M46 245.5h1M50 245.5h1M55 245.5h1M61 245.5h1M63 245.5h1M69 245.5h1M2 246.5h2M21 246.5h1M24 246.5h1M32 246.5h1M48 246.5h1M58 246.5h1M63 246.5h1M65 246.5h1M71 246.5h1M17 247.5h1M21 247.5h2M46 247.5h2M60 247.5h1M64 247.5h1M18 248.5h5M24 248.5h1M34 248.5h1M40 248.5h1M51 248.5h1M65 248.5h1M8 249.5h1M20 249.5h2M40 249.5h1M44 249.5h2M53 249.5h1M55 249.5h1M64 249.5h1M10 250.5h1M18 250.5h1M45 250.5h1M51 250.5h1M56 250.5h1M2 251.5h1M9 251.5h1M11 251.5h1M22 251.5h2M25 251.5h1M29 251.5h1M65 251.5h1M53 252.5h1M55 252.5h1M63 252.5h1M68 252.5h1M75 252.5h1M9 253.5h1M25 253.5h1M35 253.5h1M44 253.5h2M57 253.5h1M60 253.5h1M63 253.5h1M66 253.5h2M75 253.5h1M8 254.5h2M17 254.5h1M30 254.5h1M44 254.5h1M48 254.5h1M11 255.5h1M25 255.5h1M32 255.5h1M44 255.5h1M48 255.5h2M53 255.5h2M57 255.5h1M61 255.5h1M70 255.5h1M72 255.5h1M21 256.5h2M40 256.5h1M47 256.5h1M62 256.5h1M70 256.5h1M73 256.5h1M10 257.5h1M17 257.5h1M19 257.5h1M22 257.5h1M25 257.5h1M9 258.5h1M21 258.5h1M46 258.5h2M66 258.5h1M72 258.5h2M75 258.5h1M3 259.5h1M10 259.5h2M18 259.5h2M22 259.5h1M46 259.5h1M72 259.5h1M9 260.5h1M38 260.5h1M44 260.5h2M48 260.5h1M56 260.5h1M58 260.5h1M64 260.5h1M22 261.5h2M29 261.5h1M72 261.5h1M74 261.5h1M19 262.5h1M25 262.5h1M29 262.5h1M45 262.5h1M56 262.5h1M59 262.5h1M67 262.5h2M70 262.5h1M72 262.5h1M9 263.5h1M20 263.5h1M29 263.5h1M47 263.5h1M55 263.5h1M67 263.5h1M9 264.5h2M18 264.5h1M23 264.5h2M45 264.5h2M50 264.5h1M63 264.5h1M65 264.5h3M10 265.5h2M19 265.5h2M25 265.5h1M41 265.5h1M49 265.5h1M55 265.5h1M62 265.5h1M9 266.5h1M24 266.5h1M29 266.5h1M48 266.5h1M54 266.5h2M57 266.5h1M64 266.5h2M74 266.5h1M2 267.5h2M21 267.5h1M44 267.5h1M47 267.5h1M56 267.5h1M68 267.5h1M17 268.5h1M32 268.5h1M45 268.5h1M54 268.5h1M59 268.5h2M65 268.5h1M74 268.5h1M17 269.5h1M24 269.5h1M31 269.5h1M41 269.5h1M49 269.5h1M63 269.5h1M69 269.5h1M72 269.5h2M32 270.5h1M38 270.5h1M41 270.5h1M45 270.5h1M49 270.5h2M70 270.5h1M3 271.5h1M9 271.5h1M11 271.5h1M32 271.5h1M54 271.5h1M10 272.5h1M18 272.5h2M21 272.5h2M25 272.5h1M30 272.5h2M48 272.5h2M65 272.5h1M73 272.5h1M17 273.5h1M30 273.5h1M32 273.5h1M44 273.5h1M49 273.5h2M55 273.5h1M64 273.5h1M68 273.5h2M71 273.5h1M17 274.5h1M44 274.5h1M47 274.5h2M53 274.5h1M66 274.5h1M69 274.5h2M17 275.5h1M23 275.5h1M30 275.5h1M32 275.5h1M44 275.5h1M49 275.5h1M51 275.5h1M59 275.5h1M66 275.5h1M72 275.5h1M18 276.5h1M44 276.5h1M48 276.5h1M57 276.5h2M66 276.5h2M72 276.5h1M74 276.5h1M17 277.5h1M35 277.5h1M46 277.5h1M48 277.5h1M56 277.5h1M59 277.5h1M74 277.5h1M19 278.5h1M31 278.5h1M44 278.5h1M51 278.5h1M68 278.5h2M23 279.5h1M30 279.5h1M45 279.5h1M48 279.5h2M53 279.5h2M60 279.5h1M70 279.5h1M75 279.5h1M2 280.5h1M18 280.5h1M20 280.5h1M23 280.5h3M31 280.5h1M38 280.5h1M48 280.5h1M67 280.5h1M69 280.5h1M19 281.5h1M22 281.5h2M50 281.5h1M59 281.5h1M72 281.5h1M75 281.5h1M22 282.5h1M44 282.5h1M51 282.5h1M53 282.5h1M62 282.5h1M64 282.5h1M71 282.5h1M17 283.5h1M21 283.5h3M25 283.5h1M50 283.5h1M58 283.5h1M64 283.5h1M3 284.5h1M22 284.5h2M46 284.5h1M49 284.5h1M56 284.5h2M63 284.5h1M3 285.5h1M38 285.5h1M46 285.5h1M49 285.5h3M53 285.5h1M65 285.5h1M18 286.5h1M29 286.5h1M46 286.5h1M51 286.5h1M58 286.5h1M63 286.5h1M2 287.5h1M19 287.5h2M30 287.5h1M44 287.5h1M59 287.5h1M64 287.5h1M72 287.5h2M2 288.5h2M18 288.5h1M21 288.5h1M57 288.5h1M60 288.5h1M62 288.5h2M74 288.5h1M2 289.5h1M11 289.5h1M19 289.5h3M23 289.5h1M30 289.5h1M54 289.5h3M17 290.5h2M21 290.5h1M24 290.5h1M32 290.5h1M51 290.5h1M53 290.5h1M58 290.5h1M61 290.5h1M65 290.5h1M3 291.5h1M23 291.5h1M41 291.5h1M56 291.5h1M58 291.5h1M11 292.5h1M17 292.5h1M31 292.5h1M38 292.5h2M41 292.5h1M53 292.5h1M56 292.5h1M3 293.5h1M10 293.5h2M44 293.5h1M47 293.5h1M53 293.5h1M72 293.5h1M7 294.5h1M9 294.5h1M16 294.5h1M22 294.5h1M25 294.5h1M31 294.5h1M37 294.5h1M44 294.5h1M52 294.5h1M16 295.5h1M26 295.5h2M29 295.5h1M31 295.5h1M38 295.5h1M43 295.5h1M7 296.5h1M12 296.5h2M16 296.5h1M19 296.5h1M28 296.5h1M31 296.5h2M46 296.5h1M3 297.5h1M12 297.5h1M18 297.5h1M25 297.5h1M30 297.5h1M32 297.5h1M39 297.5h1M47 297.5h1M15 298.5h3M20 298.5h1M36 298.5h1M40 298.5h1M43 298.5h1M48 298.5h1M52 298.5h1M13 299.5h1M20 299.5h1M39 299.5h1M3 300.5h1M6 300.5h1M8 300.5h1M13 300.5h1M26 300.5h1M30 300.5h2M42 300.5h2M6 301.5h1M14 301.5h1M16 301.5h1M20 301.5h1M22 301.5h1M40 301.5h2M44 301.5h2M14 302.5h2M23 302.5h1M25 302.5h1M28 302.5h2M33 302.5h1M40 302.5h2M15 303.5h1M24 303.5h1M28 303.5h1M35 303.5h1M2 304.5h1M13 304.5h1M16 304.5h1M19 304.5h2M22 304.5h1M24 304.5h4M29 304.5h1M44 304.5h6M14 305.5h1M16 305.5h1M22 305.5h1M24 305.5h1M26 305.5h1M54 305.5h1M8 306.5h1M14 306.5h2M17 306.5h3M33 306.5h1M36 306.5h1M39 306.5h1M44 306.5h1M13 307.5h1M18 307.5h1M25 307.5h1M32 307.5h1M34 307.5h3M44 307.5h1M52 307.5h1M17 308.5h1M20 308.5h1M25 308.5h1M31 308.5h1M36 308.5h1M40 308.5h1M48 308.5h4M6 309.5h1M14 309.5h1M20 309.5h1M27 309.5h1M41 309.5h1M49 309.5h2M18 310.5h1M21 310.5h1M27 310.5h1M34 310.5h1M48 310.5h3M54 310.5h1M18 311.5h2M21 311.5h1M39 311.5h1M50 311.5h1M19 312.5h1M27 312.5h1M39 312.5h3M56 312.5h1M2 313.5h1M4 313.5h1M27 313.5h1M44 313.5h3M2 314.5h1M8 314.5h1M10 314.5h2M13 314.5h1M16 314.5h2M21 314.5h2M33 314.5h1M36 314.5h1M39 314.5h1M41 314.5h1M49 314.5h2M5 315.5h1M7 315.5h1M13 315.5h2M22 315.5h1M27 315.5h1M40 315.5h1M44 315.5h1M46 315.5h1M5 316.5h2M13 316.5h1M15 316.5h1M28 316.5h1M55 316.5h1M4 317.5h1M6 317.5h1M12 317.5h1M14 317.5h1M40 317.5h1M46 317.5h1M49 317.5h1M52 317.5h1M4 318.5h1M13 318.5h1M15 318.5h2M21 318.5h2M24 318.5h1M34 318.5h1M40 318.5h2M45 318.5h2M52 318.5h1M6 319.5h1M8 319.5h1M16 319.5h2M20 319.5h1M28 319.5h1M41 319.5h1M46 319.5h1M48 319.5h1M51 319.5h1M6 320.5h1M12 320.5h1M29 320.5h1M34 320.5h1M36 320.5h1M39 320.5h3M46 320.5h1M52 320.5h1M7 321.5h1M13 321.5h1M15 321.5h1M20 321.5h2M23 321.5h1M33 321.5h1M42 321.5h1M51 321.5h1M12 322.5h2M15 322.5h2M21 322.5h1M35 322.5h1M7 323.5h1M10 323.5h1M23 323.5h1M29 323.5h1M44 323.5h1M48 323.5h1M8 324.5h1M10 324.5h2M16 324.5h1M45 324.5h1M48 324.5h1M13 325.5h1M17 325.5h1M19 325.5h1M24 325.5h2M33 325.5h1M35 325.5h1M49 325.5h1M12 326.5h1M16 326.5h1M36 326.5h1M44 326.5h1M52 326.5h1M7 327.5h1M14 327.5h1M17 327.5h1M22 327.5h1M41 327.5h2M4 328.5h1M14 328.5h1M46 328.5h1M52 328.5h1M9 329.5h2M19 329.5h1M22 329.5h1M50 329.5h1M3 330.5h1M10 330.5h1M12 330.5h1M22 330.5h3M29 330.5h1M48 330.5h2M53 330.5h1M3 331.5h1M10 331.5h1M14 331.5h1M29 331.5h1M33 331.5h1M36 331.5h1M39 331.5h1M47 331.5h1M2 332.5h1M10 332.5h1M15 332.5h1M22 332.5h1M27 332.5h1M29 332.5h1M32 332.5h1M48 332.5h1M5 333.5h1M8 333.5h1M22 333.5h2M26 333.5h1M28 333.5h1M30 333.5h1M6 334.5h2M12 334.5h1M19 334.5h1M24 334.5h1M26 334.5h1M30 334.5h1M35 334.5h2M10 335.5h2M13 335.5h1M19 335.5h1M35 335.5h2M39 335.5h1M50 335.5h2M6 336.5h1M11 336.5h2M15 336.5h1M17 336.5h1M19 336.5h1M21 336.5h2M24 336.5h2M41 336.5h1M47 336.5h1M4 337.5h1M6 337.5h2M13 337.5h1M17 337.5h1M19 337.5h5M28 337.5h3M33 337.5h1M35 337.5h1M46 337.5h1M49 337.5h1M52 337.5h1M3 338.5h2M11 338.5h2M17 338.5h1M19 338.5h1M25 338.5h1M29 338.5h1M8 339.5h1M12 339.5h1M21 339.5h2M26 339.5h1M39 339.5h1M20 340.5h1M28 340.5h1M35 340.5h1M49 340.5h1M51 340.5h1M10 341.5h1M13 341.5h1M33 341.5h1M41 341.5h1M50 341.5h1M11 342.5h1M14 342.5h1M25 342.5h1M27 342.5h1M29 342.5h2M34 342.5h1M40 342.5h1M44 342.5h1M46 342.5h1M49 342.5h1M6 343.5h1M12 343.5h1M16 343.5h1M22 343.5h1M24 343.5h1M26 343.5h2M29 343.5h1M31 343.5h1M41 343.5h1M46 343.5h2M15 344.5h1M19 344.5h2M24 344.5h1M45 344.5h1M48 344.5h1M51 344.5h1M14 345.5h1M19 345.5h1M44 345.5h2M56 345.5h1M2 346.5h1M11 346.5h2M19 346.5h1M23 346.5h1M34 346.5h1M39 346.5h3M47 346.5h2M55 346.5h1M5 347.5h2M8 347.5h1M14 347.5h1M21 347.5h1M45 347.5h1M50 347.5h3M8 348.5h1M12 348.5h2M19 348.5h1M27 348.5h1M31 348.5h1M33 348.5h1M40 348.5h1M45 348.5h1M51 348.5h1M2 349.5h1M16 349.5h2M39 349.5h1M41 349.5h1M47 349.5h1M16 350.5h1M32 350.5h1M34 350.5h1"/><path stroke="#200000" d="M32 0.5h1M35 0.5h1M61 0.5h1M69 0.5h1M74 0.5h1M7 1.5h2M27 1.5h3M35 1.5h1M46 1.5h1M55 1.5h1M75 1.5h1M20 2.5h1M52 2.5h1M56 2.5h1M58 2.5h1M69 2.5h1M20 3.5h1M32 3.5h1M58 3.5h2M67 3.5h1M6 4.5h1M28 4.5h1M33 4.5h1M58 4.5h1M69 4.5h1M8 5.5h1M10 5.5h1M14 5.5h3M22 5.5h1M70 5.5h3M7 6.5h1M23 6.5h1M61 6.5h1M64 6.5h1M3 7.5h1M23 7.5h1M33 7.5h1M48 7.5h1M63 7.5h1M65 7.5h1M70 7.5h1M6 8.5h1M28 8.5h1M34 8.5h1M49 8.5h1M52 8.5h1M61 8.5h1M63 8.5h1M24 9.5h2M30 10.5h1M32 10.5h1M39 10.5h1M41 10.5h1M69 10.5h1M8 11.5h1M18 11.5h1M64 11.5h1M68 11.5h1M72 11.5h1M24 12.5h1M31 12.5h1M72 12.5h1M9 13.5h1M54 13.5h1M56 13.5h1M59 13.5h1M62 13.5h1M68 13.5h2M74 13.5h1M35 14.5h1M59 14.5h1M74 14.5h2M5 15.5h1M35 15.5h2M64 15.5h1M73 15.5h1M75 15.5h1M62 16.5h2M6 17.5h1M16 17.5h1M28 17.5h1M33 17.5h1M53 17.5h3M60 17.5h2M66 17.5h1M2 18.5h1M7 18.5h1M9 18.5h1M21 18.5h1M32 18.5h2M40 18.5h1M58 18.5h1M60 18.5h1M62 18.5h1M66 18.5h1M70 18.5h1M6 19.5h1M11 19.5h1M21 19.5h2M28 19.5h1M49 19.5h1M62 19.5h1M73 19.5h1M75 19.5h1M25 20.5h1M28 20.5h1M54 20.5h2M61 20.5h1M66 20.5h1M73 20.5h1M8 21.5h1M16 21.5h1M20 21.5h1M26 21.5h1M28 21.5h2M44 21.5h1M53 21.5h2M56 21.5h1M58 21.5h1M64 21.5h2M68 21.5h1M74 21.5h1M5 22.5h1M33 22.5h2M57 22.5h1M62 22.5h2M72 22.5h1M40 23.5h1M55 23.5h1M65 23.5h2M74 23.5h1M9 24.5h1M11 24.5h1M26 24.5h1M29 24.5h1M46 24.5h1M65 24.5h2M70 24.5h1M74 24.5h1M5 25.5h1M28 25.5h1M55 25.5h1M63 25.5h1M65 25.5h2M68 25.5h2M73 25.5h1M4 26.5h2M8 26.5h1M14 26.5h1M16 26.5h2M60 26.5h2M66 26.5h1M75 26.5h1M2 27.5h1M4 27.5h3M11 27.5h1M30 27.5h1M45 27.5h1M66 27.5h1M9 28.5h1M63 28.5h1M75 28.5h1M9 29.5h2M29 29.5h2M34 29.5h1M63 29.5h1M73 29.5h1M5 30.5h2M17 30.5h1M35 30.5h1M63 30.5h1M74 30.5h1M62 31.5h1M72 31.5h1M44 32.5h1M49 32.5h1M61 32.5h1M67 32.5h1M69 32.5h1M71 32.5h1M9 33.5h1M32 33.5h1M30 34.5h1M34 34.5h1M36 34.5h1M46 34.5h1M55 34.5h1M7 35.5h1M21 35.5h2M31 35.5h1M33 35.5h1M66 35.5h2M74 35.5h1M2 36.5h1M18 36.5h1M55 36.5h1M72 36.5h2M5 37.5h1M10 37.5h1M24 37.5h1M56 37.5h1M67 37.5h3M73 37.5h2M31 38.5h1M60 38.5h1M69 38.5h3M73 38.5h1M3 39.5h1M7 39.5h1M63 39.5h1M28 40.5h1M30 40.5h1M33 40.5h1M35 40.5h1M44 40.5h1M56 40.5h2M64 40.5h3M68 40.5h1M71 40.5h3M7 41.5h1M12 41.5h1M18 41.5h1M30 41.5h1M57 41.5h1M61 41.5h1M71 41.5h3M75 41.5h1M7 42.5h1M13 42.5h1M19 42.5h1M60 42.5h1M15 43.5h1M31 43.5h1M33 43.5h2M20 44.5h1M30 44.5h1M32 44.5h1M61 44.5h1M63 44.5h1M28 45.5h1M31 45.5h1M34 45.5h1M55 45.5h1M64 45.5h1M73 45.5h3M2 46.5h1M6 46.5h1M18 46.5h1M29 46.5h1M60 46.5h1M63 46.5h2M17 47.5h1M27 47.5h1M30 47.5h2M36 47.5h1M54 47.5h1M64 47.5h1M66 47.5h1M7 48.5h1M30 48.5h1M56 48.5h1M72 48.5h1M9 49.5h2M15 49.5h1M21 49.5h1M29 49.5h1M68 49.5h2M18 50.5h1M21 50.5h1M23 50.5h1M60 50.5h2M63 50.5h1M69 50.5h1M71 50.5h1M4 51.5h1M6 51.5h1M31 51.5h2M63 51.5h1M65 51.5h1M19 52.5h1M34 52.5h1M67 52.5h1M20 53.5h1M25 53.5h2M51 53.5h1M56 53.5h1M62 53.5h1M74 53.5h1M2 54.5h1M4 54.5h1M8 54.5h1M36 54.5h1M73 54.5h1M13 55.5h1M15 55.5h1M34 55.5h1M45 55.5h1M49 55.5h1M56 55.5h1M62 55.5h1M65 55.5h1M7 56.5h1M15 56.5h1M19 56.5h1M26 56.5h1M28 56.5h2M63 56.5h1M4 57.5h1M12 57.5h1M15 57.5h1M45 57.5h1M6 58.5h2M46 58.5h1M56 58.5h1M62 58.5h1M10 59.5h2M17 59.5h1M19 59.5h1M29 59.5h1M47 59.5h1M49 59.5h1M55 59.5h2M7 60.5h1M9 60.5h2M17 60.5h1M19 60.5h1M25 60.5h1M49 60.5h1M7 61.5h1M18 61.5h1M27 61.5h2M33 61.5h1M45 61.5h1M2 62.5h1M15 62.5h1M21 62.5h1M35 62.5h1M49 62.5h1M64 62.5h1M74 62.5h2M4 63.5h1M18 63.5h1M22 63.5h1M25 63.5h1M29 63.5h1M53 63.5h1M66 63.5h2M7 64.5h1M13 64.5h1M21 64.5h1M26 64.5h1M29 64.5h1M47 64.5h1M53 64.5h1M55 64.5h1M13 65.5h1M20 65.5h1M34 65.5h1M53 65.5h1M30 66.5h1M63 66.5h1M2 67.5h1M7 67.5h1M9 67.5h1M11 67.5h1M27 67.5h1M56 67.5h1M65 67.5h1M71 67.5h1M73 67.5h1M16 68.5h1M34 68.5h1M36 68.5h1M70 68.5h1M73 68.5h2M17 69.5h1M29 69.5h1M55 69.5h1M63 69.5h1M65 69.5h1M2 70.5h1M17 70.5h1M56 70.5h1M62 70.5h2M8 71.5h1M14 71.5h1M25 71.5h2M64 71.5h1M5 72.5h1M7 72.5h1M56 72.5h1M63 72.5h2M2 73.5h1M10 73.5h1M18 73.5h1M72 73.5h1M74 74.5h1M7 75.5h1M23 75.5h1M28 75.5h1M53 75.5h1M63 75.5h1M73 75.5h2M6 76.5h1M8 76.5h2M20 76.5h3M3 77.5h1M18 77.5h1M23 77.5h1M28 77.5h1M35 77.5h1M44 77.5h1M63 77.5h1M71 77.5h1M2 78.5h1M19 78.5h1M21 78.5h1M30 78.5h1M49 78.5h1M71 78.5h1M11 79.5h1M26 79.5h1M31 79.5h1M54 79.5h1M67 80.5h1M6 81.5h1M28 81.5h2M31 81.5h2M52 81.5h3M56 81.5h1M65 81.5h1M8 82.5h1M13 82.5h1M18 82.5h1M22 82.5h1M32 82.5h1M36 82.5h1M48 82.5h1M63 82.5h1M73 82.5h1M6 83.5h1M12 83.5h2M26 83.5h1M35 83.5h1M49 83.5h1M51 83.5h1M61 83.5h1M18 84.5h1M22 84.5h1M30 84.5h1M34 84.5h1M45 84.5h1M75 84.5h1M3 85.5h1M5 85.5h2M22 85.5h1M32 85.5h1M35 85.5h1M17 86.5h3M7 87.5h1M22 87.5h2M40 87.5h1M68 87.5h3M3 88.5h1M34 88.5h2M21 89.5h1M51 89.5h1M70 89.5h1M6 90.5h1M10 90.5h1M17 90.5h1M26 90.5h1M29 90.5h1M31 90.5h1M35 90.5h1M53 90.5h1M62 90.5h1M67 90.5h1M4 91.5h1M28 91.5h1M30 91.5h1M32 91.5h1M34 91.5h1M66 91.5h1M10 92.5h1M15 92.5h1M22 92.5h1M34 92.5h1M3 93.5h1M10 93.5h1M19 93.5h2M22 93.5h1M25 93.5h1M62 93.5h1M7 94.5h1M15 94.5h1M19 94.5h1M60 94.5h1M4 95.5h1M9 95.5h1M15 95.5h1M30 95.5h1M70 95.5h1M19 96.5h3M36 96.5h1M50 96.5h1M63 96.5h1M69 96.5h1M8 97.5h1M19 97.5h2M67 97.5h2M9 98.5h2M12 98.5h2M26 98.5h1M29 98.5h1M38 98.5h1M69 98.5h1M5 99.5h1M9 99.5h1M15 99.5h1M23 99.5h3M29 99.5h1M33 99.5h1M36 99.5h1M51 99.5h1M63 99.5h1M65 99.5h1M4 100.5h1M10 100.5h1M35 100.5h1M62 100.5h1M9 101.5h1M14 101.5h1M26 101.5h1M34 101.5h1M69 101.5h1M10 102.5h1M14 102.5h1M27 102.5h3M35 102.5h2M54 102.5h1M56 102.5h1M69 102.5h1M9 103.5h1M13 103.5h1M19 103.5h2M49 103.5h1M55 103.5h1M5 104.5h1M13 104.5h1M15 104.5h1M21 104.5h1M40 104.5h1M45 104.5h2M48 104.5h1M55 104.5h1M5 105.5h1M24 105.5h1M48 105.5h1M67 105.5h1M69 105.5h1M12 106.5h1M48 106.5h1M50 106.5h1M53 106.5h1M14 107.5h1M21 107.5h1M49 107.5h1M61 107.5h1M3 108.5h1M12 108.5h1M22 108.5h1M53 108.5h1M72 108.5h1M4 109.5h1M20 109.5h1M23 109.5h1M53 109.5h1M55 109.5h1M63 109.5h1M69 109.5h1M24 110.5h1M26 110.5h2M40 110.5h1M66 110.5h1M70 110.5h2M6 111.5h1M14 111.5h1M21 111.5h1M46 111.5h1M64 111.5h1M66 111.5h1M70 111.5h1M21 112.5h1M30 112.5h1M33 113.5h1M49 113.5h1M61 113.5h2M70 113.5h1M10 114.5h1M23 114.5h2M38 114.5h1M55 114.5h1M63 114.5h1M69 114.5h1M9 115.5h1M26 115.5h2M38 115.5h1M56 115.5h1M63 115.5h1M66 115.5h1M68 115.5h1M70 115.5h1M14 116.5h1M25 116.5h1M54 116.5h1M62 116.5h1M69 116.5h1M12 117.5h1M16 117.5h1M28 117.5h1M51 117.5h1M62 117.5h1M70 117.5h1M11 118.5h1M19 118.5h1M24 118.5h1M29 118.5h1M53 118.5h1M57 118.5h1M3 119.5h1M9 119.5h1M39 119.5h1M43 119.5h1M49 119.5h1M3 120.5h1M5 120.5h1M12 120.5h2M48 120.5h2M52 120.5h1M66 120.5h1M71 120.5h1M8 121.5h1M10 121.5h1M19 121.5h2M29 121.5h1M48 121.5h1M15 122.5h1M28 122.5h1M47 122.5h1M69 122.5h1M17 123.5h1M20 123.5h3M48 123.5h2M53 123.5h1M55 123.5h1M62 123.5h1M4 124.5h1M23 124.5h1M45 124.5h1M49 124.5h1M39 125.5h1M42 125.5h1M45 125.5h2M52 125.5h1M54 125.5h2M69 125.5h2M2 126.5h2M20 126.5h1M53 126.5h1M60 126.5h1M64 126.5h1M2 127.5h1M14 127.5h1M23 127.5h1M2 128.5h1M12 128.5h1M19 128.5h1M24 128.5h1M48 128.5h1M53 128.5h1M69 128.5h1M32 129.5h1M47 129.5h1M52 129.5h1M66 129.5h1M69 129.5h1M21 130.5h1M32 130.5h1M46 130.5h1M56 130.5h1M58 130.5h2M2 131.5h1M12 131.5h1M40 131.5h1M47 131.5h1M21 132.5h1M23 132.5h1M26 132.5h1M43 132.5h1M60 132.5h1M9 133.5h1M19 133.5h1M29 133.5h1M42 133.5h1M48 133.5h1M50 133.5h1M54 133.5h1M56 133.5h1M23 134.5h2M26 134.5h1M49 134.5h1M61 134.5h1M13 135.5h1M43 135.5h1M53 135.5h1M10 136.5h1M21 136.5h1M31 136.5h1M64 136.5h1M68 136.5h1M70 136.5h1M2 137.5h2M7 137.5h1M11 137.5h2M27 137.5h2M67 137.5h1M27 138.5h3M41 138.5h1M66 138.5h1M3 139.5h1M7 139.5h1M53 139.5h1M6 140.5h1M18 140.5h1M22 140.5h1M39 140.5h1M65 140.5h1M2 141.5h1M6 141.5h1M20 141.5h2M23 141.5h1M25 141.5h1M30 141.5h1M48 141.5h1M61 141.5h1M3 142.5h1M13 142.5h1M26 142.5h1M40 142.5h1M52 142.5h1M56 142.5h1M3 143.5h1M25 143.5h1M47 143.5h1M49 143.5h1M60 143.5h1M62 143.5h1M14 144.5h1M44 144.5h1M52 144.5h1M9 145.5h1M12 145.5h1M41 145.5h1M19 146.5h2M24 146.5h1M38 146.5h1M53 146.5h1M23 147.5h1M47 147.5h1M53 147.5h1M55 147.5h1M4 148.5h1M42 148.5h2M48 148.5h1M56 148.5h1M5 149.5h1M9 149.5h1M12 149.5h3M23 149.5h1M5 150.5h1M8 150.5h1M26 150.5h1M37 150.5h1M54 150.5h1M19 151.5h2M70 151.5h1M73 151.5h1M7 152.5h1M11 152.5h1M24 152.5h1M53 152.5h1M69 152.5h1M3 153.5h1M15 153.5h1M23 153.5h1M25 153.5h1M53 153.5h1M64 153.5h1M40 154.5h1M45 154.5h1M47 154.5h1M51 154.5h1M62 154.5h1M67 154.5h2M70 154.5h2M41 155.5h1M57 155.5h1M65 155.5h1M69 155.5h1M75 155.5h1M30 156.5h1M61 156.5h1M75 156.5h1M43 157.5h1M46 157.5h1M55 157.5h1M70 157.5h1M73 157.5h1M43 158.5h1M47 158.5h1M57 158.5h1M66 158.5h1M68 158.5h1M71 158.5h2M75 158.5h1M42 159.5h1M46 159.5h1M66 159.5h2M34 160.5h1M40 160.5h2M56 160.5h1M68 160.5h1M75 160.5h1M40 161.5h1M46 161.5h1M52 161.5h1M55 161.5h1M64 161.5h2M48 162.5h2M53 162.5h1M55 162.5h2M61 162.5h1M67 162.5h1M30 163.5h1M44 163.5h1M50 163.5h1M53 163.5h1M56 163.5h2M62 163.5h4M67 163.5h2M40 164.5h2M51 164.5h1M58 164.5h1M63 164.5h1M67 164.5h2M45 165.5h1M51 165.5h1M53 165.5h1M59 165.5h1M61 165.5h1M63 165.5h1M66 165.5h1M68 165.5h2M71 165.5h2M43 166.5h1M45 166.5h2M51 166.5h1M53 166.5h3M58 166.5h1M64 166.5h4M70 166.5h1M63 167.5h2M68 167.5h2M19 168.5h1M45 168.5h2M49 168.5h1M44 169.5h1M70 169.5h1M73 169.5h1M40 170.5h1M43 170.5h1M45 170.5h2M51 170.5h1M58 170.5h2M70 170.5h3M45 171.5h1M47 171.5h2M69 171.5h2M73 171.5h2M30 172.5h1M43 172.5h1M46 172.5h1M50 172.5h2M66 172.5h1M70 172.5h1M72 172.5h2M43 173.5h1M50 173.5h1M67 173.5h1M69 173.5h2M74 173.5h1M35 174.5h1M43 174.5h1M53 174.5h1M64 174.5h2M74 174.5h2M42 175.5h1M51 175.5h1M61 175.5h3M65 175.5h1M46 176.5h1M59 176.5h1M63 176.5h1M67 176.5h1M41 177.5h1M46 177.5h1M53 177.5h1M58 177.5h3M66 177.5h1M70 177.5h2M73 177.5h1M16 178.5h1M47 178.5h1M62 178.5h1M68 178.5h1M73 178.5h1M44 179.5h1M61 179.5h2M65 179.5h1M67 179.5h1M22 180.5h1M45 180.5h2M50 180.5h1M52 180.5h1M62 180.5h2M67 180.5h2M72 180.5h1M74 180.5h1M67 181.5h1M50 182.5h1M55 182.5h1M57 182.5h1M61 182.5h1M66 182.5h1M68 182.5h1M70 182.5h1M45 183.5h2M50 183.5h2M58 183.5h1M66 183.5h1M69 183.5h1M16 184.5h1M45 184.5h1M47 184.5h1M60 184.5h1M62 184.5h2M69 184.5h1M40 185.5h1M53 185.5h1M58 185.5h1M61 185.5h1M64 185.5h2M60 186.5h1M68 186.5h1M70 186.5h1M73 186.5h1M45 187.5h1M52 187.5h1M58 187.5h4M69 187.5h1M6 188.5h1M46 188.5h1M57 188.5h1M59 188.5h1M62 188.5h1M70 188.5h1M34 189.5h1M44 189.5h1M50 189.5h1M55 189.5h1M58 189.5h1M67 189.5h2M71 189.5h1M2 190.5h1M34 190.5h1M45 190.5h1M52 190.5h1M56 190.5h2M59 190.5h1M64 190.5h1M66 190.5h1M71 190.5h1M73 190.5h2M43 191.5h3M47 191.5h1M50 191.5h1M52 191.5h1M56 191.5h1M59 191.5h1M73 191.5h2M43 192.5h1M45 192.5h1M56 192.5h1M62 192.5h1M64 192.5h2M72 192.5h1M43 193.5h1M48 193.5h1M51 193.5h2M56 193.5h1M65 193.5h1M68 193.5h2M73 193.5h1M41 194.5h2M54 194.5h1M56 194.5h1M60 194.5h2M64 194.5h1M70 194.5h3M74 194.5h1M43 195.5h1M45 195.5h2M54 195.5h1M65 195.5h1M69 195.5h2M73 195.5h1M43 196.5h1M55 196.5h1M62 196.5h1M67 196.5h1M71 196.5h1M73 196.5h1M44 197.5h1M52 197.5h2M60 197.5h2M72 197.5h1M75 197.5h1M74 198.5h1M41 199.5h1M59 199.5h3M71 199.5h2M40 200.5h2M43 200.5h1M46 200.5h1M50 200.5h1M58 200.5h1M63 200.5h1M65 200.5h1M70 200.5h1M72 200.5h1M75 200.5h1M16 201.5h1M42 201.5h1M51 201.5h1M54 201.5h2M63 201.5h1M66 201.5h2M69 201.5h1M71 201.5h1M16 202.5h1M42 202.5h1M47 202.5h1M58 202.5h3M63 202.5h1M70 202.5h1M73 202.5h1M48 203.5h1M50 203.5h1M53 203.5h1M55 203.5h1M64 203.5h1M73 203.5h2M45 204.5h1M47 204.5h2M56 204.5h4M71 204.5h1M41 205.5h1M46 205.5h1M59 205.5h1M63 205.5h1M66 205.5h1M71 205.5h1M75 205.5h1M59 206.5h1M66 206.5h1M73 206.5h2M31 207.5h1M40 207.5h1M43 207.5h1M45 207.5h1M53 207.5h1M57 207.5h1M64 207.5h1M70 207.5h1M72 207.5h1M74 207.5h1M45 208.5h1M47 208.5h1M49 208.5h2M63 208.5h1M71 208.5h1M73 208.5h2M50 209.5h1M52 209.5h2M56 209.5h2M60 209.5h2M64 209.5h1M66 209.5h1M68 209.5h1M72 209.5h1M32 210.5h1M45 210.5h1M50 210.5h1M57 210.5h1M60 210.5h1M70 210.5h1M74 210.5h1M46 211.5h1M55 211.5h1M72 211.5h1M46 212.5h1M53 212.5h1M63 213.5h1M68 213.5h1M75 213.5h1M45 214.5h1M54 214.5h1M65 214.5h1M74 214.5h1M40 215.5h1M43 215.5h1M47 215.5h1M50 215.5h1M55 215.5h1M60 215.5h1M63 215.5h1M72 215.5h1M74 215.5h1M42 216.5h2M45 216.5h1M51 216.5h1M53 216.5h1M56 216.5h3M60 216.5h2M73 216.5h1M43 217.5h1M51 217.5h2M63 217.5h1M65 217.5h1M73 217.5h2M41 218.5h1M43 218.5h1M53 218.5h1M56 218.5h1M58 218.5h1M65 218.5h2M69 218.5h2M72 218.5h3M46 219.5h1M52 219.5h1M65 219.5h1M70 219.5h2M41 220.5h1M48 220.5h1M67 220.5h2M71 220.5h1M43 221.5h1M45 221.5h3M57 221.5h3M61 221.5h1M65 221.5h1M67 221.5h1M69 221.5h1M53 222.5h1M55 222.5h1M58 222.5h1M64 222.5h3M68 222.5h1M42 223.5h1M63 223.5h1M68 223.5h1M74 223.5h1M44 224.5h1M48 224.5h1M54 224.5h1M57 224.5h1M64 224.5h1M50 225.5h1M55 225.5h2M58 225.5h2M62 225.5h1M69 225.5h1M71 225.5h1M75 225.5h1M40 226.5h1M46 226.5h1M52 226.5h1M54 226.5h1M56 226.5h1M70 226.5h2M73 226.5h1M50 227.5h1M52 227.5h1M67 227.5h1M69 227.5h2M73 227.5h2M47 228.5h1M51 228.5h1M66 228.5h3M46 229.5h1M49 229.5h1M57 229.5h1M63 229.5h1M69 229.5h2M72 229.5h1M2 230.5h1M47 230.5h1M50 230.5h1M53 230.5h1M64 230.5h1M69 230.5h1M50 231.5h1M57 231.5h1M64 231.5h1M70 231.5h1M72 231.5h2M50 232.5h1M53 232.5h1M60 232.5h2M63 232.5h1M74 232.5h1M11 233.5h1M30 233.5h1M47 233.5h1M49 233.5h3M62 233.5h1M73 233.5h1M75 233.5h1M31 234.5h2M48 234.5h1M61 234.5h2M67 234.5h1M72 234.5h2M75 234.5h1M53 235.5h1M57 235.5h1M62 235.5h1M69 235.5h1M71 235.5h1M53 236.5h1M69 236.5h1M73 236.5h1M23 237.5h1M44 237.5h1M53 237.5h1M55 237.5h1M57 237.5h1M61 237.5h1M63 237.5h1M72 237.5h3M30 238.5h1M46 238.5h2M51 238.5h2M57 238.5h1M59 238.5h2M62 238.5h1M65 238.5h1M69 238.5h3M45 239.5h1M47 239.5h1M50 239.5h1M59 239.5h1M61 239.5h1M71 239.5h2M74 239.5h1M23 240.5h1M43 240.5h1M45 240.5h1M50 240.5h1M55 240.5h1M73 240.5h3M30 241.5h1M55 241.5h1M60 241.5h1M62 241.5h2M65 241.5h2M75 241.5h1M52 242.5h1M54 242.5h1M57 242.5h2M69 242.5h2M74 242.5h2M54 243.5h2M59 243.5h2M68 243.5h3M75 243.5h1M44 244.5h1M54 244.5h2M58 244.5h1M60 244.5h1M64 244.5h2M73 244.5h1M75 244.5h1M41 245.5h1M47 245.5h1M51 245.5h1M54 245.5h1M56 245.5h1M64 245.5h2M70 245.5h1M22 246.5h1M46 246.5h2M49 246.5h3M54 246.5h1M60 246.5h2M70 246.5h1M75 246.5h1M3 247.5h1M19 247.5h1M24 247.5h1M44 247.5h1M50 247.5h2M53 247.5h1M57 247.5h2M75 247.5h1M49 248.5h2M74 248.5h2M9 249.5h2M17 249.5h1M23 249.5h1M51 249.5h1M58 249.5h1M61 249.5h1M65 249.5h1M9 250.5h1M19 250.5h2M48 250.5h1M52 250.5h2M69 250.5h1M71 250.5h1M10 251.5h1M24 251.5h1M51 251.5h1M53 251.5h1M58 251.5h1M60 251.5h2M66 251.5h1M70 251.5h1M9 252.5h1M19 252.5h1M22 252.5h1M54 252.5h1M58 252.5h1M2 253.5h1M11 253.5h1M22 253.5h1M47 253.5h1M49 253.5h1M51 253.5h1M58 253.5h2M68 253.5h2M72 253.5h1M2 254.5h1M29 254.5h1M49 254.5h3M60 254.5h1M68 254.5h2M72 254.5h1M74 254.5h1M52 255.5h1M58 255.5h2M63 255.5h1M73 255.5h2M17 256.5h1M19 256.5h1M23 256.5h1M44 256.5h1M48 256.5h2M65 256.5h1M68 256.5h1M74 256.5h2M8 257.5h2M51 257.5h1M54 257.5h1M74 257.5h2M3 258.5h1M10 258.5h1M22 258.5h1M44 258.5h1M57 258.5h2M62 258.5h1M67 258.5h2M2 259.5h1M8 259.5h1M49 259.5h1M55 259.5h2M64 259.5h1M66 259.5h1M68 259.5h4M73 259.5h1M2 260.5h2M10 260.5h2M46 260.5h2M51 260.5h1M54 260.5h2M63 260.5h1M67 260.5h1M71 260.5h1M74 260.5h1M3 261.5h1M56 261.5h2M59 261.5h1M63 261.5h1M71 261.5h1M3 262.5h1M11 262.5h1M20 262.5h1M24 262.5h1M54 262.5h1M57 262.5h2M64 262.5h1M66 262.5h1M69 262.5h1M71 262.5h1M73 262.5h1M3 263.5h1M25 263.5h1M45 263.5h1M48 263.5h1M50 263.5h1M56 263.5h1M59 263.5h1M65 263.5h1M69 263.5h1M19 264.5h1M30 264.5h1M32 264.5h1M48 264.5h1M54 264.5h1M56 264.5h1M68 264.5h3M75 264.5h1M18 265.5h1M21 265.5h1M24 265.5h1M31 265.5h1M39 265.5h1M46 265.5h1M53 265.5h1M65 265.5h1M68 265.5h4M75 265.5h1M17 266.5h3M31 266.5h1M49 266.5h1M56 266.5h1M60 266.5h3M67 266.5h1M71 266.5h1M22 267.5h1M30 267.5h2M46 267.5h1M54 267.5h2M61 267.5h2M64 267.5h1M70 267.5h1M75 267.5h1M46 268.5h3M50 268.5h1M53 268.5h1M63 268.5h1M70 268.5h2M3 269.5h1M47 269.5h1M58 269.5h1M60 269.5h1M64 269.5h1M68 269.5h1M70 269.5h1M17 270.5h1M55 270.5h1M60 270.5h1M63 270.5h1M66 270.5h1M17 271.5h1M19 271.5h1M29 271.5h1M40 271.5h2M45 271.5h2M49 271.5h1M59 271.5h1M65 271.5h3M2 272.5h2M41 272.5h1M44 272.5h1M50 272.5h1M57 272.5h3M63 272.5h1M71 272.5h1M18 273.5h1M20 273.5h3M47 273.5h2M53 273.5h2M57 273.5h1M59 273.5h2M63 273.5h1M65 273.5h1M72 273.5h1M75 273.5h1M32 274.5h1M46 274.5h1M49 274.5h1M60 274.5h1M62 274.5h1M64 274.5h2M68 274.5h1M18 275.5h1M20 275.5h1M22 275.5h1M31 275.5h1M38 275.5h1M50 275.5h1M53 275.5h1M57 275.5h1M70 275.5h1M73 275.5h2M17 276.5h1M46 276.5h1M50 276.5h1M55 276.5h1M59 276.5h2M49 277.5h1M58 277.5h1M61 277.5h2M66 277.5h1M73 277.5h1M3 278.5h1M25 278.5h1M46 278.5h1M49 278.5h1M58 278.5h1M60 278.5h1M67 278.5h1M70 278.5h2M74 278.5h1M24 279.5h1M56 279.5h1M59 279.5h1M61 279.5h1M66 279.5h1M68 279.5h1M51 280.5h1M25 281.5h1M51 281.5h1M55 281.5h1M58 281.5h1M65 281.5h1M68 281.5h1M70 281.5h1M73 281.5h1M17 282.5h1M48 282.5h1M57 282.5h1M59 282.5h1M69 282.5h1M72 282.5h2M2 283.5h1M56 283.5h1M61 283.5h2M70 283.5h1M73 283.5h1M75 283.5h1M2 284.5h1M24 284.5h1M47 284.5h2M51 284.5h2M62 284.5h1M65 284.5h1M71 284.5h1M2 285.5h1M56 285.5h3M67 285.5h1M74 285.5h1M20 286.5h1M22 286.5h1M47 286.5h2M54 286.5h2M57 286.5h1M60 286.5h1M65 286.5h2M68 286.5h1M75 286.5h1M53 287.5h1M57 287.5h1M65 287.5h2M74 287.5h2M44 288.5h1M47 288.5h1M50 288.5h1M58 288.5h1M65 288.5h1M3 289.5h1M18 289.5h1M22 289.5h1M31 289.5h1M46 289.5h1M48 289.5h1M50 289.5h1M62 289.5h1M65 289.5h1M11 290.5h1M25 290.5h1M45 290.5h1M49 290.5h2M59 290.5h1M63 290.5h1M2 291.5h1M25 291.5h1M54 291.5h1M61 291.5h3M68 291.5h1M71 291.5h1M3 292.5h1M21 292.5h2M44 292.5h1M51 292.5h1M54 292.5h1M74 292.5h1M21 293.5h2M41 293.5h1M50 293.5h1M54 293.5h1M58 293.5h2M3 294.5h1M6 294.5h1M12 294.5h4M18 294.5h1M23 294.5h2M26 294.5h1M28 294.5h1M32 294.5h1M39 294.5h1M48 294.5h1M3 295.5h1M6 295.5h1M14 295.5h1M17 295.5h3M23 295.5h1M25 295.5h1M47 295.5h1M3 296.5h2M6 296.5h1M8 296.5h1M14 296.5h1M18 296.5h1M20 296.5h2M25 296.5h1M27 296.5h1M41 296.5h1M44 296.5h2M47 296.5h1M49 296.5h1M6 297.5h2M13 297.5h1M15 297.5h1M28 297.5h2M46 297.5h1M13 298.5h1M21 298.5h1M28 298.5h2M35 298.5h1M46 298.5h2M49 298.5h1M2 299.5h1M4 299.5h2M16 299.5h1M18 299.5h1M21 299.5h1M23 299.5h1M36 299.5h1M49 299.5h2M12 300.5h1M15 300.5h1M17 300.5h1M24 300.5h1M45 300.5h1M52 300.5h1M2 301.5h1M7 301.5h1M17 301.5h1M26 301.5h1M30 301.5h2M39 301.5h1M47 301.5h3M13 302.5h1M16 302.5h1M19 302.5h1M21 302.5h2M35 302.5h1M39 302.5h1M47 302.5h1M51 302.5h1M8 303.5h1M18 303.5h2M23 303.5h1M27 303.5h1M29 303.5h1M45 303.5h1M50 303.5h2M2 305.5h2M6 305.5h2M13 305.5h1M15 305.5h1M19 305.5h1M25 305.5h1M29 305.5h1M31 305.5h1M33 305.5h4M41 305.5h1M47 305.5h1M7 306.5h1M12 306.5h1M20 306.5h1M24 306.5h2M27 306.5h1M32 306.5h1M34 306.5h1M46 306.5h3M19 307.5h1M26 307.5h1M30 307.5h1M14 308.5h1M27 308.5h1M3 309.5h1M5 309.5h1M8 309.5h1M16 309.5h1M21 309.5h1M23 309.5h1M36 309.5h1M39 309.5h2M46 309.5h1M52 309.5h1M7 310.5h1M15 310.5h2M20 310.5h1M28 310.5h1M36 310.5h1M44 310.5h1M46 310.5h1M12 311.5h3M34 311.5h1M44 311.5h1M47 311.5h1M49 311.5h1M2 312.5h1M4 312.5h1M18 312.5h1M29 312.5h1M44 312.5h2M7 313.5h1M13 313.5h1M17 313.5h1M20 313.5h1M29 313.5h1M34 313.5h1M48 313.5h1M51 313.5h1M4 314.5h1M24 314.5h1M51 314.5h1M2 315.5h2M6 315.5h1M18 315.5h1M21 315.5h1M23 315.5h2M51 315.5h1M4 316.5h1M10 316.5h1M17 316.5h1M19 316.5h1M27 316.5h1M45 316.5h2M52 316.5h1M2 317.5h1M13 317.5h1M24 317.5h1M26 317.5h1M35 317.5h2M48 317.5h1M17 318.5h1M23 318.5h1M28 318.5h1M35 318.5h1M49 318.5h1M12 319.5h1M18 319.5h2M21 319.5h1M30 319.5h1M33 319.5h1M44 319.5h1M4 320.5h2M15 320.5h1M18 320.5h2M21 320.5h1M28 320.5h1M44 320.5h1M14 321.5h1M18 321.5h2M24 321.5h1M30 321.5h1M39 321.5h1M41 321.5h1M44 321.5h1M46 321.5h2M52 321.5h1M7 322.5h1M22 322.5h1M27 322.5h3M31 322.5h1M39 322.5h2M45 322.5h1M48 322.5h1M51 322.5h2M3 323.5h1M6 323.5h1M21 323.5h1M25 323.5h1M28 323.5h1M41 323.5h1M6 324.5h1M12 324.5h2M20 324.5h1M22 324.5h1M25 324.5h1M30 324.5h1M39 324.5h3M44 324.5h1M47 324.5h1M10 325.5h1M15 325.5h1M21 325.5h1M29 325.5h2M39 325.5h1M42 325.5h2M48 325.5h1M51 325.5h2M14 326.5h1M17 326.5h1M22 326.5h1M24 326.5h1M26 326.5h1M32 326.5h1M50 326.5h1M6 327.5h1M23 327.5h1M33 327.5h2M36 327.5h1M8 328.5h1M11 328.5h1M15 328.5h1M22 328.5h2M27 328.5h1M34 328.5h1M36 328.5h1M42 328.5h4M2 329.5h1M6 329.5h1M11 329.5h1M14 329.5h1M17 329.5h1M21 329.5h1M24 329.5h2M45 329.5h3M52 329.5h1M8 330.5h1M13 330.5h1M21 330.5h1M44 330.5h1M46 330.5h1M50 330.5h3M2 331.5h1M8 331.5h1M12 331.5h2M19 331.5h1M22 331.5h1M28 331.5h1M30 331.5h1M45 331.5h1M52 331.5h1M3 332.5h1M8 332.5h1M11 332.5h1M18 332.5h1M31 332.5h1M33 332.5h1M36 332.5h1M3 333.5h2M9 333.5h2M24 333.5h1M31 333.5h2M36 333.5h1M51 333.5h1M8 334.5h1M13 334.5h1M20 334.5h1M22 334.5h2M29 334.5h1M39 334.5h1M17 335.5h1M22 335.5h2M25 335.5h1M31 335.5h2M40 335.5h2M2 336.5h1M7 336.5h1M14 336.5h1M20 336.5h1M29 336.5h1M34 336.5h1M44 336.5h1M46 336.5h1M3 337.5h1M8 337.5h1M11 337.5h1M15 337.5h1M2 338.5h1M5 338.5h1M8 338.5h1M21 338.5h1M23 338.5h1M30 338.5h1M44 338.5h3M48 338.5h1M52 338.5h1M6 339.5h1M15 339.5h5M23 339.5h1M40 339.5h1M52 339.5h1M17 340.5h1M27 340.5h1M29 340.5h1M40 340.5h1M55 340.5h1M3 341.5h1M5 341.5h1M21 341.5h1M29 341.5h1M31 341.5h1M35 341.5h1M39 341.5h1M46 341.5h1M49 341.5h1M5 342.5h1M17 342.5h3M22 342.5h1M35 342.5h1M51 342.5h2M2 343.5h1M4 343.5h2M13 343.5h1M15 343.5h1M28 343.5h1M30 343.5h1M34 343.5h2M39 343.5h2M8 344.5h1M13 344.5h1M17 344.5h1M25 344.5h3M4 345.5h2M7 345.5h2M12 345.5h1M16 345.5h1M18 345.5h1M23 345.5h1M47 345.5h2M5 346.5h2M16 346.5h1M18 346.5h1M24 346.5h3M35 346.5h1M54 346.5h1M11 347.5h3M18 347.5h1M22 347.5h1M25 347.5h1M32 347.5h1M34 347.5h1M36 347.5h1M39 347.5h3M46 347.5h2M2 348.5h1M6 348.5h1M14 348.5h2M18 348.5h1M25 348.5h2M36 348.5h1M6 349.5h1M9 349.5h1M11 349.5h4M18 349.5h1M23 349.5h1M25 349.5h2M29 349.5h1M40 349.5h1M7 350.5h1M12 350.5h1M49 350.5h1M52 350.5h1"/><path stroke="#2a0000" d="M11 0.5h1M53 0.5h1M62 0.5h1M33 1.5h1M52 1.5h1M63 1.5h1M69 1.5h2M73 1.5h1M3 2.5h1M33 2.5h1M35 2.5h1M66 2.5h1M68 2.5h1M70 2.5h1M74 2.5h2M6 3.5h2M52 3.5h1M56 3.5h1M60 3.5h1M74 3.5h1M7 4.5h1M13 4.5h1M15 4.5h1M52 4.5h1M55 4.5h1M60 4.5h1M73 4.5h1M2 5.5h1M63 5.5h3M68 5.5h2M74 5.5h2M8 6.5h1M28 6.5h2M36 6.5h1M53 6.5h1M62 6.5h2M69 6.5h2M72 6.5h1M52 7.5h1M73 7.5h1M3 8.5h1M7 8.5h1M29 8.5h1M74 8.5h2M7 9.5h1M64 9.5h3M2 10.5h1M8 10.5h1M55 10.5h1M58 10.5h1M62 10.5h1M65 10.5h1M72 10.5h1M20 11.5h1M55 11.5h1M56 12.5h1M22 13.5h1M26 13.5h1M49 13.5h1M66 13.5h1M73 13.5h1M9 14.5h1M33 14.5h2M46 14.5h1M67 14.5h2M34 15.5h1M41 15.5h1M61 15.5h1M3 16.5h1M10 16.5h1M26 16.5h1M53 16.5h1M27 17.5h1M29 17.5h2M64 17.5h1M70 17.5h1M72 17.5h1M10 18.5h1M9 19.5h1M29 19.5h1M31 19.5h1M48 19.5h1M69 19.5h1M3 20.5h1M34 20.5h1M56 20.5h1M63 20.5h2M70 20.5h1M59 21.5h1M69 21.5h1M11 22.5h1M20 22.5h1M31 22.5h1M52 22.5h1M59 22.5h1M61 22.5h1M68 22.5h1M73 22.5h1M2 23.5h1M6 23.5h1M20 23.5h1M31 23.5h1M57 23.5h3M64 23.5h1M68 23.5h1M31 24.5h1M63 24.5h1M9 25.5h2M21 25.5h1M23 25.5h1M31 25.5h1M62 25.5h1M6 26.5h1M32 26.5h2M54 26.5h1M59 26.5h1M63 26.5h1M74 26.5h1M8 27.5h1M31 27.5h1M34 27.5h1M75 27.5h1M4 28.5h1M36 28.5h1M52 28.5h2M66 28.5h1M52 29.5h1M59 29.5h1M74 29.5h1M27 30.5h1M52 30.5h1M55 30.5h1M65 30.5h1M7 31.5h1M33 31.5h1M40 31.5h1M71 31.5h1M7 32.5h1M35 32.5h1M41 32.5h1M48 32.5h1M73 32.5h2M2 33.5h1M7 33.5h1M62 33.5h1M8 34.5h1M62 34.5h1M6 35.5h1M61 35.5h1M4 36.5h1M6 36.5h2M14 36.5h1M19 36.5h1M35 36.5h1M68 36.5h1M15 37.5h1M26 37.5h1M31 37.5h1M53 37.5h1M55 37.5h1M64 37.5h1M70 37.5h1M3 38.5h1M15 38.5h1M17 38.5h1M28 38.5h1M62 38.5h2M2 39.5h1M54 39.5h1M56 39.5h1M68 39.5h2M73 39.5h3M8 40.5h1M34 40.5h1M61 40.5h1M70 40.5h1M14 41.5h1M17 41.5h1M53 41.5h1M56 41.5h1M66 41.5h1M2 42.5h1M30 42.5h1M53 42.5h1M55 42.5h1M69 42.5h1M71 42.5h1M8 43.5h1M22 43.5h1M65 43.5h1M9 44.5h1M33 44.5h2M53 44.5h2M72 44.5h1M7 45.5h1M54 45.5h1M62 45.5h1M72 45.5h1M20 46.5h1M31 46.5h1M65 46.5h1M72 46.5h1M4 47.5h2M15 47.5h1M28 47.5h1M32 47.5h1M63 47.5h1M68 47.5h1M8 48.5h1M28 48.5h1M2 49.5h3M31 49.5h1M55 49.5h1M73 49.5h1M36 50.5h1M72 50.5h1M3 51.5h1M30 51.5h1M53 51.5h1M60 51.5h1M64 51.5h1M8 52.5h1M10 52.5h1M27 52.5h1M36 52.5h1M53 52.5h1M7 53.5h1M11 53.5h1M23 53.5h1M28 53.5h1M35 53.5h1M55 53.5h1M10 54.5h1M19 54.5h1M28 54.5h1M53 54.5h2M2 55.5h1M4 55.5h1M6 55.5h1M27 55.5h1M36 55.5h1M66 55.5h1M9 56.5h1M11 56.5h1M13 56.5h1M62 56.5h1M2 57.5h2M5 57.5h1M7 57.5h1M9 57.5h2M14 57.5h1M31 57.5h1M47 57.5h1M8 58.5h1M11 58.5h1M18 58.5h2M32 58.5h1M53 58.5h1M64 58.5h1M72 58.5h1M16 59.5h1M20 59.5h1M25 59.5h2M63 59.5h1M75 59.5h1M2 60.5h2M11 60.5h1M26 60.5h1M51 60.5h1M55 60.5h2M8 61.5h1M19 61.5h1M26 61.5h1M29 61.5h1M51 61.5h1M55 61.5h1M5 62.5h1M8 62.5h1M11 62.5h1M19 62.5h1M27 62.5h1M53 62.5h1M66 62.5h2M2 63.5h1M6 63.5h1M11 63.5h1M17 63.5h1M19 63.5h1M21 63.5h1M27 63.5h1M56 63.5h1M4 64.5h1M23 64.5h1M56 64.5h1M3 65.5h1M5 65.5h1M27 65.5h1M44 65.5h1M54 65.5h1M56 65.5h1M7 66.5h1M52 66.5h1M26 67.5h1M70 67.5h1M75 67.5h1M4 68.5h2M26 68.5h1M54 68.5h2M4 69.5h1M36 69.5h1M69 69.5h1M7 70.5h1M26 70.5h1M36 70.5h1M10 71.5h1M19 71.5h2M28 71.5h2M6 72.5h1M20 72.5h1M53 72.5h1M3 73.5h1M5 73.5h1M19 73.5h1M73 73.5h1M2 74.5h1M20 74.5h1M26 74.5h1M2 75.5h1M9 75.5h1M5 76.5h1M10 76.5h1M50 76.5h1M2 77.5h1M7 77.5h1M34 77.5h1M36 77.5h1M46 77.5h1M5 78.5h1M9 78.5h1M22 78.5h2M27 78.5h1M33 78.5h2M52 78.5h1M54 78.5h1M20 79.5h1M23 79.5h1M30 79.5h1M52 79.5h1M55 79.5h1M62 79.5h1M22 80.5h1M26 80.5h1M47 80.5h1M56 80.5h1M5 81.5h1M8 81.5h1M16 81.5h1M20 81.5h1M36 81.5h1M60 81.5h1M63 81.5h2M70 81.5h1M6 82.5h2M12 82.5h1M31 82.5h1M70 82.5h2M4 83.5h1M8 83.5h1M17 83.5h1M29 83.5h1M52 83.5h1M7 84.5h1M17 84.5h1M20 84.5h1M23 84.5h1M36 84.5h1M54 84.5h1M56 84.5h1M7 85.5h1M20 85.5h1M23 85.5h1M52 85.5h1M6 86.5h1M15 86.5h1M22 86.5h2M55 86.5h1M65 86.5h1M69 86.5h1M9 87.5h2M36 87.5h1M53 87.5h1M4 88.5h1M9 88.5h1M11 88.5h1M27 88.5h1M29 88.5h1M51 88.5h1M54 88.5h1M4 89.5h1M10 89.5h2M19 89.5h1M54 89.5h1M71 89.5h1M3 90.5h1M5 90.5h1M55 90.5h1M66 90.5h1M3 91.5h1M27 91.5h1M29 91.5h1M56 91.5h1M3 92.5h1M26 92.5h1M28 92.5h1M63 92.5h1M11 93.5h1M27 93.5h1M63 93.5h2M67 93.5h1M3 94.5h1M8 94.5h1M11 94.5h1M13 94.5h1M28 94.5h1M36 94.5h1M54 94.5h1M62 94.5h1M70 94.5h1M10 95.5h1M14 95.5h1M20 95.5h1M29 95.5h1M61 95.5h1M68 95.5h1M70 96.5h1M2 97.5h1M27 97.5h1M5 98.5h1M18 98.5h1M27 98.5h1M14 99.5h1M19 99.5h1M26 99.5h1M38 99.5h1M68 99.5h1M20 100.5h1M33 100.5h1M10 101.5h2M13 101.5h1M24 101.5h1M40 101.5h1M54 101.5h1M9 102.5h1M12 102.5h2M58 102.5h1M4 103.5h1M8 103.5h1M11 103.5h2M14 103.5h1M40 103.5h1M10 104.5h1M49 104.5h1M54 104.5h1M56 104.5h1M62 104.5h1M66 104.5h1M23 105.5h1M61 105.5h4M4 106.5h1M26 106.5h1M62 106.5h1M26 107.5h1M50 107.5h1M54 107.5h1M70 107.5h2M54 108.5h1M63 108.5h1M73 108.5h1M65 109.5h1M70 109.5h1M7 110.5h1M9 110.5h1M11 110.5h1M28 110.5h1M41 110.5h2M56 110.5h1M63 110.5h1M69 110.5h1M22 111.5h1M24 111.5h1M26 111.5h1M29 111.5h1M41 111.5h1M55 111.5h1M8 112.5h1M11 112.5h2M19 112.5h1M22 112.5h1M27 112.5h1M64 112.5h1M8 113.5h1M34 113.5h1M51 113.5h1M56 113.5h1M69 113.5h1M13 114.5h1M17 114.5h1M27 114.5h1M20 115.5h1M22 115.5h1M28 115.5h2M58 115.5h1M8 116.5h1M21 116.5h2M26 116.5h1M42 116.5h1M55 116.5h1M14 117.5h1M19 117.5h1M54 117.5h1M56 117.5h1M8 118.5h1M10 118.5h1M21 118.5h1M25 118.5h1M28 118.5h1M31 118.5h1M59 118.5h1M61 118.5h2M2 119.5h1M11 119.5h1M13 119.5h1M21 119.5h1M23 119.5h1M27 119.5h1M42 119.5h1M44 119.5h1M57 119.5h1M70 119.5h1M58 120.5h1M60 120.5h1M63 120.5h1M16 121.5h1M24 121.5h1M42 121.5h1M52 121.5h1M3 122.5h1M9 122.5h1M42 122.5h1M64 122.5h1M72 122.5h1M8 123.5h1M11 123.5h2M10 124.5h2M47 124.5h1M54 124.5h1M3 125.5h1M9 125.5h1M20 125.5h2M40 125.5h1M48 125.5h1M66 125.5h2M23 126.5h1M51 126.5h1M63 126.5h1M8 127.5h1M20 127.5h2M53 127.5h1M63 127.5h1M21 128.5h1M52 128.5h1M55 128.5h2M3 129.5h1M6 129.5h1M8 129.5h1M12 129.5h1M14 129.5h1M20 129.5h1M28 129.5h1M55 129.5h1M62 129.5h1M70 129.5h1M2 130.5h1M4 130.5h1M29 130.5h1M57 130.5h1M69 130.5h1M6 131.5h2M16 131.5h1M30 131.5h1M46 131.5h1M57 131.5h1M69 131.5h2M6 132.5h1M20 132.5h1M40 132.5h1M2 133.5h1M58 133.5h2M3 134.5h1M13 134.5h1M25 134.5h1M29 134.5h1M42 134.5h1M70 134.5h1M19 135.5h1M9 136.5h1M19 136.5h2M26 136.5h1M42 136.5h1M6 137.5h1M8 137.5h1M10 137.5h1M19 137.5h2M40 137.5h1M54 137.5h1M66 137.5h1M19 138.5h1M42 138.5h1M64 138.5h1M2 139.5h1M22 139.5h1M29 139.5h1M41 139.5h1M47 139.5h1M51 139.5h1M65 139.5h1M8 140.5h1M20 140.5h2M40 140.5h3M8 141.5h1M19 141.5h1M22 141.5h1M62 141.5h1M21 142.5h1M23 142.5h1M13 143.5h1M23 143.5h1M41 143.5h1M44 143.5h1M61 143.5h1M23 144.5h2M22 145.5h2M25 145.5h1M40 145.5h1M9 146.5h1M12 146.5h1M26 146.5h1M51 146.5h1M19 147.5h1M24 147.5h1M28 147.5h1M47 148.5h1M54 148.5h1M2 149.5h1M20 149.5h1M22 149.5h1M26 149.5h1M42 149.5h1M52 149.5h1M56 149.5h1M13 150.5h1M20 150.5h1M36 150.5h1M52 150.5h1M3 151.5h1M21 151.5h1M40 151.5h1M52 151.5h1M2 152.5h1M20 152.5h1M36 152.5h1M40 152.5h1M54 152.5h1M7 153.5h1M10 153.5h1M42 153.5h1M59 153.5h1M43 154.5h2M52 154.5h1M58 154.5h1M65 154.5h1M40 155.5h1M43 155.5h2M51 155.5h1M58 155.5h1M60 155.5h1M64 155.5h1M67 155.5h1M44 156.5h2M52 156.5h2M60 156.5h1M62 156.5h1M64 156.5h1M66 156.5h4M71 156.5h1M44 157.5h1M52 157.5h1M60 157.5h3M67 157.5h1M72 157.5h1M74 157.5h1M42 158.5h1M52 158.5h1M59 158.5h1M61 158.5h1M67 158.5h1M74 158.5h1M30 159.5h1M45 159.5h1M50 159.5h2M60 159.5h2M63 159.5h1M68 159.5h2M74 159.5h1M45 160.5h2M50 160.5h1M52 160.5h2M61 160.5h1M63 160.5h2M69 160.5h1M45 161.5h1M47 161.5h1M58 161.5h1M66 161.5h1M68 161.5h1M75 161.5h1M46 162.5h1M52 162.5h1M57 162.5h1M59 162.5h1M63 162.5h1M68 162.5h1M73 162.5h1M75 162.5h1M47 163.5h1M52 163.5h1M58 163.5h3M66 163.5h1M74 163.5h2M30 164.5h1M46 164.5h1M56 164.5h1M61 164.5h1M64 164.5h2M69 164.5h1M71 164.5h1M73 164.5h3M46 165.5h1M50 165.5h1M54 165.5h1M56 165.5h1M74 165.5h1M56 166.5h2M59 166.5h2M68 166.5h1M71 166.5h2M43 167.5h1M53 167.5h1M71 167.5h2M43 168.5h2M47 168.5h1M50 168.5h1M55 168.5h1M63 168.5h2M67 168.5h1M71 168.5h1M42 169.5h2M47 169.5h1M55 169.5h2M60 169.5h1M63 169.5h4M72 169.5h1M44 170.5h1M52 170.5h1M57 170.5h1M63 170.5h2M69 170.5h1M49 171.5h1M52 171.5h1M57 171.5h1M71 171.5h2M58 172.5h2M62 172.5h1M75 172.5h1M51 173.5h1M61 173.5h1M64 173.5h2M68 173.5h1M72 173.5h1M52 174.5h1M57 174.5h1M59 174.5h1M68 174.5h1M72 174.5h2M43 175.5h1M50 175.5h1M59 175.5h1M64 175.5h1M66 175.5h1M72 175.5h1M45 176.5h1M50 176.5h1M61 176.5h2M64 176.5h1M66 176.5h1M71 176.5h1M75 176.5h1M50 177.5h1M57 177.5h1M63 177.5h2M69 177.5h1M74 177.5h2M44 178.5h2M52 178.5h1M58 178.5h1M61 178.5h1M63 178.5h4M69 178.5h1M71 178.5h2M43 179.5h1M45 179.5h1M47 179.5h1M50 179.5h4M66 179.5h1M68 179.5h1M71 179.5h1M47 180.5h1M60 180.5h1M64 180.5h2M69 180.5h1M73 180.5h1M47 181.5h1M61 181.5h1M66 181.5h1M69 181.5h2M72 181.5h2M40 182.5h2M45 182.5h2M58 182.5h1M67 182.5h1M69 182.5h1M71 182.5h2M74 182.5h2M40 183.5h1M52 183.5h1M59 183.5h1M61 183.5h1M64 183.5h2M68 183.5h1M40 184.5h1M53 184.5h1M58 184.5h1M67 184.5h1M75 184.5h1M45 185.5h1M63 185.5h1M66 185.5h1M73 185.5h3M42 186.5h1M61 186.5h3M66 186.5h1M43 187.5h2M47 187.5h1M62 187.5h1M65 187.5h2M73 187.5h1M44 188.5h2M47 188.5h1M51 188.5h1M58 188.5h1M63 188.5h1M65 188.5h1M67 188.5h1M72 188.5h1M74 188.5h1M42 189.5h1M54 189.5h1M57 189.5h1M59 189.5h3M65 189.5h1M69 189.5h1M43 190.5h1M54 190.5h2M60 190.5h1M63 190.5h1M72 190.5h1M54 191.5h1M63 191.5h1M65 191.5h1M67 191.5h1M41 192.5h1M50 192.5h1M55 192.5h1M57 192.5h2M60 192.5h1M67 192.5h1M70 192.5h1M74 192.5h1M46 193.5h1M49 193.5h1M54 193.5h1M61 193.5h1M63 193.5h2M70 193.5h2M43 194.5h1M45 194.5h1M59 194.5h1M66 194.5h2M75 194.5h1M44 195.5h1M53 195.5h1M59 195.5h1M67 195.5h1M71 195.5h2M45 196.5h2M52 196.5h1M56 196.5h1M61 196.5h1M66 196.5h1M68 196.5h1M74 196.5h1M50 197.5h1M54 197.5h1M66 197.5h1M70 197.5h1M73 197.5h1M45 198.5h2M48 198.5h1M51 198.5h1M54 198.5h1M62 198.5h1M68 198.5h1M70 198.5h1M72 198.5h2M46 199.5h2M68 199.5h1M74 199.5h2M44 200.5h2M51 200.5h1M53 200.5h2M59 200.5h1M66 200.5h1M68 200.5h1M73 200.5h2M44 201.5h1M47 201.5h1M50 201.5h1M70 201.5h1M72 201.5h3M50 202.5h3M61 202.5h2M68 202.5h1M72 202.5h1M74 202.5h1M40 203.5h2M43 203.5h1M46 203.5h2M51 203.5h1M57 203.5h3M63 203.5h1M69 203.5h4M50 204.5h2M53 204.5h1M64 204.5h1M73 204.5h1M45 205.5h1M49 205.5h2M52 205.5h1M61 205.5h2M40 206.5h1M45 206.5h1M53 206.5h1M58 206.5h1M64 206.5h1M41 207.5h1M44 207.5h1M51 207.5h1M54 207.5h1M56 207.5h1M58 207.5h1M69 207.5h1M71 207.5h1M73 207.5h1M30 208.5h1M43 208.5h2M64 208.5h5M70 208.5h1M72 208.5h1M75 208.5h1M16 209.5h1M54 209.5h2M65 209.5h1M70 209.5h1M73 209.5h1M43 210.5h1M47 210.5h1M56 210.5h1M59 210.5h1M61 210.5h2M64 210.5h1M66 210.5h2M71 210.5h1M42 211.5h1M50 211.5h1M54 211.5h1M58 211.5h2M63 211.5h1M69 211.5h1M73 211.5h1M35 212.5h1M47 212.5h1M54 212.5h1M56 212.5h1M61 212.5h1M63 212.5h2M66 212.5h1M68 212.5h1M30 213.5h1M46 213.5h2M51 213.5h1M55 213.5h2M61 213.5h1M64 213.5h2M67 213.5h1M70 213.5h1M72 213.5h1M74 213.5h1M30 214.5h1M42 214.5h1M46 214.5h1M51 214.5h1M55 214.5h1M59 214.5h1M66 214.5h1M69 214.5h3M75 214.5h1M23 215.5h1M44 215.5h1M46 215.5h1M53 215.5h1M56 215.5h1M65 215.5h1M69 215.5h2M73 215.5h1M75 215.5h1M41 216.5h1M50 216.5h1M55 216.5h1M59 216.5h1M69 216.5h1M71 216.5h1M30 217.5h1M59 217.5h1M62 217.5h1M70 217.5h1M72 217.5h1M44 218.5h1M52 218.5h1M68 218.5h1M43 219.5h1M50 219.5h1M59 219.5h2M62 219.5h1M66 219.5h2M73 219.5h2M45 220.5h1M51 220.5h1M54 220.5h3M58 220.5h1M64 220.5h2M75 220.5h1M40 221.5h1M44 221.5h1M50 221.5h2M54 221.5h2M60 221.5h1M64 221.5h1M68 221.5h1M74 221.5h1M44 222.5h1M46 222.5h1M57 222.5h1M59 222.5h1M62 222.5h1M44 223.5h3M50 223.5h1M53 223.5h1M55 223.5h1M58 223.5h1M60 223.5h3M64 223.5h2M73 223.5h1M46 224.5h2M51 224.5h1M61 224.5h1M66 224.5h1M68 224.5h2M72 224.5h1M42 225.5h2M57 225.5h1M67 225.5h1M70 225.5h1M72 225.5h1M51 226.5h1M55 226.5h1M57 226.5h1M60 226.5h1M68 226.5h2M74 226.5h1M59 227.5h1M71 227.5h2M44 228.5h1M48 228.5h2M52 228.5h1M57 228.5h2M69 228.5h2M74 228.5h1M43 229.5h1M51 229.5h2M60 229.5h2M64 229.5h1M66 229.5h1M68 229.5h1M75 229.5h1M52 230.5h1M57 230.5h1M59 230.5h1M67 230.5h1M71 230.5h2M52 231.5h1M58 231.5h1M61 231.5h1M74 231.5h2M45 232.5h1M47 232.5h2M52 232.5h1M65 232.5h1M69 232.5h2M43 233.5h1M48 233.5h1M59 233.5h3M67 233.5h1M23 234.5h1M43 234.5h1M46 234.5h1M50 234.5h1M52 234.5h1M59 234.5h1M64 234.5h2M69 234.5h1M74 234.5h1M23 235.5h1M43 235.5h1M51 235.5h1M59 235.5h3M70 235.5h1M74 235.5h2M23 236.5h1M44 236.5h1M58 236.5h1M64 236.5h1M71 236.5h1M30 237.5h1M43 237.5h1M47 237.5h1M52 237.5h1M58 237.5h2M64 237.5h2M69 237.5h1M75 237.5h1M43 238.5h1M45 238.5h1M63 238.5h2M68 238.5h1M73 238.5h1M75 238.5h1M42 239.5h1M46 239.5h1M53 239.5h1M56 239.5h1M58 239.5h1M70 239.5h1M73 239.5h1M75 239.5h1M51 240.5h1M54 240.5h1M63 240.5h2M66 240.5h1M68 240.5h1M70 240.5h1M44 241.5h3M53 241.5h1M61 241.5h1M70 241.5h1M73 241.5h2M45 242.5h1M55 242.5h1M59 242.5h2M66 242.5h2M40 243.5h1M45 243.5h2M51 243.5h1M57 243.5h1M66 243.5h2M71 243.5h1M51 244.5h1M53 244.5h1M59 244.5h1M61 244.5h2M66 244.5h1M69 244.5h2M23 245.5h1M40 245.5h1M44 245.5h1M52 245.5h2M58 245.5h3M62 245.5h1M71 245.5h2M74 245.5h1M11 246.5h1M23 246.5h1M53 246.5h1M57 246.5h1M62 246.5h1M64 246.5h1M69 246.5h1M72 246.5h1M45 247.5h1M48 247.5h1M52 247.5h1M59 247.5h1M61 247.5h1M63 247.5h1M65 247.5h1M44 248.5h1M46 248.5h1M48 248.5h1M72 248.5h1M11 249.5h1M19 249.5h1M49 249.5h2M56 249.5h1M71 249.5h1M11 250.5h1M54 250.5h2M57 250.5h1M64 250.5h1M18 251.5h1M44 251.5h1M46 251.5h2M59 251.5h1M63 251.5h1M71 251.5h1M75 251.5h1M2 252.5h1M20 252.5h1M44 252.5h1M59 252.5h1M67 252.5h1M72 252.5h1M24 253.5h1M46 253.5h1M74 253.5h1M52 254.5h1M59 254.5h1M63 254.5h3M67 254.5h1M71 254.5h1M8 255.5h1M50 255.5h1M62 255.5h1M65 255.5h1M68 255.5h1M75 255.5h1M8 256.5h3M25 256.5h1M58 256.5h2M66 256.5h1M71 256.5h1M11 257.5h1M52 257.5h1M69 257.5h1M8 258.5h1M19 258.5h1M23 258.5h2M49 258.5h1M51 258.5h1M63 258.5h1M20 259.5h1M44 259.5h2M47 259.5h1M54 259.5h1M59 259.5h1M67 259.5h1M74 259.5h1M8 260.5h1M22 260.5h1M24 260.5h1M66 260.5h1M68 260.5h1M2 261.5h1M21 261.5h1M48 261.5h3M60 261.5h1M62 261.5h1M64 261.5h1M67 261.5h3M21 262.5h1M23 262.5h1M47 262.5h1M50 262.5h2M55 262.5h1M65 262.5h1M24 263.5h1M49 263.5h1M54 263.5h1M57 263.5h2M61 263.5h1M63 263.5h2M47 264.5h1M58 264.5h2M2 265.5h1M9 265.5h1M32 265.5h1M50 265.5h1M54 265.5h1M59 265.5h1M63 265.5h1M66 265.5h1M30 266.5h1M47 266.5h1M50 266.5h1M53 266.5h1M59 266.5h1M63 266.5h1M69 266.5h2M73 266.5h1M75 266.5h1M51 267.5h1M60 267.5h1M63 267.5h1M65 267.5h1M74 267.5h1M2 268.5h1M31 268.5h1M58 268.5h1M61 268.5h2M67 268.5h1M69 268.5h1M72 268.5h1M75 268.5h1M44 269.5h1M46 269.5h1M57 269.5h1M71 269.5h1M74 269.5h1M2 270.5h1M44 270.5h1M48 270.5h1M51 270.5h1M53 270.5h1M58 270.5h1M62 270.5h1M65 270.5h1M69 270.5h1M71 270.5h4M10 271.5h1M18 271.5h1M39 271.5h1M44 271.5h1M48 271.5h1M50 271.5h1M53 271.5h1M62 271.5h2M70 271.5h1M73 271.5h2M17 272.5h1M53 272.5h1M64 272.5h1M68 272.5h2M72 272.5h1M51 273.5h1M61 273.5h2M74 273.5h1M45 274.5h1M57 274.5h2M61 274.5h1M74 274.5h1M45 275.5h4M55 275.5h2M63 275.5h3M69 275.5h1M71 275.5h1M75 275.5h1M22 276.5h2M47 276.5h1M51 276.5h1M53 276.5h1M61 276.5h1M65 276.5h1M70 276.5h1M75 276.5h1M24 277.5h1M44 277.5h1M47 277.5h1M50 277.5h1M60 277.5h1M64 277.5h1M69 277.5h1M71 277.5h1M61 278.5h1M72 278.5h2M75 278.5h1M46 279.5h1M55 279.5h1M71 279.5h1M73 279.5h1M30 280.5h1M45 280.5h1M49 280.5h1M52 280.5h1M56 280.5h1M63 280.5h1M65 280.5h1M70 280.5h1M74 280.5h1M18 281.5h1M45 281.5h1M47 281.5h3M53 281.5h1M56 281.5h1M64 281.5h1M67 281.5h1M2 282.5h1M21 282.5h1M68 282.5h1M74 282.5h1M44 283.5h3M52 283.5h1M54 283.5h1M57 283.5h1M59 283.5h1M71 283.5h1M74 283.5h1M55 284.5h1M58 284.5h1M60 284.5h2M66 284.5h1M69 284.5h1M44 285.5h1M48 285.5h1M52 285.5h1M60 285.5h1M62 285.5h2M66 285.5h1M70 285.5h4M45 286.5h1M62 286.5h1M64 286.5h1M31 287.5h1M48 287.5h1M54 287.5h2M60 287.5h2M63 287.5h1M19 288.5h2M32 288.5h1M46 288.5h1M49 288.5h1M53 288.5h4M59 288.5h1M64 288.5h1M66 288.5h1M69 288.5h2M72 288.5h1M44 289.5h1M49 289.5h1M53 289.5h1M57 289.5h1M59 289.5h2M64 289.5h1M69 289.5h2M2 290.5h1M54 290.5h2M57 290.5h1M62 290.5h1M75 290.5h1M17 291.5h1M22 291.5h1M24 291.5h1M44 291.5h1M64 291.5h2M67 291.5h1M69 291.5h2M23 292.5h1M47 292.5h2M50 292.5h1M58 292.5h2M61 292.5h1M63 292.5h2M66 292.5h1M70 292.5h3M29 293.5h1M32 293.5h1M46 293.5h1M57 293.5h1M61 293.5h1M68 293.5h3M73 293.5h3M4 294.5h1M10 294.5h1M20 294.5h1M29 294.5h1M40 294.5h2M49 294.5h1M2 295.5h1M5 295.5h1M10 295.5h1M12 295.5h1M30 295.5h1M34 295.5h2M40 295.5h1M44 295.5h1M49 295.5h1M5 296.5h1M15 296.5h1M30 296.5h1M33 296.5h1M36 296.5h1M5 297.5h1M16 297.5h1M21 297.5h3M26 297.5h2M31 297.5h1M33 297.5h3M51 297.5h2M3 298.5h2M23 298.5h1M25 298.5h3M34 298.5h1M44 298.5h1M50 298.5h2M3 299.5h1M6 299.5h3M19 299.5h1M22 299.5h1M25 299.5h1M29 299.5h2M44 299.5h3M51 299.5h2M16 300.5h1M19 300.5h1M25 300.5h1M36 300.5h1M39 300.5h1M44 300.5h1M48 300.5h1M50 300.5h1M13 301.5h1M15 301.5h1M23 301.5h2M28 301.5h1M34 301.5h1M36 301.5h1M4 302.5h1M8 302.5h1M24 302.5h1M32 302.5h1M34 302.5h1M48 302.5h2M4 303.5h2M7 303.5h1M33 303.5h1M49 303.5h1M3 304.5h3M8 304.5h1M12 304.5h1M15 304.5h1M28 304.5h1M34 304.5h1M51 304.5h1M4 305.5h2M23 305.5h1M28 305.5h1M30 305.5h1M46 305.5h1M49 305.5h1M4 306.5h1M6 306.5h1M31 306.5h1M49 306.5h1M2 307.5h2M5 307.5h4M14 307.5h1M24 307.5h1M28 307.5h2M39 307.5h1M45 307.5h2M48 307.5h1M8 308.5h1M13 308.5h1M30 308.5h1M32 308.5h2M19 309.5h1M28 309.5h1M30 309.5h1M48 309.5h1M4 310.5h2M17 310.5h1M19 310.5h1M24 310.5h1M29 310.5h1M33 310.5h1M35 310.5h1M41 310.5h1M5 311.5h1M22 311.5h1M25 311.5h2M30 311.5h1M33 311.5h1M45 311.5h2M14 312.5h1M17 312.5h1M34 312.5h2M46 312.5h2M50 312.5h1M52 312.5h1M3 313.5h1M15 313.5h1M25 313.5h1M39 313.5h1M49 313.5h1M52 313.5h1M9 314.5h1M12 314.5h1M19 314.5h1M32 314.5h1M48 314.5h1M52 314.5h1M12 315.5h1M17 315.5h1M25 315.5h1M32 315.5h1M41 315.5h1M49 315.5h1M9 316.5h1M16 316.5h1M20 316.5h1M22 316.5h1M29 316.5h2M34 316.5h1M48 316.5h1M16 317.5h1M28 317.5h1M32 317.5h1M50 317.5h1M3 318.5h1M5 318.5h1M14 318.5h1M18 318.5h1M20 318.5h1M25 318.5h1M27 318.5h1M33 318.5h1M36 318.5h1M3 319.5h1M5 319.5h1M22 319.5h3M29 319.5h1M39 319.5h1M20 320.5h1M33 320.5h1M35 320.5h1M2 321.5h1M8 321.5h1M27 321.5h1M29 321.5h1M40 321.5h1M2 322.5h1M8 322.5h1M14 322.5h1M20 322.5h1M25 322.5h1M32 322.5h1M36 322.5h1M44 322.5h1M8 323.5h1M17 323.5h1M22 323.5h1M24 323.5h1M27 323.5h1M30 323.5h1M35 323.5h2M40 323.5h1M21 324.5h1M24 324.5h1M33 324.5h1M50 324.5h1M2 325.5h1M5 325.5h1M9 325.5h1M11 325.5h1M22 325.5h2M31 325.5h1M41 325.5h1M44 325.5h1M7 326.5h3M20 326.5h2M34 326.5h1M39 326.5h3M48 326.5h1M8 327.5h1M13 327.5h1M15 327.5h1M29 327.5h1M31 327.5h2M39 327.5h1M6 328.5h2M9 328.5h1M16 328.5h1M20 328.5h2M26 328.5h1M28 328.5h2M32 328.5h2M3 329.5h1M12 329.5h1M26 329.5h2M30 329.5h1M2 330.5h1M4 330.5h1M14 330.5h1M35 330.5h1M45 330.5h1M47 330.5h1M6 331.5h1M15 331.5h3M20 331.5h1M34 331.5h2M40 331.5h1M44 331.5h1M48 331.5h1M7 332.5h1M9 332.5h1M14 332.5h1M39 332.5h1M41 332.5h1M44 332.5h1M49 332.5h1M51 332.5h1M2 333.5h1M11 333.5h2M14 333.5h1M16 333.5h1M25 333.5h1M34 333.5h1M40 333.5h2M2 334.5h1M10 334.5h1M17 334.5h2M32 334.5h1M44 334.5h1M9 335.5h1M12 335.5h1M15 335.5h2M16 336.5h1M18 336.5h1M36 336.5h1M52 336.5h1M12 337.5h1M31 337.5h1M34 337.5h1M51 337.5h1M7 338.5h1M14 338.5h1M16 338.5h1M31 338.5h2M51 338.5h1M2 339.5h3M7 339.5h1M13 339.5h1M20 339.5h1M28 339.5h2M31 339.5h1M33 339.5h1M36 339.5h1M44 339.5h1M51 339.5h1M3 340.5h1M14 340.5h2M18 340.5h2M22 340.5h1M26 340.5h1M30 340.5h1M32 340.5h2M36 340.5h1M41 340.5h1M44 340.5h1M2 341.5h1M16 341.5h1M20 341.5h1M34 341.5h1M12 342.5h2M21 342.5h1M32 342.5h1M41 342.5h1M45 342.5h1M48 342.5h1M19 343.5h1M21 343.5h1M23 343.5h1M45 343.5h1M2 344.5h1M6 344.5h2M16 344.5h1M28 344.5h1M31 344.5h1M39 344.5h3M10 345.5h1M15 345.5h1M24 345.5h2M28 345.5h1M30 345.5h1M39 345.5h1M50 345.5h1M3 346.5h1M8 346.5h2M15 346.5h1M44 346.5h1M46 346.5h1M49 346.5h2M3 347.5h1M20 347.5h1M24 347.5h1M30 347.5h1M49 347.5h1M3 348.5h1M20 348.5h1M22 348.5h2M34 348.5h2M39 348.5h1M41 348.5h1M46 348.5h2M8 349.5h1M10 349.5h1M15 349.5h1M20 349.5h1M24 349.5h1M34 349.5h1M46 349.5h1M6 350.5h1M13 350.5h1M15 350.5h1"/><path stroke="#350000" d="M7 0.5h1M52 0.5h1M67 0.5h2M34 1.5h1M64 1.5h2M67 1.5h2M72 1.5h1M74 1.5h1M63 2.5h1M72 2.5h1M2 3.5h1M10 3.5h1M69 3.5h1M72 3.5h1M75 3.5h1M2 4.5h1M17 4.5h1M75 4.5h1M13 5.5h1M55 5.5h1M57 5.5h1M59 5.5h1M61 5.5h1M67 5.5h1M9 6.5h1M35 6.5h1M55 6.5h1M65 6.5h1M75 6.5h1M8 7.5h2M75 7.5h1M9 8.5h1M6 9.5h1M9 9.5h1M61 9.5h1M63 9.5h1M72 9.5h1M11 10.5h1M25 10.5h1M56 10.5h1M2 11.5h1M32 11.5h1M62 11.5h1M65 11.5h1M70 11.5h1M2 12.5h1M61 12.5h1M10 13.5h1M34 13.5h1M55 13.5h1M63 13.5h3M7 14.5h1M61 14.5h3M11 15.5h1M70 15.5h1M72 15.5h1M9 16.5h1M35 16.5h1M54 16.5h1M71 16.5h1M32 17.5h1M40 17.5h2M62 17.5h2M65 17.5h1M69 17.5h1M73 17.5h1M11 18.5h1M22 18.5h1M53 18.5h1M56 18.5h1M61 18.5h1M63 18.5h1M67 18.5h1M34 19.5h1M55 19.5h1M63 19.5h1M66 19.5h1M70 19.5h1M2 20.5h1M53 20.5h1M68 20.5h1M74 20.5h1M6 21.5h1M9 21.5h1M33 21.5h1M71 21.5h1M2 22.5h1M8 22.5h1M19 22.5h1M54 22.5h3M64 22.5h1M66 22.5h1M9 23.5h1M46 23.5h1M53 23.5h1M67 23.5h1M70 23.5h2M10 24.5h1M25 24.5h1M32 24.5h1M34 24.5h1M56 24.5h1M60 24.5h1M54 25.5h1M60 25.5h1M7 26.5h1M10 26.5h1M31 26.5h1M53 26.5h1M68 26.5h1M49 27.5h1M68 27.5h1M27 28.5h1M60 28.5h1M8 29.5h1M31 29.5h1M62 29.5h1M67 29.5h1M72 29.5h1M2 30.5h2M9 30.5h1M56 30.5h1M61 30.5h1M72 30.5h2M5 31.5h1M9 31.5h1M55 31.5h1M64 31.5h2M73 31.5h1M70 32.5h1M8 33.5h1M10 33.5h1M34 33.5h2M53 33.5h1M55 33.5h1M9 34.5h2M33 34.5h1M35 34.5h1M74 34.5h1M2 35.5h1M48 35.5h1M70 35.5h1M12 36.5h2M4 37.5h1M7 37.5h1M9 37.5h1M19 37.5h1M32 37.5h1M66 37.5h1M71 37.5h1M2 38.5h1M26 38.5h1M56 38.5h1M72 38.5h1M70 39.5h1M2 40.5h1M53 40.5h3M58 40.5h2M75 40.5h1M2 41.5h1M32 41.5h1M52 42.5h1M61 42.5h1M35 43.5h1M61 43.5h1M73 43.5h3M11 44.5h1M55 44.5h1M62 44.5h1M3 45.5h1M52 45.5h1M53 46.5h1M61 46.5h2M52 47.5h1M56 47.5h1M73 47.5h2M11 48.5h1M22 48.5h1M31 48.5h1M54 48.5h2M75 48.5h1M6 49.5h1M11 49.5h1M36 49.5h1M53 49.5h1M65 49.5h1M4 50.5h1M7 50.5h2M20 50.5h1M22 50.5h1M27 50.5h3M56 50.5h1M65 50.5h1M73 50.5h1M5 51.5h1M36 51.5h1M3 52.5h1M9 52.5h1M26 52.5h1M55 52.5h1M6 53.5h1M10 53.5h1M52 53.5h2M29 54.5h1M52 54.5h1M5 55.5h1M16 55.5h1M55 55.5h1M63 55.5h1M8 56.5h1M10 56.5h1M20 56.5h1M35 56.5h1M52 56.5h1M64 56.5h1M63 57.5h1M27 58.5h1M30 58.5h1M45 58.5h1M2 59.5h1M18 59.5h1M46 59.5h1M51 59.5h1M53 59.5h1M6 60.5h1M27 60.5h1M34 60.5h1M62 60.5h1M11 61.5h1M30 61.5h1M36 61.5h1M26 62.5h1M29 62.5h1M62 62.5h2M7 63.5h1M9 63.5h1M26 63.5h1M68 63.5h1M16 64.5h1M16 65.5h1M2 66.5h1M10 66.5h1M27 66.5h2M53 66.5h1M66 66.5h1M3 67.5h1M28 67.5h1M36 67.5h1M54 67.5h1M27 68.5h2M52 69.5h1M54 69.5h1M62 69.5h1M72 69.5h1M12 70.5h1M22 70.5h1M35 70.5h1M55 70.5h1M3 71.5h3M9 71.5h1M52 71.5h1M63 71.5h1M18 72.5h1M26 72.5h1M7 73.5h1M11 73.5h1M26 73.5h1M40 73.5h1M44 73.5h1M4 74.5h1M7 74.5h1M27 74.5h1M52 74.5h1M63 74.5h1M3 75.5h1M6 75.5h1M29 75.5h1M52 75.5h1M3 76.5h1M11 76.5h1M24 76.5h1M10 77.5h1M22 77.5h1M30 77.5h1M45 77.5h1M54 77.5h1M3 78.5h2M32 78.5h1M55 78.5h1M63 78.5h1M18 79.5h1M27 79.5h1M29 79.5h1M35 79.5h1M23 80.5h1M52 80.5h1M35 81.5h1M62 81.5h1M5 82.5h1M65 82.5h1M2 83.5h2M5 83.5h1M22 83.5h1M53 83.5h1M8 84.5h1M29 84.5h1M47 84.5h1M52 84.5h1M55 84.5h1M18 85.5h1M27 85.5h1M34 85.5h1M46 85.5h1M56 85.5h1M64 85.5h1M10 86.5h1M4 87.5h1M54 87.5h1M56 87.5h1M3 89.5h1M5 89.5h1M13 89.5h1M21 90.5h1M51 90.5h1M16 91.5h1M22 91.5h1M26 91.5h1M54 91.5h1M23 92.5h1M56 92.5h1M64 92.5h1M68 92.5h1M29 93.5h1M69 93.5h1M6 94.5h1M23 94.5h1M29 94.5h1M55 94.5h2M27 95.5h1M62 95.5h1M4 96.5h2M12 96.5h1M49 96.5h1M53 96.5h1M5 97.5h1M9 97.5h1M22 97.5h1M34 97.5h1M36 97.5h1M69 97.5h1M3 98.5h1M35 98.5h1M28 99.5h1M28 100.5h1M53 100.5h1M21 101.5h2M28 101.5h1M3 102.5h1M8 102.5h1M19 102.5h2M2 104.5h1M27 104.5h1M41 104.5h1M12 105.5h1M19 105.5h1M26 105.5h1M68 105.5h1M2 106.5h1M8 106.5h1M14 106.5h1M19 106.5h1M21 106.5h1M23 106.5h1M25 106.5h1M59 106.5h1M66 106.5h1M6 107.5h2M11 107.5h1M68 107.5h1M6 108.5h1M24 108.5h1M64 108.5h2M70 108.5h1M6 109.5h1M8 109.5h1M54 109.5h1M4 110.5h1M23 110.5h1M65 110.5h1M67 110.5h1M4 111.5h1M9 111.5h1M11 111.5h1M54 111.5h1M63 111.5h1M65 111.5h1M14 112.5h1M20 112.5h1M23 112.5h1M65 112.5h1M10 113.5h1M18 113.5h1M23 113.5h1M66 114.5h2M2 115.5h1M52 115.5h2M67 115.5h1M3 116.5h1M19 116.5h1M23 116.5h1M57 116.5h1M59 116.5h1M25 117.5h1M57 117.5h1M14 118.5h1M70 118.5h1M10 119.5h1M41 119.5h1M58 119.5h1M69 119.5h1M21 120.5h1M23 120.5h1M50 120.5h1M3 121.5h1M27 121.5h1M10 122.5h2M13 122.5h1M52 122.5h1M9 123.5h1M13 123.5h1M61 123.5h1M69 123.5h1M40 124.5h1M48 124.5h1M55 124.5h1M65 124.5h2M70 124.5h1M2 125.5h1M14 125.5h1M47 125.5h1M10 126.5h1M47 126.5h1M55 126.5h2M19 127.5h1M69 127.5h1M20 128.5h1M49 128.5h1M63 128.5h1M19 129.5h1M61 129.5h1M8 130.5h1M17 130.5h1M19 130.5h1M31 130.5h1M40 130.5h1M47 130.5h1M3 132.5h1M23 133.5h1M40 133.5h1M62 133.5h1M2 134.5h1M8 134.5h1M12 134.5h1M55 134.5h1M63 134.5h1M9 135.5h1M12 135.5h1M24 136.5h1M40 136.5h1M51 136.5h1M3 138.5h1M45 138.5h1M47 138.5h1M8 139.5h1M21 139.5h1M40 139.5h1M52 139.5h1M29 142.5h1M31 142.5h1M50 142.5h1M55 142.5h1M21 143.5h1M24 143.5h1M26 143.5h1M2 144.5h1M54 144.5h1M61 144.5h2M10 145.5h1M2 146.5h1M10 146.5h2M22 146.5h1M55 146.5h2M11 147.5h1M14 147.5h1M25 147.5h1M29 147.5h1M56 147.5h1M3 148.5h1M10 148.5h1M19 148.5h1M21 148.5h1M28 148.5h2M61 148.5h1M8 149.5h1M19 149.5h1M21 149.5h1M38 150.5h1M40 150.5h1M27 151.5h2M39 151.5h1M28 152.5h1M38 152.5h1M49 152.5h1M55 152.5h1M74 152.5h1M2 153.5h1M8 153.5h1M24 153.5h1M48 153.5h1M54 153.5h1M53 154.5h1M57 154.5h1M59 154.5h2M63 154.5h1M69 154.5h1M73 154.5h2M52 155.5h1M62 155.5h1M66 155.5h1M68 155.5h1M70 155.5h2M74 155.5h1M65 156.5h1M70 156.5h1M72 156.5h3M47 157.5h1M63 157.5h1M65 157.5h1M75 157.5h1M64 158.5h1M69 158.5h1M44 159.5h1M62 159.5h1M70 159.5h1M75 159.5h1M47 160.5h1M57 160.5h1M59 160.5h2M62 160.5h1M65 160.5h2M71 160.5h1M73 160.5h2M51 161.5h1M57 161.5h1M60 161.5h1M70 161.5h1M72 161.5h1M74 161.5h1M47 162.5h1M50 162.5h1M62 162.5h1M70 162.5h1M46 163.5h1M54 163.5h2M61 163.5h1M73 163.5h1M52 164.5h3M59 164.5h2M70 164.5h1M52 165.5h1M65 165.5h1M67 165.5h1M52 166.5h1M63 166.5h1M69 166.5h1M73 166.5h2M48 167.5h1M52 167.5h1M56 167.5h1M60 167.5h1M75 167.5h1M53 168.5h1M61 168.5h2M69 168.5h1M73 168.5h3M61 169.5h2M67 169.5h3M71 169.5h1M41 170.5h1M60 170.5h3M65 170.5h1M68 170.5h1M46 171.5h1M50 171.5h1M58 171.5h4M65 171.5h1M57 172.5h1M60 172.5h2M65 172.5h1M67 172.5h3M71 172.5h1M57 173.5h1M59 173.5h2M66 173.5h1M71 173.5h1M73 173.5h1M75 173.5h1M58 174.5h1M61 174.5h3M66 174.5h2M71 174.5h1M44 175.5h1M47 175.5h1M52 175.5h1M58 175.5h1M67 175.5h1M75 175.5h1M60 176.5h1M65 176.5h1M70 176.5h1M47 177.5h1M51 177.5h1M65 177.5h1M67 177.5h2M59 178.5h1M67 178.5h1M74 178.5h2M46 179.5h1M60 179.5h1M63 179.5h2M70 179.5h1M73 179.5h1M57 180.5h2M61 180.5h1M70 180.5h1M57 181.5h1M59 181.5h2M68 181.5h1M74 181.5h1M29 182.5h1M60 182.5h1M62 182.5h1M57 183.5h1M60 183.5h1M63 183.5h1M72 183.5h4M51 184.5h2M64 184.5h3M68 184.5h1M72 184.5h3M46 185.5h2M52 185.5h1M59 185.5h1M62 185.5h1M69 185.5h1M72 185.5h1M67 186.5h1M69 186.5h1M72 186.5h1M75 186.5h1M64 187.5h1M67 187.5h2M75 187.5h1M43 188.5h1M52 188.5h1M64 188.5h1M68 188.5h1M73 188.5h1M75 188.5h1M45 189.5h3M63 189.5h1M73 189.5h1M44 190.5h1M47 190.5h1M61 190.5h1M67 190.5h1M70 190.5h1M75 190.5h1M61 191.5h1M64 191.5h1M68 191.5h4M54 192.5h1M63 192.5h1M66 192.5h1M71 192.5h1M45 193.5h1M50 193.5h1M60 193.5h1M67 193.5h1M72 193.5h1M75 193.5h1M53 194.5h1M68 194.5h1M73 194.5h1M51 195.5h1M55 195.5h3M66 195.5h1M54 196.5h1M60 196.5h1M63 196.5h3M70 196.5h1M46 197.5h2M55 197.5h2M67 197.5h2M71 197.5h1M50 198.5h1M53 198.5h1M75 198.5h1M40 199.5h1M62 199.5h2M65 199.5h2M47 200.5h1M60 200.5h1M67 200.5h1M43 201.5h1M46 201.5h1M53 201.5h1M62 201.5h1M65 201.5h1M75 201.5h1M53 202.5h1M64 202.5h1M66 202.5h1M75 202.5h1M60 203.5h1M62 203.5h1M65 203.5h1M75 203.5h1M61 204.5h2M69 204.5h1M58 205.5h1M64 205.5h2M47 206.5h1M51 206.5h2M60 206.5h2M69 206.5h1M71 206.5h1M75 206.5h1M59 207.5h1M75 207.5h1M51 208.5h1M55 208.5h2M43 209.5h2M69 209.5h1M55 210.5h1M68 210.5h1M73 210.5h1M75 210.5h1M43 211.5h1M52 211.5h1M56 211.5h2M60 211.5h2M64 211.5h3M68 211.5h1M42 212.5h1M57 212.5h2M60 212.5h1M62 212.5h1M69 212.5h2M74 212.5h1M58 213.5h3M62 213.5h1M66 213.5h1M43 214.5h2M56 214.5h2M63 214.5h2M67 214.5h2M72 214.5h1M54 215.5h1M57 215.5h1M64 215.5h1M67 215.5h1M71 215.5h1M44 216.5h1M63 216.5h1M67 216.5h1M75 216.5h1M60 217.5h1M66 217.5h2M69 217.5h1M71 217.5h1M59 218.5h1M44 219.5h2M47 219.5h1M58 219.5h1M75 219.5h1M52 220.5h1M57 220.5h1M59 220.5h2M62 220.5h1M73 220.5h2M52 221.5h1M56 221.5h1M62 221.5h1M73 221.5h1M75 221.5h1M51 222.5h1M60 222.5h2M69 222.5h1M47 223.5h1M51 223.5h1M57 223.5h1M66 223.5h1M75 223.5h1M43 224.5h1M45 224.5h1M53 224.5h1M60 224.5h1M62 224.5h1M67 224.5h1M71 224.5h1M74 224.5h1M44 225.5h1M51 225.5h1M53 225.5h1M60 225.5h2M63 225.5h1M58 226.5h2M61 226.5h1M64 226.5h3M57 227.5h1M61 227.5h1M60 228.5h6M71 228.5h1M48 229.5h1M50 229.5h1M59 229.5h1M62 229.5h1M67 229.5h1M58 230.5h1M60 230.5h2M59 231.5h2M62 231.5h1M67 231.5h3M71 231.5h1M46 232.5h1M57 232.5h1M62 232.5h1M66 232.5h1M68 232.5h1M72 232.5h2M44 233.5h2M58 233.5h1M66 233.5h1M74 233.5h1M70 234.5h1M50 235.5h1M52 235.5h1M58 235.5h1M64 235.5h1M66 235.5h3M73 235.5h1M30 236.5h1M51 236.5h1M57 236.5h1M59 236.5h1M61 236.5h1M63 236.5h1M70 236.5h1M72 236.5h1M75 236.5h1M71 237.5h1M66 238.5h1M43 239.5h1M52 239.5h1M57 239.5h1M60 239.5h1M62 239.5h2M66 239.5h1M47 240.5h1M60 240.5h1M62 240.5h1M65 240.5h1M67 240.5h1M69 240.5h1M71 240.5h1M47 241.5h1M54 241.5h1M71 241.5h1M61 242.5h2M72 242.5h1M52 243.5h1M62 243.5h2M72 243.5h2M57 244.5h1M67 244.5h2M71 244.5h1M57 245.5h1M75 245.5h1M44 246.5h1M52 246.5h1M59 246.5h1M67 246.5h1M74 246.5h1M23 247.5h1M30 247.5h1M72 247.5h1M23 248.5h1M58 248.5h1M67 248.5h1M73 248.5h1M48 249.5h1M52 249.5h1M54 249.5h1M59 249.5h1M68 249.5h2M8 250.5h1M49 250.5h2M58 250.5h2M67 250.5h2M19 251.5h2M48 251.5h2M62 251.5h1M68 251.5h2M73 251.5h1M23 252.5h2M45 252.5h1M48 252.5h4M60 252.5h1M66 252.5h1M69 252.5h2M48 253.5h1M50 253.5h1M52 253.5h1M61 253.5h1M70 253.5h1M73 253.5h1M10 254.5h2M23 254.5h2M57 254.5h1M61 254.5h1M66 254.5h1M70 254.5h1M9 255.5h1M23 255.5h1M60 255.5h1M64 255.5h1M69 255.5h1M11 256.5h1M24 256.5h1M57 256.5h1M3 257.5h1M24 257.5h1M44 257.5h1M57 257.5h3M64 257.5h1M2 258.5h1M53 258.5h1M59 258.5h1M61 258.5h1M64 258.5h1M69 258.5h3M23 259.5h1M48 259.5h1M51 259.5h1M58 259.5h1M62 259.5h1M23 260.5h1M53 260.5h1M59 260.5h1M62 260.5h1M72 260.5h2M75 260.5h1M8 261.5h1M45 261.5h1M51 261.5h1M54 261.5h2M58 261.5h1M61 261.5h1M65 261.5h1M73 261.5h1M8 262.5h1M10 262.5h1M46 262.5h1M49 262.5h1M62 262.5h1M74 262.5h1M44 263.5h1M51 263.5h1M53 263.5h1M60 263.5h1M71 263.5h1M74 263.5h2M25 264.5h1M44 264.5h1M57 264.5h1M60 264.5h2M64 264.5h1M71 264.5h1M74 264.5h1M17 265.5h1M22 265.5h1M45 265.5h1M51 265.5h1M57 265.5h1M61 265.5h1M74 265.5h1M44 266.5h2M58 266.5h1M66 266.5h1M68 266.5h1M72 266.5h1M45 267.5h1M58 267.5h1M66 267.5h2M71 267.5h2M44 268.5h1M57 268.5h1M66 268.5h1M2 269.5h1M45 269.5h1M66 269.5h2M46 270.5h2M57 270.5h1M59 270.5h1M61 270.5h1M67 270.5h2M75 270.5h1M2 271.5h1M51 271.5h1M58 271.5h1M64 271.5h1M69 271.5h1M75 271.5h1M60 272.5h2M58 273.5h1M51 274.5h1M63 274.5h1M75 274.5h1M58 275.5h1M60 275.5h1M62 275.5h1M45 276.5h1M49 276.5h1M54 276.5h1M62 276.5h1M69 276.5h1M25 277.5h1M45 277.5h1M51 277.5h1M57 277.5h1M67 277.5h1M70 277.5h1M72 277.5h1M75 277.5h1M45 278.5h1M57 278.5h1M59 278.5h1M62 278.5h2M52 279.5h1M72 279.5h1M74 279.5h1M19 280.5h1M64 280.5h1M72 280.5h2M46 281.5h1M63 281.5h1M69 281.5h1M45 282.5h1M47 282.5h1M58 282.5h1M70 282.5h1M55 283.5h1M60 283.5h1M66 283.5h1M69 283.5h1M72 283.5h1M54 284.5h1M67 284.5h1M72 284.5h1M74 284.5h2M54 285.5h2M61 285.5h1M69 285.5h1M67 286.5h1M69 286.5h1M74 286.5h1M46 287.5h1M52 287.5h1M58 287.5h1M62 287.5h1M67 287.5h1M69 287.5h1M71 287.5h1M45 288.5h1M48 288.5h1M73 288.5h1M45 289.5h1M47 289.5h1M71 289.5h1M75 289.5h1M44 290.5h1M46 290.5h2M52 290.5h1M60 290.5h1M64 290.5h1M68 290.5h4M45 291.5h2M55 291.5h1M66 291.5h1M24 292.5h2M29 292.5h1M45 292.5h1M52 292.5h1M60 292.5h1M67 292.5h1M69 292.5h1M73 292.5h1M48 293.5h1M62 293.5h1M67 293.5h1M2 294.5h1M8 294.5h1M19 294.5h1M27 294.5h1M36 294.5h1M50 294.5h1M4 295.5h1M21 295.5h1M24 295.5h1M28 295.5h1M32 295.5h2M17 296.5h1M23 296.5h1M35 296.5h1M2 297.5h1M4 297.5h1M17 297.5h1M24 297.5h1M36 297.5h1M41 297.5h1M44 297.5h1M49 297.5h1M5 298.5h3M39 298.5h1M32 299.5h1M34 299.5h2M18 300.5h1M21 300.5h2M33 300.5h2M41 300.5h1M47 300.5h1M5 301.5h1M18 301.5h2M25 301.5h1M32 301.5h1M35 301.5h1M50 301.5h1M6 302.5h2M17 302.5h1M20 302.5h1M27 302.5h1M17 303.5h1M31 303.5h1M17 304.5h1M23 304.5h1M31 304.5h1M33 304.5h1M35 304.5h1M2 306.5h1M5 306.5h1M13 306.5h1M26 306.5h1M28 306.5h1M4 307.5h1M12 307.5h1M21 307.5h3M33 307.5h1M12 308.5h1M21 308.5h1M35 308.5h1M4 309.5h1M7 309.5h1M22 309.5h1M2 310.5h2M30 310.5h1M3 311.5h1M17 311.5h1M27 311.5h1M35 311.5h2M3 312.5h1M12 312.5h2M26 312.5h1M33 312.5h1M48 312.5h2M51 312.5h1M12 313.5h1M19 313.5h1M24 313.5h1M35 313.5h1M50 313.5h1M3 314.5h1M5 314.5h1M15 314.5h1M25 314.5h1M40 314.5h1M15 315.5h2M19 315.5h2M30 315.5h1M34 315.5h2M47 315.5h1M50 315.5h1M11 316.5h1M35 316.5h2M47 316.5h1M15 317.5h1M17 317.5h1M19 317.5h2M29 317.5h2M33 317.5h1M29 318.5h3M2 319.5h1M25 319.5h2M36 319.5h1M3 320.5h1M22 320.5h2M25 320.5h2M31 320.5h2M3 321.5h1M25 321.5h1M31 321.5h1M34 321.5h1M45 321.5h1M3 322.5h1M26 322.5h1M47 322.5h1M18 323.5h2M31 323.5h2M34 323.5h1M50 323.5h1M3 324.5h1M29 324.5h1M34 324.5h1M4 325.5h1M27 325.5h2M4 326.5h1M10 326.5h1M18 326.5h1M27 326.5h2M30 326.5h1M35 326.5h1M49 326.5h1M9 327.5h1M11 327.5h1M18 327.5h3M26 327.5h1M30 327.5h1M40 327.5h1M44 327.5h1M3 328.5h1M10 328.5h1M17 328.5h2M24 328.5h2M30 328.5h2M35 328.5h1M39 328.5h2M7 329.5h1M15 329.5h1M18 329.5h1M28 329.5h2M32 329.5h1M39 329.5h1M44 329.5h1M6 330.5h1M26 330.5h1M7 331.5h1M18 331.5h1M25 331.5h2M31 331.5h1M13 332.5h1M16 332.5h1M19 332.5h2M24 332.5h2M30 332.5h1M50 332.5h1M6 333.5h2M15 333.5h1M17 333.5h3M39 333.5h1M9 334.5h1M11 334.5h1M16 334.5h1M21 334.5h1M3 335.5h1M6 335.5h1M8 335.5h1M27 335.5h2M44 335.5h1M13 336.5h1M28 336.5h1M18 338.5h1M34 338.5h1M14 339.5h1M32 339.5h1M35 339.5h1M2 340.5h1M5 340.5h1M12 340.5h1M21 340.5h1M23 340.5h1M4 341.5h1M14 341.5h1M19 341.5h1M23 341.5h1M36 341.5h1M2 342.5h2M16 342.5h1M20 342.5h1M31 342.5h1M33 342.5h1M39 342.5h1M14 343.5h1M36 343.5h1M4 344.5h2M14 344.5h1M18 344.5h1M21 344.5h1M29 344.5h1M33 344.5h3M44 344.5h1M2 345.5h2M13 345.5h1M17 345.5h1M20 345.5h1M26 345.5h1M29 345.5h1M31 345.5h1M35 345.5h1M7 346.5h1M17 346.5h1M22 346.5h1M27 346.5h2M31 346.5h1M2 347.5h1M15 347.5h3M33 347.5h1M35 347.5h1M4 348.5h2M17 348.5h1M21 348.5h1M24 348.5h1M3 349.5h1M22 349.5h1M44 349.5h2M52 349.5h1M2 350.5h1M11 350.5h1M35 350.5h1M39 350.5h1M44 350.5h1M51 350.5h1"/><path stroke="#400000" d="M9 0.5h1M55 0.5h1M65 0.5h2M2 2.5h1M11 2.5h1M60 2.5h1M73 2.5h1M8 3.5h1M54 3.5h2M62 3.5h1M73 3.5h1M10 4.5h1M16 4.5h1M35 4.5h1M54 4.5h1M62 4.5h1M71 4.5h2M9 5.5h1M11 5.5h1M56 5.5h1M11 6.5h1M34 6.5h1M52 6.5h1M71 6.5h1M11 7.5h1M53 7.5h3M71 7.5h1M40 9.5h1M64 10.5h1M71 10.5h1M71 11.5h1M8 12.5h1M69 12.5h2M74 12.5h1M8 13.5h1M11 13.5h1M53 13.5h1M10 14.5h1M64 14.5h2M3 15.5h1M6 15.5h1M9 15.5h1M65 15.5h1M30 16.5h1M32 16.5h1M55 16.5h1M52 17.5h1M56 17.5h1M71 17.5h1M75 17.5h1M54 18.5h1M64 18.5h1M68 18.5h1M72 18.5h1M75 18.5h1M2 19.5h1M7 19.5h1M33 19.5h1M59 19.5h1M64 19.5h1M71 19.5h1M6 20.5h1M33 20.5h1M65 20.5h1M72 20.5h1M52 21.5h1M62 21.5h1M10 22.5h1M11 23.5h1M47 23.5h1M56 23.5h1M60 23.5h1M73 23.5h1M8 24.5h1M68 24.5h1M72 24.5h1M8 25.5h1M67 25.5h1M72 25.5h1M2 26.5h1M49 26.5h1M67 26.5h1M32 27.5h1M53 27.5h1M31 28.5h1M54 28.5h1M62 28.5h1M28 29.5h1M32 29.5h1M61 29.5h1M64 30.5h1M2 31.5h1M8 31.5h1M56 31.5h1M10 32.5h1M62 32.5h1M52 33.5h1M54 33.5h1M66 33.5h1M69 33.5h1M2 34.5h1M72 34.5h1M9 35.5h1M49 35.5h1M53 35.5h1M10 36.5h1M20 36.5h1M31 36.5h1M6 37.5h1M16 37.5h1M63 37.5h1M72 37.5h1M8 38.5h1M11 38.5h1M11 39.5h1M53 39.5h1M9 40.5h1M63 40.5h1M67 40.5h1M8 41.5h1M11 41.5h1M16 41.5h1M31 41.5h1M59 41.5h1M64 41.5h1M70 41.5h1M8 42.5h3M32 42.5h1M49 42.5h1M62 42.5h1M70 42.5h1M10 43.5h1M55 43.5h2M62 43.5h1M52 44.5h1M56 44.5h1M9 45.5h1M11 45.5h1M53 45.5h1M7 46.5h2M54 46.5h1M56 46.5h1M6 47.5h1M62 47.5h1M29 48.5h1M63 48.5h1M5 49.5h1M7 49.5h2M22 49.5h1M27 49.5h1M56 49.5h1M63 49.5h1M10 50.5h1M64 50.5h1M7 51.5h3M74 51.5h1M4 52.5h1M7 52.5h1M4 53.5h1M27 54.5h1M17 55.5h1M52 55.5h1M5 56.5h1M30 57.5h1M36 57.5h1M3 58.5h2M36 58.5h1M4 59.5h1M8 59.5h1M15 59.5h1M35 59.5h1M35 60.5h1M34 61.5h1M3 62.5h1M23 63.5h1M28 63.5h1M52 63.5h1M2 64.5h1M10 64.5h2M17 64.5h1M2 65.5h1M7 65.5h2M15 65.5h1M17 65.5h1M8 66.5h1M64 68.5h1M5 69.5h1M56 69.5h1M73 69.5h1M3 70.5h3M52 70.5h1M13 71.5h1M3 72.5h1M19 72.5h1M52 72.5h1M4 73.5h1M52 73.5h1M5 74.5h1M8 74.5h1M28 74.5h1M4 75.5h1M11 75.5h1M36 75.5h1M48 75.5h2M23 76.5h1M52 76.5h1M63 76.5h1M4 77.5h2M9 77.5h1M8 78.5h1M10 78.5h2M56 78.5h1M62 78.5h1M9 79.5h2M21 79.5h1M9 80.5h1M36 80.5h1M62 80.5h1M26 81.5h2M23 82.5h1M30 82.5h1M34 82.5h1M53 82.5h1M19 83.5h1M5 84.5h1M19 85.5h1M28 85.5h1M65 85.5h1M11 86.5h1M28 87.5h1M10 88.5h1M22 88.5h1M53 88.5h1M69 88.5h1M22 89.5h1M29 89.5h1M7 90.5h1M9 90.5h1M28 90.5h1M23 91.5h1M53 91.5h1M52 92.5h1M54 92.5h1M8 93.5h1M23 93.5h1M68 93.5h1M12 94.5h1M52 94.5h1M8 95.5h1M14 97.5h1M4 98.5h1M19 98.5h1M20 99.5h1M34 99.5h1M3 100.5h1M19 100.5h1M26 100.5h1M29 100.5h1M63 100.5h1M69 100.5h1M19 101.5h1M23 101.5h1M53 101.5h1M68 102.5h1M21 103.5h1M29 103.5h1M54 103.5h1M56 103.5h2M28 104.5h2M50 104.5h1M53 104.5h1M2 105.5h2M8 105.5h1M10 105.5h1M50 105.5h1M53 105.5h1M24 106.5h1M67 106.5h2M9 107.5h1M13 107.5h1M22 107.5h1M48 108.5h1M68 108.5h1M3 109.5h1M64 109.5h1M8 110.5h1M64 110.5h1M9 112.5h1M70 112.5h1M2 113.5h1M19 113.5h1M53 113.5h1M68 113.5h1M19 114.5h2M26 114.5h1M56 114.5h1M68 114.5h1M70 114.5h1M24 116.5h1M13 117.5h1M20 117.5h1M42 117.5h1M53 117.5h1M69 117.5h1M27 118.5h1M60 119.5h2M2 120.5h1M14 120.5h1M42 120.5h1M50 121.5h1M2 122.5h1M8 122.5h1M12 122.5h1M14 122.5h1M19 122.5h1M23 122.5h1M27 122.5h1M60 122.5h2M2 124.5h1M52 124.5h1M69 124.5h1M41 125.5h1M21 126.5h1M54 126.5h1M56 127.5h1M14 128.5h1M13 129.5h1M23 129.5h1M14 130.5h1M8 131.5h1M2 132.5h1M24 132.5h1M58 132.5h1M13 133.5h1M41 133.5h1M61 133.5h1M9 134.5h1M8 135.5h1M24 135.5h1M52 135.5h1M66 135.5h1M2 136.5h1M11 136.5h1M55 137.5h1M40 138.5h1M19 139.5h1M23 139.5h1M32 141.5h1M40 141.5h2M14 142.5h1M25 142.5h1M54 142.5h1M14 143.5h1M41 144.5h2M13 145.5h1M51 145.5h1M53 145.5h1M13 146.5h1M52 146.5h1M9 147.5h2M62 147.5h1M9 148.5h1M24 148.5h1M26 148.5h2M3 149.5h1M24 149.5h1M19 150.5h1M24 150.5h1M29 150.5h1M41 150.5h1M8 151.5h1M29 151.5h1M11 153.5h1M72 154.5h1M61 155.5h1M72 155.5h1M63 156.5h1M68 157.5h1M60 158.5h1M62 158.5h1M65 158.5h1M73 158.5h1M43 159.5h1M57 159.5h3M64 159.5h2M58 160.5h1M70 160.5h1M72 160.5h1M48 161.5h1M50 161.5h1M59 161.5h1M61 161.5h2M67 161.5h1M69 161.5h1M71 161.5h1M73 161.5h1M45 162.5h1M58 162.5h1M69 162.5h1M71 162.5h2M45 163.5h1M69 163.5h2M45 164.5h1M55 164.5h1M62 164.5h1M72 164.5h1M57 165.5h1M44 167.5h1M46 167.5h1M54 167.5h1M57 167.5h1M61 167.5h2M70 167.5h1M51 168.5h1M51 169.5h1M53 169.5h1M53 170.5h1M66 170.5h1M74 170.5h1M62 171.5h3M52 172.5h1M63 172.5h2M74 172.5h1M52 173.5h1M58 173.5h1M62 173.5h1M60 174.5h1M69 174.5h2M68 175.5h2M71 175.5h1M51 176.5h2M69 176.5h1M52 177.5h1M58 179.5h2M72 179.5h1M74 179.5h2M59 180.5h1M71 180.5h1M46 181.5h1M58 181.5h1M62 181.5h1M71 181.5h1M75 181.5h1M47 182.5h1M57 184.5h1M68 185.5h1M70 185.5h2M43 186.5h2M74 186.5h1M63 187.5h1M72 187.5h1M74 187.5h1M66 188.5h1M43 189.5h1M52 189.5h1M64 189.5h1M72 189.5h1M75 189.5h1M62 190.5h1M65 190.5h1M68 190.5h1M66 191.5h1M46 192.5h2M52 192.5h1M61 192.5h1M68 192.5h2M75 192.5h1M57 193.5h1M59 193.5h1M66 193.5h1M74 193.5h1M52 194.5h1M63 194.5h1M65 194.5h1M52 195.5h1M63 195.5h1M66 198.5h2M45 199.5h1M51 199.5h1M67 199.5h1M52 200.5h1M61 200.5h2M60 201.5h2M43 202.5h1M65 202.5h1M44 203.5h1M52 203.5h1M66 203.5h3M52 204.5h1M60 204.5h1M67 204.5h1M70 204.5h1M75 204.5h1M47 205.5h1M57 205.5h1M60 205.5h1M70 205.5h1M62 206.5h1M70 206.5h1M63 207.5h1M65 207.5h1M67 207.5h2M52 208.5h3M69 208.5h1M71 209.5h1M75 209.5h1M58 210.5h1M69 210.5h1M72 210.5h1M44 211.5h1M62 211.5h1M67 211.5h1M70 211.5h1M30 212.5h1M44 212.5h1M52 212.5h1M59 212.5h1M67 212.5h1M71 212.5h3M42 213.5h1M44 213.5h1M52 213.5h2M57 213.5h1M69 213.5h1M71 213.5h1M73 213.5h1M47 214.5h1M58 214.5h1M45 215.5h1M52 215.5h1M68 215.5h1M64 216.5h3M68 216.5h1M70 216.5h1M58 217.5h1M61 217.5h1M68 217.5h1M54 218.5h1M57 218.5h1M67 218.5h1M54 219.5h2M57 219.5h1M46 220.5h2M50 220.5h1M61 220.5h1M72 220.5h1M53 221.5h1M72 221.5h1M47 222.5h1M52 222.5h1M71 222.5h4M67 223.5h1M69 223.5h4M63 224.5h1M65 224.5h1M73 224.5h1M52 225.5h1M64 225.5h1M74 225.5h1M62 226.5h1M67 226.5h1M58 227.5h1M60 227.5h1M62 227.5h1M50 228.5h1M59 228.5h1M44 229.5h1M65 229.5h1M71 229.5h1M68 230.5h1M75 230.5h1M58 232.5h1M71 232.5h1M46 233.5h1M57 233.5h1M68 233.5h1M70 233.5h1M72 233.5h1M44 234.5h1M57 234.5h2M71 234.5h1M63 235.5h1M65 235.5h1M72 235.5h1M66 236.5h2M66 237.5h2M70 237.5h1M44 238.5h1M44 239.5h1M65 239.5h1M67 239.5h1M46 240.5h1M57 240.5h1M61 240.5h1M59 241.5h1M69 241.5h1M72 241.5h1M61 243.5h1M74 243.5h1M52 244.5h1M72 244.5h1M74 244.5h1M66 245.5h3M73 245.5h1M66 246.5h1M68 246.5h1M73 246.5h1M67 247.5h2M73 247.5h2M52 248.5h1M68 248.5h1M24 249.5h1M67 249.5h1M70 249.5h1M74 249.5h2M74 250.5h1M45 251.5h1M50 251.5h1M57 251.5h1M67 251.5h1M47 252.5h1M57 252.5h1M62 252.5h1M71 252.5h1M74 252.5h1M62 253.5h1M62 254.5h1M24 255.5h1M67 255.5h1M71 255.5h1M63 256.5h2M69 256.5h1M23 257.5h1M63 257.5h1M65 257.5h1M70 257.5h1M45 258.5h1M65 258.5h1M53 259.5h1M61 259.5h1M75 259.5h1M61 260.5h1M11 261.5h1M53 261.5h1M66 261.5h1M9 262.5h1M48 262.5h1M60 262.5h2M63 262.5h1M75 262.5h1M62 263.5h1M70 263.5h1M73 263.5h1M49 264.5h1M53 264.5h1M62 264.5h1M23 265.5h1M30 265.5h1M44 265.5h1M47 265.5h1M58 265.5h1M64 265.5h1M46 266.5h1M51 266.5h1M53 267.5h1M57 267.5h1M73 267.5h1M51 268.5h1M68 268.5h1M75 269.5h1M60 271.5h2M71 271.5h1M51 272.5h1M62 272.5h1M70 272.5h1M75 272.5h1M73 273.5h1M50 274.5h1M56 274.5h1M72 274.5h2M61 275.5h1M52 276.5h1M63 276.5h2M71 276.5h1M53 277.5h1M63 277.5h1M24 278.5h1M47 278.5h1M52 278.5h1M64 278.5h3M65 279.5h1M69 279.5h1M47 280.5h1M55 280.5h1M52 281.5h1M54 281.5h1M66 281.5h1M56 282.5h1M66 282.5h1M75 282.5h1M47 283.5h1M67 283.5h2M44 284.5h1M68 284.5h1M73 284.5h1M59 285.5h1M52 286.5h1M59 286.5h1M61 286.5h1M71 286.5h1M47 287.5h1M30 288.5h1M67 288.5h1M71 288.5h1M51 289.5h1M63 289.5h1M73 289.5h1M66 290.5h1M47 291.5h1M72 291.5h1M74 291.5h2M49 293.5h1M51 293.5h2M65 293.5h1M71 293.5h1M5 294.5h1M30 294.5h1M48 295.5h1M50 295.5h1M14 297.5h1M48 297.5h1M2 298.5h1M8 298.5h1M33 298.5h1M41 298.5h1M26 299.5h1M33 299.5h1M2 300.5h1M4 300.5h2M20 300.5h1M27 300.5h1M35 300.5h1M40 300.5h1M49 300.5h1M3 301.5h1M33 301.5h1M2 302.5h1M30 302.5h2M50 302.5h1M25 303.5h1M30 303.5h1M34 303.5h1M30 304.5h1M32 304.5h1M36 304.5h1M35 306.5h1M3 308.5h2M6 308.5h2M39 308.5h1M31 309.5h4M4 311.5h1M24 311.5h1M28 311.5h1M31 311.5h1M5 312.5h1M25 312.5h1M28 312.5h1M5 313.5h1M14 313.5h1M26 313.5h1M31 313.5h1M20 314.5h1M26 314.5h1M30 314.5h2M31 315.5h1M36 315.5h1M18 316.5h1M31 316.5h1M50 316.5h1M47 317.5h1M2 318.5h1M12 318.5h1M19 318.5h1M32 319.5h1M13 320.5h1M24 320.5h1M30 320.5h1M28 321.5h1M35 321.5h1M24 322.5h1M30 322.5h1M33 322.5h1M18 324.5h1M27 324.5h2M31 324.5h1M35 324.5h1M18 325.5h1M20 325.5h1M34 325.5h1M5 326.5h1M11 326.5h1M25 326.5h1M33 326.5h1M2 327.5h2M25 327.5h1M28 327.5h1M19 328.5h1M41 328.5h1M8 329.5h1M20 329.5h1M23 329.5h1M34 329.5h2M41 329.5h1M51 329.5h1M18 330.5h1M20 330.5h1M25 330.5h1M39 330.5h1M49 331.5h1M6 332.5h1M34 332.5h1M13 333.5h1M33 333.5h1M44 333.5h1M21 335.5h1M36 337.5h1M33 338.5h1M36 338.5h1M5 339.5h1M30 339.5h1M4 340.5h1M13 340.5h1M34 340.5h1M12 341.5h1M18 341.5h1M22 341.5h1M30 341.5h1M44 341.5h1M4 342.5h1M15 342.5h1M36 342.5h1M3 343.5h1M18 343.5h1M12 344.5h1M6 345.5h1M22 345.5h1M27 345.5h1M32 345.5h1M34 345.5h1M4 346.5h1M29 346.5h1M32 346.5h1M27 347.5h2M31 347.5h1M16 348.5h1M28 348.5h2M7 349.5h1M19 349.5h1M33 349.5h1M9 350.5h1M14 350.5h1M18 350.5h2M22 350.5h1M24 350.5h1M33 350.5h1M41 350.5h1"/><path stroke="#4a0000" d="M31 0.5h1M63 0.5h1M75 0.5h1M2 1.5h1M10 1.5h1M56 1.5h1M62 1.5h1M10 2.5h1M54 2.5h1M57 3.5h1M56 4.5h1M66 4.5h1M74 4.5h1M22 7.5h1M35 7.5h1M45 8.5h1M8 9.5h1M62 9.5h1M74 9.5h1M9 10.5h2M54 10.5h1M9 11.5h2M61 11.5h1M73 11.5h1M10 12.5h1M53 12.5h1M64 12.5h1M70 13.5h1M6 14.5h1M52 14.5h1M54 14.5h2M66 14.5h1M72 14.5h1M7 15.5h1M52 15.5h1M62 15.5h1M66 15.5h1M69 15.5h1M6 16.5h1M8 16.5h1M56 16.5h1M65 16.5h1M69 16.5h2M69 18.5h1M73 18.5h2M10 19.5h1M53 19.5h1M68 19.5h1M10 20.5h1M59 20.5h1M75 20.5h1M31 21.5h1M66 21.5h1M58 22.5h1M60 22.5h1M62 23.5h1M61 24.5h1M75 25.5h1M11 26.5h1M52 26.5h1M56 27.5h1M62 27.5h1M11 28.5h1M11 29.5h1M56 29.5h1M63 31.5h1M9 32.5h1M52 32.5h1M49 33.5h1M56 33.5h1M8 35.5h1M34 35.5h2M3 36.5h1M8 36.5h1M34 36.5h1M66 36.5h1M54 37.5h1M10 38.5h1M54 38.5h1M8 39.5h2M55 39.5h1M62 39.5h1M69 40.5h1M55 41.5h1M65 41.5h1M69 41.5h1M54 43.5h1M64 43.5h1M72 43.5h1M2 44.5h1M8 44.5h1M10 45.5h1M61 45.5h1M3 46.5h1M55 46.5h1M11 47.5h1M65 47.5h1M9 48.5h2M52 48.5h1M28 49.5h1M54 49.5h1M9 50.5h1M11 50.5h1M53 50.5h3M52 52.5h1M5 54.5h1M3 56.5h2M34 56.5h1M52 57.5h1M10 58.5h1M21 58.5h1M29 58.5h1M6 59.5h1M27 59.5h1M20 60.5h1M28 60.5h2M10 61.5h1M53 61.5h1M68 62.5h1M36 63.5h1M9 64.5h1M9 65.5h1M11 65.5h1M26 65.5h1M62 67.5h1M69 67.5h1M62 68.5h2M8 70.5h1M54 70.5h1M6 71.5h1M4 72.5h1M10 74.5h1M5 75.5h1M10 75.5h1M26 76.5h1M21 77.5h1M28 78.5h1M35 78.5h1M22 79.5h1M2 80.5h1M29 80.5h1M52 82.5h1M7 83.5h1M20 83.5h1M4 84.5h1M55 85.5h1M16 86.5h1M20 86.5h1M27 86.5h2M56 86.5h1M63 86.5h1M11 87.5h1M52 87.5h1M63 87.5h1M28 88.5h1M9 89.5h1M53 89.5h1M62 89.5h1M8 90.5h1M23 90.5h1M68 90.5h1M6 91.5h2M31 91.5h1M55 91.5h1M68 91.5h1M8 92.5h1M55 92.5h1M12 93.5h1M10 94.5h1M27 94.5h1M3 95.5h1M23 95.5h1M6 96.5h1M8 96.5h1M23 96.5h1M53 97.5h1M53 98.5h1M2 99.5h1M12 99.5h1M69 99.5h1M3 101.5h1M12 101.5h1M20 101.5h1M29 101.5h1M21 102.5h1M22 103.5h1M23 104.5h1M9 105.5h1M11 105.5h1M63 106.5h1M23 107.5h1M55 108.5h1M66 109.5h1M52 110.5h1M8 111.5h1M20 111.5h1M11 113.5h1M3 114.5h1M23 115.5h2M3 117.5h1M8 117.5h1M26 117.5h1M55 117.5h1M2 118.5h2M41 120.5h1M70 120.5h1M2 121.5h1M14 121.5h1M29 122.5h1M62 122.5h1M52 123.5h1M3 124.5h1M41 124.5h1M19 125.5h1M56 125.5h1M13 126.5h1M19 126.5h1M52 126.5h1M8 128.5h1M13 128.5h1M54 128.5h1M70 128.5h1M3 130.5h1M59 131.5h1M8 132.5h1M14 133.5h1M21 133.5h1M24 133.5h1M14 134.5h1M21 134.5h1M22 135.5h1M53 136.5h1M53 138.5h1M52 141.5h1M2 142.5h1M24 142.5h1M62 142.5h1M40 144.5h1M2 145.5h1M14 145.5h1M14 146.5h1M21 146.5h1M23 146.5h1M2 147.5h1M27 147.5h1M42 147.5h1M20 148.5h1M52 148.5h1M10 149.5h2M27 149.5h1M29 149.5h1M21 150.5h1M27 150.5h2M2 151.5h1M3 152.5h1M27 152.5h1M29 152.5h1M52 152.5h1M19 153.5h1M73 155.5h1M64 157.5h1M44 158.5h1M63 158.5h1M66 162.5h1M71 163.5h1M47 164.5h1M55 167.5h1M74 167.5h1M60 168.5h1M70 168.5h1M75 169.5h1M75 170.5h1M67 171.5h2M75 171.5h1M63 173.5h1M57 178.5h1M69 179.5h1M75 180.5h1M59 182.5h1M73 182.5h1M67 185.5h1M71 186.5h1M55 191.5h1M60 191.5h1M62 191.5h1M73 192.5h1M47 193.5h1M58 193.5h1M51 194.5h1M58 194.5h1M64 195.5h1M65 197.5h1M52 198.5h1M63 198.5h1M52 199.5h1M64 199.5h1M52 201.5h1M55 207.5h1M71 211.5h1M75 211.5h1M43 212.5h1M75 212.5h1M43 213.5h1M51 215.5h1M52 216.5h1M60 218.5h3M56 219.5h1M70 222.5h1M52 223.5h1M52 224.5h1M70 224.5h1M75 224.5h1M65 225.5h1M63 226.5h1M63 227.5h1M65 227.5h1M62 230.5h1M66 230.5h1M59 232.5h1M69 233.5h1M71 233.5h1M44 235.5h1M52 236.5h1M68 236.5h1M68 237.5h1M67 238.5h1M64 239.5h1M68 239.5h1M52 240.5h1M58 240.5h2M52 241.5h1M57 241.5h2M73 242.5h1M49 247.5h1M66 247.5h1M69 247.5h3M59 248.5h1M66 248.5h1M71 248.5h1M57 249.5h1M66 249.5h1M72 249.5h2M66 250.5h1M73 250.5h1M75 250.5h1M52 251.5h1M46 252.5h1M61 252.5h1M23 253.5h1M71 253.5h1M2 257.5h1M52 258.5h1M60 259.5h1M9 261.5h2M46 261.5h2M75 261.5h1M2 262.5h1M53 262.5h1M2 263.5h1M72 264.5h2M72 265.5h2M2 266.5h1M59 267.5h1M53 269.5h1M59 269.5h1M55 274.5h1M59 274.5h1M54 275.5h1M52 277.5h1M65 277.5h1M51 279.5h1M63 279.5h1M46 282.5h1M52 282.5h1M67 282.5h1M45 287.5h1M70 287.5h1M68 288.5h1M75 288.5h1M66 289.5h1M72 289.5h1M67 290.5h1M52 291.5h1M68 292.5h1M60 293.5h1M66 293.5h1M22 295.5h1M2 296.5h1M22 296.5h1M34 296.5h1M50 296.5h1M50 297.5h1M24 298.5h1M24 299.5h1M27 299.5h2M23 300.5h1M4 301.5h1M27 301.5h1M3 302.5h1M5 302.5h1M18 302.5h1M32 303.5h1M32 305.5h1M3 306.5h1M2 308.5h1M22 308.5h2M34 308.5h1M2 309.5h1M35 309.5h1M32 310.5h1M16 311.5h1M23 311.5h1M29 311.5h1M32 311.5h1M15 312.5h2M24 312.5h1M16 313.5h1M33 315.5h1M32 316.5h1M49 316.5h1M18 317.5h1M27 317.5h1M26 318.5h1M32 318.5h1M14 319.5h1M31 319.5h1M26 321.5h1M32 321.5h1M49 322.5h1M2 323.5h1M33 323.5h1M2 324.5h1M23 324.5h1M32 324.5h1M40 325.5h1M3 326.5h1M19 326.5h1M31 326.5h1M10 327.5h1M24 327.5h1M2 328.5h1M19 330.5h1M33 330.5h2M40 330.5h1M24 331.5h1M12 332.5h1M35 332.5h1M35 333.5h1M3 334.5h1M15 334.5h1M2 335.5h1M35 338.5h1M31 340.5h1M32 341.5h1M17 343.5h1M33 345.5h1M30 346.5h1M29 347.5h1M4 349.5h2M8 350.5h1M20 350.5h1M25 350.5h2M40 350.5h1"/><path stroke="#550000" d="M2 0.5h1M8 0.5h1M64 0.5h1M9 1.5h1M54 1.5h1M66 1.5h1M8 2.5h2M61 2.5h1M9 3.5h1M52 5.5h1M66 5.5h1M8 8.5h1M10 8.5h1M56 8.5h1M11 9.5h1M52 9.5h1M55 9.5h2M74 10.5h1M11 11.5h1M53 11.5h2M63 11.5h1M69 11.5h1M54 12.5h2M7 13.5h1M11 14.5h1M56 14.5h1M69 14.5h1M71 14.5h1M55 15.5h2M63 15.5h1M74 15.5h1M7 16.5h1M61 16.5h1M52 18.5h1M71 18.5h1M3 19.5h1M52 19.5h1M9 20.5h1M69 20.5h1M71 20.5h1M11 21.5h1M70 21.5h1M75 21.5h1M9 22.5h1M10 23.5h1M52 23.5h1M62 24.5h1M3 27.5h1M55 27.5h1M10 28.5h1M55 29.5h1M11 30.5h1M54 30.5h1M6 32.5h1M55 32.5h2M53 34.5h1M53 36.5h1M11 40.5h1M9 41.5h1M63 41.5h1M20 42.5h1M65 42.5h1M2 43.5h1M75 44.5h1M6 45.5h1M8 45.5h1M52 46.5h1M10 51.5h2M5 53.5h1M8 53.5h2M36 53.5h1M35 57.5h1M7 59.5h1M9 61.5h1M35 61.5h1M52 62.5h1M3 64.5h1M6 64.5h1M8 64.5h1M15 64.5h1M22 64.5h1M10 65.5h1M6 66.5h1M3 68.5h1M3 69.5h1M7 71.5h1M9 73.5h1M11 74.5h1M28 79.5h1M27 80.5h1M19 82.5h1M18 83.5h1M19 84.5h1M29 85.5h1M63 85.5h1M29 86.5h1M36 86.5h1M27 87.5h1M55 87.5h1M23 88.5h1M8 91.5h1M6 92.5h1M65 92.5h1M69 94.5h1M3 96.5h1M34 98.5h1M36 98.5h1M3 99.5h1M2 100.5h1M2 103.5h1M27 103.5h2M3 106.5h1M9 106.5h1M3 107.5h1M56 108.5h1M69 108.5h1M2 109.5h1M5 110.5h1M3 111.5h1M2 112.5h1M3 113.5h1M20 113.5h1M2 114.5h1M3 115.5h1M21 117.5h1M24 117.5h1M42 118.5h1M52 119.5h1M62 119.5h1M2 123.5h1M10 125.5h1M52 127.5h1M23 128.5h1M2 129.5h1M13 130.5h1M12 133.5h1M8 136.5h1M51 137.5h1M53 137.5h1M20 139.5h1M61 142.5h1M2 143.5h1M42 145.5h1M52 145.5h1M54 145.5h1M21 147.5h1M26 147.5h1M41 151.5h1M8 152.5h1M52 168.5h1M52 169.5h1M67 170.5h1M66 171.5h1M70 175.5h1M57 179.5h1M69 190.5h1M75 191.5h1M57 194.5h1M64 198.5h2M53 199.5h1M44 202.5h1M52 207.5h1M66 207.5h1M52 214.5h2M75 217.5h1M75 218.5h1M61 219.5h1M75 222.5h1M64 227.5h1M75 232.5h1M69 248.5h2M72 250.5h1M72 251.5h1M74 251.5h1M52 252.5h1M73 252.5h1M66 255.5h1M71 257.5h1M52 260.5h1M60 260.5h1M52 261.5h1M72 263.5h1M2 264.5h1M64 279.5h1M54 282.5h2M52 288.5h1M52 289.5h1M67 289.5h2M74 289.5h1M74 290.5h1M73 291.5h1M75 292.5h1M36 295.5h1M48 296.5h1M21 301.5h1M29 301.5h1M5 308.5h1M15 311.5h1M30 312.5h1M32 312.5h1M32 313.5h1M33 316.5h1M2 320.5h1M19 324.5h1M3 325.5h1M32 325.5h1M2 326.5h1M33 329.5h1M40 329.5h1M41 330.5h1M26 332.5h1M15 341.5h1M17 341.5h1M35 349.5h1"/><path stroke="#600000" d="M29 0.5h1M56 0.5h1M61 1.5h1M62 2.5h1M61 3.5h1M9 4.5h1M11 4.5h1M67 4.5h1M10 6.5h1M10 7.5h1M11 8.5h1M55 8.5h1M73 10.5h1M9 12.5h1M11 12.5h1M71 12.5h1M6 13.5h1M71 13.5h1M53 15.5h2M8 17.5h1M8 19.5h1M11 20.5h1M52 20.5h1M63 21.5h1M73 21.5h1M61 23.5h1M52 24.5h1M11 25.5h1M54 27.5h1M54 29.5h1M10 31.5h1M52 31.5h1M52 34.5h1M3 35.5h1M3 37.5h1M8 37.5h1M11 37.5h1M9 38.5h1M53 38.5h1M10 39.5h1M52 39.5h1M10 40.5h1M62 41.5h1M54 42.5h1M63 42.5h2M52 43.5h1M63 43.5h1M10 44.5h1M9 46.5h1M9 47.5h1M55 47.5h1M75 47.5h1M3 50.5h1M52 50.5h1M11 57.5h1M52 61.5h1M36 62.5h1M36 72.5h1M44 72.5h1M9 74.5h1M4 76.5h1M2 79.5h1M20 82.5h1M23 83.5h1M54 86.5h1M29 87.5h1M52 88.5h1M23 89.5h1M52 89.5h1M69 89.5h1M11 90.5h1M56 90.5h1M7 92.5h1M7 93.5h1M4 97.5h1M3 103.5h1M11 106.5h1M52 106.5h1M2 107.5h1M8 107.5h1M52 107.5h1M2 108.5h1M8 108.5h1M7 109.5h1M3 112.5h1M2 117.5h1M54 127.5h1M11 135.5h1M69 135.5h1M52 138.5h1M19 140.5h1M52 140.5h1M52 147.5h1M2 148.5h1M11 148.5h1M28 149.5h1M3 150.5h1M63 197.5h2M57 217.5h1M57 248.5h1M52 259.5h1M51 269.5h1M54 274.5h1M54 280.5h1M73 290.5h1M28 300.5h2M31 310.5h1M31 312.5h1M30 313.5h1M31 317.5h1M21 350.5h1"/><path stroke="#6a0000" d="M54 6.5h1M56 7.5h1M54 8.5h1M10 9.5h1M54 9.5h1M73 9.5h1M53 10.5h1M63 10.5h1M52 11.5h1M52 13.5h1M8 14.5h1M70 14.5h1M8 15.5h1M52 16.5h1M75 16.5h1M3 23.5h1M53 25.5h1M3 26.5h1M8 28.5h1M11 31.5h1M54 31.5h1M11 32.5h1M54 32.5h1M52 36.5h1M10 41.5h1M52 41.5h1M56 42.5h1M9 43.5h1M11 46.5h1M8 47.5h1M52 58.5h1M53 60.5h1M6 65.5h1M26 77.5h1M28 80.5h1M54 85.5h1M22 90.5h1M52 90.5h1M52 91.5h1M6 93.5h1M52 103.5h1M10 106.5h1M69 106.5h1M10 107.5h1M3 131.5h1M52 136.5h1M23 140.5h1M72 290.5h1M23 350.5h1"/><path stroke="#750000" d="M27 0.5h1M54 0.5h1M11 1.5h1M11 3.5h1M8 4.5h1M61 4.5h1M54 5.5h1M56 6.5h1M52 10.5h1M10 15.5h1M71 15.5h1M8 18.5h1M8 20.5h1M10 21.5h1M53 24.5h1M74 25.5h1M52 27.5h1M55 28.5h1M8 32.5h1M52 40.5h1M11 42.5h1M11 43.5h1M10 46.5h1M52 60.5h1M52 95.5h1M69 95.5h1M53 99.5h1M22 102.5h1M23 103.5h1M69 107.5h1M52 108.5h1M2 110.5h2M2 111.5h1M10 112.5h1M52 116.5h1M3 123.5h1M55 127.5h1M52 270.5h1"/><path stroke="#800000" d="M56 28.5h1M52 35.5h1M52 37.5h1M10 47.5h1M52 51.5h1M52 97.5h1M52 101.5h1M23 102.5h1M3 104.5h1M52 104.5h1M52 109.5h1M52 111.5h1M52 118.5h1"/><path stroke="#8a0000" d="M28 0.5h1M52 38.5h1M52 96.5h1M52 100.5h1M52 102.5h1M52 105.5h1M52 114.5h1M52 262.5h1M52 264.5h1M52 265.5h1M52 266.5h1M52 274.5h1"/><path stroke="#950000" d="M52 25.5h1M52 59.5h1M3 97.5h1M52 98.5h1M52 112.5h1M52 113.5h1M52 137.5h1M52 267.5h1M52 271.5h1M52 272.5h1M52 273.5h1M52 275.5h1"/><path stroke="#9f0000" d="M52 12.5h1M2 116.5h1M52 263.5h1M52 268.5h1"/><path stroke="#b50000" d="M52 117.5h1M52 269.5h1"/><path stroke="#bf0000" d="M52 99.5h1"/></g></g>
<g font-size="6.8" font-weight="bold" fill="#111"><text x="177.7" y="508.1">21</text><text x="195.3" y="508.1">1</text><text x="284.2" y="508.3">2</text><text x="325.6" y="508.3">* *</text><text x="386.6" y="508.3">*</text></g>
<text x="139.2" y="525.8" font-size="13.6" font-weight="bold" fill="#111">Tissues</text>
<text x="290.4" y="525.8" font-size="13.6" font-weight="bold" fill="#111">Histone enrichment</text>
<text x="150.7" y="542.5" font-size="12" fill="#111">Cell line</text>
<text x="150.7" y="558.9" font-size="12" fill="#111">PDX</text>
<text x="150.7" y="575.4" font-size="12" fill="#111">Primary tumor tissue</text>
<text x="150.7" y="592.0" font-size="12" fill="#111">Normal tissues</text>
<rect x="139.2" y="536.8" width="6.5" height="6.0" fill="#ee1111"/>
<rect x="139.4" y="553.1" width="6.4" height="6.0" fill="#1010dd"/>
<polygon points="139.2,569.3 145.6,569.3 139.2,575.9" fill="#11cc11"/><polygon points="145.6,569.3 145.6,575.9 139.2,575.9" fill="#f0f000"/>
<polygon points="139.2,586 145.6,586 139.2,592.6" fill="#111"/><polygon points="145.6,586 145.6,592.6 139.2,592.6" fill="#999"/>
<text x="301.8" y="543.1" font-size="12" fill="#111">Normal</text>
<rect x="290.4" y="537.2" width="6.2" height="5.6" fill="#111"/>
<text x="301.8" y="559.3" font-size="12" fill="#111">PDX/cell line</text>
<rect x="290.4" y="553.4" width="6.2" height="5.6" fill="#9a7ae8"/>
<text x="301.8" y="575.4" font-size="12" fill="#111">PDX</text>
<rect x="290.4" y="569.5" width="6.2" height="5.6" fill="#1010dd"/>
<defs><linearGradient id="ck" x1="0" x2="1" y1="0" y2="0"><stop offset="0" stop-color="#00ff22"/><stop offset="0.5" stop-color="#000"/><stop offset="1" stop-color="#ff0000"/></linearGradient></defs>
<rect x="434.5" y="512.3" width="85.5" height="24.7" fill="url(#ck)"/>
<line x1="434.5" y1="537.2" x2="520" y2="537.2" stroke="#222" stroke-width="0.8"/>
<line x1="437.4" y1="537" x2="437.4" y2="541.6" stroke="#222" stroke-width="1"/>
<line x1="450.6" y1="537" x2="450.6" y2="541.6" stroke="#222" stroke-width="1"/>
<line x1="463.8" y1="537" x2="463.8" y2="541.6" stroke="#222" stroke-width="1"/>
<line x1="477.1" y1="537" x2="477.1" y2="541.6" stroke="#222" stroke-width="1"/>
<line x1="489.9" y1="537" x2="489.9" y2="541.6" stroke="#222" stroke-width="1"/>
<line x1="503.6" y1="537" x2="503.6" y2="541.6" stroke="#222" stroke-width="1"/>
<line x1="516.4" y1="537" x2="516.4" y2="541.6" stroke="#222" stroke-width="1"/>
<text x="437.4" y="554.4" font-size="12" text-anchor="middle" fill="#111">-6</text>
<text x="463.0" y="554.4" font-size="12" text-anchor="middle" fill="#111">-2</text>
<text x="490.0" y="554.4" font-size="12" text-anchor="middle" fill="#111">2</text>
<text x="516.4" y="554.4" font-size="12" text-anchor="middle" fill="#111">6</text>
<text x="475" y="570" font-size="11.8" text-anchor="middle" fill="#111">Raw Z-score</text>
</svg></body></html>
